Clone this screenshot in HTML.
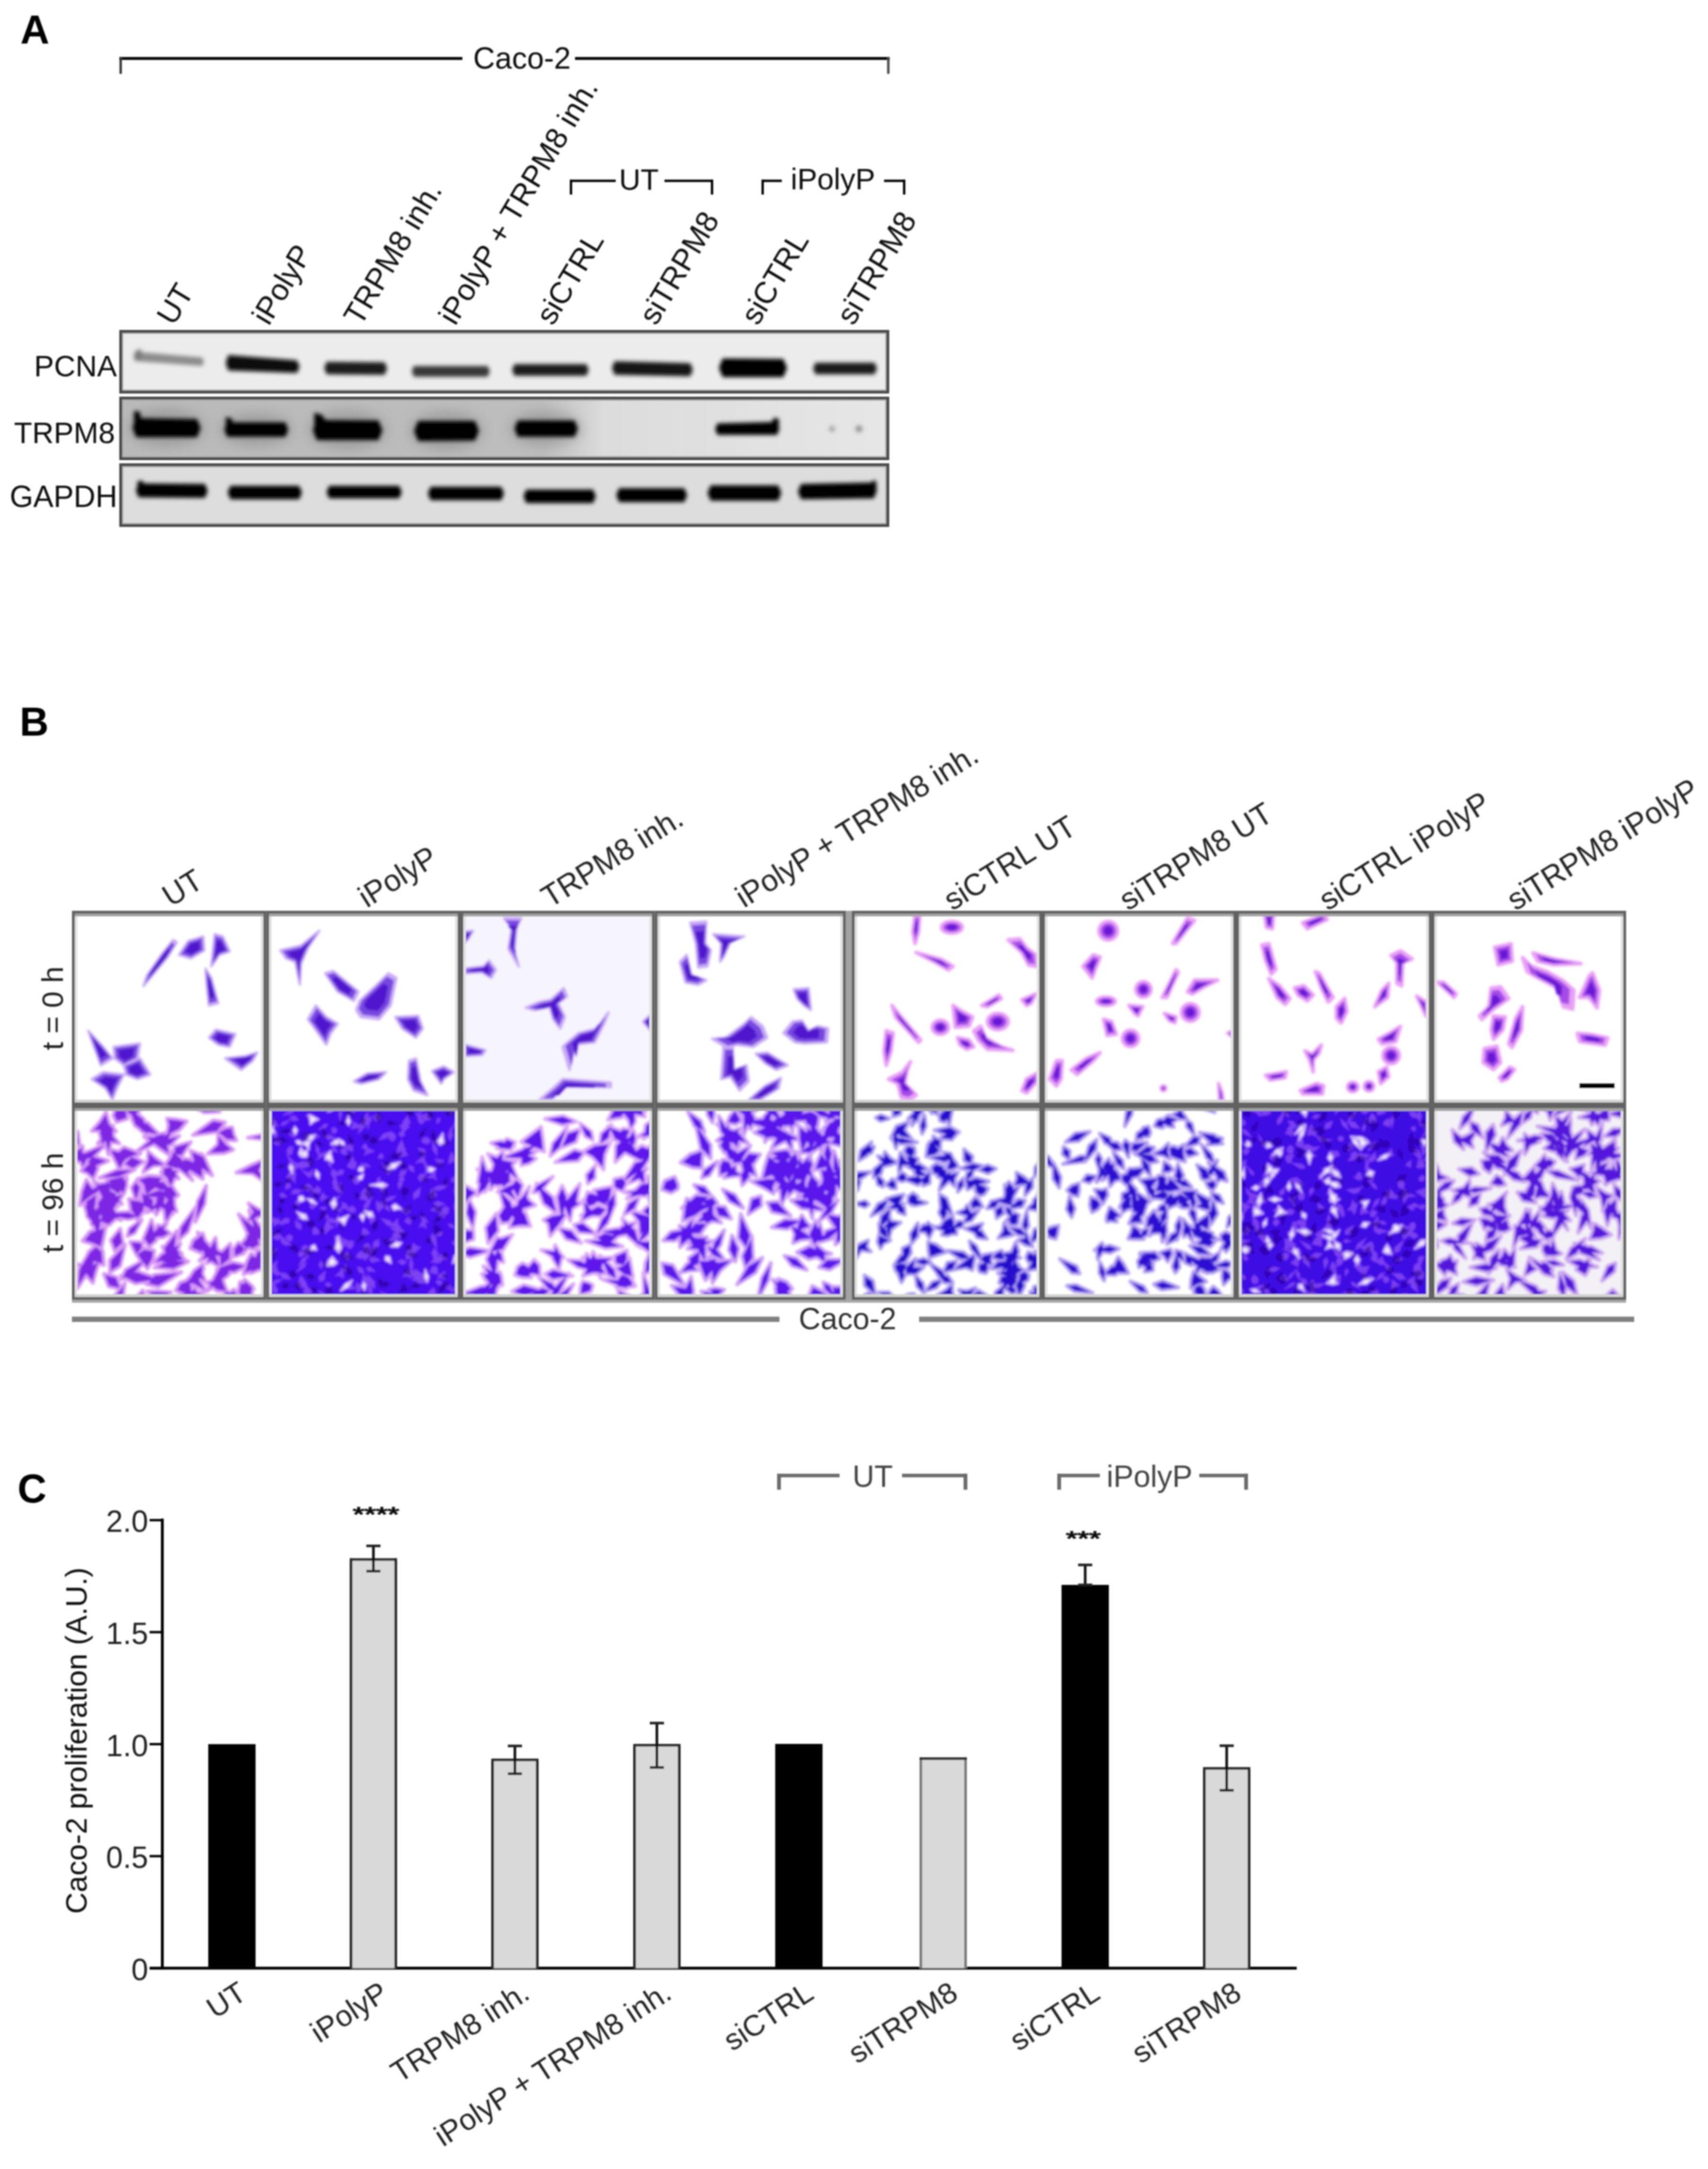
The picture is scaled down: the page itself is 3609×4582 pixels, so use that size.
<!DOCTYPE html>
<html><head><meta charset="utf-8"><title>Figure</title>
<style>html,body{margin:0;padding:0;background:#fff;} body{width:3609px;height:4582px;overflow:hidden;font-family:"Liberation Sans", sans-serif;} svg{display:block;}</style>
</head><body>
<svg width="3609" height="4582" viewBox="0 0 3609 4582" font-family='"Liberation Sans", sans-serif'>
<rect x="0" y="0" width="3609" height="4582" fill="#fff"/>
<defs><filter id="soft" x="0" y="0" width="100%" height="100%" filterUnits="userSpaceOnUse"><feGaussianBlur stdDeviation="1.6"/></filter></defs>
<g filter="url(#soft)">
<text x="43" y="92" font-size="85" text-anchor="start" font-weight="bold" fill="#000">A</text>
<line x1="252" y1="123.5" x2="977" y2="123.5" stroke="#000" stroke-width="6" stroke-linecap="butt"/>
<line x1="1215" y1="123.5" x2="1880" y2="123.5" stroke="#000" stroke-width="6" stroke-linecap="butt"/>
<line x1="255" y1="120.5" x2="255" y2="156" stroke="#333" stroke-width="5" stroke-linecap="butt"/>
<line x1="1877" y1="120.5" x2="1877" y2="156" stroke="#444" stroke-width="5" stroke-linecap="butt"/>
<text x="1103" y="145" font-size="64" text-anchor="middle" font-weight="normal" fill="#111">Caco-2</text>
<line x1="1204" y1="382" x2="1301" y2="382" stroke="#000" stroke-width="5" stroke-linecap="butt"/>
<line x1="1206.5" y1="379.5" x2="1206.5" y2="411" stroke="#000" stroke-width="5" stroke-linecap="butt"/>
<line x1="1404" y1="382" x2="1507" y2="382" stroke="#000" stroke-width="5" stroke-linecap="butt"/>
<line x1="1504.5" y1="379.5" x2="1504.5" y2="411" stroke="#000" stroke-width="5" stroke-linecap="butt"/>
<text x="1350" y="401" font-size="63" text-anchor="middle" font-weight="normal" fill="#111">UT</text>
<line x1="1609" y1="382" x2="1652" y2="382" stroke="#000" stroke-width="5" stroke-linecap="butt"/>
<line x1="1611.5" y1="379.5" x2="1611.5" y2="411" stroke="#000" stroke-width="5" stroke-linecap="butt"/>
<line x1="1868" y1="382" x2="1913" y2="382" stroke="#000" stroke-width="5" stroke-linecap="butt"/>
<line x1="1910.5" y1="379.5" x2="1910.5" y2="411" stroke="#000" stroke-width="5" stroke-linecap="butt"/>
<text x="1760" y="400" font-size="63" text-anchor="middle" font-weight="normal" fill="#111">iPolyP</text>
<text x="367" y="690" font-size="64" text-anchor="start" font-weight="normal" fill="#111" transform="rotate(-59 367 690)">UT</text>
<text x="568" y="690" font-size="64" text-anchor="start" font-weight="normal" fill="#111" transform="rotate(-59 568 690)">iPolyP</text>
<text x="762" y="691" font-size="64" text-anchor="start" font-weight="normal" fill="#111" transform="rotate(-59 762 691)">TRPM8 inh.</text>
<text x="962" y="690" font-size="64" text-anchor="start" font-weight="normal" fill="#111" transform="rotate(-59 962 690)">iPolyP + TRPM8 inh.</text>
<text x="1168" y="690" font-size="64" text-anchor="start" font-weight="normal" fill="#111" transform="rotate(-59 1168 690)">siCTRL</text>
<text x="1386" y="690" font-size="64" text-anchor="start" font-weight="normal" fill="#111" transform="rotate(-59 1386 690)">siTRPM8</text>
<text x="1601" y="690" font-size="64" text-anchor="start" font-weight="normal" fill="#111" transform="rotate(-59 1601 690)">siCTRL</text>
<text x="1803" y="690" font-size="64" text-anchor="start" font-weight="normal" fill="#111" transform="rotate(-59 1803 690)">siTRPM8</text>
<text x="247" y="795" font-size="63" text-anchor="end" font-weight="normal" fill="#111">PCNA</text>
<text x="243" y="936" font-size="63" text-anchor="end" font-weight="normal" fill="#111">TRPM8</text>
<text x="248" y="1071" font-size="64" text-anchor="end" font-weight="normal" fill="#111">GAPDH</text>
<defs><linearGradient id="trpbg" x1="0" x2="1" y1="0" y2="0"><stop offset="0" stop-color="#b9b9b9"/><stop offset="0.55" stop-color="#bdbdbd"/><stop offset="0.63" stop-color="#dcdcdc"/><stop offset="1" stop-color="#e6e6e6"/></linearGradient><filter id="bblur" x="-10%" y="-50%" width="120%" height="200%"><feGaussianBlur stdDeviation="4"/></filter><filter id="hblur" x="-20%" y="-100%" width="140%" height="300%"><feGaussianBlur stdDeviation="12"/></filter></defs>
<rect x="252" y="697" width="1627" height="134.4" fill="#ececec"/>
<rect x="252" y="837.9" width="1627" height="134.1" fill="url(#trpbg)"/>
<rect x="252" y="978.7" width="1627" height="134.5" fill="#dddddd"/>
<g filter="url(#hblur)" opacity="0.55">
<ellipse cx="352.0" cy="903.5" rx="81.0" ry="39.5" fill="#888"/>
<ellipse cx="541.5" cy="907.5" rx="76.5" ry="34.5" fill="#888"/>
<ellipse cx="734.5" cy="908.5" rx="82.5" ry="40.5" fill="#888"/>
<ellipse cx="943.5" cy="910.0" rx="77.5" ry="40.5" fill="#888"/>
<ellipse cx="1154.0" cy="905.5" rx="76.0" ry="36.5" fill="#888"/>
</g>
<g filter="url(#bblur)">
<polygon points="287.4,746 425.6,758 428,764 425.6,770 287.4,760 285,753" fill="#8c8c8c" stroke="#8c8c8c" stroke-width="6" stroke-linejoin="round"/>
<polygon points="484.2,753 625.8,764 630,774.5 625.8,785 484.2,780 480,766.5" fill="#0a0a0a" stroke="#0a0a0a" stroke-width="6" stroke-linejoin="round"/>
<polygon points="692.2,767 810.8,768 815,778.5 810.8,789 692.2,788 688,777.5" fill="#1c1c1c" stroke="#1c1c1c" stroke-width="6" stroke-linejoin="round"/>
<polygon points="876.4,776 1028.6,776 1032,784.5 1028.6,793 876.4,793 873,784.5" fill="#383838" stroke="#383838" stroke-width="6" stroke-linejoin="round"/>
<polygon points="1088.8,772 1237.2,772 1241,781.5 1237.2,791 1088.8,791 1085,781.5" fill="#1c1c1c" stroke="#1c1c1c" stroke-width="6" stroke-linejoin="round"/>
<polygon points="1300.4,766 1456.6,770 1461,781 1456.6,792 1300.4,789 1296,777.5" fill="#121212" stroke="#121212" stroke-width="6" stroke-linejoin="round"/>
<polygon points="1528.6,760 1653.4,761 1660,777.5 1653.4,794 1528.6,794 1522,777" fill="#050505" stroke="#050505" stroke-width="6" stroke-linejoin="round"/>
<polygon points="1724.8,769 1846.2,769 1850,778.5 1846.2,788 1724.8,788 1721,778.5" fill="#1c1c1c" stroke="#1c1c1c" stroke-width="6" stroke-linejoin="round"/>
<polygon points="289.6,886 414.4,888 421,904.5 414.4,921 289.6,921 283,903.5" fill="#000" stroke="#000" stroke-width="6" stroke-linejoin="round"/>
<polygon points="482,895 601,895 606,907.5 601,920 482,920 477,907.5" fill="#000" stroke="#000" stroke-width="6" stroke-linejoin="round"/>
<polygon points="671.2,890 797.8,891 805,909 797.8,927 671.2,927 664,908.5" fill="#000" stroke="#000" stroke-width="6" stroke-linejoin="round"/>
<polygon points="885.2,892 1001.8,892 1009,910 1001.8,928 885.2,929 878,910.5" fill="#000" stroke="#000" stroke-width="6" stroke-linejoin="round"/>
<polygon points="1095.8,891 1212.2,891 1218,905.5 1212.2,920 1095.8,920 1090,905.5" fill="#000" stroke="#000" stroke-width="6" stroke-linejoin="round"/>
<polygon points="1517.8,897 1640.2,894 1644,905 1640.2,916 1517.8,916 1514,906.5" fill="#000" stroke="#000" stroke-width="6" stroke-linejoin="round"/>
<polygon points="294.8,1024 431.2,1025 436,1037 431.2,1049 294.8,1048 290,1036" fill="#000" stroke="#000" stroke-width="6" stroke-linejoin="round"/>
<polygon points="488.6,1029 630.4,1029 635,1040.5 630.4,1052 488.6,1052 484,1040.5" fill="#000" stroke="#000" stroke-width="6" stroke-linejoin="round"/>
<polygon points="697.2,1029 841.8,1029 846,1039.5 841.8,1050 697.2,1050 693,1039.5" fill="#000" stroke="#000" stroke-width="6" stroke-linejoin="round"/>
<polygon points="911.6,1031 1057.4,1031 1062,1042.5 1057.4,1054 911.6,1054 907,1042.5" fill="#000" stroke="#000" stroke-width="6" stroke-linejoin="round"/>
<polygon points="1113.6,1037 1251.4,1037 1256,1048.5 1251.4,1060 1113.6,1060 1109,1048.5" fill="#000" stroke="#000" stroke-width="6" stroke-linejoin="round"/>
<polygon points="1309.8,1034 1444.2,1034 1449,1046 1444.2,1058 1309.8,1058 1305,1046" fill="#000" stroke="#000" stroke-width="6" stroke-linejoin="round"/>
<polygon points="1503.4,1028 1642.6,1028 1648,1041.5 1642.6,1055 1503.4,1055 1498,1041.5" fill="#000" stroke="#000" stroke-width="6" stroke-linejoin="round"/>
<polygon points="1694.4,1025 1844.6,1022 1850,1036 1844.6,1050 1694.4,1052 1689,1038.5" fill="#000" stroke="#000" stroke-width="6" stroke-linejoin="round"/>
<polygon points="285,742 298,737 300,760 285,760" fill="#7a7a7a"/>
<polygon points="283,868 296,870 300,905 283,905" fill="#000"/>
<polygon points="477,881 490,884 494,905 477,905" fill="#000"/>
<polygon points="664,872 680,876 700,905 664,905" fill="#000"/>
<polygon points="1626,898 1636,882 1646,885 1646,910" fill="#000"/>
<polygon points="1830,1030 1846,1014 1852,1018 1852,1040" fill="#000"/>
<polygon points="290,1017 302,1015 306,1040 290,1040" fill="#000"/>
<circle cx="1758" cy="906" r="6" fill="#9a9a9a"/><circle cx="1815" cy="906" r="7" fill="#8a8a8a"/>
</g>
<rect x="258" y="703" width="1615" height="122.4" fill="none" stroke="#a8a8a8" stroke-width="5"/>
<rect x="255" y="700" width="1621" height="128.4" fill="none" stroke="#4a4a4a" stroke-width="6"/>
<rect x="258" y="843.9" width="1615" height="122.1" fill="none" stroke="#a8a8a8" stroke-width="5"/>
<rect x="255" y="840.9" width="1621" height="128.1" fill="none" stroke="#4a4a4a" stroke-width="6"/>
<rect x="258" y="984.7" width="1615" height="122.5" fill="none" stroke="#a8a8a8" stroke-width="5"/>
<rect x="255" y="981.7" width="1621" height="128.5" fill="none" stroke="#4a4a4a" stroke-width="6"/>
<text x="41.5" y="1553.5" font-size="85" text-anchor="start" font-weight="bold" fill="#000">B</text>
<defs><filter id="cblur" x="-5%" y="-5%" width="110%" height="110%"><feGaussianBlur stdDeviation="2.2"/></filter></defs>
<clipPath id="cp0_0"><rect x="158" y="1930" width="398.5" height="399"/></clipPath>
<g clip-path="url(#cp0_0)">
<rect x="158" y="1930" width="398.5" height="399" fill="#fff"/>
<g filter="url(#cblur)">
<g fill="rgb(200,170,245)" stroke="rgb(200,170,245)" stroke-width="5" stroke-linejoin="round">
<polygon points="303.1,2082.8 310.3,2060.9 344.4,2012.3 366.2,1985.6 373.5,1990.5 354.1,2022 317.6,2065.8"/>
<polygon points="378.4,2017.2 397.8,1988 429.4,1978.3 431.8,2007.5 402.7,2024.5"/>
<polygon points="453.7,1973.4 470.7,1978.3 485.3,2009.9 463.4,2017.2 446.4,2041.5"/>
<polygon points="434.3,2046.3 446.4,2065.8 461,2119.2 441.5,2124.1 436.7,2080.3"/>
<polygon points="186.4,2177.5 218,2211.5 237.5,2235.8 213.2,2250.4 198.6,2211.5"/>
<polygon points="239.9,2211.5 295.8,2204.3 290.9,2235.8 261.8,2250.4 242.3,2235.8"/>
<polygon points="261.8,2250.4 295.8,2235.8 317.6,2269.9 290.9,2279.6 266.6,2269.9"/>
<polygon points="193.7,2279.6 218,2265 261.8,2269.9 247.2,2299 237.5,2323.3 222.9,2299"/>
<polygon points="441.5,2192.1 456.1,2175.1 497.4,2184.8 485.3,2211.5 461,2206.7"/>
<polygon points="475.6,2235.8 519.3,2231 543.6,2223.7 533.9,2240.7 509.6,2260.1"/>
</g>
<g fill="rgb(120,70,225)">
<polygon points="307.3,2076.6 313.7,2057.4 343.7,2014.6 362.9,1991.1 369.3,1995.4 352.2,2023.2 320.1,2061.6"/>
<polygon points="381.9,2015.5 399,1989.8 426.8,1981.3 429,2006.9 403.3,2021.9"/>
<polygon points="454.9,1977.1 469.9,1981.4 482.7,2009.2 463.5,2015.6 448.5,2037"/>
<polygon points="435.4,2051.2 446.1,2068.3 458.9,2115.4 441.8,2119.7 437.6,2081.2"/>
<polygon points="189.4,2182.3 217.2,2212.2 234.3,2233.6 212.9,2246.5 200,2212.2"/>
<polygon points="243,2213.5 292.2,2207.1 287.9,2234.8 262.3,2247.7 245.2,2234.8"/>
<polygon points="264.7,2251.7 294.7,2238.9 313.9,2268.8 290.4,2277.4 269,2268.8"/>
<polygon points="198.1,2280.7 219.5,2267.9 258,2272.2 245.1,2297.8 236.6,2319.2 223.8,2297.8"/>
<polygon points="444.8,2192.3 457.6,2177.4 493.9,2185.9 483.2,2209.4 461.9,2205.2"/>
<polygon points="480.5,2236.1 518.9,2231.9 540.3,2225.4 531.8,2240.4 510.4,2257.5"/>
</g>
<g fill="rgb(80,20,205)">
<polygon points="317.2,2062.2 321.6,2049.1 342,2020 355.1,2003.9 359.5,2006.8 347.8,2025.8 326,2052"/>
<polygon points="390.2,2011.5 401.9,1994.1 420.8,1988.2 422.3,2005.7 404.8,2015.9"/>
<polygon points="457.8,1985.7 468,1988.6 476.7,2007.6 463.6,2011.9 453.4,2026.5"/>
<polygon points="438.1,2062.7 445.4,2074.3 454.2,2106.4 442.5,2109.3 439.6,2083.1"/>
<polygon points="196.2,2193.5 215.1,2213.9 226.8,2228.5 212.2,2237.2 203.4,2213.9"/>
<polygon points="250.4,2218 283.9,2213.6 281,2232.5 263.5,2241.3 251.8,2232.5"/>
<polygon points="271.7,2254.7 292.1,2245.9 305.2,2266.4 289.2,2272.2 274.6,2266.4"/>
<polygon points="208.3,2283.5 222.9,2274.7 249.1,2277.6 240.4,2295.1 234.5,2309.7 225.8,2295.1"/>
<polygon points="452.2,2192.9 461,2182.7 485.8,2188.5 478.5,2204.5 463.9,2201.6"/>
<polygon points="491.9,2236.8 518.1,2233.9 532.7,2229.5 526.9,2239.7 512.3,2251.4"/>
</g></g>
</g>
<clipPath id="cp96_0"><rect x="158" y="2341" width="398.5" height="399"/></clipPath>
<g clip-path="url(#cp96_0)">
<rect x="158" y="2341" width="398.5" height="399" fill="#fff"/>
<g filter="url(#cblur)">
<g fill="rgb(210,140,242)" stroke="rgb(210,140,242)" stroke-width="8" stroke-linejoin="round" opacity="0.9">
<polygon points="217.6,2424.3 210,2391.7 219.7,2365.4 227.6,2392.3"/>
<polygon points="229,2439.2 219.7,2400.2 228,2364.8 237.2,2400"/>
<polygon points="285.7,2361.4 269.7,2352.7 263.1,2332.5 280.1,2326.4 288,2331.5 296,2343.3"/>
<polygon points="245.4,2390.2 220.6,2389.1 193.8,2389.1 210.4,2370.7 224.1,2349.6 230.6,2373.4"/>
<polygon points="246.3,2370.1 239,2356.7 244.4,2342.3 261.3,2343.7 268.8,2346.5 268.6,2363.5"/>
<polygon points="314.8,2399.6 284.8,2377.6 270,2336.5 303.9,2364"/>
<polygon points="341.9,2420.5 352.3,2405.9 378.9,2399.5 359.8,2419.1"/>
<polygon points="338.3,2398.8 301.4,2391.3 279.2,2366.6 312,2371.9"/>
<polygon points="358.1,2440.2 335.6,2425.1 304.3,2401.2 339.2,2401 364.1,2388.7 354.5,2416.4"/>
<polygon points="352.1,2400 356.2,2375.9 352.9,2363 372.3,2364.6 394.5,2368.9 379.8,2386.5"/>
<polygon points="464.1,2348.6 431.4,2349.9 407.6,2336.6 434.7,2334.1"/>
<polygon points="499.3,2409.2 479.3,2408.2 458.1,2391.7 476.3,2383.3 490.5,2381.5 493.7,2396.5"/>
<polygon points="407.8,2397.8 451,2366.8 475.6,2371 460.5,2390.9"/>
<polygon points="169.4,2453.3 183.3,2434 224.4,2416.8 192.7,2448"/>
<polygon points="144.8,2439.7 160.2,2432.7 174.7,2421 174.6,2441.7 179,2457.8 161.2,2452.5"/>
<polygon points="183.1,2454.9 194.6,2441.9 229,2452.4 195.9,2466.6"/>
<polygon points="168.2,2419.9 142,2406.6 141.5,2382.4 164.2,2390.8"/>
<polygon points="175.3,2468.4 168.5,2448.8 155.6,2426.4 178.2,2435.9 197.2,2429.5 184.6,2448.3"/>
<polygon points="197.6,2490.3 183.8,2477.6 171.4,2473.5 185.2,2459.2 200.7,2452.3 206.9,2467.3"/>
<polygon points="252.9,2471.5 243,2451.3 230.4,2427.7 255.4,2433.3 278.9,2438.7 262.6,2454.2"/>
<polygon points="261.5,2458.5 277.6,2442.8 303.1,2453.9 280.6,2470.3"/>
<polygon points="252,2415.9 229.9,2410.9 206.3,2415.1 222.7,2397.4 239,2378.1 239.1,2400.5"/>
<polygon points="244.3,2437.7 261.5,2423.5 296.8,2437 261.8,2451.4"/>
<polygon points="349.7,2461.3 324.3,2462.6 302.3,2476.3 312.6,2451.5 312.9,2432.2 327.7,2445.6"/>
<polygon points="285.2,2435.6 329.7,2398.3 353.3,2392 337.7,2410.8"/>
<polygon points="398.1,2465.8 373.7,2470.9 347.9,2462.2 360.1,2444.7 365.3,2430.8 382.5,2444.8"/>
<polygon points="406.8,2493.4 371.9,2463.2 363.2,2442 382.7,2454"/>
<polygon points="383.5,2461.3 409.4,2451.7 425.5,2437.2 429.6,2462.7 428.4,2490.7 407.3,2477.5"/>
<polygon points="366.6,2439.3 368.5,2422.1 403.1,2412.5 383.5,2442.7"/>
<polygon points="397.9,2479.7 383.9,2469.5 377.5,2458 389.6,2447.5 405.9,2450.5 408.2,2464.9"/>
<polygon points="448.4,2483 409.7,2459.5 402.7,2430.8 430.2,2441.6"/>
<polygon points="439.2,2437.1 460.3,2417.7 460.9,2396.1 477.6,2416.5 492.6,2428.7 473.7,2436"/>
<polygon points="523.8,2403.3 577.7,2392.9 596.9,2400.2 578.4,2409.1"/>
<polygon points="563.7,2500.2 534.2,2479.1 499.5,2477.1 530.8,2461.5 559.3,2449.4 547.7,2472.4"/>
<polygon points="249,2549.3 217.3,2534.9 198,2495 236.7,2516.7"/>
<polygon points="204.6,2507.3 218.7,2501.4 231.1,2492.6 232.7,2512.4 233.1,2525.5 217.7,2524.5"/>
<polygon points="212.6,2515.6 192.4,2527.8 168.5,2546.2 172.9,2517.3 182.6,2492.2 195.5,2510"/>
<polygon points="257.6,2543.9 232.2,2536.8 204.2,2500.9 245.2,2520.6"/>
<polygon points="261.3,2523 252.1,2513 233.4,2510.1 253.7,2500.8 268,2487 267,2506.9"/>
<polygon points="287.7,2537.3 278.2,2508.6 287.4,2495.7 296.8,2508.4"/>
<polygon points="209.7,2488.3 247.1,2471.6 284.6,2471.1 250.7,2487"/>
<polygon points="223,2515.9 248,2496.8 267.2,2496.1 253.9,2510"/>
<polygon points="204.9,2571.9 223.7,2537.8 263.9,2517.5 240.3,2555.9"/>
<polygon points="190,2514.6 211,2500.8 265,2496.1 215,2517.1"/>
<polygon points="251,2525.8 234.1,2514.2 227,2490.8 247.5,2486.6 263.3,2483.4 263.4,2506.1"/>
<polygon points="377.7,2489.8 346.4,2486 343.4,2467.3 361.7,2462.6"/>
<polygon points="325.3,2559.6 301.5,2547.9 298.2,2517.1 324.7,2533.1"/>
<polygon points="310.3,2561.5 330.8,2537.4 352.5,2511.4 347.6,2540.3 364.9,2564.9 336.9,2549.7"/>
<polygon points="295.9,2527.7 334.4,2513.5 362.8,2518.5 336.8,2531"/>
<polygon points="350.5,2535.1 345,2518.9 345.7,2507.6 362.6,2504.1 377,2525.2 363,2534.4"/>
<polygon points="330,2566.5 329,2532.7 343.8,2514.5 347.6,2537.7"/>
<polygon points="361.3,2511.5 341.3,2517 293.7,2492.3 347.2,2496.4"/>
<polygon points="308.1,2527.9 302.4,2502.3 290,2490.7 314.9,2483.5 346,2486.3 332.1,2508.7"/>
<polygon points="412.9,2581.5 417.9,2538 435.7,2504.6 432.5,2542.3"/>
<polygon points="360.3,2509.5 352,2487.6 339.8,2475.7 358.9,2472.6 375.8,2471.3 370.5,2486.6"/>
<polygon points="210.7,2569.6 183.3,2563 178,2544.3 197.5,2544.7"/>
<polygon points="174.4,2621.3 190.3,2601.3 223.5,2591.3 218.7,2616.9 214.3,2636.1 193.3,2626.8"/>
<polygon points="183.5,2556.9 180.4,2537.4 204.6,2521.6 202.1,2550.4"/>
<polygon points="205.8,2625 197.2,2577.3 204.4,2544.7 212.7,2577"/>
<polygon points="233.3,2572.2 217.2,2563.7 209.3,2535.7 231.8,2554.1"/>
<polygon points="197.1,2586.4 203.5,2554.6 225.1,2529.3 218.4,2561.9"/>
<polygon points="205.7,2579.1 225.2,2561.9 248.2,2571.6 229.8,2588.6"/>
<polygon points="212.2,2576.1 213.1,2552 239.1,2532.1 233.3,2564.4"/>
<polygon points="202.2,2590.4 183.7,2569.2 182.2,2544.4 199.3,2562.4"/>
<polygon points="211.1,2601.2 193.2,2586.6 190.5,2548 214.5,2578.4"/>
<polygon points="238.7,2557.8 217.1,2556.9 206.9,2557.5 204.8,2540.7 221.2,2519.5 231.7,2537.1"/>
<polygon points="295.8,2569.5 271.6,2575.6 211.1,2564.1 272.6,2560.3"/>
<polygon points="255.9,2577.5 218.9,2566.1 211.3,2542.9 235.7,2544.5"/>
<polygon points="290.5,2577.1 276.6,2558.9 272.3,2532.8 294.5,2535.5 307.8,2541 304.1,2559"/>
<polygon points="269.1,2611.2 273.8,2595.3 299.4,2577 284.3,2604.7"/>
<polygon points="345.6,2557 352.4,2544.7 361.5,2535.5 368.7,2546 373.2,2559 359.4,2559.3"/>
<polygon points="350,2584.7 345.7,2547.4 366.4,2509.8 369.5,2552.6"/>
<polygon points="378.4,2618.4 381.2,2593.5 413.7,2550.2 397.1,2601.7"/>
<polygon points="550.1,2622.5 527.6,2615.3 504.2,2564.9 548.1,2599"/>
<polygon points="559.7,2631.5 538.5,2605.8 526.4,2556.7 554.8,2598.6"/>
<polygon points="520.8,2583.2 535.2,2560.3 525.3,2542.1 546.1,2554.9 570.8,2561.8 547.8,2570.1"/>
<polygon points="175.6,2673.4 180.4,2662.6 200.8,2655.3 198.5,2672.4 196.5,2680.8 184.2,2680.5"/>
<polygon points="219.5,2672.5 196,2664.9 181.8,2670.1 186.6,2645.4 203.3,2630.4 217.1,2642.2"/>
<polygon points="242.4,2641.8 234.1,2619.9 253.9,2595.7 260,2626.4"/>
<polygon points="232.3,2687.5 232,2662.4 264.4,2629.9 253.8,2674.6"/>
<polygon points="317.4,2621.6 325.7,2600 352.9,2583.1 338.3,2611.5"/>
<polygon points="288.8,2651.1 281.6,2637.9 275.1,2623.6 291.7,2623.8 300.4,2625.7 300.8,2637.2"/>
<polygon points="325.5,2667.3 340.4,2650.7 363.7,2636.7 358,2657.5 360.7,2675 344,2664.7"/>
<polygon points="350,2660.8 345.6,2636.8 373.5,2600.4 369.4,2646.1"/>
<polygon points="359.1,2605.4 345.1,2613.8 327.1,2614.9 330.2,2600.2 333.7,2587.5 347,2595.5"/>
<polygon points="336.6,2677.4 360.2,2638.1 381.1,2626.7 372.5,2648.9"/>
<polygon points="348.7,2668.4 349.1,2648.9 359.3,2619.9 374.4,2643 391.9,2662.5 365.3,2665.4"/>
<polygon points="311.5,2680.3 296,2661.8 287.8,2648.2 304.2,2637.4 325.8,2641.7 323.7,2659.8"/>
<polygon points="384.4,2648.5 363.9,2648.9 342.9,2633.6 368.8,2635.1"/>
<polygon points="315.2,2633.9 302.7,2617.6 320.4,2577 330.5,2620.1"/>
<polygon points="486.9,2655.7 451.6,2653.3 421.3,2663.5 440.6,2639.5 455.3,2614.6 458.9,2640.4"/>
<polygon points="437.6,2668.6 440.5,2653.7 442.5,2633.3 455.4,2648.9 465.7,2676.9 445.9,2663.8"/>
<polygon points="443,2636.6 424.4,2646.6 401.8,2637 407.8,2620.4 428.4,2605.3 435.6,2627.9"/>
<polygon points="464.8,2677.6 463,2649.6 486.7,2627.4 486.5,2659.9"/>
<polygon points="453.2,2670.2 430.8,2652.9 418,2603.2 451.7,2641.9"/>
<polygon points="518.5,2638.2 511.5,2648.6 494.6,2654.6 493.9,2638.4 503.7,2625.1 514.2,2632.7"/>
<polygon points="531.2,2678.4 543.4,2642.8 562.4,2640 563.5,2659.2"/>
<polygon points="530.1,2689.5 528.8,2673.9 539.7,2651.3 548.5,2668.9 560.3,2678.1 542.7,2684"/>
<polygon points="514.3,2691.7 521.4,2665.8 530.2,2648.2 546.8,2658.8 564.7,2664 546.1,2681.1"/>
<polygon points="549.9,2630.1 535.7,2639 506.6,2631.7 521.9,2613.2 533.6,2598.5 546.6,2616.3"/>
<polygon points="514.9,2648.2 521.8,2609.1 535,2598.5 537.1,2615.3"/>
<polygon points="196.2,2710.2 183.4,2695.2 164.3,2670.6 191.6,2677.7 211.1,2660.6 201.4,2689.2"/>
<polygon points="163.4,2721.6 166.6,2683.2 190.2,2642.3 184.2,2689.2"/>
<polygon points="254.8,2722.6 229.6,2717.3 219.5,2691.2 246.6,2698.2"/>
<polygon points="235.1,2777.6 238.2,2742.7 263.8,2710.6 258.2,2751.2"/>
<polygon points="339.2,2702.8 285.9,2711.1 255.2,2695.3 288.2,2685.3"/>
<polygon points="256.2,2702.1 265.4,2682.5 309.2,2659.9 277.4,2697.5"/>
<polygon points="326.4,2677.8 363.6,2660.4 397.9,2664.6 367.4,2680.8"/>
<polygon points="307.5,2762.7 292.3,2755.1 277.8,2753.2 289.3,2739.9 301.4,2725.9 306.4,2743.3"/>
<polygon points="309,2712.7 325.3,2693.2 383.4,2687.3 333.9,2718.3"/>
<polygon points="345.4,2766 330.9,2744 311.4,2728 335.9,2727.8 361.4,2729.8 344.7,2743.7"/>
<polygon points="370.1,2743.8 396.8,2726.3 429.5,2731.9 401.5,2749.8"/>
<polygon points="392.7,2732.4 405.4,2726.1 412.2,2721.4 418.1,2732.7 416.8,2746.2 404.8,2744.4"/>
<polygon points="371.5,2726.4 380.1,2709.9 401.9,2702.9 405,2719.7 406,2738.2 385.7,2731.3"/>
<polygon points="436.1,2728.1 408.3,2712.5 388.5,2710.5 403.2,2695.8 430.6,2679.1 421.3,2704.3"/>
<polygon points="457.6,2682 492.4,2667 522.1,2673.6 495,2687.6"/>
<polygon points="436.9,2728.3 464.6,2675.1 489.2,2666.4 484.7,2692.1"/>
<polygon points="436.2,2710 456.5,2702.5 464.3,2683.9 472.5,2709.5 480,2729.2 459.1,2727.2"/>
<polygon points="401.3,2698.2 410.5,2683.9 429.3,2670.4 426.6,2688.5 434.2,2707.2 415.1,2696.1"/>
<polygon points="474.2,2754.4 477.4,2736.6 494.5,2724 504.5,2738.1 501.3,2756.8 485,2756.2"/>
<polygon points="510.4,2751.4 503.6,2728.4 507.4,2707.8 522.8,2713.4 536.3,2723.1 522.8,2735"/>
<polygon points="530.2,2749.9 510.3,2725.3 516.7,2703 534,2718.5"/>
<polygon points="513.7,2757.4 485.6,2748.5 470.3,2725.3 497,2733.2"/>
</g>
<g fill="rgb(125,40,228)">
<polygon points="217.8,2419.7 211.3,2392 219.6,2369.6 226.2,2392.5"/>
<polygon points="228.9,2433.4 221,2400.3 228,2370.2 235.9,2400.1"/>
<polygon points="284.9,2358.4 271.3,2351 265.7,2333.8 280.2,2328.7 286.8,2333 293.7,2343"/>
<polygon points="241.7,2388.2 220.6,2387.3 197.8,2387.3 212,2371.7 223.6,2353.7 229.1,2373.9"/>
<polygon points="247.6,2367.7 241.4,2356.3 246,2344 260.3,2345.2 266.7,2347.6 266.6,2362"/>
<polygon points="311.6,2395 286.1,2376.3 273.5,2341.4 302.3,2364.8"/>
<polygon points="344.3,2419.1 353.2,2406.7 375.8,2401.2 359.5,2417.9"/>
<polygon points="333.7,2396.3 302.4,2389.9 283.5,2369 311.3,2373.4"/>
<polygon points="355.8,2436 336.7,2423.2 310,2402.8 339.7,2402.7 360.9,2392.2 352.7,2415.7"/>
<polygon points="354.5,2396.5 358,2376 355.1,2365 371.6,2366.4 390.5,2370.1 378,2385"/>
<polygon points="459.7,2347.6 431.8,2348.8 411.6,2337.4 434.7,2335.3"/>
<polygon points="496.8,2407.1 479.8,2406.3 461.8,2392.2 477.3,2385.1 489.4,2383.6 492.1,2396.3"/>
<polygon points="413.9,2395.4 450.6,2369 471.6,2372.6 458.7,2389.5"/>
<polygon points="172.9,2451 184.7,2434.6 219.6,2420 192.6,2446.5"/>
<polygon points="147.9,2439.9 161,2433.9 173.3,2424 173.3,2441.6 177,2455.3 161.9,2450.8"/>
<polygon points="185.7,2454.8 195.5,2443.7 224.7,2452.6 196.6,2464.7"/>
<polygon points="166.1,2416.9 143.8,2405.6 143.4,2385.1 162.6,2392.1"/>
<polygon points="175.5,2464.6 169.7,2447.9 158.8,2428.9 177.9,2436.9 194.1,2431.5 183.4,2447.5"/>
<polygon points="196.6,2487.3 184.9,2476.4 174.4,2473 186.1,2460.8 199.2,2455 204.5,2467.7"/>
<polygon points="253.1,2467.7 244.6,2450.5 234,2430.4 255.2,2435.2 275.1,2439.8 261.3,2453"/>
<polygon points="264.4,2458.2 278,2444.8 299.8,2454.2 280.6,2468.2"/>
<polygon points="249,2414 230.2,2409.7 210.1,2413.3 224.1,2398.2 237.9,2381.8 238,2400.9"/>
<polygon points="247.6,2437.7 262.1,2425.6 292.2,2437.1 262.5,2449.3"/>
<polygon points="345.5,2460.4 323.9,2461.5 305.2,2473.1 313.9,2452 314.2,2435.6 326.8,2447"/>
<polygon points="291.4,2431.6 329.3,2399.9 349.3,2394.6 336,2410.5"/>
<polygon points="394.1,2463.9 373.4,2468.2 351.4,2460.8 361.8,2446 366.2,2434.2 380.8,2446.1"/>
<polygon points="403,2488.8 373.3,2463.2 365.9,2445.2 382.5,2455.4"/>
<polygon points="388.1,2461.7 410.1,2453.5 423.7,2441.2 427.2,2462.8 426.2,2486.6 408.3,2475.4"/>
<polygon points="368.7,2437.8 370.3,2423.2 399.7,2415 383.1,2440.6"/>
<polygon points="397.3,2477 385.4,2468.3 380,2458.5 390.3,2449.6 404.1,2452.2 406,2464.4"/>
<polygon points="444.5,2478.6 411.7,2458.6 405.7,2434.3 429.1,2443.4"/>
<polygon points="443.4,2434.8 461.4,2418.4 461.9,2400 476,2417.3 488.8,2427.7 472.8,2433.9"/>
<polygon points="530.6,2403.1 576.4,2394.2 592.7,2400.4 577,2408"/>
<polygon points="560,2496.1 534.9,2478.2 505.4,2476.5 532.1,2463.2 556.2,2453 546.4,2472.5"/>
<polygon points="245.5,2545.5 218.5,2533.3 202.1,2499.3 235,2517.8"/>
<polygon points="207.3,2507.8 219.4,2502.8 229.9,2495.3 231.2,2512.1 231.6,2523.3 218.5,2522.4"/>
<polygon points="208.8,2516 191.7,2526.4 171.3,2542 175.1,2517.5 183.3,2496.1 194.3,2511.2"/>
<polygon points="254.2,2541.2 232.6,2535.1 208.8,2504.6 243.7,2521.4"/>
<polygon points="260.5,2520.6 252.7,2512.1 236.8,2509.6 254.1,2501.7 266.2,2490 265.3,2506.8"/>
<polygon points="287.6,2533.6 279.6,2509.2 287.4,2498.2 295.4,2509.1"/>
<polygon points="215.5,2487 247.3,2472.8 279.1,2472.3 250.3,2485.9"/>
<polygon points="226.8,2514.2 248,2498 264.3,2497.4 253,2509.2"/>
<polygon points="209.2,2567.9 225.1,2539 259.3,2521.7 239.3,2554.4"/>
<polygon points="194.6,2513.5 212.4,2501.7 258.3,2497.8 215.8,2515.6"/>
<polygon points="250.5,2522.1 236.2,2512.3 230.1,2492.4 247.5,2488.8 260.9,2486.1 261.1,2505.4"/>
<polygon points="374.7,2487.8 348,2484.6 345.5,2468.7 361,2464.7"/>
<polygon points="323.4,2556.6 303.2,2546.6 300.3,2520.4 322.8,2534.1"/>
<polygon points="314.8,2558.9 332.2,2538.4 350.7,2516.3 346.5,2540.8 361.2,2561.8 337.4,2548.9"/>
<polygon points="301.4,2526.9 334.1,2514.9 358.2,2519.1 336.1,2529.7"/>
<polygon points="351.5,2533 346.8,2519.2 347.4,2509.6 361.8,2506.6 374,2524.6 362.2,2532.3"/>
<polygon points="331.1,2562.2 330.3,2533.5 342.8,2518 346.1,2537.7"/>
<polygon points="357.5,2510.5 340.5,2515.1 300,2494.1 345.5,2497.6"/>
<polygon points="309.2,2523.7 304.4,2501.9 293.8,2492.1 315,2486 341.4,2488.3 329.7,2507.4"/>
<polygon points="414.7,2575.5 418.9,2538.5 434.1,2510.2 431.3,2542.2"/>
<polygon points="360.2,2505.6 353.1,2487 342.8,2476.9 359,2474.3 373.4,2473.2 368.8,2486.2"/>
<polygon points="207.9,2567.5 184.6,2561.9 180.1,2545.9 196.7,2546.3"/>
<polygon points="178.6,2620.5 192.1,2603.5 220.3,2594.9 216.3,2616.7 212.5,2633.1 194.7,2625.1"/>
<polygon points="184.8,2554.6 182.2,2538 202.8,2524.6 200.7,2549.1"/>
<polygon points="205.7,2618.4 198.3,2577.9 204.5,2550.1 211.6,2577.6"/>
<polygon points="231.7,2569.8 218.1,2562.6 211.3,2538.8 230.4,2554.4"/>
<polygon points="199.2,2582.1 204.6,2555.1 223,2533.6 217.3,2561.3"/>
<polygon points="209,2578.5 225.5,2563.9 245,2572.2 229.4,2586.6"/>
<polygon points="214.1,2573.1 214.8,2552.6 236.9,2535.7 232,2563.1"/>
<polygon points="200.6,2586.8 184.9,2568.8 183.7,2547.7 198.2,2563.1"/>
<polygon points="209.8,2597.8 194.6,2585.4 192.2,2552.6 212.6,2578.4"/>
<polygon points="235.9,2555.8 217.5,2555.1 208.9,2555.6 207.1,2541.3 221,2523.3 229.9,2538.2"/>
<polygon points="290.8,2569.2 270.3,2574.4 218.9,2564.6 271.1,2561.4"/>
<polygon points="252.1,2574.6 220.6,2564.9 214.2,2545.1 234.9,2546.5"/>
<polygon points="290.6,2573.2 278.7,2557.7 275.1,2535.5 294,2537.8 305.3,2542.4 302.2,2557.7"/>
<polygon points="271,2609.1 275,2595.6 296.7,2580 283.9,2603.5"/>
<polygon points="347.8,2556 353.5,2545.5 361.3,2537.7 367.4,2546.7 371.2,2557.7 359.5,2558"/>
<polygon points="351.2,2579.3 347.5,2547.6 365.1,2515.6 367.7,2552"/>
<polygon points="380.6,2614.3 382.9,2593.1 410.5,2556.3 396.4,2600.1"/>
<polygon points="547.5,2619.2 528.4,2613.1 508.5,2570.3 545.7,2599.2"/>
<polygon points="557.4,2626.5 539.4,2604.7 529.1,2562.9 553.3,2598.5"/>
<polygon points="523.8,2580 536,2560.6 527.7,2545.1 545.3,2556 566.4,2561.9 546.8,2568.9"/>
<polygon points="177.7,2673 181.8,2663.9 199.1,2657.6 197.1,2672.1 195.4,2679.3 184.9,2679.1"/>
<polygon points="216.7,2669.7 196.7,2663.3 184.7,2667.7 188.7,2646.7 202.9,2634 214.6,2644"/>
<polygon points="243.2,2638.7 236.1,2620.1 253,2599.5 258.2,2625.6"/>
<polygon points="234.3,2684 234.1,2662.6 261.6,2635 252.6,2672.9"/>
<polygon points="319.9,2619 326.9,2600.6 350,2586.2 337.6,2610.4"/>
<polygon points="288.9,2648.4 282.9,2637.2 277.3,2625.1 291.4,2625.2 298.8,2626.8 299.2,2636.6"/>
<polygon points="329,2666 341.6,2651.9 361.4,2640 356.6,2657.6 358.9,2672.5 344.7,2663.8"/>
<polygon points="351.4,2657 347.7,2636.7 371.5,2605.7 367.9,2644.6"/>
<polygon points="356.3,2605 344.4,2612.1 329.1,2613.1 331.7,2600.6 334.7,2589.8 346,2596.6"/>
<polygon points="340.5,2673 360.5,2639.6 378.3,2629.9 371,2648.8"/>
<polygon points="351.1,2665.9 351.5,2649.3 360.1,2624.6 373,2644.2 387.8,2660.9 365.2,2663.3"/>
<polygon points="311,2676.5 297.9,2660.7 290.8,2649.2 304.8,2640 323.2,2643.7 321.3,2659.1"/>
<polygon points="381.5,2647.4 364,2647.8 346.3,2634.8 368.2,2636"/>
<polygon points="315.5,2630.6 304.9,2616.7 320,2582.2 328.5,2618.9"/>
<polygon points="481.7,2654 451.8,2652 426,2660.7 442.4,2640.2 454.9,2619 458,2641"/>
<polygon points="439.1,2667 441.6,2654.3 443.3,2636.9 454.3,2650.2 463.1,2674 446.2,2662.9"/>
<polygon points="440.1,2635.5 424.3,2643.9 405.1,2635.8 410.2,2621.7 427.7,2608.9 433.8,2628.1"/>
<polygon points="466.4,2674 464.9,2650.2 485,2631.3 484.8,2658.9"/>
<polygon points="451,2666 432,2651.3 421.1,2609 449.7,2642"/>
<polygon points="516.6,2638.4 510.7,2647.2 496.3,2652.4 495.7,2638.6 504,2627.3 513,2633.7"/>
<polygon points="534,2674.9 544.4,2644.7 560.6,2642.2 561.5,2658.5"/>
<polygon points="531.8,2687.2 530.7,2673.9 540,2654.8 547.4,2669.7 557.5,2677.6 542.5,2682.5"/>
<polygon points="517.8,2688.2 523.8,2666.1 531.3,2651.2 545.4,2660.2 560.6,2664.6 544.8,2679.1"/>
<polygon points="547.3,2628.8 535.2,2636.4 510.5,2630.2 523.5,2614.4 533.4,2601.9 544.5,2617.1"/>
<polygon points="516.7,2643.6 522.6,2610.4 533.8,2601.4 535.6,2615.7"/>
<polygon points="195.5,2706.3 184.6,2693.5 168.4,2672.6 191.6,2678.6 208.1,2664.1 199.9,2688.4"/>
<polygon points="165.3,2716 168,2683.3 188.1,2648.5 183,2688.4"/>
<polygon points="252.3,2720.3 230.8,2715.8 222.2,2693.6 245.2,2699.6"/>
<polygon points="237.1,2772.8 239.8,2743.1 261.6,2715.8 256.8,2750.4"/>
<polygon points="332.1,2702.2 286.8,2709.2 260.8,2695.8 288.8,2687.3"/>
<polygon points="259.4,2699.6 267.2,2683 304.3,2663.8 277.3,2695.7"/>
<polygon points="332.1,2676.8 363.6,2661.9 392.8,2665.5 366.9,2679.3"/>
<polygon points="305.7,2760.3 292.9,2753.8 280.5,2752.2 290.2,2740.9 300.6,2729.1 304.8,2743.8"/>
<polygon points="313.4,2711.3 327.2,2694.6 376.6,2689.7 334.5,2716"/>
<polygon points="344.3,2762.1 332,2743.4 315.5,2729.8 336.2,2729.6 357.9,2731.3 343.8,2743.1"/>
<polygon points="374.5,2743 397.2,2728 425,2732.8 401.2,2748"/>
<polygon points="395.1,2732.6 405.8,2727.2 411.6,2723.2 416.6,2732.9 415.6,2744.4 405.3,2742.8"/>
<polygon points="374.6,2725.6 381.8,2711.6 400.4,2705.7 403,2719.9 403.9,2735.7 386.6,2729.9"/>
<polygon points="432.9,2724.7 409.3,2711.4 392.5,2709.7 404.9,2697.2 428.3,2683 420.3,2704.4"/>
<polygon points="462.7,2681.3 492.3,2668.6 517.5,2674.2 494.5,2686.1"/>
<polygon points="441.7,2722.6 465.3,2677.4 486.2,2670 482.3,2691.9"/>
<polygon points="440,2710.1 457.2,2703.7 463.9,2687.8 470.8,2709.6 477.2,2726.4 459.5,2724.7"/>
<polygon points="404,2697.1 411.9,2684.9 427.9,2673.5 425.5,2688.8 432,2704.7 415.8,2695.3"/>
<polygon points="476.5,2752.9 479.2,2737.8 493.7,2727.1 502.2,2739 499.5,2754.9 485.7,2754.4"/>
<polygon points="511.4,2747.7 505.6,2728.1 508.9,2710.6 522,2715.4 533.4,2723.6 522,2733.7"/>
<polygon points="529.1,2746 512.1,2725.2 517.6,2706.2 532.3,2719.3"/>
<polygon points="510.4,2755 486.5,2747.4 473.5,2727.7 496.2,2734.4"/>
</g></g>
</g>
<clipPath id="cp0_1"><rect x="568.5" y="1930" width="398.5" height="399"/></clipPath>
<g clip-path="url(#cp0_1)">
<rect x="568.5" y="1930" width="398.5" height="399" fill="#fff"/>
<g filter="url(#cblur)">
<g fill="rgb(200,170,245)" stroke="rgb(200,170,245)" stroke-width="5" stroke-linejoin="round">
<polygon points="592.2,2007.5 635.9,1997.7 674.8,1966.2 650.5,2002.6 635.9,2036.6 633.5,2080.3 623.8,2031.8 604.3,2024.5"/>
<polygon points="686.9,2056.1 703.9,2051.2 757.4,2094.9 747.7,2114.4 713.7,2094.9"/>
<polygon points="759.8,2114.4 796.3,2080.3 820.6,2056.1 837.6,2065.8 825.4,2124.1 801.1,2153.2 762.2,2148.4 752.5,2133.8"/>
<polygon points="650.5,2153.2 667.5,2124.1 689.4,2148.4 713.7,2163 699.1,2182.4 689.4,2206.7 665.1,2172.7"/>
<polygon points="835.1,2148.4 883.7,2145.9 893.4,2172.7 878.9,2192.1 849.7,2172.7"/>
<polygon points="747.7,2284.4 776.8,2267.4 815.7,2265 801.1,2279.6 762.2,2289.3"/>
<polygon points="864.3,2240.7 878.9,2235.8 888.6,2284.4 903.2,2313.6 874,2303.9 861.9,2279.6"/>
<polygon points="912.9,2262.6 937.2,2252.8 959,2265 937.2,2279.6 932.3,2289.3"/>
</g>
<g fill="rgb(120,70,225)">
<polygon points="596.9,2008.8 635.4,2000.2 669.6,1972.4 648.2,2004.5 635.4,2034.4 633.2,2072.9 624.7,2030.2 607.6,2023.7"/>
<polygon points="691.1,2059.2 706.1,2054.9 753.1,2093.4 744.6,2110.5 714.6,2093.4"/>
<polygon points="764,2113.8 796,2083.8 817.4,2062.5 832.4,2071 821.7,2122.3 800.3,2148 766.1,2143.7 757.6,2130.9"/>
<polygon points="654.3,2154.6 669.2,2128.9 688.5,2150.3 709.9,2163.1 697,2180.2 688.5,2201.6 667.1,2171.7"/>
<polygon points="839.1,2150.5 881.9,2148.4 890.4,2171.9 877.6,2189 851.9,2171.9"/>
<polygon points="751.6,2283.6 777.3,2268.6 811.5,2266.5 798.7,2279.3 764.5,2287.8"/>
<polygon points="866,2245 878.8,2240.7 887.4,2283.5 900.2,2309.1 874.5,2300.6 863.8,2279.2"/>
<polygon points="915.6,2263.4 937,2254.9 956.2,2265.6 937,2278.4 932.7,2287"/>
</g>
<g fill="rgb(80,20,205)">
<polygon points="607.8,2011.8 634.1,2006 657.4,1987.1 642.8,2008.9 634.1,2029.3 632.6,2055.6 626.8,2026.4 615.1,2022"/>
<polygon points="700.9,2066.6 711.1,2063.6 743.2,2089.9 737.4,2101.5 717,2089.9"/>
<polygon points="773.7,2112.4 795.5,2092 810.1,2077.4 820.3,2083.3 813,2118.3 798.4,2135.7 775.1,2132.8 769.3,2124.1"/>
<polygon points="663.1,2157.7 673.3,2140.2 686.4,2154.8 701,2163.5 692.3,2175.2 686.4,2189.7 671.9,2169.3"/>
<polygon points="848.3,2155.6 877.5,2154.1 883.3,2170.1 874.6,2181.8 857.1,2170.1"/>
<polygon points="760.9,2281.5 778.4,2271.3 801.7,2269.9 793,2278.6 769.6,2284.4"/>
<polygon points="870,2255 878.7,2252 884.5,2281.2 893.3,2298.7 875.8,2292.9 868.5,2278.3"/>
<polygon points="922,2265.5 936.6,2259.7 949.7,2266.9 936.6,2275.7 933.7,2281.5"/>
</g></g>
</g>
<clipPath id="cp96_1"><rect x="568.5" y="2341" width="398.5" height="399"/></clipPath>
<g clip-path="url(#cp96_1)">
<rect x="568.5" y="2341" width="398.5" height="399" fill="rgb(72,12,240)"/>
<g filter="url(#cblur)">
<g fill="rgb(145,85,245)" opacity="0.75">
<polygon points="632.5,2366.8 618.7,2369.4 610.7,2358.6 623.9,2355.8"/>
<polygon points="594.9,2357.9 613.1,2341.9 623.3,2343.5 618.5,2352.6"/>
<polygon points="586.9,2402.1 577.6,2403.6 571.6,2399.1 572.7,2390.1 578.1,2385.3 586.7,2389.4"/>
<polygon points="591,2378.2 596.6,2370.2 620.4,2362 600.7,2377.8"/>
<polygon points="627.6,2400 619.2,2403.9 608.1,2395 622,2392.5"/>
<polygon points="589.2,2381 574.6,2378 561.9,2374.6 570.2,2365.4 576.3,2358.5 582.2,2367.2"/>
<polygon points="712.6,2405.8 694.2,2408.5 678.8,2399.1 696.6,2396.2"/>
<polygon points="676.3,2344.9 687.5,2337.7 694,2340.6 689.6,2346.2"/>
<polygon points="662.7,2407.2 660.5,2400.1 667.9,2392 672.2,2397.7 676.9,2401 668.9,2405.3"/>
<polygon points="669.6,2387.9 684.8,2373.8 694.8,2374 689.7,2382.6"/>
<polygon points="654.5,2370.6 649.6,2362.2 643.7,2353.7 654.3,2353.7 667.2,2360.2 657,2364.5"/>
<polygon points="646.4,2417.5 640.2,2407.1 645.4,2391 651.8,2406.6"/>
<polygon points="766.9,2380.5 753.3,2384.2 739.1,2386 745.3,2375.5 742.7,2367.2 753.4,2372.6"/>
<polygon points="743.8,2353.7 739.3,2344.2 748.8,2335.9 752.6,2347.9"/>
<polygon points="718.4,2371.3 715,2353.9 720.3,2332.1 723.4,2354.3"/>
<polygon points="701.8,2395.9 700.1,2387.3 699.5,2382.3 707.8,2380.8 713.2,2386.3 711.8,2392.8"/>
<polygon points="687.9,2354.1 694.8,2343.2 715.4,2332.1 700,2349.7"/>
<polygon points="754.4,2398.7 762.1,2373.3 772.7,2367.5 772.8,2379.5"/>
<polygon points="776.1,2374.5 776,2365.5 787.8,2354.7 784,2370.2"/>
<polygon points="800.3,2369.6 791.3,2368.1 788.1,2360.5 793.3,2352.7 804.6,2354.4 806.4,2363.8"/>
<polygon points="799.1,2409.5 809.2,2394.2 828.2,2389 816.9,2405.2"/>
<polygon points="830.4,2412.9 821.5,2406 819.4,2393.3 829.8,2391.5 834.2,2394.7 837.2,2402.7"/>
<polygon points="766.9,2381.7 764.4,2367.7 778.8,2344.2 777,2371.7"/>
<polygon points="777.9,2389.6 772.7,2366.8 777,2351.7 782,2366.6"/>
<polygon points="881.9,2355.8 890.7,2334.9 902.4,2330.4 900.5,2342.8"/>
<polygon points="883.5,2372.6 882,2360.8 876.2,2347.7 888.4,2354.6 900.8,2353.6 890.9,2362.5"/>
<polygon points="868,2374.3 859,2374.8 849,2371.6 854.8,2363.8 860.4,2355.7 865.5,2365.3"/>
<polygon points="847.7,2403.5 841.2,2395.3 851.1,2384.8 856.7,2398.1"/>
<polygon points="885.8,2374.2 884.9,2367.8 890.1,2360.1 895.4,2366 897,2369.7 893,2374.4"/>
<polygon points="854.2,2391.1 847.4,2383.5 843.1,2379 852.6,2372 862.1,2372.2 865.6,2381.3"/>
<polygon points="892.7,2368.4 895.1,2358.2 902.2,2348 907.6,2357.2 913.5,2362.3 904,2366.6"/>
<polygon points="953.7,2359.2 947.4,2346.6 942.8,2338.4 952.6,2336.2 964.8,2334.9 959.6,2345.9"/>
<polygon points="952.4,2391.4 960.8,2368.2 969,2362.9 968.4,2372.6"/>
<polygon points="911.8,2365.5 902.1,2366.9 893,2357.5 906.1,2357.5"/>
<polygon points="950.8,2411.7 945.3,2399 953.1,2378.2 958.1,2399.9"/>
<polygon points="922.4,2376 921.7,2364.7 929.3,2358.8 930.7,2368.3"/>
<polygon points="626.5,2469.1 611.9,2455.6 604,2436.2 619.3,2450.6"/>
<polygon points="641.3,2464.2 636.2,2470.3 628.8,2464.5 627.6,2457.1 638.4,2454.2 642.9,2461.5"/>
<polygon points="576.4,2416.6 584.8,2406 597.7,2409.7 589.4,2420.4"/>
<polygon points="607.8,2441.8 605.7,2431.2 621,2418.9 618,2438.3"/>
<polygon points="622.4,2474.4 616.2,2466.4 617.8,2453.1 627.4,2456.2 630,2457.2 630.8,2465.5"/>
<polygon points="603.7,2434.7 608.6,2423 616.3,2420.6 614.7,2428.4"/>
<polygon points="676.3,2449.2 667,2430.7 666.7,2412.8 675.2,2428.5"/>
<polygon points="635,2468.7 643.2,2454.1 659.7,2451.5 651.5,2466.1"/>
<polygon points="653.7,2463.3 645.2,2465.6 634.1,2452 651.4,2454.8"/>
<polygon points="666,2452.1 676.8,2436.4 691,2430.4 683,2443.7"/>
<polygon points="698.4,2468.5 691.5,2458.9 695.3,2434 703.4,2457.8"/>
<polygon points="644.6,2433.8 636.8,2433.1 632.1,2437.5 632.6,2428.2 634.4,2420.2 640.5,2424.5"/>
<polygon points="746.2,2435.1 735.8,2429.8 726.7,2427.6 733.9,2418.6 747.6,2415.9 746.2,2425.7"/>
<polygon points="694.6,2422.5 707.5,2412.7 718.7,2413.5 710.8,2421.5"/>
<polygon points="718.7,2434.5 720.8,2426.5 724.1,2425.1 731.8,2425.7 735.2,2438.8 725.5,2440"/>
<polygon points="696.4,2433.5 702.1,2426 699.4,2418.6 708.4,2424.3 715.9,2435.4 705.8,2433.8"/>
<polygon points="745,2460.4 739.7,2454.2 744.2,2438.7 749.8,2453.9"/>
<polygon points="750.8,2470.1 740.7,2469.2 731.8,2463.7 738.6,2454.5 754.3,2454.2 752.6,2464.8"/>
<polygon points="810.5,2448 803.5,2447.7 797.3,2447.9 800.1,2440 807,2435.1 810.5,2440.9"/>
<polygon points="767.6,2442 773.4,2430.1 769.8,2422 780.4,2426.5 793.8,2431.5 781.5,2436.5"/>
<polygon points="829.7,2478.5 814.5,2472.9 803.8,2455 822.6,2463.9"/>
<polygon points="784.3,2465.2 773.2,2466.7 758.5,2456.9 776.2,2457.5"/>
<polygon points="778.7,2424.2 772.7,2428.9 764.6,2425.7 765.3,2419.5 773.3,2414.4 776.3,2422.1"/>
<polygon points="819,2483 815.4,2474.7 827.6,2458 826.9,2478.7"/>
<polygon points="864.5,2439.7 855,2443.2 842.3,2445.9 847.5,2435.4 854.7,2425.4 858.4,2435.5"/>
<polygon points="876.2,2477.7 863.3,2471.5 863.5,2460.6 873.9,2463.6"/>
<polygon points="910.1,2412.4 902.1,2418.3 889.6,2412.7 893.2,2403.2 903.1,2401.2 909,2407.9"/>
<polygon points="900.6,2436.3 890.6,2437.5 881.4,2423.8 897.7,2426.8"/>
<polygon points="904.3,2463.4 890.4,2455.4 875.1,2458.5 887.4,2447 898.9,2434 897.7,2449.4"/>
<polygon points="858.6,2431.5 846.7,2432.1 837.3,2440.5 839.1,2424.1 848.9,2405.6 854.2,2421"/>
<polygon points="912,2480.9 897.8,2469.2 895.3,2457.7 905.4,2463.8"/>
<polygon points="928.5,2465.6 924.9,2456 915.6,2447.5 929.2,2448.7 940.3,2450.8 933.5,2457.5"/>
<polygon points="970.8,2458.9 958.4,2454.5 956,2442.7 967.5,2446.2"/>
<polygon points="966.7,2451.4 957.1,2455 946.5,2459.5 948.1,2446.6 953.9,2431.6 961.8,2443"/>
<polygon points="924.1,2443.7 913.4,2429.4 913,2408.9 924.5,2425.8"/>
<polygon points="897.5,2486.4 897.6,2471 904.9,2459.4 905.3,2473.1"/>
<polygon points="621.5,2494.2 611.2,2493 604.2,2487.3 609,2478.2 617.1,2472.6 623.5,2481.7"/>
<polygon points="646.1,2515.8 624.5,2520.3 614.1,2515.7 624.5,2511.3"/>
<polygon points="611,2523.1 627.9,2513 635.9,2516 630.7,2522.8"/>
<polygon points="623.7,2503.1 613.2,2479.7 617.7,2467.4 626,2477.5"/>
<polygon points="608.3,2528.7 593.5,2530.2 589.5,2522.2 597.5,2518.4"/>
<polygon points="601.7,2514.5 604.4,2499.1 613.1,2499.8 616,2508.1"/>
<polygon points="659.6,2512.6 652.1,2517.8 638.9,2507.7 647.4,2500.7 652.4,2500.6 659.6,2505.6"/>
<polygon points="659.8,2487.2 650.5,2486.7 634,2469 656.3,2478.5"/>
<polygon points="656.4,2524.2 659.8,2511.2 671.6,2509.1 669.4,2520.9"/>
<polygon points="652,2490.5 652.9,2476.2 661.2,2468.8 661.6,2479.9"/>
<polygon points="676.1,2523.1 667,2516.4 668.8,2503.2 678.7,2512.1"/>
<polygon points="696.4,2526.7 686.1,2533.6 676.9,2540.3 676.1,2529.4 683.5,2516.7 687.8,2526.4"/>
<polygon points="704.5,2486 717.9,2470.3 728.4,2471.7 724.6,2481.5"/>
<polygon points="726.2,2523.1 712.9,2518.4 701,2508.1 712.9,2504.9 721.9,2495.8 721.7,2511"/>
<polygon points="703,2487.7 698.4,2480.4 701.5,2467.9 710.1,2472.8 715.5,2480.3 707.9,2485.3"/>
<polygon points="705.2,2538.2 706.7,2530.5 720.2,2524 713,2537.2"/>
<polygon points="758.5,2501.5 749.1,2501.8 743.7,2493.5 748.2,2486 758.6,2482.2 761.1,2493.5"/>
<polygon points="708.5,2514.5 701.7,2500.1 706.9,2476.8 714.1,2499.5"/>
<polygon points="768.6,2556 768.9,2544.4 788.2,2524.9 779,2550.8"/>
<polygon points="811.6,2524.3 803.4,2514.9 805.6,2499.3 814.6,2512.2"/>
<polygon points="758.2,2533.7 764.1,2523.9 772.2,2516.2 777.1,2525.5 778.4,2538.8 767.3,2535"/>
<polygon points="803,2541.4 823.5,2527.2 839.5,2525.8 827.4,2536.4"/>
<polygon points="761.2,2523.1 766.2,2513.8 774.4,2507.2 780.2,2516.3 785.3,2525.7 773,2527.6"/>
<polygon points="796.3,2504.7 796.4,2490 802.8,2483.5 804.5,2492.5"/>
<polygon points="898.6,2498 885.4,2486.7 889.9,2478.7 898.8,2480.6"/>
<polygon points="872.9,2535.3 873.1,2519.9 889.8,2506.5 886.3,2527.7"/>
<polygon points="887.7,2497.5 881.7,2487.1 889.4,2478.3 895.4,2488.3"/>
<polygon points="842.8,2514.2 839,2499.5 846.6,2493.3 851.6,2501.8"/>
<polygon points="841.6,2485.8 847.2,2471.6 860.1,2469.8 856.5,2482.3"/>
<polygon points="846.3,2500.5 841.7,2490.5 851.7,2478.7 855.1,2493.8"/>
<polygon points="907.5,2513.2 927.7,2503.5 942.7,2507.1 929.8,2515.5"/>
<polygon points="926.5,2515 935.2,2503.4 949.8,2498.9 940.4,2511"/>
<polygon points="925.6,2495.1 913.9,2488.8 898.2,2488.9 911.8,2480.6 921.9,2475.2 920.3,2484.7"/>
<polygon points="923.8,2525.8 916.4,2531.9 908.1,2532.4 905.3,2521.8 910,2514.7 919.3,2514"/>
<polygon points="961.8,2529.2 958.1,2515.5 963.7,2491.2 966.9,2515.9"/>
<polygon points="952.1,2496.1 954.9,2487.1 963.3,2483.3 968.8,2489.2 968.3,2499.1 959,2498.7"/>
<polygon points="575.5,2592.8 580.5,2574.1 590,2573.3 592,2582.7"/>
<polygon points="608.5,2585.8 601,2584 595.3,2580 600.5,2572.9 611.7,2572.7 611.5,2580.7"/>
<polygon points="589.1,2586.6 594.3,2577.7 605.7,2578.2 599.3,2587.7"/>
<polygon points="637.2,2599.3 624.7,2593.5 622.8,2576.5 637.3,2585.5"/>
<polygon points="629.9,2551.1 624.9,2545 621.8,2536.2 630,2536.7 638.2,2536.1 634,2544.4"/>
<polygon points="591.8,2579.7 574.5,2584.3 563.7,2576 576.4,2570.7"/>
<polygon points="708.7,2591.3 696.4,2598.4 686.5,2609.1 684.7,2593.3 691.3,2575.4 698.8,2587.4"/>
<polygon points="693.3,2577.6 687.8,2573.2 688.4,2559.7 695.8,2571.1"/>
<polygon points="653.2,2549.8 655.9,2541.7 662.9,2540.4 669.5,2544.8 665.6,2552.3 658.9,2555.6"/>
<polygon points="692.4,2552.7 684.8,2556.5 671.8,2551.9 685.1,2548.3"/>
<polygon points="643.2,2574.4 636.4,2577.9 626.3,2575.8 630,2568.4 635,2562.7 640.2,2568.9"/>
<polygon points="660,2608 660.4,2599.1 661.4,2589.7 671.2,2595.2 676.6,2606.2 667.5,2608.4"/>
<polygon points="718.9,2583.7 699.1,2584.2 690.7,2575.5 702.5,2572.6"/>
<polygon points="744.5,2564.4 723.3,2549.2 720.5,2538.1 731.3,2541.9"/>
<polygon points="735.5,2557.6 738.9,2549.9 742.4,2546.5 749.7,2549.7 753.7,2559.9 744.5,2562"/>
<polygon points="710.3,2595.5 708.7,2576.4 715.9,2561.1 717.9,2577.9"/>
<polygon points="716.3,2555.4 722.7,2546.6 735.8,2544.6 727.1,2554.6"/>
<polygon points="726.5,2562.9 708.8,2556.7 702,2547.8 713.1,2549.9"/>
<polygon points="800.9,2562.2 794.7,2552.5 794.1,2535.3 805.4,2542.4 815.6,2549.3 805,2555.6"/>
<polygon points="780.9,2570.4 771.4,2565.9 766.7,2546.2 781.5,2559.9"/>
<polygon points="825.9,2560.4 815.2,2555.7 802.6,2535.7 821.8,2549.4"/>
<polygon points="768.1,2612.5 763.9,2604.4 767.2,2591.9 775.3,2597.3 782.6,2606 772.4,2609.3"/>
<polygon points="782.2,2587 779.8,2570.8 789,2567.6 794.1,2575.9"/>
<polygon points="836,2592.5 817.7,2589.2 802.9,2572.5 824.5,2577.9"/>
<polygon points="854,2580.3 858.3,2572.9 863.9,2570.3 869.8,2575.2 868.1,2587.8 859.3,2584.5"/>
<polygon points="906.6,2585 892,2579.4 887.9,2569.2 898.6,2571.6"/>
<polygon points="856.7,2602 840.7,2605.4 821.9,2593.7 844,2591.7"/>
<polygon points="868.3,2560.4 858.4,2566.8 842.8,2556.2 861,2551.2"/>
<polygon points="902.7,2596.9 891.4,2590.3 883.6,2595.2 888.2,2583.8 895.7,2576.2 898.8,2583.6"/>
<polygon points="849.2,2596.8 835.5,2591.7 819,2588.7 833.1,2582 840.7,2571.4 841.7,2585"/>
<polygon points="970.7,2598.7 950.7,2593.1 944.8,2584.7 955,2585.1"/>
<polygon points="942.8,2544 925,2549.4 914.2,2542.1 925.8,2536.3"/>
<polygon points="968,2566.7 958.4,2552.4 960,2537.3 969,2549.5"/>
<polygon points="927.8,2572.3 928.3,2561.7 946.7,2556.3 938.4,2573.5"/>
<polygon points="947,2565.5 937.3,2563.3 932.7,2561.7 934.3,2551.9 941.8,2547.3 949.3,2551.6"/>
<polygon points="933.8,2565.2 920.9,2560.3 906.8,2556.7 918.5,2550.1 922.9,2541.3 927.2,2552.1"/>
<polygon points="563.7,2655 569.2,2642.5 587.4,2636.8 577.2,2652.9"/>
<polygon points="616.6,2630 605.2,2631.3 597.1,2623.4 608.3,2622.1"/>
<polygon points="605,2632.4 594.9,2626.8 588.1,2603.4 605.1,2620.9"/>
<polygon points="601.9,2616 607.4,2608.6 613.2,2607.1 619.3,2612.3 617.6,2621 609.8,2622.8"/>
<polygon points="574.9,2616.1 578.6,2608.1 583.8,2603.4 590.8,2609.6 592.8,2614.4 587.5,2620.9"/>
<polygon points="573.4,2684.9 572.9,2673.9 587.7,2660.5 583.3,2680"/>
<polygon points="654.5,2659.9 639,2645.8 636.1,2631.5 647.9,2640"/>
<polygon points="634.2,2656.3 629.2,2652.5 632.9,2642.2 639.5,2645.7 643,2648.5 639.2,2654.8"/>
<polygon points="636.3,2655.8 637,2646.4 647.5,2636.1 644.1,2650.4"/>
<polygon points="629.3,2675.6 638,2658.3 650.5,2652.5 645.8,2665.4"/>
<polygon points="638.8,2645.7 637.2,2636.6 643.7,2628.4 653.2,2634 655.9,2641.6 649.5,2649"/>
<polygon points="679.1,2682.3 672.6,2672.4 677.6,2661.8 684.1,2671.6"/>
<polygon points="725.9,2638.7 709.1,2622.5 703.6,2607.3 716.1,2617.5"/>
<polygon points="741.3,2639.2 732.3,2635.9 731.6,2624 739.8,2620.5 747.9,2621 747.1,2632.2"/>
<polygon points="705.5,2621 710,2609.9 721.1,2607.8 717.2,2618.4"/>
<polygon points="726.6,2660.3 723.3,2651.6 733.9,2643.5 741.4,2649.9 740.3,2655.5 735.2,2662.7"/>
<polygon points="772.9,2659.5 761.3,2659.6 751.1,2656.8 755.5,2647 764.1,2641.4 769.8,2648.9"/>
<polygon points="719.4,2638.7 716.8,2626.1 717.1,2610 729.6,2617.9 739.5,2621.9 730.8,2631.2"/>
<polygon points="806.1,2662.5 786,2668.3 778.8,2660.1 787.3,2653.3"/>
<polygon points="772,2665.1 767.1,2655.6 772.7,2640.4 777.4,2655.9"/>
<polygon points="811.4,2623.5 833.7,2610.8 844.1,2612.5 836.8,2620.1"/>
<polygon points="766.8,2638.4 767.5,2630.1 778.2,2624.5 782.7,2633.5 784.3,2640.4 774.6,2643.4"/>
<polygon points="778.7,2656 771.8,2646.4 779.6,2634.3 786.4,2647"/>
<polygon points="787.2,2646.2 788.2,2624 800.3,2616.2 802.8,2630.4"/>
<polygon points="861,2667.9 848.8,2672.9 838.6,2664.5 850.8,2659.5"/>
<polygon points="873.5,2652.6 869.1,2639.9 872.7,2624.8 881.4,2631.9 890.7,2634.6 881,2643"/>
<polygon points="869.3,2692.5 863.9,2670 868.6,2654 873.9,2669.8"/>
<polygon points="858.6,2662.7 859.8,2649.8 858.2,2637.9 868.6,2644.3 875.6,2648.1 869.7,2654.4"/>
<polygon points="857.6,2661.7 857.2,2649.4 863.2,2637.4 871.8,2644.5 876.5,2654.6 866.5,2658.2"/>
<polygon points="846,2618.4 836.1,2614.7 826.9,2608 835.8,2602.6 847,2597.1 845.6,2609.2"/>
<polygon points="924,2641.4 909.6,2617.4 912,2604 921.8,2613.5"/>
<polygon points="957,2630.8 954.5,2625.1 957,2621 963.2,2620.2 968,2624.9 964.7,2630.9"/>
<polygon points="946.5,2662.5 934,2658.9 924.4,2647.5 938.6,2652.2"/>
<polygon points="907.6,2666.9 925.5,2653.3 939,2657.7 930,2668.6"/>
<polygon points="921.8,2671.9 911.1,2647.3 917,2635.2 925.9,2645.3"/>
<polygon points="919.8,2611.3 926.3,2601.7 936.4,2602.9 931.4,2611.7"/>
<polygon points="585.3,2711.7 566.4,2716.6 556,2711.7 566.4,2706.8"/>
<polygon points="616.3,2703.9 597.7,2701 588.7,2687.9 604.6,2689.2"/>
<polygon points="565.4,2687.4 568.3,2676.3 575.5,2667.2 584.3,2675.6 588.9,2685.9 577.9,2690.2"/>
<polygon points="577.7,2690.8 585,2685.2 598.3,2689.8 585.5,2695.6"/>
<polygon points="584.7,2735.6 574.7,2729 571.1,2699.8 587.8,2724.1"/>
<polygon points="573,2711.3 582.2,2703.1 599.7,2701.2 585.3,2711.4"/>
<polygon points="622.5,2691 637.6,2670.8 648.8,2666.8 643.9,2677.6"/>
<polygon points="627.2,2717.4 631,2706.5 634.8,2693.3 645.5,2705.4 650.5,2717.7 639,2720.7"/>
<polygon points="642.4,2734.7 640.9,2725.7 645.3,2715.9 654.8,2721.4 659.9,2732.5 650,2736.1"/>
<polygon points="674.9,2709 672.2,2697.2 688.6,2682.8 686.1,2704.5"/>
<polygon points="693.8,2748.8 677.7,2738 671.9,2724.5 684.8,2731.6"/>
<polygon points="702.6,2715.5 692.5,2719.3 684.6,2711.6 695,2707.9"/>
<polygon points="753.4,2731.5 753.2,2721.3 770,2706.8 763,2727.9"/>
<polygon points="755.4,2727.2 751,2719.6 752.7,2707.6 759.7,2712.8 762.8,2715.9 759.7,2721.4"/>
<polygon points="727.4,2687.7 724.6,2680 731.9,2668.3 733.3,2682"/>
<polygon points="770.5,2692.6 757.2,2687.5 754.3,2674.4 767,2678.7"/>
<polygon points="730,2722.2 736.8,2714.8 740.4,2705.5 746.3,2715.8 752.6,2723.2 742.3,2725.1"/>
<polygon points="705.3,2696.3 716.2,2687.4 723,2676 725.8,2689.2 727.1,2702.6 717.7,2696.1"/>
<polygon points="784.7,2736.3 776.1,2726.6 778.2,2709.7 788,2723.7"/>
<polygon points="796.3,2687.1 777,2686.5 773,2678.5 781.3,2675"/>
<polygon points="825.7,2744.5 814.3,2741.4 799.7,2725.3 819.4,2734.5"/>
<polygon points="767.2,2720.7 763.7,2708 767.1,2690.7 778,2699.9 786.8,2708.3 775.5,2714.4"/>
<polygon points="778.5,2742.5 776.2,2736.2 780.3,2731.9 787.7,2733.5 790.6,2743 783.4,2746.6"/>
<polygon points="792.7,2723.3 779.9,2714.1 774.8,2689.6 792.3,2707.5"/>
<polygon points="860.9,2690.4 867.6,2681.5 879.6,2685.1 871.2,2694.4"/>
<polygon points="907.2,2711.9 891.6,2711.5 880.1,2710.3 885.1,2701 893.4,2687.9 897.2,2702.2"/>
<polygon points="881.4,2701.5 873.7,2695.9 873.5,2687.3 881.7,2682.5 892,2691.1 887.4,2699.5"/>
<polygon points="869.7,2702.1 859,2696.2 849.4,2699.1 855.9,2688.2 860.8,2680.6 866.4,2687.4"/>
<polygon points="890,2709.6 880.5,2706.4 868.3,2704.7 878.4,2696 879.7,2689.1 887.5,2695.8"/>
<polygon points="865.6,2695.3 872.2,2686.3 878.2,2680.3 885,2688.1 891.9,2697.7 879,2699.9"/>
<polygon points="949.4,2734.1 960.1,2718 970.3,2714.6 966.2,2724.5"/>
<polygon points="923.6,2744 910.4,2739.6 902.3,2736.6 906.4,2727.3 917.1,2718.8 920.7,2730.3"/>
<polygon points="931.1,2717.7 924.3,2713.3 919,2707 926.3,2703.4 935.4,2705.9 932.8,2712.5"/>
<polygon points="956.1,2727.1 943.4,2722.8 942.4,2712.6 952.4,2714.2"/>
<polygon points="922.8,2701.2 928.4,2691.5 941.6,2683.7 940.4,2695.2 941.6,2704 931.7,2700.6"/>
<polygon points="925.8,2693 914.7,2690.7 907.5,2688.9 910.5,2678.5 917,2672.5 925.1,2677.7"/>
</g>
<g fill="rgb(38,2,140)" opacity="0.55">
<polygon points="584.5,2392.6 605.9,2382.4 615.2,2387.5 608.1,2395.3"/>
<polygon points="553.7,2365.6 563.8,2359.7 588.5,2364 564.3,2370.6"/>
<polygon points="581,2384.3 564.3,2370.6 563.4,2360.4 573,2364.3"/>
<polygon points="636.3,2401.3 641,2392.6 659.3,2390.9 646,2403.5"/>
<polygon points="645.2,2412.6 644.6,2400.8 667.6,2390.9 657,2413.6"/>
<polygon points="688.8,2405.8 679.5,2399.8 680.5,2380.1 692.9,2395.5"/>
<polygon points="768,2381.9 761.4,2367.8 766.2,2351.8 772.8,2367.1"/>
<polygon points="712.3,2374.2 722.6,2364.8 733.2,2370.2 725.3,2379.1"/>
<polygon points="733.5,2362.9 731.3,2354.2 729.6,2345.8 739.9,2347.2 751.9,2353.3 742.1,2359.9"/>
<polygon points="780.1,2405.7 773,2411.1 765.5,2405.9 765.6,2396.2 773.6,2394.5 782.2,2396.1"/>
<polygon points="843.9,2374.1 822.6,2379.3 815.6,2372.1 823.5,2366"/>
<polygon points="799.7,2373 791.6,2359.5 800.5,2345.9 808.5,2360"/>
<polygon points="855,2351.9 865.7,2337.2 875.5,2342.2 873.1,2353"/>
<polygon points="875.5,2356.6 863.1,2359.2 855.1,2343.4 872.8,2344.3"/>
<polygon points="885.3,2405 886,2394.5 904.6,2377.5 894.9,2400.8"/>
<polygon points="914,2366 902.5,2360.9 899.8,2336.4 917.3,2353.8"/>
<polygon points="962.4,2351.6 954.2,2358.4 938.9,2355.9 943.8,2346.2 952.7,2334.8 957.9,2348.2"/>
<polygon points="918.2,2416.7 909.2,2400.3 913.9,2385 922.4,2398.5"/>
<polygon points="575.3,2409.6 586.5,2401.4 599.8,2406.7 588.1,2415"/>
<polygon points="582.1,2466.9 591.4,2459.3 608.1,2460.3 594,2469.1"/>
<polygon points="612.2,2411.2 599.4,2414 589.9,2417.4 591.3,2407.1 595.2,2397.6 602.1,2403.9"/>
<polygon points="684.9,2420.2 671,2421.8 666.3,2413.2 675.5,2409.8"/>
<polygon points="658.1,2468.5 648.3,2454.3 654,2439.6 663.5,2452.1"/>
<polygon points="645.6,2420.3 639,2407 643.4,2400.6 649.1,2405.9"/>
<polygon points="718.8,2429 712.8,2418 721.1,2403.7 726.7,2419.2"/>
<polygon points="741,2449.6 733.7,2451.1 728.6,2446.5 731.2,2438.6 742.1,2438.4 744.5,2445.7"/>
<polygon points="746,2423.8 735.7,2412.4 736.1,2394.2 747.4,2408.5"/>
<polygon points="798.6,2412.7 790.7,2418.5 780,2415.3 780.7,2404.8 790,2400 798,2404.9"/>
<polygon points="830.1,2478 820.3,2479.4 798.8,2465.1 824.1,2470.1"/>
<polygon points="804.8,2462.2 815.3,2451.1 828.9,2454.8 819.7,2465.5"/>
<polygon points="854.2,2474.1 843.3,2466 848.6,2449.9 860.5,2462"/>
<polygon points="820.5,2445.7 833,2433.3 853.5,2436.9 837.5,2450.3"/>
<polygon points="883.3,2442.8 888,2431.2 899.7,2434.2 895.5,2445.6"/>
<polygon points="928.9,2418.8 931.7,2409.6 936.8,2403.9 944.1,2408.6 950.1,2415.9 940.5,2420.5"/>
<polygon points="938.5,2462.2 928.8,2468.6 920.5,2460.4 930.3,2454"/>
<polygon points="929.4,2418 922.4,2417.1 917,2414.7 920.8,2407.2 930.5,2405.7 932.3,2412.5"/>
<polygon points="598.8,2503.1 606.5,2488.6 617.5,2486.4 614,2497"/>
<polygon points="590.2,2542.9 589,2535.1 596,2528.9 602.1,2533.1 602.7,2540.1 596.3,2543.6"/>
<polygon points="577.2,2504.6 584.5,2495.2 599.2,2499.1 588.1,2509.5"/>
<polygon points="659.7,2512.5 641.8,2513.2 633.1,2505.5 644.5,2503.1"/>
<polygon points="700.2,2545.1 687.8,2545.3 686.1,2532.6 698.9,2532.8"/>
<polygon points="674.2,2532.7 664.1,2531.6 652.2,2511.2 672.8,2522.7"/>
<polygon points="723.2,2523.8 714.7,2507 718.6,2498.3 725.4,2505.1"/>
<polygon points="760.5,2533.2 749.7,2530.2 748.3,2517.8 760.1,2522"/>
<polygon points="747.7,2493.6 739.7,2491.5 735.1,2486.3 739.1,2480.1 747.9,2481.5 749.4,2487.9"/>
<polygon points="781.1,2531.9 771.8,2510.7 778,2498.4 786.3,2509.3"/>
<polygon points="815.4,2529.2 805.7,2521.9 810.2,2502.3 821.7,2518.8"/>
<polygon points="794,2524.3 777.8,2530.9 769,2520.5 780.4,2513.2"/>
<polygon points="856.4,2534.3 848.1,2520.5 850.8,2504.2 859.2,2518.4"/>
<polygon points="907.1,2493.3 900.7,2497.5 892.5,2496.5 892.9,2489.1 898.2,2485.2 904,2487.6"/>
<polygon points="858.9,2525.8 849.3,2525.1 846.7,2512.3 855,2507.4 864.1,2510 863.8,2520.9"/>
<polygon points="939.8,2507.1 933.6,2499.7 943.7,2485 948,2502.4"/>
<polygon points="908.3,2539.9 900.5,2531.2 908.8,2516.1 916.4,2531.5"/>
<polygon points="910.9,2541.9 908.4,2525.9 917.7,2508.1 919.5,2528.1"/>
<polygon points="614.9,2554.7 621.5,2543.3 632.5,2545.2 628,2555.5"/>
<polygon points="595.7,2569.2 584.9,2556.6 588.5,2545.3 597.8,2552.7"/>
<polygon points="571.7,2613.6 584.3,2595.4 597.6,2593.2 592.4,2605.6"/>
<polygon points="667.8,2587.2 661.3,2595.6 645.6,2589 649.8,2578.8 653.8,2576.9 663.8,2578.4"/>
<polygon points="671,2583.5 677.6,2558.3 689.3,2555 691.1,2567"/>
<polygon points="676.6,2611 674.3,2597.9 683.9,2587.9 686.1,2601.6"/>
<polygon points="701.1,2556 701.6,2547.5 704.1,2545.9 712.8,2545.3 715.3,2553 713.3,2560.8"/>
<polygon points="722.8,2599.9 719.1,2588.2 726.1,2574.7 729.4,2589.5"/>
<polygon points="754.8,2576.3 743.8,2575.2 740.1,2565.2 750.7,2566.1"/>
<polygon points="762.1,2577 763.1,2562.4 774.5,2549.6 772.4,2566.6"/>
<polygon points="813.8,2556.6 806.2,2537.6 809.8,2526.7 816.1,2536.3"/>
<polygon points="786.6,2601.6 783.8,2588.3 799.8,2572.9 798.5,2595.1"/>
<polygon points="853.1,2564.3 852,2553.9 870.8,2543 863.5,2563.5"/>
<polygon points="861,2575.3 874.1,2567.3 886.8,2570.7 876.1,2578.3"/>
<polygon points="895.9,2575.5 886.8,2567.1 888.6,2557.9 896.4,2563.2"/>
<polygon points="914.5,2583.7 920.7,2570.5 940.2,2564.5 928.8,2581.5"/>
<polygon points="933.3,2563.4 920.7,2559.6 913.7,2542.3 930.5,2550.6"/>
<polygon points="918.2,2610.8 915.9,2598.3 914.8,2585 927.7,2589.7 935,2599 927.6,2605.5"/>
<polygon points="631.4,2646.6 623,2646.5 616.6,2630.9 631.8,2638.2"/>
<polygon points="608.5,2639.1 618.4,2627.4 630.1,2632.9 623.1,2643.8"/>
<polygon points="579.9,2665.1 570.3,2646 576.8,2633.1 585.7,2644.5"/>
<polygon points="664.1,2646.5 648.4,2653.1 638.1,2642.7 651,2635.6"/>
<polygon points="694.2,2681.9 686.1,2677.6 682,2658.7 695.3,2672.7"/>
<polygon points="715.6,2635.9 694.1,2641.1 684.9,2634.9 694.5,2629.3"/>
<polygon points="734.5,2668.7 718,2654 717.6,2639.4 730,2647.1"/>
<polygon points="728.7,2657.8 734.7,2650.4 735.5,2645.2 743,2649.8 746.9,2660.5 738.4,2660.8"/>
<polygon points="752.1,2628 761.6,2608.3 771.2,2607.1 770.9,2616.8"/>
<polygon points="830.6,2630.6 814.1,2631.6 806.7,2617.8 822.3,2616.3"/>
<polygon points="786.5,2658.7 785.3,2640.7 796.1,2631.7 798.8,2645.5"/>
<polygon points="787.9,2654.4 767.9,2646.1 767,2633.2 780,2634.2"/>
<polygon points="856.4,2637.7 857.7,2630 863.9,2629.6 870.9,2633 866.3,2642.2 858.7,2643.7"/>
<polygon points="853.1,2621.2 846.9,2612.6 841,2603 852.6,2601.9 860.7,2600.9 859.9,2610.7"/>
<polygon points="883.8,2653.6 871.4,2657.7 856.5,2647.3 874.5,2644.6"/>
<polygon points="899.6,2624.3 899.9,2617 905.2,2612.7 911.6,2616.1 912.7,2626.5 904.4,2626.9"/>
<polygon points="933.5,2657 933.5,2645.4 948.2,2644.9 944.9,2659.3"/>
<polygon points="956.4,2667.9 958.9,2658.8 964.4,2651.1 970.2,2657.6 976.9,2662.1 967.6,2666.9"/>
<polygon points="633.6,2731.3 619.5,2716.8 625.8,2708.2 636.1,2711.2"/>
<polygon points="594.3,2719.3 597.3,2708.7 615.1,2711.9 603.4,2725.6"/>
<polygon points="614,2698.7 609.7,2691.1 611.7,2683.6 621.2,2683 630,2693.2 621.5,2699.5"/>
<polygon points="667.9,2700.9 654,2704.7 643.5,2692.2 659.5,2689.3"/>
<polygon points="668.4,2730.7 661.3,2731.5 655.7,2722.4 662.6,2718 670.5,2720.7 670.7,2728.1"/>
<polygon points="701.7,2734.1 691.7,2731.9 685.2,2727 689.9,2718.4 700.1,2718.9 703.9,2725.7"/>
<polygon points="742.5,2696.1 735,2694.8 730.7,2688.1 735.8,2682.8 744.4,2680.4 745.2,2689.5"/>
<polygon points="712.6,2723.2 722.8,2716.6 737.5,2720.8 723.9,2727.8"/>
<polygon points="741.4,2682.8 732.6,2686 715.7,2673.8 736.6,2674.8"/>
<polygon points="806.1,2714.8 813.1,2704.5 824.4,2710.7 816.9,2721.1"/>
<polygon points="808.3,2724.8 797.3,2710 800.5,2697.4 809.8,2706.4"/>
<polygon points="768.1,2743.8 762,2736.4 768.5,2715.2 774.4,2736.5"/>
<polygon points="864.7,2720.5 877.5,2708.5 890.9,2711.9 882.1,2722.6"/>
<polygon points="865.4,2725.5 855.7,2730 840.9,2731.6 847,2720.2 853.2,2708 859.4,2719.8"/>
<polygon points="868.9,2694 855.3,2691.8 852.2,2679 865.2,2680.8"/>
<polygon points="950.8,2722.8 938.5,2716.2 940,2707.6 948.7,2709"/>
<polygon points="944.9,2703.2 934.8,2698.8 933.5,2689 942.8,2692.4"/>
<polygon points="926.2,2734.6 927.7,2716 941.5,2708.7 941.8,2724.3"/>
</g>
<g fill="rgb(200,170,245)" stroke="rgb(200,170,245)" stroke-width="5" stroke-linejoin="round">
<polygon points="624.6,2395.9 619.1,2388.6 623,2379.8 628.6,2387.6"/>
<polygon points="579.4,2392.9 571.7,2394.1 566.1,2394 566.2,2386.2 576.9,2379.3 578.5,2387.7"/>
<polygon points="706.5,2343.4 695.9,2347 677,2334.7 699.5,2334.5"/>
<polygon points="655.6,2375.7 654.8,2364.9 653.3,2354.6 662.9,2358.8 673.3,2364.7 663.4,2369.4"/>
<polygon points="736.7,2377.4 732.3,2369.4 735.7,2358.5 740.2,2369"/>
<polygon points="929.5,2418.9 924.6,2411.1 935.4,2393.8 937.4,2414.1"/>
<polygon points="617.3,2478.7 611,2466.8 613.3,2459.7 618.4,2465.2"/>
<polygon points="650.6,2408.9 654.7,2399.1 664.5,2397.7 661.1,2406.9"/>
<polygon points="647.1,2444.6 639.3,2444.8 636.3,2437.4 639.3,2431.1 648.9,2430.8 649.9,2439.5"/>
<polygon points="703.5,2454.5 692.1,2449.6 687.3,2450 688.1,2441.6 697.9,2431.3 700.5,2442.1"/>
<polygon points="635.1,2443.4 631.2,2436.9 635.9,2423.9 639.5,2437.3"/>
<polygon points="640.2,2418 628.5,2416.4 625.2,2410.2 632.2,2409.3"/>
<polygon points="652.9,2428.4 645.9,2419.2 636.8,2415 647,2412 658.4,2408.1 653,2417.5"/>
<polygon points="728.1,2419.1 721.3,2417.3 715.2,2405.7 726.5,2412.3"/>
<polygon points="699.3,2415.9 709.5,2408.2 721.7,2410.2 712,2417.7"/>
<polygon points="820.7,2469.2 827.8,2458.2 845.9,2454.7 833.8,2468.6"/>
<polygon points="767.2,2473.7 762,2475 756.9,2472.4 759.2,2466.6 763.6,2464.9 767.9,2467.6"/>
<polygon points="673.4,2490.9 666.2,2482.2 667.9,2472.3 674.6,2479.7"/>
<polygon points="631.6,2537.2 631.1,2530.5 633.4,2526.8 639.6,2526.8 643.9,2533.9 638.5,2537.9"/>
<polygon points="669.3,2542.8 657,2540.3 649.3,2532.2 660.3,2534"/>
<polygon points="703.7,2552.4 698.7,2542.4 706.8,2530.7 711.3,2544.2"/>
<polygon points="758.1,2492 758.1,2485.3 768.1,2480.6 764.7,2491.2"/>
<polygon points="818,2503.5 808,2508.4 782.1,2503.3 808.1,2498.5"/>
<polygon points="905.5,2475.2 905.8,2469.1 905.8,2466 912,2465.9 919.5,2469.7 913.8,2475"/>
<polygon points="649.5,2575.4 640,2576 626.9,2560.2 646.5,2566.4"/>
<polygon points="727.9,2587.3 721.5,2581.4 714,2575.8 723.4,2572.2 736.8,2567 730.9,2579.1"/>
<polygon points="847.3,2552.7 832,2556.2 827.7,2548.4 834.8,2543.2"/>
<polygon points="789.2,2569.5 779.6,2571.3 769.9,2558.6 785.8,2560.4"/>
<polygon points="766.7,2580 760.2,2569 764.9,2564.1 770.6,2567.8"/>
<polygon points="669.2,2640.8 657.5,2639.6 657.9,2632.2 665,2629.8"/>
<polygon points="691.5,2673.9 693.9,2663.1 702,2654.4 708.7,2662.5 712.6,2667.5 704.7,2673.8"/>
<polygon points="715.2,2646 708.3,2637.5 714,2611.4 721.5,2637.1"/>
<polygon points="825.8,2633.4 837.4,2623.1 848.8,2625.4 841.3,2634.2"/>
<polygon points="826.5,2668.8 813.5,2661.7 815,2653.6 823.3,2654.4"/>
<polygon points="956.6,2668.8 960.2,2652.9 977.9,2639.9 970.7,2660.6"/>
<polygon points="770.6,2725.9 765.3,2716.3 768.3,2709.4 773.1,2715.2"/>
<polygon points="719.7,2727.2 728.8,2712.8 744.4,2704.6 734.9,2719.5"/>
<polygon points="903.2,2707.7 897.3,2698.7 898.4,2681.6 905.6,2697.2"/>
</g>
<g fill="#f6f2fd">
<polygon points="624.3,2392.7 621,2388.3 623.3,2383 626.7,2387.7"/>
<polygon points="576.9,2391.4 572.3,2392.1 568.9,2392 569,2387.4 575.4,2383.2 576.4,2388.3"/>
<polygon points="701.8,2342 695.4,2344.2 684.1,2336.8 697.6,2336.7"/>
<polygon points="657.6,2371.3 657.1,2364.8 656.2,2358.6 662,2361.2 668.2,2364.7 662.3,2367.5"/>
<polygon points="736.5,2373.9 733.9,2369 735.9,2362.6 738.6,2368.8"/>
<polygon points="930.4,2415.1 927.4,2410.4 933.9,2400 935.1,2412.2"/>
<polygon points="616.4,2474.3 612.6,2467.1 614,2462.9 617,2466.2"/>
<polygon points="653.4,2406.6 655.9,2400.7 661.8,2399.9 659.7,2405.4"/>
<polygon points="645.7,2442 641,2442.1 639.2,2437.7 641,2433.9 646.7,2433.7 647.3,2438.9"/>
<polygon points="700.1,2450.6 693.2,2447.7 690.3,2447.9 690.8,2442.9 696.7,2436.7 698.3,2443.2"/>
<polygon points="635.3,2440.2 632.9,2436.3 635.7,2428.5 637.9,2436.5"/>
<polygon points="636.7,2416.2 629.7,2415.3 627.7,2411.5 631.9,2411"/>
<polygon points="651.3,2423.7 647.2,2418.2 641.7,2415.7 647.8,2413.9 654.7,2411.5 651.4,2417.2"/>
<polygon points="726,2416.9 721.9,2415.8 718.3,2408.9 725,2412.8"/>
<polygon points="703.8,2414.8 710,2410.1 717.3,2411.3 711.4,2415.8"/>
<polygon points="825.2,2466.6 829.5,2460 840.4,2457.9 833.1,2466.2"/>
<polygon points="765.4,2472.2 762.3,2473 759.3,2471.4 760.6,2468 763.3,2466.9 765.9,2468.5"/>
<polygon points="672.2,2487 667.9,2481.8 668.9,2475.9 673,2480.3"/>
<polygon points="633.5,2535.2 633.2,2531.1 634.6,2529 638.3,2528.9 640.9,2533.2 637.7,2535.6"/>
<polygon points="665.2,2540.6 657.8,2539.1 653.1,2534.2 659.8,2535.3"/>
<polygon points="704.3,2548.4 701.3,2542.4 706.1,2535.4 708.8,2543.5"/>
<polygon points="759.7,2490.1 759.7,2486.1 765.8,2483.3 763.7,2489.6"/>
<polygon points="812.4,2503.5 806.4,2506.4 790.9,2503.3 806.5,2500.5"/>
<polygon points="907.4,2473.2 907.7,2469.5 907.6,2467.7 911.4,2467.6 915.9,2469.9 912.5,2473"/>
<polygon points="646,2573.1 640.3,2573.4 632.5,2564 644.2,2567.7"/>
<polygon points="727.1,2583.3 723.2,2579.7 718.7,2576.3 724.4,2574.2 732.4,2571 728.8,2578.3"/>
<polygon points="842.5,2551.7 833.3,2553.7 830.8,2549.1 835,2545.9"/>
<polygon points="786,2567.7 780.2,2568.8 774.4,2561.1 784,2562.2"/>
<polygon points="766.3,2576.1 762.3,2569.5 765.2,2566.5 768.6,2568.8"/>
<polygon points="666.5,2638.7 659.4,2638 659.7,2633.6 663.9,2632.1"/>
<polygon points="695.8,2670.7 697.2,2664.2 702.1,2659 706.1,2663.8 708.4,2666.8 703.7,2670.6"/>
<polygon points="715,2640.8 710.9,2635.7 714.3,2620 718.8,2635.4"/>
<polygon points="830.8,2631.6 837.8,2625.5 844.6,2626.8 840.1,2632.1"/>
<polygon points="823.8,2665.1 816,2660.9 816.9,2656 821.8,2656.5"/>
<polygon points="960.5,2663.5 962.7,2654 973.3,2646.1 968.9,2658.6"/>
<polygon points="770.1,2722.2 766.9,2716.4 768.7,2712.3 771.6,2715.8"/>
<polygon points="724.6,2722.7 730,2714.1 739.4,2709.2 733.7,2718.1"/>
<polygon points="902.4,2703.1 898.8,2697.8 899.5,2687.5 903.8,2696.8"/>
</g></g>
</g>
<clipPath id="cp0_2"><rect x="979" y="1930" width="398.5" height="399"/></clipPath>
<g clip-path="url(#cp0_2)">
<rect x="979" y="1930" width="398.5" height="399" fill="#f6f4fc"/>
<g filter="url(#cblur)">
<g fill="rgb(200,170,245)" stroke="rgb(200,170,245)" stroke-width="5" stroke-linejoin="round">
<polygon points="1064.8,1939.4 1101.2,1939.4 1091.5,1958.9 1086.6,2012.3 1096.3,2041.5 1074.5,2005 1081.8,1958.9"/>
<polygon points="980.7,2046.3 1023.4,2041.5 1033.2,2029.3 1047.7,2048.8 1038,2065.8 1018.6,2053.6 980.7,2056.1"/>
<polygon points="980.7,1968.6 999.2,1966.2 989.4,1983.2 980.7,1992.9"/>
<polygon points="1110.9,2128.9 1140.1,2116.8 1164.4,2111.9 1191.1,2087.6 1198.4,2104.6 1178.9,2119.2 1193.5,2148.4 1183.8,2172.7 1169.2,2153.2 1161.9,2126.5 1130.3,2133.8"/>
<polygon points="1222.7,2182.4 1261.5,2172.7 1285.8,2138.7 1276.1,2163 1256.7,2201.8 1213,2206.7 1203.2,2260.1 1188.7,2211.5"/>
<polygon points="1140.1,2323.3 1174.1,2294.1 1188.7,2279.6 1290.7,2286.9 1290.7,2296.6 1191.1,2294.1 1164.4,2323.3"/>
<polygon points="980.7,2206.7 1025.9,2218.8 1018.6,2228.6 980.7,2231"/>
<polygon points="1358.7,2158.1 1375.7,2143.5 1375.7,2177.5"/>
</g>
<g fill="rgb(120,70,225)">
<polygon points="1067.2,1944.2 1099.3,1944.2 1090.7,1961.3 1086.5,2008.4 1095,2034 1075.8,2002 1082.2,1961.3"/>
<polygon points="985.1,2046.6 1022.7,2042.4 1031.3,2031.7 1044.1,2048.8 1035.6,2063.7 1018.5,2053 985.1,2055.2"/>
<polygon points="981.5,1969.7 997.8,1967.5 989.2,1982.5 981.5,1991.1"/>
<polygon points="1117.5,2128.8 1143.1,2118.1 1164.5,2113.8 1188,2092.4 1194.5,2107.4 1177.4,2120.2 1190.2,2145.9 1181.6,2167.3 1168.8,2150.2 1162.4,2126.6 1134.6,2133.1"/>
<polygon points="1224.6,2183.6 1258.8,2175 1280.2,2145.1 1271.6,2166.5 1254.5,2200.7 1216,2204.9 1207.5,2252 1194.6,2209.2"/>
<polygon points="1147.9,2320.5 1177.9,2294.8 1190.7,2282 1280.5,2288.4 1280.5,2297 1192.8,2294.8 1169.3,2320.5"/>
<polygon points="983.2,2208.4 1022.9,2219.1 1016.5,2227.7 983.2,2229.8"/>
<polygon points="1360.1,2158.3 1375.1,2145.5 1375.1,2175.4"/>
</g>
<g fill="rgb(80,20,205)">
<polygon points="1072.9,1955.4 1094.8,1955.4 1089,1967.1 1086.1,1999.1 1091.9,2016.6 1078.8,1994.8 1083.1,1967.1"/>
<polygon points="995.4,2047.3 1021.1,2044.4 1026.9,2037.1 1035.6,2048.8 1029.8,2059 1018.1,2051.7 995.4,2053.1"/>
<polygon points="983.4,1972.2 994.5,1970.8 988.7,1981 983.4,1986.8"/>
<polygon points="1132.8,2128.4 1150.3,2121.1 1164.9,2118.2 1180.9,2103.6 1185.3,2113.8 1173.6,2122.6 1182.4,2140.1 1176.6,2154.6 1167.8,2143 1163.4,2127 1144.5,2131.3"/>
<polygon points="1229,2186.3 1252.3,2180.4 1266.9,2160 1261.1,2174.6 1249.4,2197.9 1223.2,2200.9 1217.3,2232.9 1208.6,2203.8"/>
<polygon points="1166.3,2313.9 1186.7,2296.4 1195.5,2287.6 1256.7,2292 1256.7,2297.8 1196.9,2296.4 1180.9,2313.9"/>
<polygon points="989,2212.5 1016.1,2219.8 1011.7,2225.6 989,2227.1"/>
<polygon points="1363.3,2158.7 1373.5,2150 1373.5,2170.4"/>
</g></g>
</g>
<clipPath id="cp96_2"><rect x="979" y="2341" width="398.5" height="399"/></clipPath>
<g clip-path="url(#cp96_2)">
<rect x="979" y="2341" width="398.5" height="399" fill="#fff"/>
<g filter="url(#cblur)">
<g fill="rgb(215,160,245)" stroke="rgb(215,160,245)" stroke-width="8" stroke-linejoin="round" opacity="0.9">
<polygon points="1162.7,2442.1 1167.6,2415.8 1198.5,2380.6 1183.2,2424.8"/>
<polygon points="1252.8,2408.4 1236.5,2400.6 1225.8,2373.1 1249.5,2390.7"/>
<polygon points="1217.3,2369.3 1188.6,2376.3 1151.5,2363.5 1190.3,2357.5"/>
<polygon points="1267.4,2418.7 1270.2,2394.9 1292.2,2376.1 1286.7,2404.6"/>
<polygon points="1284.7,2365.8 1298.1,2339.4 1335.6,2328.2 1313.9,2360.8"/>
<polygon points="1363.9,2347.9 1335.6,2351.1 1316.8,2333 1342.5,2329"/>
<polygon points="1314.4,2411 1330.6,2400.5 1338.2,2387.7 1344.9,2404 1340,2421.4 1329.7,2414.7"/>
<polygon points="1332.6,2386 1328.3,2367.6 1340.7,2332.3 1342.1,2369.7"/>
<polygon points="1330.8,2370.6 1314.7,2351.3 1320.6,2310 1339.6,2347.1"/>
<polygon points="1346.7,2402.1 1380.8,2377.7 1420.4,2375.3 1388.5,2398.9"/>
<polygon points="1333.1,2372.6 1319.3,2354.3 1327.5,2331.6 1341.5,2351.3"/>
<polygon points="1360.2,2405.9 1364.1,2376.1 1383.8,2364.2 1383.8,2387.2"/>
<polygon points="1294.9,2408 1315.9,2384 1332.4,2386.4 1326.2,2401.9"/>
<polygon points="1341.5,2430.5 1297.7,2406 1284.7,2378.9 1312.9,2389.2"/>
<polygon points="1362.6,2358.9 1337.1,2353.6 1328.5,2330.4 1352.9,2334.7"/>
<polygon points="1095.4,2493.9 1066,2469.7 1064.8,2452.8 1080.6,2458.7"/>
<polygon points="1086.9,2421.8 1056.7,2424.6 1037.4,2414.4 1058.9,2410.3"/>
<polygon points="1101.2,2461.8 1100.6,2447.5 1105.1,2430.9 1118.5,2441 1132.6,2447.6 1117.4,2458.1"/>
<polygon points="1060.9,2501 1047.2,2468.7 1030.7,2437.2 1060.9,2448.2 1090.3,2454.3 1067.3,2471.2"/>
<polygon points="1050.3,2426.1 1071.2,2405.7 1088.2,2412.9 1079.4,2429.1"/>
<polygon points="1058.7,2445.9 1103.9,2428.2 1133.3,2433.1 1107.3,2447.5"/>
<polygon points="1089,2443.4 1106.4,2425.5 1136.7,2416.5 1113.4,2437.8"/>
<polygon points="1101,2412.2 1121.9,2396.2 1143.2,2380.3 1147.2,2407.2 1150.1,2432.9 1125.4,2424.4"/>
<polygon points="1184.6,2425.2 1198.6,2393.2 1226.4,2384.8 1217.1,2412.3"/>
<polygon points="1173.2,2455.3 1214.2,2428.8 1235.3,2434.8 1221.9,2452.2"/>
<polygon points="1275.3,2470.9 1252.2,2444.7 1231.6,2432.8 1254.9,2418.6 1289.4,2414.3 1277.9,2439.5"/>
<polygon points="1344.5,2490 1362.6,2433 1380.3,2413.9 1376.9,2439.7"/>
<polygon points="1312.7,2500.7 1341.8,2455 1363.2,2449.1 1357.8,2470.6"/>
<polygon points="1299.9,2455 1301,2420 1327.4,2393.7 1325.3,2430.9"/>
<polygon points="1360.7,2456 1317.1,2433.2 1310.5,2409 1335.1,2414"/>
<polygon points="1371.6,2450.1 1352.6,2451.2 1347.8,2446.3 1340.8,2432.2 1356,2419.6 1371,2425.6"/>
<polygon points="1024.8,2518.4 1009.5,2498.5 1018.7,2444.1 1036.6,2496.3"/>
<polygon points="1008.6,2525.7 1012.9,2501.9 1034.5,2482 1027.5,2510.5"/>
<polygon points="985.9,2541.5 969.4,2531.7 964.3,2496.8 987.5,2506.6 1007.9,2519 989.5,2533.9"/>
<polygon points="1092.2,2565.2 1091.2,2546.2 1118.7,2506.5 1107.1,2553.4"/>
<polygon points="1070.7,2503.8 1046.2,2505.5 1017,2474 1059.2,2482.1"/>
<polygon points="1094.6,2532.1 1079.1,2506.1 1090.3,2490 1104.5,2503.4"/>
<polygon points="1092.9,2580.8 1063.7,2547.1 1054.9,2513.2 1079.3,2538.3"/>
<polygon points="1087.1,2499.9 1045.8,2495 1008.4,2469.9 1053,2476.1"/>
<polygon points="1046.4,2479.9 1053.6,2467.9 1062.9,2459.6 1073,2472.7 1070.5,2486.8 1058.4,2490.8"/>
<polygon points="1036.7,2513.5 1032.3,2482.6 1053,2449.2 1055.3,2488.4"/>
<polygon points="1061.8,2511.2 1059.4,2489.6 1079,2466.4 1078.1,2496.7"/>
<polygon points="1031,2505.8 1046,2448.6 1063.8,2430.6 1062.7,2455.8"/>
<polygon points="1091.5,2537.3 1069.8,2522.5 1051.2,2517.9 1067.3,2506.9 1099.2,2494 1081.8,2517.5"/>
<polygon points="1126.6,2519.6 1132.8,2505.1 1168.5,2485.7 1142.1,2516.6"/>
<polygon points="1178,2564.5 1148.3,2543.1 1133.5,2499.6 1168.7,2529.2"/>
<polygon points="1204.8,2579.4 1193,2551.2 1178.8,2529.3 1202.9,2533.8 1228.9,2541.1 1209,2553.6"/>
<polygon points="1241.8,2500.3 1239.1,2481.7 1257.2,2462.6 1256.8,2488.9"/>
<polygon points="1187.2,2585.1 1177,2527.7 1187.9,2504.6 1198.4,2527.9"/>
<polygon points="1197.6,2560.5 1195.6,2535.8 1225.1,2500.8 1217.7,2546"/>
<polygon points="1285.1,2543.6 1267.1,2538.9 1254.4,2514.2 1275,2509.6 1293.8,2506.4 1290.9,2529.2"/>
<polygon points="1379.6,2518.9 1363.4,2527.1 1318.1,2518.8 1363.5,2510.7"/>
<polygon points="1296.8,2505.3 1297.5,2490.8 1316.2,2486.7 1324.5,2498.6 1316.2,2516.7 1300.2,2510.8"/>
<polygon points="1397.8,2573.2 1376.8,2561 1367.5,2511.5 1401,2549.2"/>
<polygon points="1328.1,2499.9 1342.4,2479.2 1367.8,2468 1351.4,2490.4"/>
<polygon points="1378.6,2526.6 1368.8,2508.9 1370.5,2484.1 1390.3,2490.6 1403.8,2497.4 1394.5,2514.3"/>
<polygon points="1324.2,2532.1 1355.4,2500.1 1389.1,2496.4 1367.9,2522.8"/>
<polygon points="1363.4,2504 1344.4,2485.5 1341.1,2456.4 1361.3,2477.6"/>
<polygon points="999.2,2594.5 984.7,2562.9 991,2532.5 1005.1,2560.2"/>
<polygon points="1102.9,2590.9 1082.1,2571.8 1068.4,2560.3 1084.2,2547.4 1106.1,2539.4 1106.6,2561.5"/>
<polygon points="1060,2584.4 1051.5,2568.5 1068.2,2542.4 1082.7,2558.8 1084.2,2568.6 1075.4,2582.4"/>
<polygon points="1031.3,2626.8 1026.2,2593.1 1049,2563.3 1053.1,2600.6"/>
<polygon points="1076.1,2593.3 1086.1,2568.1 1092.6,2553 1110.7,2561.8 1121,2590.5 1098.3,2589.7"/>
<polygon points="1091.6,2553.4 1092.3,2536.4 1109.3,2521.5 1118.6,2536 1131.4,2546.1 1109.6,2553.5"/>
<polygon points="1162.4,2611.5 1157.7,2583.7 1148.1,2577.2 1165.8,2567.4 1199.5,2562 1183.5,2586.6"/>
<polygon points="1228.3,2625.9 1196.2,2617.6 1180.4,2593.9 1208.3,2599.4"/>
<polygon points="1259.4,2606.3 1223.1,2603.2 1212.6,2587.1 1231.3,2583.1"/>
<polygon points="1279.4,2561.8 1248.7,2570.1 1227.7,2579.3 1235.6,2560.4 1232.5,2534.5 1249.5,2555.6"/>
<polygon points="1343.3,2604.8 1304.3,2611.4 1267.4,2601.4 1305,2594.7"/>
<polygon points="1291.7,2550.8 1257.6,2537 1241.6,2518 1265.5,2525"/>
<polygon points="1241.3,2550.1 1235.8,2535.6 1241.1,2519.7 1256.2,2523.7 1268.5,2536.1 1255.1,2546.9"/>
<polygon points="1281.7,2574.2 1283.1,2539.2 1298.8,2519.2 1300.4,2544.6"/>
<polygon points="1227.2,2567.4 1264,2546.9 1283.3,2554.3 1269.3,2569.5"/>
<polygon points="1258.3,2611.4 1271.1,2576.2 1300,2543.4 1284,2584.1"/>
<polygon points="1344.8,2630.4 1358,2600.4 1393.8,2564.1 1369.6,2609"/>
<polygon points="1353.6,2635.4 1324.6,2610.5 1314.6,2574 1343.4,2598.5"/>
<polygon points="1318.3,2566.8 1327.7,2542 1351.3,2528.4 1341.4,2553.7"/>
<polygon points="1280.7,2622.3 1315.6,2589 1344.7,2581.2 1325.5,2604.4"/>
<polygon points="1351.5,2613.6 1349.9,2580.7 1331.8,2557.7 1363.8,2564.4 1391.2,2575.4 1371,2589"/>
<polygon points="1355.1,2608.1 1361.5,2585.3 1384.7,2570.4 1375.7,2596.5"/>
<polygon points="1356.8,2559.5 1366.4,2549.5 1383.7,2547 1382.9,2561.2 1381.7,2568.8 1369.1,2568.8"/>
<polygon points="970.1,2647.4 991.2,2635.3 1035.5,2642.4 992.8,2656.2"/>
<polygon points="969.8,2628 981.8,2597.7 1000.4,2599.4 1000.9,2618"/>
<polygon points="1046.6,2704.4 1027.7,2659.5 1037.8,2638.8 1052.9,2656.1"/>
<polygon points="1054.8,2641.9 1048.6,2629.1 1048.6,2614.5 1062.2,2616.1 1073.8,2623.5 1065.5,2634.2"/>
<polygon points="1033.3,2647.2 1046.7,2619.7 1082.8,2608 1063.2,2640.4"/>
<polygon points="1063.8,2666.6 1050.3,2661.9 1035.1,2667.8 1045.4,2650.3 1051.5,2638 1060.5,2648.4"/>
<polygon points="1191.3,2656.3 1175.2,2659.5 1143.4,2640.5 1180.3,2644.2"/>
<polygon points="1181.1,2680.7 1166.9,2657.9 1173.1,2630.2 1187.5,2654.6"/>
<polygon points="1318.2,2674.9 1302.9,2670.5 1299.1,2667.3 1298.8,2652.5 1324.7,2641.3 1326.3,2660.6"/>
<polygon points="1286.3,2635.4 1272.4,2624.1 1258.2,2613.9 1277,2603 1307.4,2610.5 1292.3,2625.8"/>
<polygon points="1303.2,2704.1 1284,2692.7 1267.8,2652.4 1299.5,2682.1"/>
<polygon points="1276.7,2689.5 1220.2,2676.9 1199.8,2661.4 1225.4,2662.7"/>
<polygon points="1260,2690.8 1240.5,2682.5 1224.9,2677.2 1236.6,2665 1239.3,2648.3 1251.8,2665.8"/>
<polygon points="1315.6,2633.2 1279.8,2637.2 1237.7,2621.2 1282.7,2618.6"/>
<polygon points="1267.7,2699.3 1260.5,2669.3 1230.5,2656.1 1265.5,2657 1297.7,2656.5 1273.9,2671"/>
<polygon points="1413.9,2645.7 1368.8,2643.6 1338.4,2621.9 1375.7,2621.6"/>
<polygon points="992.7,2762.3 998.6,2735.3 1046.3,2700 1018.6,2752.5"/>
<polygon points="1025.2,2756.7 1026.9,2727.7 1055.2,2694.7 1047,2737.4"/>
<polygon points="1061.8,2714.8 1040.9,2712.3 1021.3,2674.6 1059.2,2693.9"/>
<polygon points="971.6,2734.7 1018.1,2717 1050.5,2721 1021.4,2735.8"/>
<polygon points="1023,2701.2 1036.9,2691.6 1040.9,2680.5 1051.6,2694.9 1057.9,2714.8 1040.3,2712"/>
<polygon points="1051.7,2722.9 1033.9,2714 1017.8,2691.3 1041.9,2686 1056.7,2687.4 1060,2704.8"/>
<polygon points="1209.7,2695 1167.4,2703.2 1151.7,2691.4 1168.7,2681.7"/>
<polygon points="1081.2,2728.1 1106.8,2714.3 1144.6,2725.2 1108,2739.4"/>
<polygon points="1122.4,2699.2 1102.8,2698.7 1087.9,2693.4 1093.6,2675.9 1104.3,2668.3 1118.1,2675.2"/>
<polygon points="1113.5,2737.3 1145.5,2720 1163.4,2725.5 1149.8,2738.4"/>
<polygon points="1155.1,2756 1171.1,2720.3 1202.1,2688.9 1183.2,2728.8"/>
<polygon points="1186.6,2736.3 1157.7,2723.3 1138.5,2698.2 1167.4,2711.2"/>
<polygon points="1141.4,2694.5 1123.9,2691.2 1115.7,2693.6 1115.6,2676.3 1128.6,2661.1 1140.1,2672.2"/>
<polygon points="1177.8,2751 1182.8,2733.3 1212,2712.5 1194.7,2743.9"/>
<polygon points="1225.7,2735.3 1226.7,2718.3 1231,2706.7 1245.2,2710.3 1252.7,2715.3 1248.6,2728.5"/>
<polygon points="1283,2691.9 1255.3,2689 1231.7,2695.6 1242.9,2671.4 1253.4,2644.1 1266.2,2668.7"/>
<polygon points="1315.6,2760.8 1309.5,2745.5 1305.5,2724.4 1321.9,2733.5 1332.8,2738.8 1324.2,2748.9"/>
<polygon points="1342.5,2717 1317.7,2719.9 1272.4,2702.5 1320.9,2704.4"/>
<polygon points="1340.1,2711.6 1323.9,2722.4 1301.6,2718.7 1304.8,2700.7 1314.5,2690.3 1329.9,2697.3"/>
<polygon points="1337.5,2698.9 1318.9,2694.5 1300.4,2679.4 1318,2671.4 1330.2,2657.6 1334.4,2680"/>
<polygon points="1346.6,2747.2 1359.2,2731.4 1405.8,2731.3 1365.4,2754.6"/>
<polygon points="1409.6,2681.2 1379,2681.4 1360.7,2693.4 1363.4,2667.1 1380.6,2629.4 1389.7,2661.9"/>
<polygon points="1375.4,2768.7 1360.9,2740.1 1359,2688.9 1377.4,2736.7"/>
</g>
<g fill="rgb(95,20,235)">
<polygon points="1165,2438.2 1169.2,2415.8 1195.4,2385.9 1182.4,2423.5"/>
<polygon points="1251.1,2406.2 1237.2,2399.5 1228.1,2376.1 1248.3,2391.1"/>
<polygon points="1212.7,2368.9 1188.4,2374.8 1156.8,2364 1189.8,2358.8"/>
<polygon points="1269.2,2415.6 1271.5,2395.5 1290.3,2379.4 1285.6,2403.7"/>
<polygon points="1288.2,2363.2 1299.6,2340.8 1331.5,2331.3 1313,2358.9"/>
<polygon points="1360.3,2346.7 1336.2,2349.4 1320.2,2334.1 1342.1,2330.7"/>
<polygon points="1317.2,2410.3 1330.9,2401.4 1337.5,2390.5 1343.1,2404.4 1339,2419.2 1330.2,2413.4"/>
<polygon points="1333.1,2382.7 1329.4,2367 1340,2337 1341.2,2368.8"/>
<polygon points="1330.1,2366.7 1316.5,2350.3 1321.5,2315.3 1337.6,2346.8"/>
<polygon points="1352.3,2400.1 1381.3,2379.3 1415,2377.3 1387.8,2397.3"/>
<polygon points="1332.7,2369.6 1321,2354 1327.9,2334.7 1339.8,2351.5"/>
<polygon points="1362.1,2402.5 1365.5,2377.2 1382.2,2367.1 1382.1,2386.7"/>
<polygon points="1298.3,2406 1316.1,2385.7 1330.2,2387.7 1324.8,2400.9"/>
<polygon points="1336.7,2426.1 1299.4,2405.2 1288.4,2382.2 1312.3,2391"/>
<polygon points="1360,2356.7 1338.3,2352.3 1331,2332.5 1351.7,2336.1"/>
<polygon points="1092.6,2490.1 1067.6,2469.6 1066.6,2455.2 1080.1,2460.3"/>
<polygon points="1082.8,2421.2 1057.2,2423.6 1040.8,2414.9 1059,2411.4"/>
<polygon points="1102.9,2459.7 1102.4,2447.6 1106.2,2433.4 1117.6,2442 1129.6,2447.6 1116.7,2456.6"/>
<polygon points="1060.7,2495.4 1049,2467.9 1035,2441.1 1060.7,2450.5 1085.7,2455.7 1066.1,2470"/>
<polygon points="1053.6,2425 1071.4,2407.6 1085.8,2413.7 1078.3,2427.5"/>
<polygon points="1065,2444.8 1103.5,2429.7 1128.5,2433.9 1106.3,2446.2"/>
<polygon points="1092.4,2441.5 1107.2,2426.3 1132.9,2418.7 1113.1,2436.7"/>
<polygon points="1105.6,2411.7 1123.4,2398.1 1141.4,2384.6 1144.9,2407.5 1147.3,2429.3 1126.3,2422.1"/>
<polygon points="1187.9,2422 1199.8,2394.8 1223.4,2387.7 1215.5,2411.1"/>
<polygon points="1178.9,2453.4 1213.7,2430.9 1231.7,2436 1220.3,2450.8"/>
<polygon points="1273.6,2465.8 1253.9,2443.5 1236.4,2433.4 1256.2,2421.3 1285.5,2417.7 1275.8,2439.1"/>
<polygon points="1347.7,2483.1 1363.1,2434.6 1378.1,2418.4 1375.3,2440.4"/>
<polygon points="1317.4,2495.9 1342.1,2457.1 1360.3,2452.1 1355.7,2470.4"/>
<polygon points="1302,2450.4 1302.8,2420.8 1325.3,2398.4 1323.5,2430"/>
<polygon points="1356.2,2451.8 1319.2,2432.4 1313.6,2411.8 1334.5,2416.1"/>
<polygon points="1369.3,2448.2 1353.2,2449.1 1349.1,2445 1343.2,2433 1356.1,2422.3 1368.8,2427.4"/>
<polygon points="1024.4,2514.1 1011.4,2497.1 1019.3,2450.9 1034.5,2495.2"/>
<polygon points="1010.5,2522.6 1014.1,2502.3 1032.5,2485.5 1026.5,2509.7"/>
<polygon points="985.6,2538.5 971.6,2530.2 967.2,2500.5 987,2508.9 1004.3,2519.4 988.7,2532.1"/>
<polygon points="1093.7,2561.9 1092.9,2545.7 1116.2,2511.9 1106.4,2551.8"/>
<polygon points="1067.3,2501.9 1046.5,2503.4 1021.7,2476.6 1057.6,2483.5"/>
<polygon points="1094.3,2528.5 1081.1,2506.3 1090.6,2492.7 1102.7,2504.1"/>
<polygon points="1089.9,2575.4 1065,2546.8 1057.6,2518 1078.3,2539.3"/>
<polygon points="1081.3,2497.7 1046.2,2493.5 1014.4,2472.2 1052.3,2477.5"/>
<polygon points="1048.5,2479.4 1054.7,2469.1 1062.5,2462.1 1071.2,2473.3 1069,2485.2 1058.8,2488.6"/>
<polygon points="1037.9,2508.9 1034.1,2482.7 1051.7,2454.3 1053.7,2487.7"/>
<polygon points="1063,2508.2 1061,2489.8 1077.6,2470.1 1076.8,2495.9"/>
<polygon points="1034,2499 1046.8,2450.3 1061.8,2435 1060.9,2456.5"/>
<polygon points="1089.3,2534.1 1070.9,2521.5 1055,2517.6 1068.7,2508.3 1095.8,2497.3 1081.1,2517.3"/>
<polygon points="1129,2517.7 1134.2,2505.3 1164.6,2488.9 1142.2,2515.1"/>
<polygon points="1174.9,2560 1149.7,2541.7 1137,2504.8 1166.9,2529.9"/>
<polygon points="1204.5,2574.7 1194.5,2550.7 1182.4,2532.1 1202.9,2536 1225,2542.1 1208.1,2552.8"/>
<polygon points="1242.9,2497.8 1240.6,2482 1256,2465.7 1255.6,2488.1"/>
<polygon points="1187.2,2577.8 1178.6,2529 1187.9,2509.4 1196.8,2529.2"/>
<polygon points="1199.3,2556.8 1197.6,2535.8 1222.7,2506 1216.4,2544.4"/>
<polygon points="1284,2540.6 1268.7,2536.6 1257.9,2515.6 1275.4,2511.7 1291.4,2509 1288.9,2528.4"/>
<polygon points="1376.1,2518.9 1362.3,2525.9 1323.9,2518.9 1362.4,2511.9"/>
<polygon points="1298.6,2504.7 1299.2,2492.4 1315,2489 1322.1,2499.1 1315,2514.4 1301.5,2509.4"/>
<polygon points="1396,2569.6 1378.2,2559.2 1370.2,2517.1 1398.7,2549.1"/>
<polygon points="1331,2497.6 1343.2,2480 1364.8,2470.5 1350.8,2489.5"/>
<polygon points="1379.5,2523.2 1371.1,2508.2 1372.6,2487 1389.4,2492.6 1400.9,2498.3 1393,2512.7"/>
<polygon points="1329.4,2529.2 1356,2502 1384.6,2498.8 1366.6,2521.3"/>
<polygon points="1361.7,2500.6 1345.7,2484.8 1342.8,2460 1360,2478.1"/>
<polygon points="998.6,2589.7 986.2,2562.9 991.6,2537 1003.6,2560.6"/>
<polygon points="1101.2,2586.5 1083.5,2570.3 1071.9,2560.6 1085.3,2549.5 1104,2542.8 1104.4,2561.6"/>
<polygon points="1061.6,2581.9 1054.4,2568.4 1068.5,2546.2 1080.9,2560.1 1082.1,2568.4 1074.6,2580.2"/>
<polygon points="1032.6,2622.2 1028.2,2593.5 1047.7,2568.2 1051.1,2599.9"/>
<polygon points="1079.3,2590.7 1087.8,2569.3 1093.3,2556.5 1108.7,2563.9 1117.4,2588.3 1098.1,2587.7"/>
<polygon points="1094.2,2551.6 1094.8,2537.1 1109.2,2524.4 1117.1,2536.8 1128,2545.3 1109.5,2551.6"/>
<polygon points="1163.5,2607 1159.5,2583.4 1151.3,2577.9 1166.4,2569.5 1195,2564.9 1181.4,2585.8"/>
<polygon points="1224.5,2623.4 1197.2,2616.3 1183.8,2596.2 1207.6,2600.9"/>
<polygon points="1255.3,2604.6 1224.4,2602 1215.4,2588.3 1231.4,2584.8"/>
<polygon points="1274.3,2561.6 1248.3,2568.6 1230.4,2576.5 1237.1,2560.3 1234.4,2538.4 1248.9,2556.3"/>
<polygon points="1337.6,2604.5 1304.4,2610.2 1273,2601.7 1305,2595.9"/>
<polygon points="1287.5,2548.1 1258.5,2536.4 1245,2520.2 1265.3,2526.1"/>
<polygon points="1242.5,2547.8 1237.9,2535.6 1242.3,2522 1255.2,2525.5 1265.6,2536 1254.3,2545.1"/>
<polygon points="1283.1,2569.7 1284.3,2540 1297.7,2523 1299,2544.5"/>
<polygon points="1232.2,2566.2 1263.5,2548.8 1279.9,2555.1 1268,2568"/>
<polygon points="1261.3,2606.5 1272.2,2576.5 1296.8,2548.7 1283.1,2583.3"/>
<polygon points="1348,2626 1359.3,2600.5 1389.7,2569.7 1369.2,2607.8"/>
<polygon points="1350.7,2630.8 1326,2609.6 1317.5,2578.5 1342,2599.4"/>
<polygon points="1320.7,2564 1328.8,2542.8 1348.8,2531.3 1340.4,2552.8"/>
<polygon points="1286.1,2618.9 1315.7,2590.5 1340.5,2583.9 1324.2,2603.7"/>
<polygon points="1352.8,2608.6 1351.4,2580.7 1336,2561.1 1363.2,2566.8 1386.5,2576.1 1369.3,2587.7"/>
<polygon points="1357.2,2605.4 1362.7,2586 1382.4,2573.4 1374.8,2595.5"/>
<polygon points="1359.3,2559.4 1367.5,2551 1382.2,2548.8 1381.4,2560.9 1380.5,2567.4 1369.8,2567.3"/>
<polygon points="974.2,2647.1 992.1,2636.8 1029.8,2642.8 993.5,2654.6"/>
<polygon points="972.6,2625.4 982.8,2599.7 998.6,2601.1 999,2617"/>
<polygon points="1045.8,2698.4 1029.7,2660.2 1038.3,2642.7 1051.2,2657.4"/>
<polygon points="1055.4,2639.6 1050.1,2628.7 1050.1,2616.3 1061.7,2617.7 1071.6,2624 1064.5,2633.1"/>
<polygon points="1036.8,2644.5 1048.2,2621.1 1078.8,2611.1 1062.2,2638.7"/>
<polygon points="1061.9,2664.9 1050.4,2660.9 1037.5,2666 1046.3,2651.1 1051.4,2640.6 1059.1,2649.5"/>
<polygon points="1188.5,2655.4 1174.8,2658.1 1147.7,2642 1179.1,2645.1"/>
<polygon points="1180.5,2677 1168.4,2657.6 1173.7,2634.1 1186,2654.8"/>
<polygon points="1317.2,2672.8 1304.2,2669.1 1301,2666.4 1300.8,2653.8 1322.8,2644.3 1324.1,2660.7"/>
<polygon points="1285.7,2632.9 1273.8,2623.3 1261.8,2614.6 1277.8,2605.4 1303.7,2611.8 1290.8,2624.8"/>
<polygon points="1301,2700.9 1284.7,2691.2 1271,2657 1297.9,2682.2"/>
<polygon points="1269.8,2687 1221.8,2676.3 1204.4,2663.1 1226.2,2664.2"/>
<polygon points="1257.3,2687.9 1240.8,2680.9 1227.5,2676.4 1237.4,2666 1239.7,2651.8 1250.3,2666.7"/>
<polygon points="1310.1,2632.3 1279.7,2635.7 1243.9,2622.1 1282.1,2619.9"/>
<polygon points="1267.4,2694.6 1261.3,2669.1 1235.8,2657.9 1265.5,2658.7 1292.9,2658.2 1272.7,2670.5"/>
<polygon points="1407.9,2643.8 1369.6,2642 1343.8,2623.6 1375.5,2623.3"/>
<polygon points="995.9,2758.6 1000.9,2735.6 1041.5,2705.6 1017.9,2750.2"/>
<polygon points="1027.2,2752.6 1028.6,2727.9 1052.7,2699.8 1045.8,2736.1"/>
<polygon points="1059.4,2712.4 1041.7,2710.2 1025,2678.2 1057.2,2694.6"/>
<polygon points="978.2,2733.6 1017.7,2718.5 1045.3,2722 1020.5,2734.5"/>
<polygon points="1025.8,2700.9 1037.6,2692.8 1041,2683.3 1050.1,2695.6 1055.4,2712.4 1040.5,2710.1"/>
<polygon points="1050.5,2719.6 1035.3,2712.1 1021.7,2692.8 1042.2,2688.2 1054.8,2689.4 1057.6,2704.3"/>
<polygon points="1204.4,2694.7 1168.5,2701.6 1155.1,2691.7 1169.6,2683.4"/>
<polygon points="1085.5,2727.9 1107.3,2716.2 1139.4,2725.4 1108.3,2737.5"/>
<polygon points="1119.8,2697.1 1103.1,2696.6 1090.5,2692.1 1095.3,2677.3 1104.4,2670.8 1116.2,2676.7"/>
<polygon points="1118,2736.2 1145.1,2721.5 1160.4,2726.2 1148.8,2737.2"/>
<polygon points="1158.5,2751.2 1172.2,2720.8 1198.5,2694.1 1182.4,2728"/>
<polygon points="1183,2733.5 1158.5,2722.4 1142.1,2701 1166.7,2712.1"/>
<polygon points="1139.3,2692.5 1124.4,2689.7 1117.5,2691.8 1117.4,2677.1 1128.5,2664.2 1138.2,2673.6"/>
<polygon points="1179.9,2748.6 1184.2,2733.6 1208.9,2715.9 1194.3,2742.6"/>
<polygon points="1227.6,2732.8 1228.5,2718.4 1232.1,2708.6 1244.2,2711.6 1250.5,2715.8 1247.1,2727.1"/>
<polygon points="1278.9,2689.6 1255.3,2687.2 1235.2,2692.8 1244.8,2672.2 1253.7,2649 1264.6,2669.9"/>
<polygon points="1316,2758 1310.8,2745 1307.4,2727 1321.4,2734.8 1330.6,2739.3 1323.3,2747.8"/>
<polygon points="1338.1,2716.1 1317.1,2718.6 1278.6,2703.7 1319.8,2705.4"/>
<polygon points="1336.9,2710.8 1323.2,2720.1 1304.3,2716.9 1306.9,2701.6 1315.2,2692.8 1328.3,2698.7"/>
<polygon points="1335.3,2696.1 1319.5,2692.4 1303.8,2679.5 1318.8,2672.7 1329.1,2661 1332.7,2680.1"/>
<polygon points="1350,2746.3 1360.7,2732.8 1400.3,2732.8 1366,2752.6"/>
<polygon points="1405.3,2679.4 1379.2,2679.6 1363.7,2689.8 1366,2667.4 1380.6,2635.3 1388.3,2663"/>
<polygon points="1374.3,2763.5 1362,2739.1 1360.4,2695.6 1376,2736.3"/>
</g></g>
</g>
<clipPath id="cp0_3"><rect x="1389.5" y="1930" width="391.5" height="399"/></clipPath>
<g clip-path="url(#cp0_3)">
<rect x="1389.5" y="1930" width="391.5" height="399" fill="#fff"/>
<g filter="url(#cblur)">
<g fill="rgb(200,170,245)" stroke="rgb(200,170,245)" stroke-width="5" stroke-linejoin="round">
<polygon points="1458.3,1949.2 1492.4,1946.7 1489.9,1992.9 1502.1,2007.5 1494.8,2041.5 1475.3,2043.9 1470.5,1992.9"/>
<polygon points="1436.5,2031.8 1451,2017.2 1460.8,2060.9 1492.4,2070.6 1475.3,2080.3 1448.6,2075.5"/>
<polygon points="1506.9,1973.4 1572.5,1978.3 1543.4,1990.5 1528.8,2022 1521.5,2031.8 1523.9,1992.9"/>
<polygon points="1677,2090.1 1708.6,2087.6 1713.4,2133.8 1698.9,2124.1 1684.3,2109.5"/>
<polygon points="1504.5,2194.5 1533.7,2192.1 1572.5,2163 1587.1,2148.4 1611.4,2167.8 1621.1,2192.1 1592,2211.5 1557.9,2206.7 1533.7,2211.5"/>
<polygon points="1655.1,2182.4 1674.6,2158.1 1694,2155.7 1708.6,2177.5 1728,2167.8 1749.9,2172.7 1747.5,2201.8 1698.9,2204.3 1679.4,2201.8"/>
<polygon points="1528.8,2211.5 1548.2,2211.5 1550.7,2260.1 1577.4,2250.4 1582.2,2284.4 1562.8,2303.9 1543.4,2274.7 1523.9,2279.6"/>
<polygon points="1596.8,2226.1 1621.1,2223.7 1664.8,2250.4 1640.6,2260.1 1616.3,2245.6"/>
<polygon points="1582.2,2323.3 1616.3,2294.1 1650.3,2277.1 1645.4,2299 1601.7,2325.7"/>
</g>
<g fill="rgb(120,70,225)">
<polygon points="1461.3,1954.8 1491.3,1952.7 1489.1,1993.3 1499.8,2006.1 1493.4,2036.1 1476.3,2038.2 1472,1993.3"/>
<polygon points="1439.4,2034.7 1452.2,2021.8 1460.8,2060.3 1488.6,2068.9 1473.6,2077.4 1450.1,2073.2"/>
<polygon points="1510,1976.4 1567.8,1980.7 1542.1,1991.4 1529.3,2019.2 1522.9,2027.7 1525,1993.5"/>
<polygon points="1679.3,2092.3 1707.1,2090.2 1711.4,2130.8 1698.6,2122.3 1685.7,2109.4"/>
<polygon points="1512.1,2193.7 1537.8,2191.6 1572,2165.9 1584.8,2153.1 1606.2,2170.2 1614.8,2191.6 1589.1,2208.7 1559.2,2204.4 1537.8,2208.7"/>
<polygon points="1661,2182.1 1678.1,2160.8 1695.2,2158.6 1708,2177.9 1725.1,2169.3 1744.4,2173.6 1742.2,2199.2 1699.5,2201.4 1682.4,2199.2"/>
<polygon points="1531.6,2217.3 1548.7,2217.3 1550.8,2260.1 1574.4,2251.5 1578.6,2281.4 1561.5,2298.5 1544.4,2272.9 1527.3,2277.2"/>
<polygon points="1600.6,2227.9 1621.9,2225.8 1660.4,2249.3 1639,2257.9 1617.7,2245"/>
<polygon points="1586.7,2321 1616.6,2295.3 1646.5,2280.3 1642.3,2299.6 1603.8,2323.1"/>
</g>
<g fill="rgb(80,20,205)">
<polygon points="1468.3,1968 1488.7,1966.6 1487.3,1994.3 1494.6,2003 1490.2,2023.4 1478.5,2024.9 1475.6,1994.3"/>
<polygon points="1446.2,2041.5 1454.9,2032.7 1460.8,2059 1479.7,2064.8 1469.5,2070.6 1453.5,2067.7"/>
<polygon points="1517.3,1983.3 1556.7,1986.2 1539.2,1993.5 1530.4,2012.5 1526,2018.3 1527.5,1995"/>
<polygon points="1684.8,2097.6 1703.7,2096.2 1706.6,2123.9 1697.9,2118.1 1689.1,2109.3"/>
<polygon points="1530,2191.7 1547.5,2190.3 1570.8,2172.8 1579.5,2164 1594.1,2175.7 1600,2190.3 1582.5,2201.9 1562.1,2199 1547.5,2201.9"/>
<polygon points="1674.7,2181.5 1686.3,2166.9 1698,2165.5 1706.7,2178.6 1718.4,2172.8 1731.5,2175.7 1730.1,2193.2 1700.9,2194.6 1689.3,2193.2"/>
<polygon points="1538.1,2230.7 1549.8,2230.7 1551.3,2259.9 1567.3,2254.1 1570.2,2274.5 1558.6,2286.1 1546.9,2268.6 1535.2,2271.6"/>
<polygon points="1609.3,2232.1 1623.8,2230.7 1650.1,2246.7 1635.5,2252.6 1620.9,2243.8"/>
<polygon points="1597,2315.5 1617.4,2298 1637.8,2287.8 1634.9,2301 1608.7,2317"/>
</g></g>
</g>
<clipPath id="cp96_3"><rect x="1389.5" y="2341" width="391.5" height="399"/></clipPath>
<g clip-path="url(#cp96_3)">
<rect x="1389.5" y="2341" width="391.5" height="399" fill="#fff"/>
<g filter="url(#cblur)">
<g fill="rgb(200,150,245)" stroke="rgb(200,150,245)" stroke-width="8" stroke-linejoin="round" opacity="0.9">
<polygon points="1488.6,2391.5 1467.4,2379.1 1453.4,2348.1 1480.9,2368.1"/>
<polygon points="1501.7,2447.2 1481.1,2428 1469.3,2373 1501.6,2419"/>
<polygon points="1505.4,2371.5 1495.1,2355 1492.8,2301.8 1509.2,2352.5"/>
<polygon points="1539,2412 1522.7,2389.7 1518.7,2357.8 1536.6,2384.5"/>
<polygon points="1582.8,2365.1 1558.4,2346.5 1563.7,2329.4 1580.8,2334.6"/>
<polygon points="1530.1,2411 1536.6,2392.8 1565.5,2383.2 1549.3,2409"/>
<polygon points="1558,2425.4 1546.3,2412.5 1540.4,2407 1548.1,2397.3 1559.8,2393.1 1564.3,2404.7"/>
<polygon points="1580.6,2415.2 1551.9,2408.9 1515,2375.1 1561.9,2392.6"/>
<polygon points="1599.6,2345.1 1582,2351.6 1568.3,2352.4 1565.4,2334.2 1567.8,2313.2 1588.6,2323.1"/>
<polygon points="1571.6,2398 1570.8,2347.2 1583.5,2329 1589.4,2350.4"/>
<polygon points="1514.3,2409.8 1530.1,2397.4 1537.2,2372 1544.4,2399.4 1562.9,2420.4 1536.2,2412.8"/>
<polygon points="1566.5,2367.8 1554.8,2375 1536.8,2371.5 1542.2,2357.7 1553.6,2344.9 1562.1,2359.2"/>
<polygon points="1593.7,2392.4 1615.7,2381.1 1616.3,2359.2 1632.3,2384 1640.8,2402.7 1622.5,2405.7"/>
<polygon points="1647.8,2410.2 1628.9,2401 1629.4,2371.7 1652.6,2389.6"/>
<polygon points="1688.6,2340.3 1661.6,2349.7 1616.1,2330 1665.2,2323.9"/>
<polygon points="1616.5,2413.2 1615.1,2378.2 1625.9,2368 1631.8,2381.6"/>
<polygon points="1608.8,2386.6 1613.5,2360.2 1637.7,2329.8 1627.4,2367.3"/>
<polygon points="1652.1,2387.3 1639.9,2377.6 1632.6,2376.2 1638.4,2364.6 1656.8,2353.8 1655.8,2370.8"/>
<polygon points="1649.7,2376.4 1625.1,2385.6 1566.6,2367.3 1627.7,2362.1"/>
<polygon points="1609.1,2390 1637.6,2366.1 1670.2,2359.5 1645.3,2381.6"/>
<polygon points="1619.6,2406.8 1621.1,2377.8 1645.4,2355.8 1642,2388.4"/>
<polygon points="1656.5,2373.6 1622.4,2349.7 1613,2325.7 1636,2337.3"/>
<polygon points="1691.4,2406.6 1657.9,2411.3 1630.2,2426.1 1642.6,2398 1640.8,2379.5 1659.3,2390.4"/>
<polygon points="1586.6,2385.4 1570,2368.3 1576.1,2325.9 1596.3,2363.7"/>
<polygon points="1673.9,2364.9 1666.4,2350.2 1667.7,2339.1 1685,2334.7 1699.9,2345.3 1694.8,2361.8"/>
<polygon points="1659.3,2370 1699.9,2353.3 1732.8,2353 1703.1,2367.1"/>
<polygon points="1642,2381 1650.7,2357.5 1668.6,2341.9 1679.8,2358 1683.6,2377.5 1663.2,2379.2"/>
<polygon points="1674.2,2429.8 1656.7,2405.3 1658.6,2388.3 1671.2,2399.8"/>
<polygon points="1694.4,2436.7 1687.7,2405.7 1688.2,2378.6 1705.8,2391 1731.3,2398.1 1705.9,2410.9"/>
<polygon points="1726.6,2359.3 1711.2,2368.8 1683.2,2354.5 1713.7,2346.7"/>
<polygon points="1675,2390.7 1656.7,2358 1654.1,2313.8 1674.2,2353.2"/>
<polygon points="1788.3,2415.8 1766.2,2409.8 1744.3,2382.7 1776.4,2396.2"/>
<polygon points="1708,2437.3 1728.7,2402.8 1765.5,2381.1 1743,2417.3"/>
<polygon points="1738.2,2408.3 1740.3,2389.8 1754.2,2366.3 1763.3,2386.9 1776,2394.4 1757.4,2403.3"/>
<polygon points="1787.2,2390.6 1772.9,2381 1763.4,2373.6 1775.2,2360.6 1793.9,2352.5 1796.8,2371.6"/>
<polygon points="1736.4,2431.6 1715.5,2405.1 1706.9,2353.2 1734.6,2397.9"/>
<polygon points="1791.3,2362.9 1765.4,2360 1744.2,2369.7 1752.1,2340.8 1779.2,2307.7 1783.1,2340.9"/>
<polygon points="1739.1,2385.6 1766.5,2361.4 1790.9,2360.9 1775.2,2379.6"/>
<polygon points="1788.6,2423.2 1769.3,2419.5 1754.5,2415.3 1762.7,2401.9 1783.1,2391.6 1782.2,2409.6"/>
<polygon points="1727.1,2382.5 1708.7,2378.8 1701,2371.7 1703.6,2355.5 1718.5,2347 1731.1,2358.5"/>
<polygon points="1756.3,2407.4 1750.4,2389.6 1741.2,2381.1 1758.3,2375.4 1775.7,2376.5 1771.4,2391.2"/>
<polygon points="1763,2413.4 1735.9,2418.8 1718.9,2432.9 1723.3,2410.7 1733,2388.7 1740,2406.7"/>
<polygon points="1772.2,2367.3 1730.7,2357.9 1715.2,2341.8 1737.5,2342.6"/>
<polygon points="1437.9,2455.7 1457.8,2438.6 1485.6,2429.4 1483.4,2453.6 1483.2,2467.5 1463.1,2466.1"/>
<polygon points="1551.3,2474.9 1533.8,2478.5 1520.5,2483.1 1520.2,2462.7 1526.8,2449.6 1542,2452.3"/>
<polygon points="1568.2,2504.1 1564.4,2482.6 1585.6,2445.9 1583.2,2488.3"/>
<polygon points="1547,2458.4 1548.3,2440.1 1585.5,2420.1 1565.3,2457.3"/>
<polygon points="1530.9,2435.8 1520.5,2420.4 1538.2,2388.5 1545.5,2424.2"/>
<polygon points="1562.4,2456.8 1539.8,2449.4 1525.9,2413.7 1558.8,2433.3"/>
<polygon points="1569.8,2482.9 1548.9,2485.1 1529.8,2488.3 1538.2,2472.2 1554.4,2460 1556,2475.3"/>
<polygon points="1663.1,2474.3 1636.7,2482.1 1609.1,2492.8 1616.2,2463.1 1623.4,2439.9 1643.1,2454"/>
<polygon points="1563.4,2458.7 1581.5,2435.8 1606.4,2438.5 1592.6,2459.3"/>
<polygon points="1597.8,2484.1 1569.6,2473.2 1564,2447.7 1589,2455.2"/>
<polygon points="1626,2483.9 1644.7,2465.1 1681.7,2462 1652.5,2484.9"/>
<polygon points="1626.9,2447.8 1647.2,2437.8 1672.3,2429.5 1661.5,2448.9 1677.8,2468.6 1650.6,2454.8"/>
<polygon points="1666.8,2501.2 1665,2449.9 1681.7,2432.4 1689.7,2455.3"/>
<polygon points="1669,2502.9 1652.1,2476.9 1654.4,2432.5 1674.2,2472.3"/>
<polygon points="1690.5,2412.6 1703.7,2395.8 1706.1,2378.9 1721.5,2394.3 1730.1,2410.4 1714.6,2414.9"/>
<polygon points="1657.7,2492.4 1644.8,2481.6 1641.8,2453.1 1659.4,2475.7"/>
<polygon points="1700.7,2510.1 1682.5,2480.4 1687.7,2442 1706.6,2475.8"/>
<polygon points="1668.8,2509.1 1690,2461.8 1713.9,2438.3 1702.7,2469.9"/>
<polygon points="1656.1,2508.9 1637.8,2485.8 1631.2,2457.6 1651.6,2463.9 1675,2473.4 1654.9,2487.1"/>
<polygon points="1688.9,2434.5 1706.7,2420.9 1733.3,2420.9 1711.3,2435.7"/>
<polygon points="1676.3,2445.3 1657.3,2455.2 1626.4,2434.4 1663.2,2428.4"/>
<polygon points="1769.5,2483.8 1760.3,2470.8 1762.3,2430.9 1775,2468.8"/>
<polygon points="1750.8,2467.6 1740.4,2437.6 1748.2,2412.5 1758.3,2436.8"/>
<polygon points="1711.7,2434.5 1707.3,2415.2 1693.2,2405 1713.4,2403.9 1736.7,2387.8 1723.4,2413.8"/>
<polygon points="1758.9,2459.7 1742.6,2468.2 1721.1,2472.2 1726.7,2453.7 1735.1,2435.6 1747.1,2450.4"/>
<polygon points="1432.1,2511.8 1417.7,2519.8 1398.3,2512.7 1404,2494.8 1425.5,2485.9 1432.9,2502.5"/>
<polygon points="1515.8,2541.3 1504.4,2551.8 1475.8,2537.3 1506.6,2528.7"/>
<polygon points="1483,2488.3 1487.4,2472.2 1515.6,2453.7 1498.8,2482.9"/>
<polygon points="1502.1,2524.8 1480.3,2521.1 1466.6,2503.1 1488.8,2507.1"/>
<polygon points="1570.3,2552.1 1540.8,2537.3 1527.2,2512.6 1553,2524"/>
<polygon points="1634.8,2521.9 1617.2,2511.1 1587.9,2495.7 1619.3,2489.2 1644.3,2489.6 1634.6,2507.1"/>
<polygon points="1651.5,2545.4 1647.9,2506.3 1660.2,2495.3 1668.1,2509.9"/>
<polygon points="1641.6,2515.1 1646.8,2498.6 1652.3,2483.4 1661.8,2495 1674.4,2499.6 1659.8,2507.7"/>
<polygon points="1580.8,2565.3 1587.9,2532.3 1607.5,2526.6 1609.1,2546.9"/>
<polygon points="1608.2,2490.3 1644.6,2451.4 1667.2,2450.3 1657.8,2470.8"/>
<polygon points="1665.5,2503.9 1642.2,2501.6 1622.9,2470.7 1657.6,2481.9"/>
<polygon points="1654.5,2496.2 1646.3,2480.8 1632.5,2458.9 1656.5,2465.9 1672.5,2466.6 1663.9,2481.3"/>
<polygon points="1690.8,2479.2 1643.8,2477 1620.2,2457.2 1650.8,2454.4"/>
<polygon points="1674.1,2488.6 1678.2,2476.8 1683.2,2471.1 1694.8,2476.3 1700.3,2488.3 1689.4,2495.4"/>
<polygon points="1665.1,2527.8 1661.8,2499.6 1681.5,2479.6 1684.9,2507.5"/>
<polygon points="1702.1,2492.8 1703.4,2457.5 1713.3,2447 1717.3,2460.9"/>
<polygon points="1719.3,2492.9 1696.7,2471.5 1696.1,2454.4 1710.9,2462.9"/>
<polygon points="1741.1,2530.9 1716.1,2527.1 1697.4,2505.3 1725.5,2511"/>
<polygon points="1662.5,2506.6 1686.9,2498.2 1700,2487.7 1704.1,2507.3 1709.9,2523.2 1690.4,2521.6"/>
<polygon points="1671.1,2493.5 1676.8,2468 1711.7,2452.4 1696.4,2487.5"/>
<polygon points="1749.5,2558.4 1692.8,2552.7 1671.1,2535.6 1698.6,2532.8"/>
<polygon points="1696.5,2537.6 1695.4,2514.1 1719.5,2493.7 1716.5,2525.1"/>
<polygon points="1716,2574 1704.6,2532.7 1710.7,2499.3 1721.4,2531.5"/>
<polygon points="1767.4,2501.8 1750.3,2505.1 1733.2,2508.4 1737.8,2489.2 1750.3,2472.3 1760.6,2486.8"/>
<polygon points="1815.5,2485.5 1774.8,2494.6 1755,2478.1 1778.2,2467"/>
<polygon points="1746.9,2558.5 1738.9,2538.9 1756.6,2493.4 1760.3,2542"/>
<polygon points="1798.8,2490.3 1779.5,2476.5 1773.4,2451.5 1793.9,2467"/>
<polygon points="1755.8,2501.8 1740.2,2486.3 1748.5,2445.5 1766.9,2482.8"/>
<polygon points="1751.4,2556.4 1724.3,2536.7 1715.9,2501.3 1744.6,2523.6"/>
<polygon points="1740.9,2557.1 1748.1,2514.2 1768.2,2493.4 1766.9,2522.3"/>
<polygon points="1798.6,2510.9 1774.8,2512.6 1740.3,2480.4 1786.4,2490.4"/>
<polygon points="1744.2,2542.1 1723.1,2535.2 1710.2,2516.9 1725,2506.6 1741.3,2498 1744.8,2520.5"/>
<polygon points="1737,2511.5 1783.7,2481.5 1812.5,2478 1790.6,2497"/>
<polygon points="1765.7,2528.4 1730.9,2539.8 1685.4,2527 1731.3,2515.8"/>
<polygon points="1790.5,2508.7 1773.2,2497.6 1772.7,2460 1796.6,2489.1"/>
<polygon points="1723.9,2540.7 1703.6,2502.5 1713.7,2479.6 1730.7,2498"/>
<polygon points="1703.3,2522.1 1745.3,2493.4 1778.8,2494.6 1753.9,2517.1"/>
<polygon points="1746.6,2506.7 1737.3,2492.3 1733.1,2468.7 1755.5,2474.6 1764.3,2478.4 1764.4,2493.9"/>
<polygon points="1524,2583.1 1497.6,2578.3 1469.9,2584.3 1488.6,2562.9 1507.5,2531.7 1507.5,2565.4"/>
<polygon points="1442.3,2579.9 1445.9,2552.8 1451.1,2531.8 1471.1,2542 1489.3,2554.8 1470.1,2569"/>
<polygon points="1481.3,2575.5 1482.3,2560.5 1505,2551.6 1510.3,2570.5 1506.1,2579 1493.1,2586.7"/>
<polygon points="1440.3,2552.1 1470.9,2524.4 1499.3,2526.6 1481.5,2548.9"/>
<polygon points="1467.5,2621.5 1443.3,2615.2 1435.8,2589 1461.8,2597.1"/>
<polygon points="1459.3,2553.4 1479.4,2542.2 1515.7,2544.9 1481.8,2558.1"/>
<polygon points="1448.3,2608 1468,2582.9 1495.2,2583.9 1480.3,2606.6"/>
<polygon points="1545.1,2574.7 1517.1,2568.4 1510.9,2548.3 1532,2549.2"/>
<polygon points="1721.2,2616.6 1692.9,2619.3 1675.5,2625.9 1678.9,2606.6 1669.8,2586.7 1693.2,2597.8"/>
<polygon points="1681.3,2604.9 1685.6,2585.5 1694.2,2567 1703.8,2581.3 1712.8,2591 1698.3,2596.5"/>
<polygon points="1670.5,2568.2 1630.8,2560 1621,2540.2 1643,2538.3"/>
<polygon points="1630.6,2592.7 1658.2,2576.2 1695.9,2578.6 1662.5,2596.4"/>
<polygon points="1730.4,2579.4 1746,2552 1770.9,2535.5 1756.4,2561.6"/>
<polygon points="1781.6,2619.5 1763.2,2592.4 1744,2563.9 1773.9,2569.6 1788.5,2558.9 1786.6,2583.7"/>
<polygon points="1473.7,2683.5 1458.5,2684.1 1437.3,2688.3 1450.5,2671.3 1470.7,2657.9 1466.8,2676.2"/>
<polygon points="1401.1,2620.6 1417.4,2602.4 1458,2595.9 1425.5,2621.1"/>
<polygon points="1436.8,2635 1436,2606.1 1466,2570.9 1459.3,2616.7"/>
<polygon points="1486.3,2636.8 1461.9,2627.6 1445,2603.1 1472.4,2614.7"/>
<polygon points="1452.9,2637.9 1469,2624.2 1506.7,2621.3 1474,2640.2"/>
<polygon points="1501.6,2654.6 1509.4,2623.1 1530.2,2598.7 1522.5,2629.8"/>
<polygon points="1489.1,2641.4 1472.2,2638.6 1456,2626 1471,2613.5 1493.7,2613.6 1491.5,2631"/>
<polygon points="1505.3,2710.3 1502.2,2679.9 1496.6,2656.5 1517.4,2665.6 1548.4,2661.3 1522.7,2683.5"/>
<polygon points="1457.7,2679.9 1455.6,2657.4 1479.9,2640.9 1478.1,2670.2"/>
<polygon points="1531.3,2662.2 1505.3,2651.8 1492.8,2632.1 1515,2639.5"/>
<polygon points="1490.4,2666.4 1473.8,2640.4 1477.3,2619.9 1491,2635.6"/>
<polygon points="1553.7,2665.1 1540,2640.3 1546.7,2609.9 1560.8,2637.6"/>
<polygon points="1577.7,2638.8 1559.9,2615.1 1565.1,2564.5 1586.8,2610.5"/>
<polygon points="1575.2,2678.5 1568.2,2653.8 1588.7,2611.6 1591.3,2658.4"/>
<polygon points="1713.4,2624.4 1720.5,2609.5 1732.2,2583.8 1738.9,2609.9 1758.2,2616.5 1734,2623.6"/>
<polygon points="1735.7,2616 1745,2600.5 1789.8,2585.3 1753.7,2615.9"/>
<polygon points="1813.9,2626.5 1779.8,2618.3 1765.2,2629.1 1766,2602.6 1785.6,2576.8 1795.6,2597.7"/>
<polygon points="1730.5,2677 1746.5,2660.6 1787,2660.8 1752.7,2682.4"/>
<polygon points="1756.7,2648.6 1708.5,2660.1 1683.8,2645.3 1709.8,2632.7"/>
<polygon points="1744.1,2667.4 1724.6,2654.7 1721.1,2626.7 1743.1,2644.2"/>
<polygon points="1721.2,2633.4 1708.5,2607.5 1723.4,2578.9 1736,2608.6"/>
<polygon points="1446.3,2715.1 1403,2691.4 1398.2,2668.3 1421.5,2672.4"/>
<polygon points="1518.2,2743 1507.4,2736.1 1497.8,2723.9 1511.1,2721 1530.5,2724.5 1518.6,2735.3"/>
<polygon points="1450.4,2759.8 1445.8,2725.2 1460.4,2696.9 1465.5,2728.3"/>
<polygon points="1490.6,2704.7 1481.4,2682.2 1475.2,2662.7 1497,2662 1515.7,2656.5 1510.2,2680.8"/>
<polygon points="1481,2750.7 1437.7,2738.6 1419,2715.8 1448.2,2720"/>
<polygon points="1537,2757.2 1495.8,2743.9 1481.4,2727.7 1502.9,2730.6"/>
<polygon points="1601.8,2743.2 1610.1,2699 1628.9,2667.6 1623.6,2703.8"/>
<polygon points="1557.4,2713.5 1581,2672.7 1611,2657 1596.8,2687.8"/>
<polygon points="1674,2722.3 1660.7,2735 1641.2,2742.8 1638.1,2721.1 1644.1,2701.3 1662.5,2708.1"/>
<polygon points="1704.7,2682.6 1673.8,2674 1657.6,2653 1683.5,2658.4"/>
<polygon points="1682.9,2756.2 1645,2728.1 1633.1,2702.9 1657.5,2716.5"/>
<polygon points="1770.1,2748.3 1742,2723.5 1739.9,2709 1753.4,2714.7"/>
<polygon points="1796.3,2753.1 1760.2,2737.7 1757.9,2718 1777.8,2718.5"/>
<polygon points="1751.7,2737.3 1731.4,2749.5 1710.5,2752.6 1710.2,2733.9 1716.5,2716.6 1733.4,2725.4"/>
</g>
<g fill="rgb(90,20,235)">
<polygon points="1486.2,2388.5 1468.2,2378 1456.3,2351.7 1479.7,2368.7"/>
<polygon points="1499.7,2442.6 1482.2,2426.3 1472.2,2379.6 1499.6,2418.7"/>
<polygon points="1504.7,2367.6 1496,2353.6 1494,2308.3 1508,2351.4"/>
<polygon points="1537.5,2408.1 1523.7,2389.1 1520.3,2362 1535.5,2384.7"/>
<polygon points="1581.1,2361.9 1560.4,2346.1 1564.8,2331.6 1579.4,2336"/>
<polygon points="1532.4,2409.2 1537.9,2393.8 1562.5,2385.6 1548.7,2407.5"/>
<polygon points="1557.2,2422.6 1547.3,2411.6 1542.3,2407 1548.8,2398.7 1558.7,2395.1 1562.6,2405"/>
<polygon points="1576.4,2412.6 1552,2407.3 1520.6,2378.6 1560.4,2393.4"/>
<polygon points="1596.4,2343.8 1581.5,2349.4 1569.8,2350.1 1567.4,2334.6 1569.4,2316.7 1587.1,2325.1"/>
<polygon points="1572.7,2391.8 1572,2348.5 1582.8,2333 1587.8,2351.2"/>
<polygon points="1517.7,2408.6 1531.2,2398.1 1537.3,2376.5 1543.4,2399.8 1559.1,2417.6 1536.4,2411.2"/>
<polygon points="1564.4,2367.1 1554.5,2373.2 1539.2,2370.2 1543.8,2358.5 1553.4,2347.6 1560.7,2359.8"/>
<polygon points="1597.7,2391.7 1616.4,2382 1616.9,2363.5 1630.5,2384.5 1637.7,2400.4 1622.2,2403"/>
<polygon points="1646.6,2407.6 1630.5,2399.8 1631,2374.9 1650.7,2390.2"/>
<polygon points="1684,2339.7 1661,2347.6 1622.3,2330.9 1664.1,2325.7"/>
<polygon points="1617.4,2409 1616.2,2379.2 1625.4,2370.6 1630.4,2382.2"/>
<polygon points="1610.8,2382.8 1614.7,2360.3 1635.4,2334.5 1626.6,2366.4"/>
<polygon points="1651.2,2385 1640.8,2376.7 1634.6,2375.5 1639.6,2365.7 1655.2,2356.5 1654.3,2370.9"/>
<polygon points="1644.8,2375.9 1624,2383.7 1574.2,2368.1 1626.2,2363.7"/>
<polygon points="1613.8,2387.7 1638,2367.3 1665.8,2361.7 1644.6,2380.5"/>
<polygon points="1621.5,2403.1 1622.8,2378.5 1643.4,2359.8 1640.5,2387.5"/>
<polygon points="1652.8,2369.5 1623.8,2349.2 1615.9,2328.8 1635.4,2338.7"/>
<polygon points="1685.7,2405.9 1657.3,2409.9 1633.8,2422.5 1644.3,2398.6 1642.7,2382.8 1658.4,2392.1"/>
<polygon points="1585.9,2381.7 1571.9,2367.2 1577,2331.1 1594.2,2363.3"/>
<polygon points="1675,2362.5 1668.6,2350.1 1669.7,2340.6 1684.4,2336.9 1697.1,2345.9 1692.8,2359.9"/>
<polygon points="1665.2,2368.6 1699.8,2354.4 1727.7,2354.2 1702.5,2366.2"/>
<polygon points="1645.4,2378.8 1652.8,2358.7 1668,2345.5 1677.5,2359.2 1680.7,2375.8 1663.4,2377.2"/>
<polygon points="1672.9,2426.2 1658,2405.4 1659.6,2390.9 1670.3,2400.7"/>
<polygon points="1695.6,2431.7 1689.9,2405.3 1690.3,2382.3 1705.2,2392.8 1726.9,2398.9 1705.3,2409.8"/>
<polygon points="1723.9,2359 1710.8,2367.1 1687,2354.9 1712.9,2348.3"/>
<polygon points="1673.5,2385.2 1658,2357.4 1655.7,2319.8 1672.8,2353.3"/>
<polygon points="1785.4,2413.6 1766.6,2408.5 1747.9,2385.5 1775.3,2397"/>
<polygon points="1712.3,2433.2 1729.9,2403.9 1761.1,2385.4 1742,2416.2"/>
<polygon points="1740.7,2405.8 1742.5,2390.1 1754.3,2370 1762,2387.6 1772.8,2394 1757,2401.5"/>
<polygon points="1786.3,2387.7 1774.2,2379.6 1766.1,2373.3 1776.1,2362.2 1792,2355.4 1794.5,2371.6"/>
<polygon points="1734.5,2426.4 1716.7,2403.8 1709.3,2359.8 1732.9,2397.7"/>
<polygon points="1788,2360.5 1765.9,2358.1 1748,2366.3 1754.6,2341.8 1777.7,2313.6 1781,2341.8"/>
<polygon points="1743.4,2383.5 1766.7,2362.9 1787.5,2362.5 1774.1,2378.4"/>
<polygon points="1786.3,2421.3 1769.9,2418.1 1757.4,2414.5 1764.3,2403.1 1781.6,2394.4 1780.8,2409.7"/>
<polygon points="1725.3,2380 1709.7,2376.9 1703.1,2370.8 1705.3,2357 1718,2349.8 1728.7,2359.6"/>
<polygon points="1756.6,2404.4 1751.7,2389.2 1743.9,2382 1758.3,2377.1 1773.2,2378 1769.6,2390.6"/>
<polygon points="1758.9,2413.2 1735.9,2417.8 1721.4,2429.8 1725.2,2410.8 1733.4,2392.2 1739.3,2407.5"/>
<polygon points="1767.2,2365.1 1731.9,2357 1718.7,2343.3 1737.7,2344.1"/>
<polygon points="1442.5,2455.1 1459.4,2440.6 1483,2432.8 1481.2,2453.3 1481,2465.2 1463.9,2464"/>
<polygon points="1548.5,2473.7 1533.6,2476.7 1522.3,2480.7 1522,2463.3 1527.6,2452.2 1540.6,2454.5"/>
<polygon points="1569.3,2500.5 1566,2482.3 1584.1,2451.1 1582,2487.1"/>
<polygon points="1549.2,2456.2 1550.2,2440.7 1581.9,2423.7 1564.7,2455.3"/>
<polygon points="1531.4,2433 1522.5,2419.9 1537.5,2392.8 1543.8,2423.1"/>
<polygon points="1560,2454 1540.8,2447.7 1529,2417.4 1557,2434"/>
<polygon points="1566.7,2482.1 1549,2483.9 1532.7,2486.6 1539.9,2473 1553.6,2462.6 1555.1,2475.6"/>
<polygon points="1658.5,2473.3 1636,2479.9 1612.5,2489.1 1618.6,2463.8 1624.6,2444.1 1641.4,2456.1"/>
<polygon points="1566.8,2457.1 1582.2,2437.7 1603.3,2439.9 1591.6,2457.6"/>
<polygon points="1595.1,2481.3 1571.2,2472 1566.4,2450.3 1587.7,2456.7"/>
<polygon points="1629.7,2482.4 1645.7,2466.4 1677.1,2463.8 1652.3,2483.2"/>
<polygon points="1631.2,2447.9 1648.6,2439.4 1669.9,2432.3 1660.7,2448.8 1674.5,2465.5 1651.4,2453.8"/>
<polygon points="1668.1,2495 1666.6,2451.4 1680.8,2436.5 1687.6,2455.9"/>
<polygon points="1668,2498.1 1653.6,2476.1 1655.6,2438.3 1672.5,2472.1"/>
<polygon points="1693.6,2410.9 1704.8,2396.6 1706.9,2382.2 1720,2395.3 1727.3,2409 1714.1,2412.9"/>
<polygon points="1656.7,2489.9 1645.7,2480.8 1643.1,2456.5 1658.2,2475.7"/>
<polygon points="1699.7,2505.1 1684.3,2479.9 1688.7,2447.2 1704.8,2476"/>
<polygon points="1672.5,2503.2 1690.6,2463 1710.9,2443 1701.4,2469.9"/>
<polygon points="1655.3,2504.4 1639.8,2484.9 1634.2,2460.8 1651.5,2466.3 1671.4,2474.3 1654.3,2485.9"/>
<polygon points="1692.1,2433.5 1707.2,2422 1729.8,2422 1711.1,2434.6"/>
<polygon points="1673.2,2444.6 1657.1,2453 1630.8,2435.3 1662.1,2430.3"/>
<polygon points="1769.1,2480.7 1761.3,2469.7 1763,2435.8 1773.7,2468"/>
<polygon points="1750.6,2463.3 1741.7,2437.7 1748.4,2416.4 1757,2437"/>
<polygon points="1712,2430.9 1708.4,2414.4 1696.3,2405.7 1713.6,2404.8 1733.3,2391.2 1722.1,2413.3"/>
<polygon points="1755.9,2459.2 1742,2466.4 1723.7,2469.8 1728.5,2454.2 1735.6,2438.8 1745.8,2451.4"/>
<polygon points="1430,2510.7 1417.8,2517.5 1401.3,2511.5 1406.2,2496.3 1424.4,2488.7 1430.7,2502.8"/>
<polygon points="1513.5,2541 1503.8,2550 1479.5,2537.7 1505.7,2530.4"/>
<polygon points="1484.9,2486.2 1488.7,2472.5 1512.7,2456.8 1498.4,2481.6"/>
<polygon points="1499.4,2523.2 1480.9,2520 1469.2,2504.7 1488.2,2508.1"/>
<polygon points="1566.9,2549 1541.8,2536.5 1530.3,2515.5 1552.2,2525.1"/>
<polygon points="1633,2519 1618.1,2509.8 1593.2,2496.7 1619.9,2491.2 1641.1,2491.5 1632.8,2506.4"/>
<polygon points="1652.3,2540.8 1649.2,2507.5 1659.7,2498.2 1666.4,2510.5"/>
<polygon points="1643.8,2512.8 1648.2,2498.8 1652.9,2485.9 1661,2495.7 1671.7,2499.6 1659.3,2506.6"/>
<polygon points="1583.1,2561.9 1589.2,2533.9 1605.9,2529 1607.2,2546.3"/>
<polygon points="1613.6,2486.6 1644.6,2453.5 1663.8,2452.6 1655.8,2470"/>
<polygon points="1662.7,2501.8 1643,2499.8 1626.6,2473.6 1656,2483.1"/>
<polygon points="1654.5,2493 1647.5,2479.9 1635.8,2461.3 1656.1,2467.3 1669.7,2467.8 1662.5,2480.3"/>
<polygon points="1684.9,2477.4 1644.9,2475.5 1624.9,2458.7 1650.9,2456.3"/>
<polygon points="1676,2487.7 1679.4,2477.7 1683.7,2472.8 1693.6,2477.3 1698.2,2487.5 1689,2493.5"/>
<polygon points="1666.3,2524.2 1663.5,2500.2 1680.3,2483.2 1683.2,2506.9"/>
<polygon points="1703.2,2488.6 1704.2,2458.6 1712.7,2449.6 1716.1,2461.5"/>
<polygon points="1717.3,2489.5 1698,2471.3 1697.5,2456.8 1710.2,2464"/>
<polygon points="1737.9,2529.1 1716.7,2525.8 1700.8,2507.3 1724.7,2512.2"/>
<polygon points="1667,2506.7 1687.7,2499.6 1698.9,2490.6 1702.3,2507.3 1707.2,2520.8 1690.7,2519.4"/>
<polygon points="1673.8,2490.7 1678.6,2469.1 1708.3,2455.8 1695.3,2485.7"/>
<polygon points="1742.5,2556.4 1694.3,2551.5 1675.9,2537 1699.2,2534.6"/>
<polygon points="1698.1,2534.6 1697.1,2514.6 1717.6,2497.3 1715.1,2524"/>
<polygon points="1715.6,2568 1705.9,2533 1711,2504.6 1720.2,2532"/>
<polygon points="1764.8,2500.6 1750.2,2503.4 1735.7,2506.2 1739.6,2489.9 1750.3,2475.5 1759,2487.9"/>
<polygon points="1810.3,2484.9 1775.8,2492.6 1758.9,2478.6 1778.6,2469.1"/>
<polygon points="1747.5,2554.7 1740.7,2538 1755.7,2499.4 1758.9,2540.7"/>
<polygon points="1797,2487.4 1780.5,2475.7 1775.3,2454.5 1792.8,2467.7"/>
<polygon points="1755.3,2498.4 1742.1,2485.2 1749.2,2450.5 1764.8,2482.3"/>
<polygon points="1748.8,2552.3 1725.7,2535.6 1718.6,2505.5 1743,2524.5"/>
<polygon points="1743.1,2551.8 1749.3,2515.3 1766.3,2497.7 1765.3,2522.2"/>
<polygon points="1795,2509.1 1774.8,2510.5 1745.5,2483.1 1784.7,2491.6"/>
<polygon points="1742.3,2538.8 1724.3,2532.9 1713.4,2517.3 1725.9,2508.6 1739.9,2501.3 1742.8,2520.4"/>
<polygon points="1743.6,2508.6 1783.3,2483 1807.8,2480.1 1789.2,2496.3"/>
<polygon points="1760.1,2528.3 1730.5,2538 1691.9,2527.1 1730.9,2517.6"/>
<polygon points="1789.4,2505.8 1774.7,2496.3 1774.2,2464.3 1794.6,2489"/>
<polygon points="1723,2535.3 1705.8,2502.9 1714.3,2483.5 1728.8,2499.1"/>
<polygon points="1709.6,2519.8 1745.3,2495.4 1773.7,2496.5 1752.6,2515.5"/>
<polygon points="1747.1,2503.5 1739.3,2491.3 1735.7,2471.3 1754.7,2476.2 1762.2,2479.5 1762.3,2492.7"/>
<polygon points="1520.2,2580.8 1497.9,2576.7 1474.3,2581.8 1490.2,2563.6 1506.3,2537.1 1506.3,2565.7"/>
<polygon points="1445.2,2576.2 1448.2,2553.2 1452.6,2535.3 1469.7,2543.9 1485.1,2554.9 1468.8,2566.9"/>
<polygon points="1483.5,2574.8 1484.4,2562 1503.7,2554.5 1508.2,2570.5 1504.7,2577.7 1493.6,2584.3"/>
<polygon points="1445.2,2550 1471.2,2526.4 1495.3,2528.4 1480.2,2547.3"/>
<polygon points="1465.2,2619.1 1444.6,2613.7 1438.3,2591.5 1460.3,2598.4"/>
<polygon points="1463,2552.8 1480.1,2543.4 1511,2545.6 1482.2,2556.8"/>
<polygon points="1452,2606.1 1468.8,2584.7 1491.9,2585.6 1479.2,2604.9"/>
<polygon points="1542.3,2572.6 1518.5,2567.2 1513.2,2550.1 1531.1,2550.9"/>
<polygon points="1716.3,2615.5 1692.2,2617.7 1677.4,2623.3 1680.3,2606.9 1672.6,2590 1692.5,2599.4"/>
<polygon points="1683.5,2602.4 1687.1,2585.8 1694.4,2570.1 1702.6,2582.3 1710.2,2590.5 1698,2595.1"/>
<polygon points="1666.2,2565.7 1632.4,2558.7 1624.1,2541.9 1642.8,2540.3"/>
<polygon points="1635.3,2591.7 1658.7,2577.6 1690.8,2579.7 1662.4,2594.8"/>
<polygon points="1733.4,2576 1746.7,2552.8 1767.9,2538.8 1755.5,2561"/>
<polygon points="1780.3,2613.8 1764.7,2590.7 1748.4,2566.5 1773.8,2571.3 1786.2,2562.3 1784.6,2583.3"/>
<polygon points="1471.6,2682.5 1458.7,2683 1440.7,2686.6 1451.9,2672.1 1469,2660.7 1465.7,2676.3"/>
<polygon points="1404.8,2619 1418.6,2603.5 1453.1,2598 1425.5,2619.4"/>
<polygon points="1438.7,2630.8 1438,2606.2 1463.5,2576.3 1457.8,2615.2"/>
<polygon points="1483.3,2634.3 1462.6,2626.6 1448.2,2605.7 1471.5,2615.6"/>
<polygon points="1456.4,2636.9 1470,2625.2 1502,2622.8 1474.2,2638.8"/>
<polygon points="1503.8,2650.4 1510.4,2623.7 1528,2602.9 1521.5,2629.4"/>
<polygon points="1487.5,2639.3 1473.2,2636.9 1459.4,2626.2 1472.2,2615.6 1491.4,2615.7 1489.6,2630.5"/>
<polygon points="1506.9,2705.1 1504.2,2679.3 1499.4,2659.5 1517.1,2667.2 1543.5,2663.6 1521.6,2682.4"/>
<polygon points="1459.2,2677.3 1457.5,2658.1 1478.1,2644.1 1476.5,2669"/>
<polygon points="1528.2,2659.8 1506.2,2651 1495.5,2634.2 1514.4,2640.5"/>
<polygon points="1489.3,2662.5 1475.2,2640.4 1478.2,2623 1489.8,2636.3"/>
<polygon points="1553.2,2661 1541.5,2640 1547.2,2614.2 1559.3,2637.7"/>
<polygon points="1576.9,2634.1 1561.8,2613.9 1566.2,2570.9 1584.6,2610"/>
<polygon points="1576.1,2674.3 1570.1,2653.3 1587.5,2617.5 1589.7,2657.3"/>
<polygon points="1716.3,2622.4 1722.4,2609.7 1732.3,2588 1738,2610.1 1754.4,2615.7 1733.9,2621.7"/>
<polygon points="1738.7,2614.3 1746.6,2601.1 1784.7,2588.2 1754,2614.2"/>
<polygon points="1809.4,2623.8 1780.5,2616.8 1768.1,2626.1 1768.7,2603.5 1785.5,2581.6 1793.9,2599.3"/>
<polygon points="1734,2675.9 1747.6,2662.1 1782.1,2662.2 1752.9,2680.6"/>
<polygon points="1750.4,2648.3 1709.5,2658.1 1688.4,2645.5 1710.5,2634.8"/>
<polygon points="1742.4,2664.6 1725.9,2653.7 1722.9,2629.9 1741.7,2644.8"/>
<polygon points="1721.4,2629.4 1710.5,2607.4 1723.2,2583.2 1733.9,2608.3"/>
<polygon points="1441.9,2710.8 1405.1,2690.8 1401.1,2671.1 1420.9,2674.6"/>
<polygon points="1517.6,2741.1 1508.4,2735.2 1500.2,2724.9 1511.5,2722.5 1528,2725.4 1517.9,2734.6"/>
<polygon points="1451.2,2755 1447.3,2725.5 1459.7,2701.5 1464,2728.2"/>
<polygon points="1491.3,2700.2 1483.4,2681.1 1478.2,2664.5 1496.7,2663.9 1512.6,2659.2 1508,2679.9"/>
<polygon points="1475.8,2747.8 1439,2737.5 1423.1,2718.1 1447.9,2721.7"/>
<polygon points="1532.1,2754.6 1497.1,2743.3 1484.9,2729.5 1503.1,2731.9"/>
<polygon points="1604,2737.2 1611,2699.6 1627,2673 1622.5,2703.7"/>
<polygon points="1561.7,2708.9 1581.8,2674.2 1607.3,2660.8 1595.3,2687"/>
<polygon points="1670.9,2722.2 1659.6,2733 1643.1,2739.7 1640.4,2721.2 1645.5,2704.4 1661.1,2710.1"/>
<polygon points="1701,2680.2 1674.7,2672.9 1661,2655.1 1683,2659.7"/>
<polygon points="1678.7,2751.6 1646.5,2727.8 1636.3,2706.3 1657.1,2717.9"/>
<polygon points="1767.3,2744.6 1743.4,2723.6 1741.6,2711.3 1753.1,2716.1"/>
<polygon points="1792.8,2749.9 1762.2,2736.8 1760.2,2720.1 1777.1,2720.5"/>
<polygon points="1747.8,2737.1 1730.5,2747.4 1712.8,2750.1 1712.5,2734.2 1717.8,2719.5 1732.3,2727"/>
</g></g>
</g>
<clipPath id="cp0_4"><rect x="1806" y="1930" width="390" height="399"/></clipPath>
<g clip-path="url(#cp0_4)">
<rect x="1806" y="1930" width="390" height="399" fill="#fff"/>
<g filter="url(#cblur)">
<g fill="rgb(232,160,246)" stroke="rgb(232,160,246)" stroke-width="8" stroke-linejoin="round">
<polygon points="1933.5,1934.6 1943.2,1934.6 1940.8,1968.6 1933.5,1992.9 1928.6,1968.6"/>
<ellipse cx="2011.2" cy="1958.9" rx="21.9" ry="12.1"/>
<polygon points="1935.9,2012.3 1989.4,2026.9 2013.7,2041.5 2003.9,2048.8 1969.9,2029.3"/>
<polygon points="2130.3,1985.6 2154.6,1983.2 2169.1,2002.6 2188.6,2017.2 2191,2041.5 2174,2039 2159.4,2012.3"/>
<polygon points="1884.9,2124.1 1892.2,2133.8 1945.6,2197 1940.8,2201.8 1892.2,2148.4"/>
<polygon points="1872.7,2177.5 1887.3,2182.4 1882.5,2221.3 1872.7,2250.4 1867.9,2221.3"/>
<ellipse cx="1986.9" cy="2170.2" rx="17" ry="14.6"/>
<polygon points="2013.7,2124.1 2028.2,2133.8 2055,2148.4 2047.7,2167.8 2018.5,2170.2"/>
<ellipse cx="2108.4" cy="2158.1" rx="21.9" ry="17"/>
<polygon points="2074.4,2124.1 2110.8,2102.2 2115.7,2109.5 2086.5,2126.5"/>
<polygon points="2023.4,2192.1 2047.7,2197 2057.4,2211.5 2042.8,2216.4 2028.2,2206.7"/>
<polygon points="2057.4,2177.5 2072,2167.8 2081.7,2192.1 2115.7,2211.5 2140,2218.8 2086.5,2216.4 2067.1,2197"/>
<polygon points="2159.4,2111.9 2188.6,2099.8 2178.9,2119.2 2169.1,2124.1"/>
<polygon points="1877.6,2279.6 1906.8,2265 1923.8,2243.1 1916.5,2260.1 1911.6,2289.3 1935.9,2313.6 1921.3,2323.3 1904.3,2318.4 1897,2289.3"/>
<polygon points="2159.4,2303.9 2169.1,2279.6 2191,2267.4 2191,2284.4 2169.1,2308.7"/>
</g>
<g fill="rgb(165,75,232)">
<polygon points="1933.9,1938.6 1942,1938.6 1940,1967.2 1933.9,1987.6 1929.8,1967.2"/>
<ellipse cx="2011.2" cy="1958.9" rx="18.4" ry="10.2"/>
<polygon points="1943.4,2015.4 1988.3,2027.7 2008.7,2039.9 2000.5,2046 1971.9,2029.7"/>
<polygon points="2136.1,1989.8 2156.5,1987.7 2168.8,2004 2185.1,2016.3 2187.1,2036.7 2172.8,2034.7 2160.6,2012.2"/>
<polygon points="1889.1,2130 1895.2,2138.2 1940.1,2191.2 1936,2195.3 1895.2,2150.4"/>
<polygon points="1873.4,2182.8 1885.6,2186.9 1881.5,2219.6 1873.4,2244 1869.3,2219.6"/>
<ellipse cx="1986.9" cy="2170.2" rx="14.3" ry="12.2"/>
<polygon points="2016.7,2128 2028.9,2136.2 2051.4,2148.5 2045.3,2164.8 2020.8,2166.8"/>
<ellipse cx="2108.4" cy="2158.1" rx="18.4" ry="14.3"/>
<polygon points="2078,2122.7 2108.6,2104.4 2112.7,2110.5 2088.2,2124.8"/>
<polygon points="2026,2194.1 2046.4,2198.2 2054.6,2210.5 2042.3,2214.5 2030.1,2206.4"/>
<polygon points="2062.4,2180.7 2074.6,2172.5 2082.8,2192.9 2111.4,2209.3 2131.8,2215.4 2086.9,2213.3 2070.6,2197"/>
<polygon points="2161.8,2112.2 2186.3,2102 2178.1,2118.3 2169.9,2122.4"/>
<polygon points="1882.9,2280.7 1907.4,2268.5 1921.6,2250.1 1915.5,2264.4 1911.4,2288.9 1931.9,2309.3 1919.6,2317.5 1905.3,2313.4 1899.2,2288.9"/>
<polygon points="2162.1,2301.5 2170.2,2281 2188.6,2270.8 2188.6,2285.1 2170.2,2305.5"/>
</g>
<g fill="rgb(105,25,215)">
<polygon points="1934.7,1946.7 1939.7,1946.7 1938.4,1964.4 1934.7,1977 1932.1,1964.4"/>
<ellipse cx="2011.2" cy="1958.9" rx="11.4" ry="6.3"/>
<polygon points="1958.3,2021.7 1986.1,2029.2 1998.7,2036.8 1993.7,2040.6 1976,2030.5"/>
<polygon points="2147.8,1998.1 2160.4,1996.8 2168,2006.9 2178.1,2014.5 2179.4,2027.1 2170.5,2025.9 2162.9,2012"/>
<polygon points="1897.5,2141.8 1901.3,2146.9 1929.1,2179.7 1926.5,2182.2 1901.3,2154.4"/>
<polygon points="1874.6,2193.4 1882.2,2195.9 1879.7,2216.1 1874.6,2231.3 1872.1,2216.1"/>
<ellipse cx="1986.9" cy="2170.2" rx="8.8" ry="7.6"/>
<polygon points="2022.8,2136 2030.3,2141 2044.2,2148.6 2040.4,2158.7 2025.3,2160"/>
<ellipse cx="2108.4" cy="2158.1" rx="11.4" ry="8.8"/>
<polygon points="2085.2,2120 2104.1,2108.6 2106.7,2112.4 2091.5,2121.3"/>
<polygon points="2031.3,2198.2 2043.9,2200.7 2049,2208.3 2041.4,2210.8 2033.8,2205.8"/>
<polygon points="2072.4,2187 2080,2182 2085,2194.6 2102.7,2204.7 2115.3,2208.5 2087.5,2207.2 2077.4,2197.1"/>
<polygon points="2166.4,2112.8 2181.6,2106.5 2176.5,2116.6 2171.5,2119.1"/>
<polygon points="1893.4,2283.1 1908.6,2275.5 1917.4,2264.1 1913.6,2273 1911.1,2288.1 1923.7,2300.8 1916.2,2305.8 1907.3,2303.3 1903.5,2288.1"/>
<polygon points="2167.4,2296.6 2172.4,2284 2183.8,2277.7 2183.8,2286.5 2172.4,2299.2"/>
</g></g>
</g>
<clipPath id="cp96_4"><rect x="1806" y="2341" width="390" height="399"/></clipPath>
<g clip-path="url(#cp96_4)">
<rect x="1806" y="2341" width="390" height="399" fill="#fff"/>
<g filter="url(#cblur)">
<g fill="rgb(170,150,240)" stroke="rgb(170,150,240)" stroke-width="8" stroke-linejoin="round" opacity="0.9">
<polygon points="1887.2,2358.9 1886.8,2343.1 1906.6,2331.7 1902.2,2354.1"/>
<polygon points="1882.4,2403.6 1894.1,2379.1 1919.9,2370.1 1908,2394.7"/>
<polygon points="1893.3,2426.3 1886.1,2404.3 1892.3,2395.1 1899.1,2403.9"/>
<polygon points="1937.8,2413.2 1903.1,2416.4 1884.8,2407.8 1904.4,2403"/>
<polygon points="1878.9,2363 1860.2,2368.1 1850.6,2361.1 1861.1,2355.5"/>
<polygon points="1926.1,2405.3 1900.7,2400.7 1896.3,2387.8 1909.7,2385.3"/>
<polygon points="2026.7,2391.8 2006.4,2399.8 1974.2,2387.6 2007.9,2380.6"/>
<polygon points="1918.7,2363.5 1928.6,2352.5 1940.7,2345.2 1941.9,2356.7 1938.2,2369.1 1929.4,2362.5"/>
<polygon points="1926.8,2378.1 1931.4,2338.9 1945.7,2330.3 1950.2,2346.3"/>
<polygon points="2005.7,2377 1993.6,2345.8 2001.1,2325.5 2012.1,2344.1"/>
<polygon points="1948.4,2395.3 1944.5,2377.7 1953.4,2355.6 1956.6,2379.2"/>
<polygon points="1986.1,2404.7 2005.3,2388.9 2022.8,2394.1 2010.8,2407.8"/>
<polygon points="1968.4,2352.3 1970.7,2327.9 1985.6,2320.5 1987.5,2337"/>
<polygon points="1944.6,2335.5 1960.8,2327 1963.4,2309.2 1973.7,2329.9 1983.1,2355.4 1962.5,2344.8"/>
<polygon points="2003.6,2364.2 1995.8,2370.8 1985.9,2367.4 1984.9,2356.1 1992.9,2345.7 2003.5,2353.2"/>
<polygon points="1845.6,2487.4 1846.4,2470.3 1869.1,2452.2 1861.1,2480.1"/>
<polygon points="1819.9,2440.7 1832.3,2422.7 1847,2422.4 1841.2,2435.9"/>
<polygon points="1814.8,2451.6 1818.4,2430.6 1841.6,2412.6 1833.1,2440.6"/>
<polygon points="1881.8,2461.5 1868.2,2461.7 1854.6,2441.8 1877.7,2448.5"/>
<polygon points="1959.3,2469.4 1939.2,2475.9 1915.1,2463.5 1941.7,2457.9"/>
<polygon points="1928.9,2469.8 1918.3,2459.2 1914.8,2441 1929.7,2442.3 1940.2,2448.4 1935.3,2460"/>
<polygon points="1899.7,2478 1897.9,2455.3 1902.7,2434.7 1912.3,2447.7 1927.5,2462.2 1906.9,2461.3"/>
<polygon points="1925.7,2446.2 1914.1,2437.8 1910.8,2429.9 1917.8,2419.9 1932.4,2424.4 1933.8,2435.7"/>
<polygon points="1896.3,2456.2 1878.1,2461.3 1859.3,2466.7 1866.4,2450.1 1869.6,2433.4 1881.2,2446.6"/>
<polygon points="2013.7,2449.4 1995.9,2455.2 1963.6,2444.9 1997.3,2440.5"/>
<polygon points="2018.2,2456.8 1997.3,2449.1 1994,2434.5 2008.8,2436.6"/>
<polygon points="1959.7,2418.9 1974.7,2404.4 1990,2408.9 1980.3,2421.6"/>
<polygon points="1991.9,2490.9 1980.4,2485.6 1979.7,2471.4 1990.9,2465.8 2001.6,2473.1 2000.6,2485.4"/>
<polygon points="1983.5,2481.9 1971.7,2478.5 1968.1,2465.9 1977.4,2458.2 1995.1,2464.2 1989,2477.4"/>
<polygon points="1986.8,2427.1 1973.6,2419 1971.9,2399.9 1987.1,2411.6"/>
<polygon points="1987.2,2430.6 1975.7,2440.1 1956.9,2443.5 1958.9,2426.3 1964.2,2412.1 1978.3,2419.7"/>
<polygon points="2029.8,2468.5 2055.6,2457.6 2076.6,2462.8 2057.4,2472.9"/>
<polygon points="2051.8,2459.3 2037.1,2451.6 2037,2427.7 2055.2,2443.1"/>
<polygon points="2000,2472.1 2003.6,2458 2009.3,2445.5 2019.5,2454.6 2024.7,2463.8 2015.1,2469.8"/>
<polygon points="1791.7,2491.4 1814.2,2476.5 1839.3,2475.8 1818.6,2490.1"/>
<polygon points="1811.9,2514.9 1798.3,2501.5 1799,2462.3 1817.8,2496.7"/>
<polygon points="1835.9,2544 1827.9,2550.2 1806.7,2542.8 1828.4,2537.2"/>
<polygon points="1865.6,2507.3 1854.5,2502.2 1850.8,2479.4 1867.6,2495.3"/>
<polygon points="1958.7,2541.1 1932.2,2547 1920.8,2539.3 1932.8,2532.7"/>
<polygon points="1914.9,2493 1906.2,2496.3 1894.8,2491.2 1900.5,2481.3 1906.9,2477.1 1914.7,2482.8"/>
<polygon points="1953.2,2494.8 1939.6,2503.6 1907.9,2490.2 1941.6,2483.5"/>
<polygon points="1893.2,2510.9 1883,2510.6 1872.2,2502.6 1881.3,2495.3 1885.2,2490.2 1892.7,2498.2"/>
<polygon points="1950.7,2504.9 1945.7,2490.9 1964.7,2474.6 1964.6,2499.6"/>
<polygon points="1960,2483.8 1937.3,2484.7 1930.3,2473.9 1942.4,2469.4"/>
<polygon points="2023.9,2517.7 2024,2500.1 2035.2,2489.2 2035.9,2504.8"/>
<polygon points="2070.9,2526.1 2061.5,2518.6 2059.2,2500.1 2075.7,2502.7 2087.9,2511 2080.1,2522.9"/>
<polygon points="2067.8,2498.4 2056.1,2507.7 2044,2513.2 2042.5,2501.3 2039.5,2491.4 2052.4,2493.1"/>
<polygon points="1984.7,2514.6 1992.4,2484.4 2009.4,2472.9 2007.4,2493.3"/>
<polygon points="2040.4,2495.7 2043.4,2478.6 2057.6,2466.5 2054,2484.9"/>
<polygon points="2036.8,2497.5 2062.8,2488.2 2089.3,2495.9 2063.3,2505.2"/>
<polygon points="2016.7,2506.3 2005.1,2493.8 1989.2,2481.4 2008.5,2480 2024.2,2476.7 2017.6,2490.7"/>
<polygon points="2068.4,2471.3 2086.4,2461.2 2104.6,2469 2087.5,2479"/>
<polygon points="2137.4,2537.6 2123.4,2512.1 2131.5,2496.4 2143.7,2509.2"/>
<polygon points="2199,2554 2188,2542.6 2195,2517.9 2207.3,2540.5"/>
<polygon points="2138.8,2542.5 2123.7,2531.9 2123.1,2502.8 2142.6,2524.3"/>
<polygon points="2186.2,2485.7 2187.5,2466.1 2200.7,2449.2 2198.8,2470.5"/>
<polygon points="2181,2500.9 2159.5,2502.8 2142.9,2504.5 2148.5,2489.7 2147.6,2477.1 2162.1,2485"/>
<polygon points="2120,2543.7 2130.4,2522.2 2154.6,2503.7 2139.8,2530.3"/>
<polygon points="2165.8,2525.2 2167.5,2502.4 2181.5,2489.7 2181.5,2508.6"/>
<polygon points="1858.9,2594.1 1861.6,2568.8 1881.7,2551.8 1878.5,2578"/>
<polygon points="1840.8,2568.7 1855.3,2543.3 1878.2,2533.5 1867,2555.7"/>
<polygon points="1926.5,2626.6 1923.6,2606.5 1939.4,2583.8 1940,2611.4"/>
<polygon points="1863.6,2592.9 1881.4,2579.4 1903.1,2582.5 1885.7,2595.9"/>
<polygon points="1918.3,2539.8 1919.6,2527.5 1929,2520.1 1939.9,2527.7 1939,2544.8 1925.8,2545.9"/>
<polygon points="1898.1,2549.1 1887.1,2544 1872.5,2532.5 1890.2,2527 1909.5,2523.3 1902.8,2539.9"/>
<polygon points="1876.7,2622.9 1872.1,2587.4 1879.7,2570.4 1885.3,2588.2"/>
<polygon points="1912.3,2566.1 1897.8,2560.8 1890.8,2537.7 1911.2,2550.6"/>
<polygon points="1875,2552.7 1892.9,2541 1909.9,2543.4 1896.4,2553.9"/>
<polygon points="2015.3,2594.6 2001.6,2594.8 1984.7,2593.7 1995.4,2576.9 2012.4,2568.9 2017.1,2582.7"/>
<polygon points="2013.3,2569.4 1986,2539.8 1985.8,2523.1 2000.3,2531.3"/>
<polygon points="1939.2,2601.2 1951.6,2587.2 1971.3,2589.4 1957.8,2603.9"/>
<polygon points="1963.5,2615.3 1952,2598.1 1961.1,2582.3 1972.4,2596.6"/>
<polygon points="1994.2,2579 1983.9,2562 1992.2,2539 2002.8,2561.1"/>
<polygon points="2022.1,2561.9 2038.7,2554.7 2043.3,2546.1 2049.6,2557.7 2059.9,2568.5 2043.7,2569"/>
<polygon points="2021,2607.2 2010.5,2606.5 1998,2601.9 2007.3,2592.6 2016.3,2588.7 2020.9,2597.1"/>
<polygon points="2007.9,2596.5 2025.8,2579.3 2037.4,2581.7 2032.4,2592.4"/>
<polygon points="2002.5,2559.1 1986.8,2548.3 1987.9,2532.1 2002,2540"/>
<polygon points="2085.4,2617.3 2064.7,2614.2 2055.6,2597.8 2074.3,2599.5"/>
<polygon points="2076.5,2549.4 2060.7,2550.8 2053.5,2554.4 2050.4,2541.4 2060.6,2529.2 2069.1,2536.1"/>
<polygon points="2018.8,2598.7 1998.3,2601.8 1972.6,2592 2000.1,2589.9"/>
<polygon points="2035.7,2583.1 2043.2,2567.4 2068.5,2556.3 2052.6,2578.9"/>
<polygon points="2101.3,2536 2122,2530.7 2125.5,2518.9 2131.8,2533.6 2145.6,2549.2 2125.3,2544.6"/>
<polygon points="2075.3,2617 2057.9,2603.5 2038.8,2595.3 2057.7,2589.5 2076,2584.9 2068.5,2599.4"/>
<polygon points="2105.7,2573.7 2102.6,2555.2 2116.8,2547.3 2121.1,2562.9"/>
<polygon points="2085.9,2553.1 2094.9,2537 2112.5,2535.4 2104.2,2550.9"/>
<polygon points="2130.5,2554 2152,2533.2 2166.2,2536.2 2160,2549.4"/>
<polygon points="2171.1,2553.6 2184.8,2539.5 2205.9,2542.3 2190.4,2557"/>
<polygon points="2184,2554.6 2183.7,2535.6 2199,2519.3 2197.9,2541.7"/>
<polygon points="2177.2,2626.9 2185.4,2597.2 2201.2,2592.7 2202.4,2609"/>
<polygon points="2131.4,2584.1 2133.6,2572.3 2142.9,2568.2 2152.2,2572.8 2150.6,2585.2 2140.5,2588.7"/>
<polygon points="2143.5,2580.1 2124.9,2559.4 2126,2548.2 2136,2553.3"/>
<polygon points="2165.7,2601.4 2160,2588.7 2169.4,2558.6 2173.5,2589.9"/>
<polygon points="2141.2,2608.9 2128.1,2612.3 2109.4,2615.3 2119.1,2601 2121.8,2583.3 2132,2599.5"/>
<polygon points="2125.8,2578.6 2143.1,2561.8 2153.7,2566.6 2149.9,2577.6"/>
<polygon points="1784.8,2667.7 1796.8,2646.4 1824.5,2634 1807.7,2659.3"/>
<polygon points="1875.3,2618.1 1858.5,2605.5 1857.3,2584.3 1874.2,2597.1"/>
<polygon points="1860.7,2637.5 1854,2623.8 1857.2,2608.3 1867.2,2613 1881.5,2620.2 1866,2627.5"/>
<polygon points="1840.2,2644.1 1822.6,2641.6 1805.9,2638.9 1816.6,2627.6 1834.5,2620.1 1831.2,2634.9"/>
<polygon points="1907.3,2657.2 1906.8,2637 1923.2,2629.2 1924.9,2647.3"/>
<polygon points="1889.5,2672.2 1902.9,2652.4 1925.1,2646.7 1912.5,2665.9"/>
<polygon points="1964.3,2656.6 1961.4,2640.5 1961,2623.5 1978.5,2629.3 1999.3,2645.2 1977.8,2652.1"/>
<polygon points="1967.1,2666.4 1951.3,2672.9 1931.6,2664.6 1952,2658.3"/>
<polygon points="2052.7,2659.8 2030.5,2660.4 2002.2,2641.8 2035.9,2645.3"/>
<polygon points="1990.2,2608.9 1994.6,2597.2 2006.6,2593.4 2011.3,2601 2012.1,2607 2002.3,2610.2"/>
<polygon points="2054.6,2683.3 2040.9,2677.6 2028.9,2679.9 2037,2663.5 2061.1,2648.1 2057.5,2669.4"/>
<polygon points="2095.8,2655.8 2105.5,2646 2116.7,2641.6 2120.5,2652.1 2124.9,2660.3 2111.6,2661.9"/>
<polygon points="2095.4,2672.5 2080.4,2669.5 2070.5,2661.2 2077.2,2650.9 2097.4,2647.7 2093.8,2662.9"/>
<polygon points="2077.9,2666.4 2052.1,2638.1 2048.7,2621.8 2062.2,2631.4"/>
<polygon points="2067.5,2681.7 2068,2670.6 2085.8,2664.9 2088.9,2678.3 2083.2,2689.7 2070.8,2687.1"/>
<polygon points="2095.9,2680.2 2107.9,2665.2 2129.2,2662.7 2115.1,2678.9"/>
<polygon points="2142.2,2688.8 2115.9,2678.4 2114.6,2664.8 2128.3,2664.2"/>
<polygon points="2150.9,2619.6 2165.3,2616 2167.1,2600.2 2173.9,2619.1 2181.9,2633.4 2166.9,2630.1"/>
<polygon points="2130.9,2690.8 2123.4,2658 2134.9,2646.5 2144.1,2659.8"/>
<polygon points="2156.2,2657.4 2135,2662.7 2113.6,2649.2 2138.5,2644.6"/>
<polygon points="2172.5,2665.5 2168,2656.2 2172.6,2645.1 2184.3,2648.6 2191.5,2660.5 2181.2,2667.2"/>
<polygon points="2143,2678 2138,2642.5 2146.4,2624.3 2152.5,2643.4"/>
<polygon points="2171,2609.9 2151,2608.8 2133.5,2592.8 2157,2595.4"/>
<polygon points="1822.9,2746.2 1827.9,2735 1838.9,2731 1846.3,2739.8 1844,2753.6 1831.5,2752.7"/>
<polygon points="1849.7,2735.8 1826.9,2715.5 1826.7,2694.2 1844.6,2705.7"/>
<polygon points="1904.8,2709.1 1898.3,2693.6 1906.1,2679.3 1912.7,2694.2"/>
<polygon points="1892.8,2745 1871.6,2745.3 1856.8,2730.1 1878,2729.8"/>
<polygon points="1910.5,2691.1 1929.7,2676.2 1951.4,2677.7 1934.8,2691.8"/>
<polygon points="1901.6,2695.7 1892.1,2684.1 1888.9,2672.6 1901.8,2667.1 1916.8,2669.9 1913.5,2684.4"/>
<polygon points="1914.5,2693 1912.2,2677.7 1934.5,2658.7 1929,2687.5"/>
<polygon points="1925.9,2759.1 1913.4,2755.9 1908.6,2740.9 1920,2734.2 1931.7,2733.2 1933.7,2748.1"/>
<polygon points="1955.9,2727.1 1970.7,2708.3 1991.1,2703.1 1978.8,2720.2"/>
<polygon points="2000.5,2701.4 1983.3,2694.4 1965.1,2669.4 1991.8,2685"/>
<polygon points="1993.7,2687.4 2001.9,2667.5 2020.9,2664.1 2014.6,2682.3"/>
<polygon points="1952.5,2731.4 1937.8,2717.5 1934.2,2693.9 1950.6,2711.2"/>
<polygon points="2013.3,2709.5 1995.8,2709.9 1981.7,2693.9 2002.9,2695.4"/>
<polygon points="2018,2745.9 2001.8,2738.9 1980.2,2736.1 1998.7,2724.9 2011.7,2712.7 2012.4,2729.9"/>
<polygon points="2014.2,2682.6 2037.2,2664.9 2053.2,2664.4 2042.6,2676.4"/>
<polygon points="2048.8,2753.3 2036.9,2742.2 2026.2,2724.8 2042.9,2727.1 2061.4,2721 2050.3,2738.9"/>
<polygon points="2133.8,2702.3 2123.1,2676.2 2128.2,2654.8 2138.1,2674.5"/>
<polygon points="2102.1,2751.8 2103.5,2729.5 2120.6,2715.6 2119.3,2737.6"/>
<polygon points="2148,2728.9 2138.1,2733.1 2121.3,2718.5 2143.5,2719.2"/>
<polygon points="2114.6,2731.3 2123.7,2697.8 2140.1,2685 2138.1,2705.7"/>
<polygon points="2050.4,2737.1 2068.3,2726.1 2083.9,2736 2068.9,2746.9"/>
<polygon points="2139.2,2714.1 2127.3,2675.2 2132.5,2660.7 2141.2,2673.5"/>
<polygon points="2111.3,2709.8 2115.4,2695.5 2137.8,2694.7 2125.8,2713.6"/>
<polygon points="2173.4,2754.4 2179.1,2737.2 2176.7,2728.5 2188.4,2731.2 2202.9,2734 2191.7,2743.6"/>
<polygon points="2155.3,2692 2127.7,2697.8 2108.2,2689.5 2128.4,2683.2"/>
<polygon points="2135.6,2725.3 2126.4,2712.6 2128.9,2698.4 2141,2696.2 2147.7,2692.5 2149.2,2708.6"/>
<polygon points="2208.8,2684.5 2188.7,2681 2170.6,2684 2180,2664.4 2187.4,2642.8 2200.3,2662"/>
<polygon points="2153.8,2737.5 2145.2,2715.2 2156.3,2695.1 2165,2716.4"/>
<polygon points="2172,2704.1 2161.8,2710.1 2153.8,2702.8 2152,2691.6 2165.4,2684.4 2174.2,2694.1"/>
<polygon points="2152.6,2703 2134.5,2697.4 2121.5,2683.7 2134.3,2678.3 2152.7,2672 2146.4,2690.4"/>
<polygon points="2114.3,2693.9 2125.2,2659.2 2140.4,2646.6 2137.8,2666.1"/>
<polygon points="2123,2691.5 2136.1,2676.4 2143.2,2657.9 2153.3,2677.2 2163.9,2683.3 2149.5,2692.2"/>
<polygon points="2183.5,2730.3 2184.3,2718.4 2200.6,2715.3 2206.2,2725.9 2202,2732.6 2191.5,2737.2"/>
</g>
<g fill="rgb(40,15,205)">
<polygon points="1888.5,2357.1 1888.2,2343.7 1905,2334 1901.3,2353.1"/>
<polygon points="1885.2,2401.1 1895.2,2380.3 1917.1,2372.6 1907,2393.5"/>
<polygon points="1893.2,2423.5 1887.1,2404.8 1892.4,2397 1898.2,2404.4"/>
<polygon points="1933.3,2412.8 1903.7,2415.5 1888.2,2408.1 1904.9,2404.1"/>
<polygon points="1876.5,2362.9 1860.6,2367.1 1852.4,2361.2 1861.3,2356.4"/>
<polygon points="1923.5,2403.8 1901.8,2399.8 1898.1,2388.9 1909.5,2386.8"/>
<polygon points="2023.3,2391.5 2006,2398.3 1978.7,2387.9 2007.3,2382"/>
<polygon points="1920.8,2362.7 1929.2,2353.3 1939.5,2347.2 1940.6,2357 1937.4,2367.5 1929.9,2361.8"/>
<polygon points="1928.5,2373.6 1932.5,2340.3 1944.6,2333 1948.5,2346.7"/>
<polygon points="2005.3,2372.7 1995,2346.1 2001.4,2328.9 2010.7,2344.7"/>
<polygon points="1948.8,2392.6 1945.4,2377.6 1953,2358.8 1955.8,2378.9"/>
<polygon points="1989.1,2403.8 2005.4,2390.4 2020.3,2394.8 2010.1,2406.5"/>
<polygon points="1969.8,2349.6 1971.8,2328.9 1984.4,2322.6 1986.1,2336.6"/>
<polygon points="1947.6,2335.2 1961.4,2328 1963.6,2312.8 1972.4,2330.4 1980.3,2352.2 1962.8,2343.1"/>
<polygon points="2002.3,2363.5 1995.6,2369.1 1987.2,2366.2 1986.3,2356.6 1993.2,2347.8 2002.2,2354.2"/>
<polygon points="1847.1,2485.2 1847.7,2470.6 1867,2455.2 1860.3,2478.9"/>
<polygon points="1822.2,2439.2 1832.7,2423.9 1845.2,2423.6 1840.3,2435.1"/>
<polygon points="1816.6,2449 1819.7,2431.1 1839.4,2415.8 1832.2,2439.6"/>
<polygon points="1880.1,2460.3 1868.5,2460.4 1857,2443.6 1876.6,2449.3"/>
<polygon points="1956.2,2469 1939.2,2474.5 1918.7,2464 1941.2,2459.2"/>
<polygon points="1928.8,2467.3 1919.8,2458.4 1916.7,2442.9 1929.4,2444 1938.3,2449.1 1934.2,2459"/>
<polygon points="1900.9,2474.8 1899.4,2455.5 1903.4,2438 1911.6,2449 1924.5,2461.4 1907,2460.6"/>
<polygon points="1925.2,2444.1 1915.3,2437 1912.6,2430.3 1918.5,2421.8 1930.9,2425.6 1932.1,2435.2"/>
<polygon points="1893.2,2455.6 1877.7,2460 1861.6,2464.5 1867.7,2450.4 1870.4,2436.2 1880.3,2447.4"/>
<polygon points="2010.5,2449.1 1995.4,2454 1967.9,2445.3 1996.6,2441.6"/>
<polygon points="2016.2,2454.9 1998.4,2448.4 1995.6,2436 2008.2,2437.7"/>
<polygon points="1962.1,2418 1974.9,2405.8 1987.9,2409.6 1979.7,2420.3"/>
<polygon points="1991.7,2489.1 1982,2484.6 1981.3,2472.5 1990.9,2467.7 1999.9,2473.9 1999.1,2484.4"/>
<polygon points="1983.1,2480.3 1973.1,2477.4 1970,2466.7 1977.9,2460.1 1992.9,2465.2 1987.8,2476.4"/>
<polygon points="1985.8,2425.2 1974.5,2418.3 1973.1,2402.1 1986,2412"/>
<polygon points="1984.6,2430.3 1974.9,2438.4 1958.9,2441.3 1960.6,2426.6 1965.1,2414.6 1977.1,2421.1"/>
<polygon points="2033.5,2468 2055.5,2458.8 2073.3,2463.2 2057,2471.7"/>
<polygon points="2050.8,2457.2 2038.4,2450.7 2038.2,2430.4 2053.7,2443.4"/>
<polygon points="2001.8,2470.3 2004.9,2458.4 2009.7,2447.8 2018.3,2455.5 2022.8,2463.3 2014.7,2468.4"/>
<polygon points="1795.3,2490.3 1814.4,2477.6 1835.8,2477 1818.2,2489.1"/>
<polygon points="1811.2,2511.7 1799.6,2500.3 1800.2,2467 1816.2,2496.3"/>
<polygon points="1834.3,2543.9 1827.4,2549.2 1809.4,2542.9 1827.9,2538.1"/>
<polygon points="1864.7,2505.6 1855.3,2501.3 1852.2,2481.9 1866.4,2495.4"/>
<polygon points="1955.3,2540.9 1932.7,2546 1923.1,2539.5 1933.3,2533.8"/>
<polygon points="1913.6,2492.1 1906.2,2494.9 1896.5,2490.5 1901.4,2482.2 1906.8,2478.6 1913.5,2483.4"/>
<polygon points="1950.6,2494.5 1939,2502 1912.1,2490.6 1940.7,2484.9"/>
<polygon points="1891.9,2509.4 1883.3,2509.2 1874,2502.4 1881.8,2496.2 1885.1,2491.9 1891.5,2498.7"/>
<polygon points="1951.6,2503 1947.4,2491.1 1963.5,2477.3 1963.4,2498.5"/>
<polygon points="1957.4,2482.9 1938.1,2483.7 1932.1,2474.5 1942.4,2470.7"/>
<polygon points="2024.8,2515.5 2024.8,2500.6 2034.3,2491.2 2035,2504.5"/>
<polygon points="2071.1,2524.2 2063.1,2517.9 2061.2,2502.1 2075.2,2504.4 2085.6,2511.4 2078.9,2521.5"/>
<polygon points="2065.2,2498.8 2055.2,2506.6 2045,2511.4 2043.7,2501.2 2041.1,2492.8 2052.1,2494.2"/>
<polygon points="1986.8,2511.1 1993.3,2485.4 2007.7,2475.6 2006.1,2493"/>
<polygon points="2041.7,2493.6 2044.2,2479 2056.3,2468.7 2053.2,2484.3"/>
<polygon points="2040.7,2497.4 2062.8,2489.5 2085.3,2496 2063.2,2503.9"/>
<polygon points="2015.8,2503.6 2005.8,2492.9 1992.4,2482.4 2008.7,2481.2 2022.1,2478.5 2016.5,2490.3"/>
<polygon points="2071.2,2471.1 2086.5,2462.5 2102,2469.2 2087.4,2477.7"/>
<polygon points="2136.9,2534.1 2125,2512.4 2131.9,2499 2142.2,2509.9"/>
<polygon points="2198.7,2551.7 2189.4,2542.1 2195.4,2521 2205.8,2540.2"/>
<polygon points="2137.8,2540 2124.9,2530.9 2124.4,2506.2 2141,2524.5"/>
<polygon points="2187.3,2483 2188.4,2466.3 2199.6,2452 2198,2470.1"/>
<polygon points="2177.4,2499.8 2159.1,2501.4 2145,2502.8 2149.8,2490.2 2149,2479.5 2161.3,2486.2"/>
<polygon points="2122.5,2540.9 2131.3,2522.6 2151.8,2506.9 2139.3,2529.5"/>
<polygon points="2167,2522.4 2168.5,2503 2180.4,2492.2 2180.4,2508.2"/>
<polygon points="1860.6,2590.9 1862.9,2569.5 1880,2555 1877.3,2577.2"/>
<polygon points="1843.7,2566 1856.1,2544.4 1875.5,2536 1866,2554.9"/>
<polygon points="1927.4,2623.6 1925,2606.6 1938.3,2587.3 1938.9,2610.7"/>
<polygon points="1866.6,2592.1 1881.7,2580.6 1900.2,2583.2 1885.4,2594.7"/>
<polygon points="1919.8,2539 1921,2528.5 1928.9,2522.2 1938.2,2528.7 1937.5,2543.3 1926.2,2544.1"/>
<polygon points="1897.4,2547.1 1888.1,2542.8 1875.7,2533 1890.7,2528.3 1907.1,2525.2 1901.4,2539.3"/>
<polygon points="1877,2618.3 1873.1,2588.2 1879.5,2573.6 1884.2,2588.8"/>
<polygon points="1910.9,2564.2 1898.6,2559.7 1892.6,2540.1 1910,2551.1"/>
<polygon points="1877.8,2552 1893,2542 1907.5,2544.1 1896,2553"/>
<polygon points="2013.7,2593.2 2002.1,2593.3 1987.6,2592.4 1996.8,2578.2 2011.2,2571.4 2015.2,2583"/>
<polygon points="2010.7,2565.2 1987.6,2540 1987.4,2525.8 1999.7,2532.8"/>
<polygon points="1941.6,2600.4 1952.1,2588.4 1968.8,2590.3 1957.3,2602.6"/>
<polygon points="1963.3,2612.7 1953.5,2598.1 1961.3,2584.6 1970.9,2596.8"/>
<polygon points="1994,2576.2 1985.3,2561.8 1992.4,2542.2 2001.3,2561"/>
<polygon points="2025.2,2561.6 2039.3,2555.5 2043.2,2548.1 2048.6,2558 2057.3,2567.2 2043.6,2567.6"/>
<polygon points="2019.7,2605.9 2010.8,2605.4 2000.1,2601.5 2008,2593.5 2015.7,2590.3 2019.6,2597.4"/>
<polygon points="2010.6,2595.1 2025.9,2580.5 2035.7,2582.6 2031.4,2591.7"/>
<polygon points="2001.4,2557 1988,2547.8 1988.9,2534.1 2000.9,2540.8"/>
<polygon points="2083.1,2615.8 2065.5,2613.2 2057.8,2599.2 2073.6,2600.7"/>
<polygon points="2074.3,2548.5 2060.8,2549.7 2054.7,2552.8 2052.1,2541.7 2060.8,2531.3 2068,2537.2"/>
<polygon points="2015.6,2598.2 1998.2,2600.9 1976.3,2592.5 1999.7,2590.8"/>
<polygon points="2037.8,2581.4 2044.2,2568 2065.7,2558.6 2052.2,2577.8"/>
<polygon points="2104.9,2535.9 2122.5,2531.4 2125.4,2521.4 2130.8,2533.9 2142.5,2547.1 2125.3,2543.3"/>
<polygon points="2073.3,2614.2 2058.5,2602.7 2042.3,2595.7 2058.4,2590.8 2073.9,2586.9 2067.6,2599.2"/>
<polygon points="2106.6,2571.6 2103.9,2555.9 2116,2549.1 2119.6,2562.5"/>
<polygon points="2087.9,2551.7 2095.6,2538.1 2110.5,2536.7 2103.4,2549.9"/>
<polygon points="2133.8,2552.4 2152,2534.7 2164.1,2537.3 2158.9,2548.4"/>
<polygon points="2173.6,2552.8 2185.3,2540.8 2203.2,2543.2 2190.1,2555.6"/>
<polygon points="2185.1,2552.1 2184.8,2535.9 2197.9,2522.1 2196.9,2541.1"/>
<polygon points="2179.3,2623.9 2186.4,2598.6 2199.8,2594.8 2200.7,2608.7"/>
<polygon points="2133,2583.2 2134.8,2573.2 2142.7,2569.8 2150.7,2573.7 2149.3,2584.2 2140.7,2587.2"/>
<polygon points="2141.9,2577.1 2126.1,2559.6 2127,2550 2135.5,2554.4"/>
<polygon points="2165.9,2598.9 2161.1,2588.1 2169.1,2562.5 2172.5,2589.1"/>
<polygon points="2138.9,2608.1 2127.7,2611 2111.8,2613.5 2120.1,2601.4 2122.3,2586.3 2131,2600.1"/>
<polygon points="2128.4,2577.5 2143.1,2563.2 2152.1,2567.3 2148.9,2576.6"/>
<polygon points="1787.6,2665.3 1797.8,2647.2 1821.3,2636.7 1807.1,2658.2"/>
<polygon points="1874,2615.6 1859.6,2604.9 1858.6,2586.9 1873,2597.7"/>
<polygon points="1861.3,2635.1 1855.5,2623.4 1858.3,2610.3 1866.8,2614.3 1878.9,2620.4 1865.8,2626.6"/>
<polygon points="1837.9,2642.7 1823,2640.6 1808.8,2638.2 1817.9,2628.6 1833.1,2622.3 1830.3,2634.8"/>
<polygon points="1908.5,2655 1908.1,2637.8 1922,2631.2 1923.5,2646.6"/>
<polygon points="1892.2,2670.2 1903.6,2653.4 1922.5,2648.6 1911.8,2664.9"/>
<polygon points="1965.7,2654.3 1963.3,2640.6 1962.9,2626.1 1977.8,2631 1995.5,2644.6 1977.2,2650.4"/>
<polygon points="1964.6,2666.2 1951.2,2671.8 1934.5,2664.7 1951.8,2659.4"/>
<polygon points="2049.3,2658.6 2030.5,2659.1 2006.4,2643.3 2035.1,2646.3"/>
<polygon points="1992.1,2608 1995.8,2598 2006,2594.8 2010,2601.3 2010.7,2606.4 2002.4,2609.1"/>
<polygon points="2053.4,2681.3 2041.8,2676.5 2031.6,2678.5 2038.5,2664.5 2058.9,2651.4 2055.8,2669.5"/>
<polygon points="2098.3,2655.4 2106.6,2647 2116.1,2643.3 2119.3,2652.2 2123,2659.2 2111.7,2660.6"/>
<polygon points="2094,2670.8 2081.2,2668.2 2072.8,2661.1 2078.5,2652.4 2095.6,2649.6 2092.6,2662.6"/>
<polygon points="2075.3,2662.4 2053.3,2638.3 2050.4,2624.5 2061.9,2632.6"/>
<polygon points="2068.9,2681.3 2069.4,2671.8 2084.5,2667 2087.1,2678.4 2082.4,2688.1 2071.8,2685.8"/>
<polygon points="2098.3,2678.9 2108.5,2666.2 2126.7,2664.1 2114.6,2677.8"/>
<polygon points="2139.6,2686.6 2117.3,2677.8 2116.2,2666.1 2127.9,2665.7"/>
<polygon points="2153.4,2619.6 2165.7,2616.5 2167.2,2603.2 2173,2619.2 2179.8,2631.4 2167,2628.6"/>
<polygon points="2131.2,2686.8 2124.9,2658.8 2134.6,2649.1 2142.5,2660.4"/>
<polygon points="2153.1,2656.8 2135.1,2661.3 2117,2649.8 2138.1,2645.9"/>
<polygon points="2173.3,2664.2 2169.6,2656.3 2173.5,2646.9 2183.4,2649.9 2189.5,2660 2180.8,2665.7"/>
<polygon points="2143.3,2673.4 2139.1,2643.1 2146.2,2627.7 2151.3,2643.9"/>
<polygon points="2168.3,2608.7 2151.3,2607.8 2136.4,2594.1 2156.5,2596.4"/>
<polygon points="1824.7,2745.7 1829,2736.2 1838.3,2732.8 1844.6,2740.3 1842.7,2752 1832.1,2751.3"/>
<polygon points="1847.8,2732.4 1828.4,2715.1 1828.3,2697 1843.5,2706.8"/>
<polygon points="1904.9,2706.8 1899.4,2693.6 1906,2681.5 1911.6,2694.2"/>
<polygon points="1890.1,2743.9 1872,2744.1 1859.5,2731.2 1877.5,2730.9"/>
<polygon points="1913.6,2690.1 1930,2677.4 1948.5,2678.7 1934.3,2690.7"/>
<polygon points="1901.7,2693.2 1893.7,2683.3 1891,2673.5 1901.9,2668.9 1914.6,2671.3 1911.9,2683.6"/>
<polygon points="1915.7,2690.9 1913.7,2677.9 1932.7,2661.8 1928,2686.3"/>
<polygon points="1925.4,2757.1 1914.7,2754.3 1910.6,2741.6 1920.3,2735.8 1930.3,2735 1931.9,2747.7"/>
<polygon points="1958.7,2725.2 1971.2,2709.3 1988.6,2704.9 1978.1,2719.4"/>
<polygon points="1998.2,2699.3 1983.6,2693.4 1968.1,2672.1 1990.8,2685.4"/>
<polygon points="1995.8,2685.6 2002.8,2668.6 2018.9,2665.8 2013.6,2681.2"/>
<polygon points="1951.2,2728.7 1938.7,2716.9 1935.6,2696.9 1949.6,2711.6"/>
<polygon points="2011.1,2708.4 1996.2,2708.7 1984.2,2695.1 2002.3,2696.4"/>
<polygon points="2015.9,2743.7 2002.1,2737.8 1983.7,2735.4 1999.5,2725.9 2010.6,2715.5 2011.1,2730.1"/>
<polygon points="2017.6,2681.1 2037.1,2666 2050.7,2665.6 2041.7,2675.8"/>
<polygon points="2048.1,2750.5 2038,2741.1 2029,2726.3 2043.2,2728.2 2058.9,2723 2049.4,2738.3"/>
<polygon points="2133.3,2698.5 2124.3,2676.3 2128.6,2658.1 2137,2674.8"/>
<polygon points="2103.5,2749 2104.6,2730.1 2119.2,2718.3 2118.1,2737"/>
<polygon points="2146.4,2728.3 2138,2731.9 2123.7,2719.5 2142.7,2720"/>
<polygon points="2116.8,2727.3 2124.5,2698.9 2138.4,2688 2136.7,2705.6"/>
<polygon points="2053,2737 2068.2,2727.7 2081.5,2736.1 2068.8,2745.3"/>
<polygon points="2138.6,2709.1 2128.5,2676.1 2132.9,2663.7 2140.2,2674.6"/>
<polygon points="2113,2708.9 2116.5,2696.7 2135.5,2696 2125.3,2712"/>
<polygon points="2175.2,2752 2180,2737.3 2178,2730 2187.9,2732.2 2200.2,2734.7 2190.7,2742.8"/>
<polygon points="2151.5,2691.8 2128,2696.7 2111.4,2689.6 2128.7,2684.3"/>
<polygon points="2135.9,2722.4 2128.1,2711.6 2130.3,2699.5 2140.5,2697.7 2146.3,2694.5 2147.6,2708.1"/>
<polygon points="2205.9,2682.3 2188.8,2679.3 2173.4,2681.9 2181.4,2665.2 2187.7,2646.8 2198.7,2663.2"/>
<polygon points="2154,2734.3 2146.7,2715.4 2156.2,2698.2 2163.5,2716.3"/>
<polygon points="2170.6,2703.2 2162,2708.3 2155.2,2702.1 2153.7,2692.6 2165.1,2686.4 2172.6,2694.6"/>
<polygon points="2150.8,2700.6 2135.4,2696 2124.4,2684.3 2135.2,2679.7 2150.9,2674.3 2145.5,2690"/>
<polygon points="2116.6,2689.8 2125.9,2660.3 2138.7,2649.6 2136.5,2666.2"/>
<polygon points="2126.3,2689.8 2137.4,2676.9 2143.5,2661.2 2152,2677.6 2161,2682.8 2148.8,2690.3"/>
<polygon points="2185.2,2729.7 2185.8,2719.6 2199.7,2717 2204.5,2726 2200.9,2731.7 2192,2735.6"/>
</g></g>
</g>
<clipPath id="cp0_5"><rect x="2208" y="1930" width="398" height="399"/></clipPath>
<g clip-path="url(#cp0_5)">
<rect x="2208" y="1930" width="398" height="399" fill="#fff"/>
<g filter="url(#cblur)">
<g fill="rgb(232,160,246)" stroke="rgb(232,160,246)" stroke-width="8" stroke-linejoin="round">
<ellipse cx="2341.6" cy="1966.2" rx="19.4" ry="19.4"/>
<polygon points="2477.7,1992.9 2509.3,1939.4 2523.9,1944.3 2485,1992.9"/>
<polygon points="2288.2,2041.5 2310.1,2017.2 2324.6,2022 2314.9,2046.3 2307.6,2065.8"/>
<ellipse cx="2416" cy="2090.1" rx="16" ry="16"/>
<polygon points="2455.8,2107.1 2485,2048.8 2489.8,2053.6 2465.6,2107.1"/>
<polygon points="2509.3,2094.9 2523.9,2070.6 2572.5,2070.6 2543.3,2085.2 2519,2099.8"/>
<ellipse cx="2336.8" cy="2115.3" rx="19.4" ry="8.7"/>
<polygon points="2385.4,2124.1 2414.5,2126.5 2404.8,2145.9 2397.5,2141.1"/>
<polygon points="2460.7,2141.1 2485,2148.4 2482.6,2160.5 2470.4,2155.7"/>
<ellipse cx="2515.1" cy="2138.7" rx="18.5" ry="18.5"/>
<polygon points="2331.9,2153.2 2348.9,2158.1 2358.7,2184.8 2339.2,2187.2"/>
<ellipse cx="2388.8" cy="2193.6" rx="17" ry="17"/>
<polygon points="2217.7,2279.6 2232.3,2240.7 2244.5,2240.7 2242,2279.6 2232.3,2294.1"/>
<polygon points="2263.9,2260.1 2295.5,2235.8 2324.6,2223.7 2310.1,2240.7 2276,2269.9"/>
<polygon points="2574.9,2289.3 2582.2,2308.7 2584.6,2325.7 2577.3,2325.7"/>
<ellipse cx="2458.3" cy="2299" rx="4.9" ry="4.9"/>
<polygon points="2594.3,2182.4 2606.5,2177.5 2606.5,2192.1"/>
</g>
<g fill="rgb(165,75,232)">
<ellipse cx="2341.6" cy="1966.2" rx="16.3" ry="16.3"/>
<polygon points="2481.1,1988.8 2507.6,1943.9 2519.9,1948 2487.2,1988.8"/>
<polygon points="2291.5,2041 2309.9,2020.6 2322.2,2024.7 2314,2045.1 2307.9,2061.4"/>
<ellipse cx="2416" cy="2090.1" rx="13.5" ry="13.5"/>
<polygon points="2458.8,2102.6 2483.2,2053.6 2487.3,2057.7 2466.9,2102.6"/>
<polygon points="2513.2,2093.2 2525.4,2072.8 2566.2,2072.8 2541.7,2085.1 2521.3,2097.3"/>
<ellipse cx="2336.8" cy="2115.3" rx="16.3" ry="7.3"/>
<polygon points="2387.8,2125.7 2412.3,2127.8 2404.1,2144.1 2398,2140"/>
<polygon points="2462.9,2142.7 2483.3,2148.9 2481.3,2159.1 2471.1,2155"/>
<ellipse cx="2515.1" cy="2138.7" rx="15.5" ry="15.5"/>
<polygon points="2334,2156.1 2348.3,2160.1 2356.4,2182.6 2340.1,2184.6"/>
<ellipse cx="2388.8" cy="2193.6" rx="14.3" ry="14.3"/>
<polygon points="2220.3,2277.6 2232.6,2244.9 2242.8,2244.9 2240.7,2277.6 2232.6,2289.8"/>
<polygon points="2268.7,2257.9 2295.3,2237.5 2319.7,2227.3 2307.5,2241.6 2278.9,2266"/>
<polygon points="2575.7,2293 2581.8,2309.3 2583.8,2323.6 2577.7,2323.6"/>
<ellipse cx="2458.3" cy="2299" rx="4.1" ry="4.1"/>
<polygon points="2595.6,2182.6 2605.8,2178.6 2605.8,2190.8"/>
</g>
<g fill="rgb(105,25,215)">
<ellipse cx="2341.6" cy="1966.2" rx="10.1" ry="10.1"/>
<polygon points="2487.9,1980.6 2504.3,1952.8 2511.9,1955.4 2491.7,1980.6"/>
<polygon points="2298.2,2040.1 2309.6,2027.4 2317.2,2030 2312.1,2042.6 2308.3,2052.7"/>
<ellipse cx="2416" cy="2090.1" rx="8.3" ry="8.3"/>
<polygon points="2464.6,2093.7 2479.7,2063.3 2482.3,2065.9 2469.6,2093.7"/>
<polygon points="2520.9,2089.8 2528.5,2077.2 2553.8,2077.2 2538.6,2084.7 2526,2092.3"/>
<ellipse cx="2336.8" cy="2115.3" rx="10.1" ry="4.5"/>
<polygon points="2392.7,2129 2407.8,2130.3 2402.8,2140.4 2399,2137.9"/>
<polygon points="2467.4,2146 2480,2149.8 2478.8,2156.2 2472.5,2153.6"/>
<ellipse cx="2515.1" cy="2138.7" rx="9.6" ry="9.6"/>
<polygon points="2338.1,2161.7 2346.9,2164.2 2351.9,2178.1 2341.8,2179.4"/>
<ellipse cx="2388.8" cy="2193.6" rx="8.8" ry="8.8"/>
<polygon points="2225.4,2273.5 2233,2253.3 2239.3,2253.3 2238.1,2273.5 2233,2281.1"/>
<polygon points="2278.4,2253.4 2294.8,2240.7 2309.9,2234.4 2302.4,2243.3 2284.7,2258.4"/>
<polygon points="2577.2,2300.4 2581,2310.5 2582.3,2319.3 2578.5,2319.3"/>
<ellipse cx="2458.3" cy="2299" rx="2.5" ry="2.5"/>
<polygon points="2598.2,2183.2 2604.5,2180.6 2604.5,2188.2"/>
</g></g>
</g>
<clipPath id="cp96_5"><rect x="2208" y="2341" width="398" height="399"/></clipPath>
<g clip-path="url(#cp96_5)">
<rect x="2208" y="2341" width="398" height="399" fill="#fff"/>
<g filter="url(#cblur)">
<g fill="rgb(175,150,240)" stroke="rgb(175,150,240)" stroke-width="8" stroke-linejoin="round" opacity="0.9">
<polygon points="2376.7,2379.4 2380.1,2349.9 2392.9,2330.1 2391.5,2353.7"/>
<polygon points="2400.8,2407.4 2402.7,2394 2425.3,2381 2414,2404.5"/>
<polygon points="2455.3,2368.9 2465,2358.1 2489.6,2363.9 2467.6,2376.5"/>
<polygon points="2427.6,2401.2 2416.2,2402.1 2409.8,2390.5 2415.9,2381.8 2426.8,2379.5 2431,2391.6"/>
<polygon points="2439.6,2378.5 2445.2,2366.8 2452.7,2363.6 2461.7,2367.6 2457.2,2382.9 2447,2381.2"/>
<polygon points="2508.4,2364.5 2493.2,2364.2 2477.9,2354.3 2489.9,2349 2491.8,2340.6 2499.5,2351.8"/>
<polygon points="2523.6,2397.5 2507,2379.4 2507.9,2367.1 2518.4,2373.5"/>
<polygon points="2452.4,2372.3 2465.4,2365.8 2469.8,2355.4 2475.5,2368.6 2480.1,2381 2467.9,2379.1"/>
<polygon points="2503.7,2422.2 2522.5,2400.2 2536,2402.7 2531.9,2415.7"/>
<polygon points="2567.1,2349.8 2540.6,2341.5 2533.2,2327.6 2548.8,2328.9"/>
<polygon points="2251.7,2412.5 2272,2394.1 2302.9,2390.6 2279,2410.5"/>
<polygon points="2259.2,2449.8 2245,2438.1 2247.4,2422.3 2260.5,2431.4"/>
<polygon points="2232.1,2469.8 2204.3,2457.1 2191.4,2433.8 2216.1,2443.8"/>
<polygon points="2322,2469.7 2315,2448.6 2320.9,2436.9 2327.6,2448.2"/>
<polygon points="2246.1,2459 2284,2441.6 2299.8,2443.9 2287.5,2454.2"/>
<polygon points="2344.1,2484.9 2330.1,2484.7 2317.1,2497.6 2322.5,2477.1 2322.4,2457 2334.6,2471.8"/>
<polygon points="2292.1,2454.5 2301.1,2419.8 2317.2,2407.4 2315.9,2427.7"/>
<polygon points="2329,2473.6 2329.5,2461.9 2343.3,2447.5 2349.1,2462.8 2350.4,2470.9 2340.3,2476.3"/>
<polygon points="2374.5,2469.1 2359.3,2459.2 2352.1,2433.7 2372,2451.2"/>
<polygon points="2348.9,2417.6 2335.1,2415.5 2323.6,2394.5 2345.6,2404"/>
<polygon points="2371.7,2428.1 2354.2,2430.5 2335.3,2412.2 2361.6,2413.6"/>
<polygon points="2388.2,2428.6 2393.6,2415.4 2423.7,2413.6 2401.5,2434"/>
<polygon points="2379.2,2479.8 2386.5,2468.3 2417.2,2470.2 2391.1,2486.5"/>
<polygon points="2384.3,2445.1 2371.6,2420 2378,2408.5 2387.8,2417.3"/>
<polygon points="2430.6,2483.5 2414.1,2467.4 2412,2443.7 2428.8,2460.5"/>
<polygon points="2399.3,2439.2 2423.7,2420.8 2439,2424.2 2429.9,2436.9"/>
<polygon points="2446.7,2454 2428.5,2457.2 2395.3,2434.1 2435.4,2439.3"/>
<polygon points="2471.8,2448.4 2458,2441 2436,2437.9 2456.2,2427.9 2468.7,2415.4 2468.7,2432.9"/>
<polygon points="2482.3,2443.8 2472,2438.1 2469.5,2424.4 2480.1,2421.2 2496.8,2429.4 2485.1,2439.3"/>
<polygon points="2468.4,2440.6 2483.1,2428.5 2501.1,2417.9 2501.8,2437.5 2504.2,2454.1 2486.3,2448.7"/>
<polygon points="2493,2500.4 2481.9,2485.2 2488.8,2459.2 2500.8,2483.3"/>
<polygon points="2530.6,2437.4 2511.5,2443.1 2501,2431.2 2515.3,2424.6"/>
<polygon points="2552.8,2485.5 2552.2,2473.5 2572.4,2450.8 2563.3,2479.8"/>
<polygon points="2583.2,2416.2 2557.6,2414.3 2535.2,2392.6 2566.1,2397.1"/>
<polygon points="2551,2418.2 2569.9,2401 2583.1,2404.8 2576.5,2416.9"/>
<polygon points="2566.3,2459.2 2549.3,2445.4 2538.8,2418 2560.1,2438.2"/>
<polygon points="2554.8,2487.9 2538.7,2484.2 2529.2,2460.8 2552,2471.6"/>
<polygon points="2592.7,2495.4 2572.9,2489.3 2553.2,2455.9 2586.6,2475.6"/>
<polygon points="2254.6,2514.2 2264.3,2504.9 2279.8,2499.7 2280.5,2515.2 2277.7,2527 2264.6,2523.9"/>
<polygon points="2238.1,2509.3 2225.2,2490.6 2225.5,2455.5 2241.4,2486.8"/>
<polygon points="2307.4,2561.1 2302.7,2545.9 2304.6,2528.9 2319.7,2534 2326.3,2544.3 2320.1,2554.4"/>
<polygon points="2330.9,2542.6 2321.5,2529.8 2313.1,2512.9 2331,2513.9 2337.4,2511.1 2340.8,2524"/>
<polygon points="2287.8,2494 2296.7,2482.1 2317.8,2484.9 2301.8,2498.9"/>
<polygon points="2393.8,2551 2380.2,2555.9 2372.1,2561.2 2367.7,2546.8 2374.7,2534.3 2385.6,2537.1"/>
<polygon points="2380,2503.9 2370.7,2495.3 2368.8,2484.4 2379.7,2479 2395.3,2481.4 2390.1,2495.6"/>
<polygon points="2370.6,2491 2354.7,2495.4 2345.7,2506.6 2341.5,2485.4 2341.3,2461.8 2359.9,2472.1"/>
<polygon points="2373.5,2492.6 2396.6,2468.3 2421.2,2465.8 2406.3,2485.6"/>
<polygon points="2390.3,2554.4 2377.1,2545.9 2365.2,2550.8 2373.6,2535.5 2391.9,2524.5 2389.6,2539.7"/>
<polygon points="2329,2493.8 2339,2461.3 2354.3,2456.5 2355.5,2472.6"/>
<polygon points="2404.4,2541.2 2384.4,2520.8 2380.3,2490.6 2401.1,2512.8"/>
<polygon points="2371.1,2534.7 2371.4,2521.5 2393.9,2512.4 2384.3,2534.7"/>
<polygon points="2440.3,2517.8 2445.6,2501.5 2446.4,2485.1 2463.3,2496.8 2475.8,2512 2459.4,2518.2"/>
<polygon points="2427.7,2526.2 2419.4,2504.4 2408.2,2492.7 2426,2489.9 2450.1,2488.2 2436.1,2504.9"/>
<polygon points="2438.1,2533.5 2425.3,2519.1 2430.3,2505 2441.8,2514.6"/>
<polygon points="2466.3,2492.5 2461.7,2502.7 2447.6,2500 2444.8,2489.9 2447,2483.4 2459.3,2483.5"/>
<polygon points="2478.5,2470.5 2469.3,2476.4 2456.6,2476 2458.5,2465.2 2459.5,2454 2471.2,2461.4"/>
<polygon points="2496.2,2512.8 2476.5,2517.3 2468.4,2519.1 2461.8,2506.8 2471.3,2487 2483.9,2497.2"/>
<polygon points="2428.4,2529.6 2458.5,2514.1 2470.9,2522.7 2461.9,2534.8"/>
<polygon points="2517.4,2508.8 2497.6,2505.5 2492.1,2493.5 2505.2,2492.9"/>
<polygon points="2517,2505.9 2500.9,2507.4 2474.9,2490.7 2505.6,2494.4"/>
<polygon points="2517.5,2540.7 2507.3,2531 2493.9,2516.5 2513.6,2514.9 2528.5,2515.6 2524.1,2529.1"/>
<polygon points="2494.1,2550.5 2496.3,2540.9 2500.3,2532.4 2509,2539 2516.3,2549.5 2504.5,2552.3"/>
<polygon points="2557.5,2490 2545.2,2492.1 2539.4,2490.4 2536,2481.6 2546,2471.9 2553.6,2478.7"/>
<polygon points="2520.6,2555.5 2514.9,2540 2521.8,2520.9 2527.3,2540.4"/>
<polygon points="2461.1,2520.3 2464.6,2503.5 2472.3,2488.4 2481.9,2499.7 2487.8,2502.5 2480.5,2512.6"/>
<polygon points="2563.2,2514.4 2554.3,2510.1 2547.9,2498.6 2560,2495 2565.9,2493.7 2570.4,2503.1"/>
<polygon points="2584.7,2542 2566.7,2536.1 2559.1,2519.7 2576.4,2525"/>
<polygon points="2571.5,2498 2572,2483.9 2573.8,2470.4 2583.8,2477.9 2591.7,2493.6 2578.3,2491"/>
<polygon points="2230.7,2617.1 2217.2,2613.9 2209.6,2599.8 2220.3,2592.3 2236.6,2588.9 2234.5,2606.2"/>
<polygon points="2264.2,2571.5 2253.9,2554.6 2259.9,2527.6 2271.1,2553"/>
<polygon points="2337,2575.4 2343.6,2562 2344.6,2550.6 2356.8,2559 2368,2568.5 2354.9,2574.5"/>
<polygon points="2339.2,2581.2 2338.5,2568.4 2344,2552.9 2355,2563 2359.7,2581.1 2345.6,2579"/>
<polygon points="2429,2610.6 2434.2,2588.8 2433.4,2575.6 2448.7,2580.5 2462,2577.1 2454.4,2594.3"/>
<polygon points="2412.6,2583.4 2399.6,2583.4 2385.5,2584.6 2392.7,2568.8 2402.9,2559.3 2411.3,2568.6"/>
<polygon points="2453.5,2587.4 2450.8,2569.4 2465.4,2550.2 2466.1,2574.3"/>
<polygon points="2416.7,2617.7 2399.5,2617.7 2383.8,2616.9 2390.4,2601.1 2393.4,2588.5 2407.5,2597.5"/>
<polygon points="2463.6,2619.2 2450.6,2604.5 2432.7,2605.4 2449.7,2593 2464.6,2580.6 2463.4,2597.9"/>
<polygon points="2455.9,2623.8 2453,2599.9 2462.6,2576.7 2465.4,2601.7"/>
<polygon points="2422.6,2582.5 2437,2574.8 2443.8,2567.4 2449.2,2579 2455.5,2594.1 2439.8,2590.1"/>
<polygon points="2465.5,2628.2 2474.2,2608.1 2493.2,2599.1 2485.2,2618.5"/>
<polygon points="2459.5,2545.3 2461.4,2530.9 2474.1,2519.7 2482.6,2530.5 2490.6,2541.6 2474,2545.9"/>
<polygon points="2396.3,2564.8 2390.1,2550 2389.5,2523.3 2408.7,2537.2 2419.3,2544.5 2410,2557"/>
<polygon points="2408,2617.7 2413,2599.6 2426.7,2594 2424.5,2608.7"/>
<polygon points="2446.1,2557 2450.6,2547.9 2462.4,2542.7 2464.4,2552.5 2465.6,2557.4 2456.8,2560.1"/>
<polygon points="2420.8,2594.9 2423.1,2574 2438.3,2556.9 2446.7,2571.1 2454.9,2577.8 2440.1,2586.7"/>
<polygon points="2394.5,2547.6 2405.4,2532.5 2399.4,2517.4 2417.6,2528.9 2430.6,2538.2 2418.1,2546.3"/>
<polygon points="2398.7,2578.3 2400.8,2557.9 2427.6,2531.4 2416,2567.2"/>
<polygon points="2541.9,2605.4 2523,2594.9 2523.8,2583 2535.6,2584.8"/>
<polygon points="2465.7,2554 2472.9,2530.8 2494,2522.3 2488,2544.2"/>
<polygon points="2520,2622.5 2502.7,2599.6 2500.1,2575.3 2515.6,2594.1"/>
<polygon points="2487.2,2619.9 2484.4,2588.5 2492.4,2572.1 2496.7,2589.8"/>
<polygon points="2489.7,2546.3 2487.8,2533.8 2492.2,2519.1 2504.4,2527 2515.1,2534.5 2503,2543.4"/>
<polygon points="2553,2599 2539.4,2592.1 2524.6,2586 2539,2574.6 2555,2564.5 2556.4,2582.6"/>
<polygon points="2501.2,2613.3 2499.1,2597.6 2504.9,2585.8 2514.7,2589.4 2519.2,2600.5 2510,2605.7"/>
<polygon points="2529.2,2591.9 2512.9,2563.7 2516.3,2551.3 2526.2,2559.5"/>
<polygon points="2558.7,2552.2 2538.4,2545.7 2523.5,2517.6 2551.9,2532"/>
<polygon points="2565.9,2575.9 2557.1,2565.4 2562.2,2532.3 2572.9,2564"/>
<polygon points="2524.9,2548.1 2541.4,2541.3 2558.5,2529.8 2552.8,2548.6 2561.6,2556.7 2545.5,2555.4"/>
<polygon points="2560,2585.4 2551.7,2560.4 2562.8,2552.6 2572.4,2562.2"/>
<polygon points="2592.8,2591.9 2596.8,2570.3 2611,2564.6 2611.2,2579.9"/>
<polygon points="2319.5,2660.3 2318,2635.9 2328.8,2625.7 2333.1,2639.9"/>
<polygon points="2312.7,2640.7 2344.9,2631.2 2364.2,2638 2345.7,2646.8"/>
<polygon points="2418.9,2686.5 2421,2675.5 2429.1,2664.7 2435.2,2674.3 2436.4,2683.6 2427.6,2685.4"/>
<polygon points="2451,2658.5 2435.8,2665 2409.3,2646.8 2441.4,2645"/>
<polygon points="2430.2,2683.2 2413,2672.2 2409.2,2655.3 2424.4,2663.7"/>
<polygon points="2436.9,2672.5 2417.2,2667.5 2408.3,2648.9 2428.2,2654.1"/>
<polygon points="2407,2677.6 2403.9,2664.3 2419,2646 2418.1,2669.7"/>
<polygon points="2483.4,2688.9 2477.3,2675.7 2488.4,2642.3 2492.2,2677.3"/>
<polygon points="2517.6,2673.2 2504.2,2667.6 2504.2,2647.2 2520.8,2659"/>
<polygon points="2523.8,2697 2532.4,2664.2 2543.1,2655.5 2543.4,2669.3"/>
<polygon points="2547.5,2684.6 2532.9,2681 2526,2670.6 2532.2,2659.9 2541.1,2654.3 2550,2665.8"/>
<polygon points="2467.5,2665.3 2459.9,2654.2 2451.3,2645.7 2465.4,2641.2 2473.3,2638.9 2476.9,2649.3"/>
<polygon points="2548.3,2680.4 2523.9,2671.7 2505.3,2649.3 2532.4,2660"/>
<polygon points="2503,2664.8 2484.8,2654 2484.6,2641.5 2496.7,2644.5"/>
<polygon points="2527.1,2668.1 2540.5,2657 2575.3,2657.6 2543.9,2672.6"/>
<polygon points="2546.5,2622.3 2540.6,2611.6 2552.4,2600.7 2562.6,2605.2 2562.7,2612.9 2556.6,2622.3"/>
<polygon points="2579.2,2639.4 2587.8,2624.3 2623.6,2609.3 2596.5,2637"/>
<polygon points="2524.7,2626.3 2555.8,2614.5 2567,2623.6 2557,2634.2"/>
<polygon points="2590.6,2644.7 2584.2,2634.5 2592.3,2609.8 2598,2635.1"/>
<polygon points="2531.6,2632.8 2537.4,2615.5 2549.3,2596.3 2556.1,2614.3 2561.9,2622.1 2549.7,2628"/>
<polygon points="2538.8,2683.4 2533.5,2671.9 2547,2655.2 2555.9,2666.8 2564.2,2674 2549.7,2682.3"/>
<polygon points="2562.2,2675.1 2591,2663.6 2605.1,2669.4 2593,2678.7"/>
<polygon points="2576.6,2681.6 2561.7,2688.9 2540.9,2686.3 2548.5,2671.8 2553.9,2660.6 2566.2,2670.4"/>
<polygon points="2553.4,2625.5 2521,2610.2 2513.7,2591.5 2533.3,2595.8"/>
<polygon points="2557.4,2671.4 2561.2,2655.5 2576.6,2646.2 2571.8,2663.5"/>
<polygon points="2590.2,2627.7 2580.2,2619.5 2579.5,2608.4 2590.2,2602 2603.9,2608.9 2600.6,2621.6"/>
<polygon points="2574.3,2619 2539.4,2617 2522.1,2599.9 2546.3,2598"/>
<polygon points="2558.7,2651 2531.9,2648.6 2514.4,2631.6 2538.7,2632.9"/>
<polygon points="2281.1,2690.3 2264.9,2688.9 2239.5,2659.6 2275,2675.2"/>
<polygon points="2308.2,2731.2 2270.1,2727.6 2254.4,2716.2 2273.7,2714.6"/>
<polygon points="2333,2705.4 2322.9,2689 2324.3,2666.4 2335.2,2686.3"/>
<polygon points="2352.1,2687.2 2354.2,2673 2362.5,2655.4 2374.4,2670.6 2384.2,2689.5 2364.6,2689.4"/>
<polygon points="2423.9,2730.7 2409,2728.8 2388.3,2707 2416.4,2717.6"/>
<polygon points="2332.3,2692.1 2349.4,2674.3 2370.6,2677.1 2357,2693.6"/>
<polygon points="2489.8,2719.8 2454,2724.3 2438.2,2712.9 2456.4,2706.1"/>
<polygon points="2549,2707.3 2531.1,2713.8 2516.1,2721.2 2516.8,2703.6 2521.9,2686 2534.4,2696.6"/>
<polygon points="2549.6,2689.5 2547.1,2675.6 2549.6,2658.1 2564.7,2667 2570.8,2683.9 2558,2687.5"/>
<polygon points="2580.9,2736.2 2569.1,2744.1 2552.8,2739.9 2555.6,2727.4 2563.5,2717.9 2574.3,2726.9"/>
<polygon points="2522.3,2729.9 2524,2718 2536.3,2712.7 2545.1,2723 2547.3,2736.3 2532.2,2739.2"/>
<polygon points="2554.2,2749.7 2540.3,2757 2512.6,2742.1 2543.8,2737.9"/>
<polygon points="2603.1,2698.3 2594.1,2704.5 2585.7,2713.9 2582.2,2697.4 2584.2,2679.2 2597.1,2687.5"/>
</g>
<g fill="rgb(45,15,210)">
<polygon points="2378,2375.5 2380.9,2350.4 2391.8,2333.6 2390.6,2353.6"/>
<polygon points="2402.3,2405.8 2403.9,2394.4 2423.1,2383.4 2413.5,2403.3"/>
<polygon points="2457.4,2368.6 2465.6,2359.4 2486.6,2364.4 2467.9,2375.1"/>
<polygon points="2426.7,2399.7 2416.9,2400.5 2411.5,2390.6 2416.7,2383.2 2425.9,2381.2 2429.5,2391.5"/>
<polygon points="2441.3,2377.8 2446,2367.8 2452.4,2365.1 2460,2368.5 2456.2,2381.5 2447.5,2380"/>
<polygon points="2506.2,2363 2493.3,2362.7 2480.3,2354.3 2490.4,2349.8 2492,2342.6 2498.6,2352.2"/>
<polygon points="2522.2,2394.8 2508.1,2379.4 2508.8,2368.9 2517.8,2374.4"/>
<polygon points="2454.8,2372 2465.9,2366.5 2469.6,2357.6 2474.5,2368.9 2478.4,2379.4 2468,2377.8"/>
<polygon points="2506.7,2420.4 2522.7,2401.7 2534.1,2403.8 2530.6,2414.9"/>
<polygon points="2564.1,2347.9 2541.6,2340.8 2535.3,2329 2548.6,2330.1"/>
<polygon points="2255.4,2410.9 2272.6,2395.3 2298.9,2392.3 2278.6,2409.2"/>
<polygon points="2258.3,2447.6 2246.2,2437.7 2248.2,2424.2 2259.4,2432"/>
<polygon points="2228.9,2467 2205.3,2456.2 2194.3,2436.4 2215.3,2444.9"/>
<polygon points="2321.9,2466.9 2315.9,2448.9 2321,2439 2326.7,2448.6"/>
<polygon points="2251,2457.6 2283.3,2442.8 2296.7,2444.8 2286.3,2453.5"/>
<polygon points="2341.8,2484 2329.9,2483.8 2318.8,2494.8 2323.4,2477.4 2323.3,2460.3 2333.7,2472.8"/>
<polygon points="2294.3,2450.4 2301.9,2420.9 2315.6,2410.4 2314.5,2427.6"/>
<polygon points="2330.7,2472.4 2331.1,2462.4 2342.8,2450.2 2347.8,2463.2 2348.9,2470.1 2340.3,2474.7"/>
<polygon points="2373,2466.7 2360.1,2458.3 2354,2436.6 2370.9,2451.5"/>
<polygon points="2347.3,2416.1 2335.5,2414.4 2325.8,2396.5 2344.5,2404.5"/>
<polygon points="2369.3,2427 2354.5,2429.1 2338.3,2413.5 2360.7,2414.7"/>
<polygon points="2390.2,2427.8 2394.8,2416.5 2420.4,2415 2401.5,2432.3"/>
<polygon points="2381.4,2479.3 2387.5,2469.5 2413.6,2471.1 2391.5,2484.9"/>
<polygon points="2383.7,2441.8 2373,2420.4 2378.3,2410.6 2386.7,2418.1"/>
<polygon points="2429.2,2480.6 2415.2,2466.9 2413.4,2446.7 2427.7,2461"/>
<polygon points="2402.9,2437.9 2423.6,2422.2 2436.6,2425.1 2428.8,2435.9"/>
<polygon points="2443.6,2452.8 2428.2,2455.6 2400,2435.9 2434,2440.3"/>
<polygon points="2470,2446.2 2458.3,2439.9 2439.6,2437.3 2456.8,2428.8 2467.4,2418.2 2467.4,2433.1"/>
<polygon points="2482.1,2442.2 2473.3,2437.2 2471.2,2425.7 2480.2,2422.9 2494.4,2429.9 2484.5,2438.3"/>
<polygon points="2471.8,2440.2 2484.3,2429.9 2499.6,2420.9 2500.2,2437.6 2502.2,2451.7 2487,2447.1"/>
<polygon points="2492.7,2497.6 2483.3,2484.7 2489.1,2462.7 2499.3,2483.1"/>
<polygon points="2528.2,2436.9 2511.9,2441.7 2503,2431.7 2515.2,2426"/>
<polygon points="2553.9,2483.5 2553.4,2473.3 2570.6,2454 2562.9,2478.7"/>
<polygon points="2579.8,2414.5 2558,2412.9 2539,2394.5 2565.2,2398.3"/>
<polygon points="2553.9,2417 2570,2402.4 2581.2,2405.7 2575.6,2415.9"/>
<polygon points="2564.4,2456.3 2549.9,2444.7 2541.1,2421.4 2559.1,2438.5"/>
<polygon points="2553.1,2486.1 2539.4,2483 2531.3,2463.1 2550.7,2472.3"/>
<polygon points="2590.2,2493 2573.4,2487.8 2556.7,2459.4 2585.1,2476.1"/>
<polygon points="2256.9,2514.2 2265.2,2506.3 2278.4,2501.8 2278.9,2515.1 2276.5,2525.1 2265.4,2522.4"/>
<polygon points="2237.3,2505.7 2226.3,2489.9 2226.6,2460.1 2240.1,2486.6"/>
<polygon points="2308.3,2558.6 2304.3,2545.7 2305.9,2531.3 2318.7,2535.6 2324.3,2544.4 2319.1,2553"/>
<polygon points="2330.6,2539.6 2322.6,2528.7 2315.5,2514.3 2330.7,2515.2 2336.2,2512.8 2339,2523.8"/>
<polygon points="2289.8,2493.4 2297.4,2483.3 2315.3,2485.6 2301.7,2497.6"/>
<polygon points="2391.6,2550.5 2380,2554.7 2373.1,2559.2 2369.4,2547 2375.3,2536.3 2384.6,2538.7"/>
<polygon points="2380.1,2501.8 2372.2,2494.5 2370.6,2485.3 2379.8,2480.6 2393.2,2482.7 2388.7,2494.7"/>
<polygon points="2367.8,2490.1 2354.4,2493.9 2346.7,2503.4 2343.1,2485.4 2342.9,2465.4 2358.8,2474.1"/>
<polygon points="2377.4,2490.4 2397,2469.8 2417.9,2467.7 2405.2,2484.5"/>
<polygon points="2388.9,2552.5 2377.7,2545.3 2367.6,2549.5 2374.8,2536.4 2390.3,2527.1 2388.3,2540"/>
<polygon points="2331.3,2490.4 2339.8,2462.8 2352.9,2458.7 2353.8,2472.3"/>
<polygon points="2402.6,2537.5 2385.6,2520.1 2382.2,2494.5 2399.8,2513.3"/>
<polygon points="2372.5,2533.4 2372.7,2522.2 2391.9,2514.4 2383.7,2533.4"/>
<polygon points="2442.6,2515.9 2447.1,2502.1 2447.7,2488.1 2462.1,2498.1 2472.7,2511 2458.8,2516.3"/>
<polygon points="2427.8,2522.5 2420.6,2503.9 2411.2,2494 2426.3,2491.6 2446.7,2490.1 2434.9,2504.3"/>
<polygon points="2437.4,2531.2 2426.5,2519 2430.8,2506.9 2440.6,2515.1"/>
<polygon points="2464.5,2492.5 2460.6,2501.1 2448.6,2498.8 2446.2,2490.3 2448.1,2484.7 2458.6,2484.8"/>
<polygon points="2476.6,2470 2468.7,2475 2458,2474.7 2459.5,2465.5 2460.5,2456 2470.3,2462.3"/>
<polygon points="2493.2,2511.9 2476.5,2515.7 2469.6,2517.2 2464,2506.8 2472.1,2490 2482.7,2498.7"/>
<polygon points="2432.4,2529 2458,2515.8 2468.5,2523.1 2460.9,2533.4"/>
<polygon points="2515.2,2507.5 2498.5,2504.7 2493.8,2494.5 2504.9,2494"/>
<polygon points="2514.4,2504.9 2500.7,2506.3 2478.6,2492.1 2504.7,2495.2"/>
<polygon points="2517,2538.3 2508.3,2530 2496.9,2517.7 2513.7,2516.4 2526.3,2517 2522.6,2528.4"/>
<polygon points="2495.5,2549.5 2497.4,2541.4 2500.8,2534.1 2508.2,2539.8 2514.4,2548.7 2504.4,2551.1"/>
<polygon points="2555.8,2489.1 2545.3,2490.9 2540.4,2489.4 2537.6,2482 2546.1,2473.8 2552.5,2479.6"/>
<polygon points="2520.7,2553.1 2515.9,2539.9 2521.7,2523.7 2526.4,2540.3"/>
<polygon points="2463.1,2517.9 2466.1,2503.6 2472.7,2490.8 2480.8,2500.4 2485.8,2502.8 2479.6,2511.4"/>
<polygon points="2562.8,2512.6 2555.2,2508.9 2549.7,2499.2 2560.1,2496.1 2565,2495 2568.9,2503"/>
<polygon points="2582.8,2540.3 2567.5,2535.3 2561,2521.3 2575.7,2525.8"/>
<polygon points="2572.6,2496.1 2573,2484.2 2574.5,2472.7 2583,2479.1 2589.7,2492.5 2578.3,2490.3"/>
<polygon points="2229.8,2615 2218.3,2612.2 2211.8,2600.3 2220.9,2593.9 2234.8,2591 2233.1,2605.7"/>
<polygon points="2263.9,2568.5 2255.1,2554.2 2260.3,2531.2 2269.7,2552.8"/>
<polygon points="2339,2573.8 2344.7,2562.5 2345.6,2552.7 2355.9,2559.9 2365.4,2568 2354.3,2573"/>
<polygon points="2340.3,2579.6 2339.7,2568.8 2344.4,2555.6 2353.8,2564.2 2357.8,2579.6 2345.8,2577.8"/>
<polygon points="2431.2,2607.2 2435.6,2588.7 2435,2577.5 2447.9,2581.6 2459.2,2578.7 2452.8,2593.3"/>
<polygon points="2410.8,2582.1 2399.8,2582.1 2387.7,2583.1 2393.9,2569.6 2402.6,2561.6 2409.7,2569.5"/>
<polygon points="2454.3,2584.8 2452,2569.6 2464.4,2553.2 2465.1,2573.7"/>
<polygon points="2414,2616.1 2399.3,2616 2386,2615.3 2391.6,2601.9 2394.2,2591.2 2406.1,2598.9"/>
<polygon points="2462.2,2616.3 2451.1,2603.8 2435.9,2604.6 2450.4,2594.1 2463,2583.6 2462,2598.3"/>
<polygon points="2456.4,2620.3 2453.9,2600 2462.1,2580.3 2464.4,2601.5"/>
<polygon points="2425.4,2582.3 2437.6,2575.8 2443.4,2569.5 2448,2579.3 2453.3,2592.2 2440,2588.8"/>
<polygon points="2467.6,2626 2475,2608.9 2491.2,2601.2 2484.3,2617.8"/>
<polygon points="2461.6,2543.9 2463.3,2531.6 2474.1,2522.1 2481.2,2531.3 2488,2540.7 2474,2544.4"/>
<polygon points="2397.2,2562 2391.9,2549.4 2391.4,2526.7 2407.7,2538.6 2416.8,2544.8 2408.8,2555.4"/>
<polygon points="2409.5,2615.8 2413.7,2600.4 2425.4,2595.7 2423.5,2608.1"/>
<polygon points="2447.8,2556.4 2451.7,2548.6 2461.7,2544.3 2463.3,2552.6 2464.4,2556.8 2456.9,2559"/>
<polygon points="2423.3,2592.2 2425.3,2574.5 2438.1,2559.9 2445.3,2572 2452.2,2577.7 2439.7,2585.2"/>
<polygon points="2397,2545.7 2406.2,2532.9 2401.1,2520 2416.6,2529.9 2427.6,2537.8 2417,2544.6"/>
<polygon points="2400.5,2575.4 2402.3,2558 2425.1,2535.5 2415.2,2565.9"/>
<polygon points="2540.2,2603.4 2524.2,2594.4 2524.9,2584.3 2534.9,2585.8"/>
<polygon points="2467.9,2551.6 2474,2531.8 2491.9,2524.6 2486.8,2543.3"/>
<polygon points="2518.5,2618.8 2503.7,2599.3 2501.5,2578.7 2514.7,2594.7"/>
<polygon points="2487.7,2615.8 2485.3,2589.1 2492.1,2575.2 2495.7,2590.2"/>
<polygon points="2491,2544.4 2489.4,2533.8 2493.2,2521.4 2503.5,2528.1 2512.6,2534.4 2502.4,2542"/>
<polygon points="2551.7,2596.6 2540.1,2590.7 2527.6,2585.5 2539.8,2575.9 2553.4,2567.3 2554.6,2582.7"/>
<polygon points="2502.3,2611.1 2500.4,2597.7 2505.4,2587.7 2513.7,2590.8 2517.5,2600.2 2509.7,2604.7"/>
<polygon points="2528,2588.1 2514.1,2564.1 2517,2553.6 2525.5,2560.5"/>
<polygon points="2556.4,2549.9 2539.1,2544.4 2526.4,2520.5 2550.6,2532.7"/>
<polygon points="2565.7,2573.4 2558.2,2564.5 2562.6,2536.4 2571.7,2563.3"/>
<polygon points="2528.2,2547.9 2542.3,2542.1 2556.9,2532.3 2552,2548.3 2559.5,2555.2 2545.8,2554.1"/>
<polygon points="2560.3,2582.3 2553.2,2561.1 2562.7,2554.5 2570.8,2562.6"/>
<polygon points="2594.3,2589.6 2597.7,2571.2 2609.8,2566.4 2610,2579.4"/>
<polygon points="2320.3,2657.4 2319,2636.6 2328.2,2627.9 2331.8,2640"/>
<polygon points="2317,2640.4 2344.5,2632.4 2360.8,2638.2 2345.1,2645.6"/>
<polygon points="2420.3,2685.3 2422.1,2676 2428.9,2666.8 2434.1,2675 2435.2,2682.8 2427.6,2684.3"/>
<polygon points="2448.5,2657.8 2435.6,2663.3 2413.1,2647.9 2440.4,2646.4"/>
<polygon points="2428.5,2681 2413.9,2671.7 2410.7,2657.3 2423.6,2664.4"/>
<polygon points="2434.8,2670.7 2418,2666.4 2410.4,2650.7 2427.3,2655.1"/>
<polygon points="2407.7,2675.6 2405.1,2664.3 2417.9,2648.8 2417.2,2668.9"/>
<polygon points="2483.7,2686.2 2478.5,2675 2487.9,2646.6 2491.2,2676.3"/>
<polygon points="2516.7,2671.5 2505.3,2666.8 2505.3,2649.4 2519.4,2659.5"/>
<polygon points="2525.6,2693.1 2532.9,2665.2 2542,2657.9 2542.2,2669.6"/>
<polygon points="2546.1,2682.3 2533.7,2679.3 2527.9,2670.4 2533.1,2661.3 2540.7,2656.6 2548.2,2666.3"/>
<polygon points="2467.2,2662.9 2460.8,2653.4 2453.5,2646.2 2465.5,2642.4 2472.1,2640.4 2475.2,2649.3"/>
<polygon points="2545.2,2678.2 2524.4,2670.8 2508.6,2651.7 2531.7,2660.8"/>
<polygon points="2501.4,2662.7 2485.9,2653.5 2485.8,2642.9 2496,2645.5"/>
<polygon points="2530.1,2667.5 2541.5,2658 2571,2658.5 2544.4,2671.3"/>
<polygon points="2547.6,2620.9 2542.5,2611.7 2552.6,2602.5 2561.3,2606.3 2561.3,2612.8 2556.1,2620.8"/>
<polygon points="2581.8,2637.6 2589.2,2624.8 2619.6,2612.1 2596.5,2635.6"/>
<polygon points="2528.7,2626.1 2555.1,2616 2564.6,2623.8 2556.1,2632.7"/>
<polygon points="2590.7,2642.6 2585.3,2634 2592.2,2613 2597,2634.5"/>
<polygon points="2534,2630.6 2539,2615.9 2549,2599.6 2554.8,2614.9 2559.7,2621.5 2549.4,2626.5"/>
<polygon points="2540.2,2681.7 2535.7,2671.9 2547.1,2657.8 2554.7,2667.6 2561.8,2673.8 2549.4,2680.8"/>
<polygon points="2566.1,2674.6 2590.5,2664.8 2602.5,2669.8 2592.2,2677.7"/>
<polygon points="2573.8,2680.9 2561.1,2687 2543.5,2684.9 2549.9,2672.5 2554.5,2663 2565,2671.4"/>
<polygon points="2549.9,2622.6 2522.4,2609.6 2516.2,2593.7 2532.8,2597.3"/>
<polygon points="2558.8,2669.6 2562,2656.1 2575.2,2648.1 2571,2662.9"/>
<polygon points="2590.2,2625.8 2581.8,2618.8 2581.2,2609.4 2590.3,2603.9 2602,2609.8 2599.1,2620.6"/>
<polygon points="2570,2617.5 2540.3,2615.7 2525.6,2601.2 2546.2,2599.6"/>
<polygon points="2555.3,2649.5 2532.5,2647.5 2517.6,2633 2538.3,2634.1"/>
<polygon points="2278.7,2688.5 2264.9,2687.4 2243.3,2662.4 2273.5,2675.7"/>
<polygon points="2303.4,2729.9 2271.1,2726.8 2257.7,2717.1 2274.2,2715.8"/>
<polygon points="2332.4,2702.6 2323.8,2688.7 2325,2669.5 2334.3,2686.3"/>
<polygon points="2354.1,2685.8 2355.8,2673.6 2362.9,2658.7 2373.1,2671.7 2381.4,2687.7 2364.7,2687.6"/>
<polygon points="2421.7,2729.2 2409,2727.6 2391.5,2709.1 2415.3,2718.2"/>
<polygon points="2335.3,2691 2349.8,2675.8 2367.9,2678.2 2356.3,2692.2"/>
<polygon points="2485.3,2719.2 2454.8,2723 2441.4,2713.4 2456.9,2707.5"/>
<polygon points="2545.9,2706.9 2530.6,2712.4 2518,2718.7 2518.5,2703.8 2522.9,2688.8 2533.5,2697.8"/>
<polygon points="2550.6,2687.6 2548.5,2675.8 2550.6,2660.9 2563.4,2668.5 2568.7,2682.9 2557.8,2685.9"/>
<polygon points="2578.6,2735.6 2568.6,2742.3 2554.8,2738.7 2557.2,2728.1 2563.8,2720 2573,2727.6"/>
<polygon points="2524.1,2729.4 2525.6,2719.3 2536.1,2714.8 2543.5,2723.5 2545.4,2734.8 2532.6,2737.3"/>
<polygon points="2551.7,2749.2 2539.9,2755.4 2516.4,2742.8 2542.9,2739.2"/>
<polygon points="2601.3,2698.1 2593.6,2703.3 2586.5,2711.4 2583.6,2697.3 2585.3,2681.9 2596.2,2688.9"/>
</g></g>
</g>
<clipPath id="cp0_6"><rect x="2618" y="1930" width="401" height="399"/></clipPath>
<g clip-path="url(#cp0_6)">
<rect x="2618" y="1930" width="401" height="399" fill="#fff"/>
<g filter="url(#cblur)">
<g fill="rgb(232,160,246)" stroke="rgb(232,160,246)" stroke-width="8" stroke-linejoin="round">
<polygon points="2671.4,1929.8 2691.1,1929.8 2688.6,1961.8 2676.3,1959.3"/>
<polygon points="2752.5,1949.5 2796.8,1932.3 2804.2,1942.1 2762.4,1961.8"/>
<polygon points="2666.5,1996.2 2681.2,1993.8 2696,2047.9 2686.1,2057.7 2673.9,2028.2"/>
<polygon points="2681.2,2067.5 2703.4,2082.3 2725.5,2109.3 2715.7,2121.6 2698.4,2106.9"/>
<polygon points="2735.3,2087.2 2755,2082.3 2774.7,2102 2762.4,2114.3 2742.7,2102"/>
<polygon points="2779.6,2052.8 2787,2055.2 2816.5,2106.9 2806.6,2116.7 2791.9,2087.2"/>
<polygon points="2823.9,2126.6 2841.1,2109.3 2846,2136.4 2833.7,2161 2823.9,2151.2"/>
<polygon points="2905,2126.6 2919.8,2092.1 2934.5,2077.4 2932.1,2106.9"/>
<polygon points="2939.4,2018.4 2959.1,2008.5 2983.7,2025.7 2964,2033.1 2961.6,2082.3 2951.7,2077.4 2951.7,2033.1"/>
<polygon points="2993.5,2104.4 3013.2,2116.7 3013.2,2146.2"/>
<polygon points="2912.4,2195.4 2939.4,2180.7 2959.1,2168.4 2949.3,2200.3 2919.8,2205.3"/>
<ellipse cx="2939.4" cy="2229.8" rx="17.2" ry="17.2"/>
<polygon points="2912.4,2264.3 2929.6,2254.4 2934.5,2274.1 2917.3,2288.9"/>
<polygon points="2757.5,2220 2772.2,2227.4 2791.9,2207.7 2787,2224.9 2774.7,2239.7 2774.7,2264.3 2767.3,2239.7"/>
<polygon points="2673.9,2271.6 2718.1,2264.3 2715.7,2276.6 2683.7,2281.5"/>
<polygon points="2747.6,2303.6 2782.1,2288.9 2796.8,2293.8 2794.3,2311 2752.5,2311"/>
<ellipse cx="2858.3" cy="2296.2" rx="10.8" ry="9.8"/>
<ellipse cx="2892.7" cy="2294.8" rx="9.8" ry="9.8"/>
</g>
<g fill="rgb(165,75,232)">
<polygon points="2673.1,1932.3 2689.6,1932.3 2687.5,1959.1 2677.2,1957.1"/>
<polygon points="2756.8,1949 2794,1934.6 2800.2,1942.8 2765,1959.3"/>
<polygon points="2668.8,2000.8 2681.2,1998.7 2693.5,2044.2 2685.3,2052.4 2675,2027.6"/>
<polygon points="2685,2072.3 2703.6,2084.7 2722.2,2107.5 2713.9,2117.8 2699.5,2105.4"/>
<polygon points="2738.3,2088.9 2754.8,2084.7 2771.4,2101.3 2761,2111.6 2744.5,2101.3"/>
<polygon points="2782.3,2057.7 2788.5,2059.8 2813.3,2103.2 2805,2111.5 2792.6,2086.7"/>
<polygon points="2825.4,2128.2 2839.9,2113.8 2844,2136.5 2833.7,2157.1 2825.4,2148.9"/>
<polygon points="2907.9,2122.4 2920.3,2093.5 2932.6,2081.1 2930.6,2105.9"/>
<polygon points="2942.5,2021.8 2959,2013.5 2979.7,2028 2963.2,2034.2 2961.1,2075.5 2952.9,2071.4 2952.9,2034.2"/>
<polygon points="2995.6,2107.3 3012.2,2117.6 3012.2,2142.4"/>
<polygon points="2916.2,2194.5 2938.9,2182.2 2955.4,2171.8 2947.1,2198.7 2922.4,2202.8"/>
<ellipse cx="2939.4" cy="2229.8" rx="14.5" ry="14.5"/>
<polygon points="2914.2,2265.3 2928.6,2257 2932.7,2273.5 2918.3,2285.9"/>
<polygon points="2760.3,2221.9 2772.7,2228.1 2789.2,2211.6 2785.1,2226 2774.7,2238.4 2774.7,2259.1 2768.5,2238.4"/>
<polygon points="2677.7,2271.9 2714.9,2265.7 2712.8,2276.1 2686,2280.2"/>
<polygon points="2752,2303.3 2780.9,2290.9 2793.3,2295 2791.2,2309.5 2756.1,2309.5"/>
<ellipse cx="2858.3" cy="2296.2" rx="9.1" ry="8.3"/>
<ellipse cx="2892.7" cy="2294.8" rx="8.3" ry="8.3"/>
</g>
<g fill="rgb(105,25,215)">
<polygon points="2676.4,1937.2 2686.6,1937.2 2685.4,1953.8 2679,1952.6"/>
<polygon points="2765.2,1948 2788.2,1939.1 2792.1,1944.2 2770.3,1954.4"/>
<polygon points="2673.3,2009.9 2681,2008.6 2688.7,2036.8 2683.6,2041.9 2677.2,2026.5"/>
<polygon points="2692.6,2081.9 2704.1,2089.6 2715.6,2103.7 2710.5,2110.1 2701.5,2102.4"/>
<polygon points="2744.3,2092.2 2754.5,2089.6 2764.8,2099.8 2758.4,2106.2 2748.1,2099.8"/>
<polygon points="2787.6,2067.7 2791.5,2068.9 2806.8,2095.8 2801.7,2100.9 2794,2085.6"/>
<polygon points="2828.6,2131.5 2837.5,2122.6 2840.1,2136.6 2833.7,2149.4 2828.6,2144.3"/>
<polygon points="2913.6,2114.2 2921.2,2096.3 2928.9,2088.6 2927.6,2103.9"/>
<polygon points="2948.7,2028.6 2958.9,2023.5 2971.7,2032.5 2961.5,2036.3 2960.2,2061.9 2955.1,2059.3 2955.1,2036.3"/>
<polygon points="2999.8,2113.1 3010.1,2119.5 3010.1,2134.8"/>
<polygon points="2923.7,2192.8 2937.8,2185.1 2948,2178.8 2942.9,2195.4 2927.5,2197.9"/>
<ellipse cx="2939.4" cy="2229.8" rx="9" ry="9"/>
<polygon points="2917.7,2267.2 2926.6,2262.1 2929.2,2272.3 2920.3,2280"/>
<polygon points="2765.9,2225.7 2773.6,2229.6 2783.8,2219.3 2781.2,2228.3 2774.8,2236 2774.8,2248.8 2771,2236"/>
<polygon points="2685.4,2272.5 2708.4,2268.7 2707.1,2275.1 2690.5,2277.6"/>
<polygon points="2760.6,2302.7 2778.5,2295 2786.2,2297.6 2784.9,2306.5 2763.2,2306.5"/>
<ellipse cx="2858.3" cy="2296.2" rx="5.6" ry="5.1"/>
<ellipse cx="2892.7" cy="2294.8" rx="5.1" ry="5.1"/>
</g></g>
</g>
<clipPath id="cp96_6"><rect x="2618" y="2341" width="401" height="399"/></clipPath>
<g clip-path="url(#cp96_6)">
<rect x="2618" y="2341" width="401" height="399" fill="rgb(62,8,228)"/>
<g filter="url(#cblur)">
<g fill="rgb(145,85,245)" opacity="0.75">
<polygon points="2641.8,2347.3 2653.8,2340.5 2663.9,2335.6 2664.3,2346.1 2664.1,2360.7 2653.7,2351.3"/>
<polygon points="2647.6,2404.7 2627.6,2396.1 2616.9,2380.8 2634.3,2387.4"/>
<polygon points="2662,2358.4 2674.8,2338.9 2689.3,2334.5 2683,2348.3"/>
<polygon points="2662.4,2358.1 2674.4,2347.5 2684.9,2347.8 2678.3,2356"/>
<polygon points="2632.9,2375.8 2625,2379.4 2617.2,2374.3 2618.6,2366.6 2624.7,2361.5 2631.3,2367.8"/>
<polygon points="2664,2348.3 2668.4,2339.6 2675.2,2335.8 2682.5,2342.8 2686.4,2353.2 2674.5,2355.8"/>
<polygon points="2724.6,2361.4 2708.6,2352.8 2708.3,2338.9 2721.4,2343.5"/>
<polygon points="2698.2,2377.9 2698.3,2365.1 2716.6,2342.9 2708.8,2370.6"/>
<polygon points="2718.8,2383.6 2732.9,2372.6 2741.3,2376.9 2736.6,2385"/>
<polygon points="2736.6,2377.6 2727.7,2379.5 2719,2366.4 2734.5,2368.7"/>
<polygon points="2714.9,2395.7 2718.7,2388.9 2722.4,2379.1 2727.6,2389.1 2731.9,2402.4 2721.3,2397.1"/>
<polygon points="2713.1,2395.4 2722.7,2386.8 2729.7,2380.7 2732.4,2389.1 2736,2396.4 2726.6,2396"/>
<polygon points="2770.1,2362.3 2778.8,2353.9 2792.2,2354.8 2782.2,2363.7"/>
<polygon points="2761.7,2400.9 2762.8,2389 2770.9,2372.3 2776.5,2386.5 2785.8,2391.2 2773.1,2396.4"/>
<polygon points="2784.5,2344.4 2778.2,2350.1 2768,2348.8 2768.3,2339.6 2773.5,2331.8 2781.7,2337.3"/>
<polygon points="2786.6,2404.9 2769.4,2396.4 2766.7,2386.6 2776.7,2388.4"/>
<polygon points="2792.1,2414.2 2786.9,2407.7 2781.4,2402.2 2789.9,2399.4 2798.7,2401.8 2795.7,2408"/>
<polygon points="2798.2,2385.9 2800.3,2373 2817.7,2366 2811,2383.5"/>
<polygon points="2844,2374.6 2853.7,2355.4 2868.7,2343.5 2860.5,2360.9"/>
<polygon points="2819.5,2357.2 2822.1,2339.6 2831.2,2334.2 2832.1,2344.7"/>
<polygon points="2879.7,2393.3 2877.4,2383.4 2886.9,2357.7 2885.7,2385.1"/>
<polygon points="2837.2,2411.4 2829.9,2411.6 2825.9,2406 2829,2399.5 2838.4,2400.2 2840,2407.2"/>
<polygon points="2875.5,2385.2 2855.4,2382.5 2846.7,2368.7 2863.1,2369.2"/>
<polygon points="2853.3,2391.5 2836.6,2378.4 2830,2361.1 2844.9,2372"/>
<polygon points="2908.9,2373.1 2897.7,2371 2891.6,2372.9 2892.5,2361.5 2898.7,2350 2906.9,2358.4"/>
<polygon points="2940.9,2387.4 2936.6,2366.8 2941.4,2356.2 2945.8,2366.9"/>
<polygon points="2874.7,2351.3 2880.7,2341.1 2900.9,2340.6 2886.2,2354.3"/>
<polygon points="2910.5,2356.5 2907.5,2346.4 2909,2335.7 2920.1,2338.5 2929.4,2351.5 2917.6,2355.1"/>
<polygon points="2923.2,2379 2922.8,2369.3 2936.1,2360.2 2932.4,2375.9"/>
<polygon points="2925.4,2377.4 2926.8,2371 2937.8,2365.6 2937.3,2374.4 2935.7,2382.4 2928.5,2378.3"/>
<polygon points="3003.1,2403.4 3008.7,2393.2 3016.9,2391.6 3014.1,2399.5"/>
<polygon points="3001,2364 2982.3,2360.5 2975.1,2346.7 2990.7,2348"/>
<polygon points="3014.7,2398.7 3009.8,2389.6 3008,2380.4 3018,2379.6 3034.3,2384.6 3021.8,2393.2"/>
<polygon points="2979.7,2383.3 2984.9,2379.5 2990.3,2378.1 2992,2384.1 2990.6,2390.6 2984.3,2388.7"/>
<polygon points="2999.4,2373.6 2993.3,2358.8 2999,2340.7 3005.2,2358.7"/>
<polygon points="3028.9,2382.8 3015.2,2387 2995.5,2374.1 3019,2372.5"/>
<polygon points="2638.3,2466.9 2618.4,2464.1 2604,2452.8 2622.2,2454.9"/>
<polygon points="2650.7,2484.8 2642.4,2480.9 2632.2,2460.2 2649.3,2475.7"/>
<polygon points="2622.8,2465.7 2623.7,2453.8 2633.9,2447.9 2633.1,2459.7"/>
<polygon points="2639.5,2428.4 2619.8,2415.6 2611,2401.2 2625.9,2409.3"/>
<polygon points="2673.3,2425.6 2664.7,2418.6 2656.4,2392.1 2672.8,2414.5"/>
<polygon points="2632.7,2441 2626.5,2437 2624.6,2428.7 2633.3,2426.3 2637.7,2424.8 2640.7,2433.3"/>
<polygon points="2732.5,2437.4 2723,2437 2717,2430.9 2721.2,2422.2 2725.9,2417.8 2734.3,2423.8"/>
<polygon points="2736.1,2442.5 2729.2,2446.5 2715.5,2441 2729.9,2437.5"/>
<polygon points="2715.4,2448.8 2716.8,2440.5 2724.1,2440.9 2731.1,2446.4 2729.8,2454.2 2721.1,2458.3"/>
<polygon points="2752.9,2424.7 2743.1,2423 2735.9,2416.9 2741.9,2408.7 2750.1,2401.3 2755.1,2412.9"/>
<polygon points="2694.8,2456.1 2681.3,2447.6 2684.6,2436.7 2695.4,2440.2"/>
<polygon points="2760.2,2467.4 2748.6,2469.9 2724.1,2455.3 2752.4,2458.4"/>
<polygon points="2781.7,2425.5 2760.6,2431.7 2748.2,2422.9 2761.8,2416.1"/>
<polygon points="2753.7,2442.8 2772.7,2437.6 2784.8,2441.3 2773.1,2446.1"/>
<polygon points="2809.4,2488.4 2809,2473.2 2811.3,2461.3 2823,2465 2829.1,2479.1 2818.6,2482.6"/>
<polygon points="2782.7,2408.9 2796.2,2404.2 2820.4,2407.8 2796.5,2412.9"/>
<polygon points="2820.8,2475 2811.1,2476.9 2786.7,2466.8 2813.1,2468.9"/>
<polygon points="2768.6,2431.4 2773.3,2423.4 2791.8,2420.8 2777.7,2433"/>
<polygon points="2870.1,2438.6 2864.1,2446.1 2851,2438.3 2864.3,2430.8"/>
<polygon points="2871.6,2447.5 2881.7,2437.1 2896.1,2438.4 2886,2448.8"/>
<polygon points="2847.3,2433.3 2847.8,2424.2 2851.1,2411.5 2857.6,2421.1 2861.7,2427.3 2854.4,2430"/>
<polygon points="2831.8,2442.1 2820.7,2445 2808.6,2430 2827.9,2431.3"/>
<polygon points="2846.1,2453.3 2855,2441.4 2880.1,2434.2 2860.9,2451.8"/>
<polygon points="2884.3,2449.9 2875.4,2448.5 2872.7,2433 2886.1,2441.2"/>
<polygon points="2888.6,2434.8 2894.4,2418.3 2908,2408.8 2902.7,2424.5"/>
<polygon points="2889,2461.2 2891.2,2447.2 2902.5,2435.9 2899.5,2451.6"/>
<polygon points="2897.9,2455.6 2894.5,2444.1 2907.1,2431.8 2908.1,2449.3"/>
<polygon points="2923,2445.1 2931,2433.8 2941.6,2424.9 2942.9,2436.1 2947.1,2442.6 2936.7,2443.2"/>
<polygon points="2915.4,2454.1 2913,2446.6 2914.6,2438.4 2922.2,2440.6 2925.7,2443.2 2924.3,2449.8"/>
<polygon points="2889.9,2480.6 2883.6,2470.7 2886,2441.9 2894.1,2469.7"/>
<polygon points="2968.2,2464.3 2972.6,2456.5 2982,2449.4 2982.3,2458.7 2980.9,2469.2 2973.8,2463"/>
<polygon points="3014.1,2462.2 3004.7,2468.3 2992,2467.7 2994.5,2458.3 2997.3,2450 3006.1,2456.1"/>
<polygon points="3007.2,2454.8 2987.2,2438.6 2987.8,2425.7 2999.9,2430.1"/>
<polygon points="3013.6,2468.9 2999.1,2459.7 2993.5,2446.9 3005.8,2453.7"/>
<polygon points="3007.2,2456.4 3009.3,2445.7 3021,2438.1 3017,2451.4"/>
<polygon points="3005.3,2443.3 3003.7,2427.7 3000.6,2419.5 3012.4,2418 3023.8,2419.5 3019.7,2430.7"/>
<polygon points="2632.2,2542.9 2638.5,2534.3 2640.5,2525.9 2646.9,2533.5 2650.7,2541.1 2643.2,2542.3"/>
<polygon points="2665.4,2486.6 2673,2475.4 2693.8,2470.7 2678.9,2486"/>
<polygon points="2657.2,2515.5 2660,2498.6 2678.3,2484.1 2671.7,2506.5"/>
<polygon points="2640,2537.6 2640.1,2526.9 2643.3,2519 2651.5,2521.8 2659.6,2524.6 2652.3,2532.9"/>
<polygon points="2675.9,2542.5 2667.1,2539.8 2663.7,2527.2 2675.2,2533.3"/>
<polygon points="2650.4,2541 2633.8,2520.4 2631.1,2507.5 2640.9,2516.3"/>
<polygon points="2735.6,2505.2 2732,2500.6 2729.9,2494.8 2737.5,2493.8 2746,2496.8 2741.4,2503.2"/>
<polygon points="2757.4,2529.7 2752.7,2536.2 2743.9,2534.5 2742.1,2525.6 2747.4,2517.9 2756.4,2521.3"/>
<polygon points="2735.5,2550 2729,2540 2719.4,2530.6 2732.1,2531.9 2736.8,2522.6 2737.3,2535.6"/>
<polygon points="2752.9,2497.6 2736.7,2501 2724.5,2489.8 2740.7,2486.4"/>
<polygon points="2704.1,2527.6 2703,2516.2 2715.4,2506.5 2714.2,2522.2"/>
<polygon points="2733.7,2511.6 2747.5,2499.9 2756.9,2500.1 2751.4,2507.7"/>
<polygon points="2817.3,2527.5 2807.4,2521.2 2807,2508.1 2817.6,2515.8"/>
<polygon points="2811.8,2487.8 2808.7,2478.9 2806.9,2466.4 2817.5,2471.6 2824.7,2483 2814.9,2483.8"/>
<polygon points="2784.3,2493.6 2785.4,2481.1 2798.9,2472.3 2795.6,2488"/>
<polygon points="2823.4,2525.6 2810.9,2523.2 2801.9,2524.2 2805.9,2514.6 2811.4,2505.5 2816.8,2513.9"/>
<polygon points="2807.2,2498.1 2796.5,2498 2784.6,2486.9 2800.7,2489.6"/>
<polygon points="2766,2528.5 2766.6,2511.8 2774.2,2507.9 2777,2515.9"/>
<polygon points="2856.6,2519.7 2861.8,2510.7 2882.8,2505.5 2867,2520.3"/>
<polygon points="2874.2,2518.2 2860.7,2522.4 2841.8,2512.9 2862.8,2509.9"/>
<polygon points="2808.5,2491.7 2818.7,2471.1 2829.3,2468.4 2827.7,2479.2"/>
<polygon points="2878.9,2489.1 2870.7,2490.3 2864.6,2486.1 2866.5,2478.8 2870.7,2475.3 2877.5,2478.9"/>
<polygon points="2809.4,2509.8 2825.2,2498.1 2836.3,2497.6 2828.6,2505.6"/>
<polygon points="2879.5,2491.5 2870.2,2493.8 2855.7,2485.5 2872.4,2485.2"/>
<polygon points="2919.7,2549.2 2918.5,2538.2 2935.3,2514.3 2928.6,2542.7"/>
<polygon points="2925.7,2530.7 2938.4,2522.5 2938.4,2511 2946.7,2522.7 2960.5,2528.6 2944.9,2532.2"/>
<polygon points="2952,2535.8 2929.8,2525.6 2928.6,2514.4 2939.9,2514.6"/>
<polygon points="2944.5,2528.4 2937.7,2523.2 2936.6,2509.1 2945.8,2519.9"/>
<polygon points="2892,2500.5 2891.2,2487.6 2905.7,2472 2902.6,2493.1"/>
<polygon points="2911.6,2514.3 2899.1,2508.4 2894.3,2495.3 2906.9,2501.4"/>
<polygon points="2989.2,2516.8 3003.8,2512 3013.5,2507.6 3014.5,2519.4 3016,2535.3 3002.8,2526.1"/>
<polygon points="2972.6,2528.9 2965.3,2521.9 2965.1,2507 2974,2518.9"/>
<polygon points="2964.3,2512.9 2954.2,2508.9 2952.6,2497.5 2959.9,2492.7 2964.5,2493.3 2968.8,2501.7"/>
<polygon points="2966.1,2543.8 2961.8,2526.8 2971.8,2509.9 2975.7,2529.1"/>
<polygon points="3009.2,2495.2 3002.2,2496.4 2996.6,2493 2999.5,2485 3006.8,2481.8 3012.3,2487.3"/>
<polygon points="2996,2527.9 2975.8,2529.3 2961.5,2522.2 2977.3,2520.1"/>
<polygon points="2666.7,2551.5 2648.4,2548.1 2641.1,2537.4 2654,2537.8"/>
<polygon points="2612.9,2579 2613.7,2566.8 2618.1,2555.4 2627.9,2562.3 2630,2574.1 2621.2,2577"/>
<polygon points="2662.4,2602 2647,2586.3 2645.3,2566.6 2659.7,2580.2"/>
<polygon points="2635.2,2609.6 2628.5,2602.5 2634.3,2587.6 2641.3,2601.9"/>
<polygon points="2655.5,2604 2650.4,2598 2654.6,2585.4 2660,2597.5"/>
<polygon points="2628.2,2566 2624.3,2552.6 2617.9,2536.4 2632.8,2543.6 2644.7,2548.6 2634.9,2555.7"/>
<polygon points="2694.8,2591.1 2689.1,2584.2 2690.1,2579.2 2695.4,2573.8 2702.8,2578 2703.7,2585.5"/>
<polygon points="2731.7,2583.9 2749.4,2575.1 2756.4,2581.7 2750.6,2589.5"/>
<polygon points="2726.5,2567.5 2718.8,2565.6 2716.7,2561.2 2722.1,2553.6 2733.1,2554.3 2735.1,2563.3"/>
<polygon points="2737.8,2609.7 2727.4,2593.9 2732.6,2577.8 2742.6,2591.5"/>
<polygon points="2737.3,2610.8 2726.9,2610.8 2716.7,2602.1 2730.1,2603.3"/>
<polygon points="2712.6,2558.1 2700.7,2564.5 2687.3,2556.2 2701.8,2550"/>
<polygon points="2748.5,2599.9 2744.8,2585.6 2755.9,2577 2759.9,2590.5"/>
<polygon points="2820,2625 2811.8,2613.3 2812,2587.8 2822.7,2611"/>
<polygon points="2807.2,2589.1 2802.7,2576.1 2808,2561.4 2812.5,2576.3"/>
<polygon points="2784,2560.1 2784.6,2549.5 2782.4,2539 2791.8,2544.7 2799.9,2551.9 2791.1,2554.1"/>
<polygon points="2746,2591 2745.9,2581.2 2751.4,2577.8 2759.3,2577.1 2760.4,2588.3 2753.5,2592.6"/>
<polygon points="2815.4,2595.1 2808,2599.7 2801,2600.5 2798.8,2591.7 2805.2,2580.2 2812.7,2587.6"/>
<polygon points="2862.2,2568.1 2853.5,2554.3 2857.3,2530.4 2867,2552.5"/>
<polygon points="2841.5,2609.2 2841.8,2598.3 2861.9,2586.4 2852.3,2607.7"/>
<polygon points="2845,2559.2 2858.2,2540.9 2869.4,2541.4 2866.4,2552.1"/>
<polygon points="2895.1,2562.7 2881.9,2564.1 2874.2,2567.8 2874.2,2557.4 2877,2547.2 2884.9,2552.9"/>
<polygon points="2837.3,2573.9 2829.5,2561.5 2833.7,2549.4 2841.2,2559.8"/>
<polygon points="2843,2571.6 2825.4,2554.4 2825.1,2540.3 2837,2547.7"/>
<polygon points="2894.9,2561.4 2900.2,2554.5 2903.1,2555.9 2910.8,2560.5 2904,2571.8 2895.1,2570.7"/>
<polygon points="2917.3,2608.3 2909.4,2606.4 2903.8,2589.4 2918,2600.2"/>
<polygon points="2897.6,2556.1 2904.4,2536.7 2915.6,2529.2 2912.9,2542.5"/>
<polygon points="2903.8,2600.9 2901.5,2581.9 2911.7,2566.8 2914.2,2584.9"/>
<polygon points="2936.6,2601.5 2914,2606.8 2901,2600.4 2914.4,2594.8"/>
<polygon points="2932.1,2586.2 2920.2,2587.4 2911.1,2579.8 2922.9,2578.6"/>
<polygon points="2997.8,2552.7 3002.6,2543.3 3015.9,2546 3007.6,2556.7"/>
<polygon points="3004.4,2550.1 2988.2,2550.8 2983.2,2544.3 2990.8,2541.2"/>
<polygon points="2982,2599.1 2975.4,2592.1 2980.5,2582.5 2989.5,2581.7 2991.9,2589.7 2989.7,2598"/>
<polygon points="2974.1,2612.3 2976,2599.5 2986.7,2593 2985,2605.4"/>
<polygon points="2987.7,2558.6 2979.7,2555.5 2973.6,2549 2980.2,2545.2 2990.3,2539.9 2987.8,2551.2"/>
<polygon points="2988.1,2612.5 2967.2,2597.5 2964.2,2586.5 2974.9,2590.4"/>
<polygon points="2638.6,2662.5 2628.7,2663.3 2623.2,2652.6 2635.2,2653.2"/>
<polygon points="2616.6,2641 2630.7,2630.1 2638.1,2635.5 2634.2,2643.7"/>
<polygon points="2672.1,2628.5 2658.3,2611.9 2662.8,2600.4 2673.3,2607"/>
<polygon points="2620.2,2617.8 2617.8,2605.3 2625.6,2597.9 2628.6,2608.2"/>
<polygon points="2607.7,2631.4 2627.2,2619.2 2643.6,2619.2 2630.5,2629.2"/>
<polygon points="2610.2,2630.3 2616.9,2616.7 2629.6,2616.5 2625.2,2628.4"/>
<polygon points="2742.4,2646.6 2729.4,2647.7 2703.7,2637 2731.5,2639.6"/>
<polygon points="2714.5,2638.7 2714.9,2625.6 2713.4,2615.9 2726.6,2618.3 2740.7,2630.8 2726.8,2635.9"/>
<polygon points="2716.6,2663.4 2708.4,2659.4 2707.8,2648.1 2716.5,2645.5 2724.6,2648.9 2722.6,2658.5"/>
<polygon points="2744.3,2677.6 2734.8,2672.7 2725.3,2667.5 2734.5,2661.2 2740.9,2654.5 2744.6,2664.9"/>
<polygon points="2743.4,2669.6 2737.4,2643.7 2743.8,2634.5 2750,2643.9"/>
<polygon points="2727.7,2669.3 2736.3,2658.6 2759,2650.6 2741.2,2666.8"/>
<polygon points="2798.7,2683.7 2795.1,2662.9 2802.6,2655 2807.8,2664.7"/>
<polygon points="2772.8,2640 2762,2639 2743.5,2618.7 2768.5,2630"/>
<polygon points="2793.7,2634 2781.4,2630.7 2771.3,2629 2777.5,2617.5 2788.4,2609.7 2793.4,2620.3"/>
<polygon points="2763.9,2658.4 2778.5,2646.1 2796.2,2647.6 2783,2659.4"/>
<polygon points="2768.8,2679.8 2753,2666.4 2752.7,2651.6 2765.3,2659.3"/>
<polygon points="2778,2608.4 2786.7,2600.5 2794.2,2597.3 2800,2605.9 2798.4,2618.8 2787.3,2616.5"/>
<polygon points="2832.2,2659.2 2819.7,2651 2821.1,2639.4 2831.7,2644.3"/>
<polygon points="2838.9,2656.7 2818.9,2646 2812.3,2628.7 2829.3,2636.1"/>
<polygon points="2875.4,2678.2 2867.7,2682.2 2860.9,2675.4 2862.2,2666.9 2873.9,2666.2 2877.7,2674.3"/>
<polygon points="2862.3,2641.8 2867.9,2627.3 2889.2,2612.8 2876.3,2635.2"/>
<polygon points="2830.2,2675 2822.3,2669.5 2824.9,2657.6 2833.7,2656.8 2837,2659.4 2838.2,2668.2"/>
<polygon points="2837.2,2621.9 2843,2617.1 2857.6,2621.9 2843,2626.7"/>
<polygon points="2905,2665.3 2914.6,2659.6 2920.2,2652 2924.6,2663.5 2929.4,2671.6 2918.3,2673.2"/>
<polygon points="2901.6,2656.8 2899.6,2649.8 2902.6,2640.9 2908.7,2645.5 2911.5,2649 2907.8,2653.8"/>
<polygon points="2901.5,2646.2 2889.6,2640.8 2879.8,2632.9 2890,2625.2 2899.1,2622.1 2903.4,2632"/>
<polygon points="2907.2,2661 2899.8,2656.5 2899,2640.7 2909.4,2652.6"/>
<polygon points="2912.2,2667.5 2901.6,2665.2 2895.6,2658.7 2899.9,2651.6 2903.8,2647.3 2910.8,2653.8"/>
<polygon points="2907.6,2647.2 2882,2643.2 2874.5,2632.9 2887.2,2631.4"/>
<polygon points="2994.5,2663.9 2998.1,2653.7 3011.6,2653.1 3005.2,2665"/>
<polygon points="2987.3,2685.2 2987.3,2672.4 3008.2,2658.1 2999.7,2682"/>
<polygon points="2944.1,2664.4 2955.6,2654.9 2965.9,2657.9 2958.9,2666.1"/>
<polygon points="2945.5,2648.1 2945.4,2635.3 2967.7,2617.1 2957.6,2644"/>
<polygon points="2998.5,2611.3 2987.5,2617.8 2974.7,2608.9 2989,2602.7"/>
<polygon points="2965.4,2619.6 2962.2,2610.8 2965,2600.4 2972.8,2604.1 2979,2607.2 2973.3,2614.4"/>
<polygon points="2658.6,2711 2649.5,2713.5 2644.1,2708 2643.8,2699.4 2652.1,2693.7 2659.6,2700.5"/>
<polygon points="2633.9,2701.8 2623.5,2705.5 2611.4,2693.2 2628.6,2692.1"/>
<polygon points="2657.4,2697.9 2653,2703.5 2645.8,2707.7 2644,2699.7 2649.6,2691.5 2654.4,2696.4"/>
<polygon points="2646.2,2726.8 2658.2,2715.5 2673.4,2713 2662.5,2723.9"/>
<polygon points="2629.5,2734.7 2620.5,2730.4 2611.8,2710.7 2628,2724.8"/>
<polygon points="2684.3,2736.7 2672,2732 2667.1,2718.6 2680.2,2724.2"/>
<polygon points="2720.6,2703.5 2722.9,2694.4 2742,2677.9 2729.1,2699.7"/>
<polygon points="2723.6,2706.9 2712.3,2705.8 2702.3,2700.5 2709.1,2694.6 2715.4,2691.5 2718.7,2698.5"/>
<polygon points="2672.9,2684.5 2691.2,2675.2 2706.9,2678.8 2693.2,2687.3"/>
<polygon points="2745.9,2706.2 2738,2693.2 2739.7,2679.9 2747.2,2691"/>
<polygon points="2709.6,2725.9 2728.8,2708.9 2738.7,2708.5 2733.7,2717.1"/>
<polygon points="2751.8,2737.7 2744.3,2743.5 2735.6,2744 2736.3,2737.8 2737.2,2731.2 2744,2735.6"/>
<polygon points="2828.7,2675.2 2818.6,2679.4 2810.5,2684.2 2810.5,2674.3 2816.2,2663 2821.1,2671.4"/>
<polygon points="2766.9,2721.3 2785.7,2710.5 2802.1,2711 2788.5,2720.2"/>
<polygon points="2765.2,2752.7 2763.4,2737.3 2763.2,2729.4 2773.3,2727.4 2785.1,2733.7 2778,2742.9"/>
<polygon points="2774.4,2740.6 2765.5,2712.1 2772.8,2702.1 2780.9,2711.4"/>
<polygon points="2764.8,2714.4 2751.8,2711.4 2746,2698.8 2759.4,2702.1"/>
<polygon points="2754.9,2742.5 2750.5,2731.8 2760.9,2724.3 2764.8,2736.5"/>
<polygon points="2870.9,2734.8 2855.8,2740.2 2832.8,2730.5 2857.4,2726.2"/>
<polygon points="2877.8,2725.5 2856.8,2715.8 2853.2,2707.5 2862.1,2708.5"/>
<polygon points="2824.5,2690.7 2815.6,2687.8 2813.5,2676.2 2824.1,2681.4"/>
<polygon points="2831.2,2714.4 2820.7,2708.9 2816.6,2699.4 2823.4,2694.3 2833.8,2692.6 2833,2703.9"/>
<polygon points="2841.8,2697.9 2840.8,2683.2 2847.4,2678.7 2850.6,2686.1"/>
<polygon points="2883.7,2697.8 2874.8,2688.8 2866.6,2682 2877.7,2676.1 2895.1,2673.6 2888.3,2686.9"/>
<polygon points="2903.4,2703.1 2895.6,2706.7 2887.6,2705.1 2887.9,2696.7 2893.5,2693.7 2900.2,2694.4"/>
<polygon points="2905.4,2707.6 2913.8,2691.4 2927.1,2685.7 2921.6,2699.1"/>
<polygon points="2938.9,2685.7 2929.2,2682.1 2923.1,2664.4 2938.2,2675.4"/>
<polygon points="2925.6,2710.9 2921.4,2703.5 2922.5,2697.2 2930.3,2694.8 2937.1,2703.4 2932.3,2709.6"/>
<polygon points="2958.4,2714.9 2949.3,2719.8 2939,2725.6 2940.1,2713.7 2941.1,2701.3 2950.3,2709"/>
<polygon points="2919,2739.1 2906.3,2737 2893.5,2732.3 2903,2725.7 2910.7,2722 2913,2730.1"/>
<polygon points="2990.1,2692.1 2986.4,2682.5 2986.8,2675.7 2994.9,2673.3 3005.7,2678.8 2999.1,2686.9"/>
<polygon points="2991.9,2694.1 2996.6,2685.6 3002.1,2683 3010,2688.6 3007.8,2703.2 2997.4,2701.2"/>
<polygon points="2972.5,2702.2 2955.8,2704.2 2939.6,2689.5 2961.5,2689.4"/>
<polygon points="2992.6,2712.4 2982.2,2712.1 2971.3,2710.6 2977.5,2702.1 2990.6,2694.8 2988.7,2706.5"/>
<polygon points="2997.9,2732.6 2981.5,2719.9 2976.3,2699.4 2993,2712.4"/>
<polygon points="2955,2746.1 2965.5,2731.1 2976.6,2733.1 2973.2,2743.9"/>
</g>
<g fill="rgb(38,2,140)" opacity="0.55">
<polygon points="2644.9,2390.9 2644.8,2380.5 2660.7,2365.5 2654.3,2386.4"/>
<polygon points="2649.8,2416.2 2643.2,2409 2648,2397.8 2654.8,2407.8"/>
<polygon points="2639.8,2361.7 2632.1,2356.8 2625.9,2355.3 2631.5,2347.6 2637.2,2344 2642.1,2349.4"/>
<polygon points="2737.8,2354.7 2744.7,2343.5 2759.9,2338.9 2750.6,2351.8"/>
<polygon points="2727.2,2348.1 2724,2354.5 2712,2354.6 2713.5,2345.9 2716.6,2341 2724.1,2343.1"/>
<polygon points="2750.1,2380.8 2742.4,2377.6 2739.2,2371.4 2744.2,2365.7 2751.7,2364.6 2754.3,2372.4"/>
<polygon points="2802.3,2389.6 2790.8,2396.7 2767.9,2385.4 2792.9,2379.9"/>
<polygon points="2806.3,2417.6 2793,2412.9 2783.8,2394.1 2802.2,2404.2"/>
<polygon points="2786.3,2371.7 2789.3,2353.4 2803,2347.7 2802.4,2362.6"/>
<polygon points="2899.2,2412.1 2876.1,2410.1 2869.4,2401.3 2880.2,2398.8"/>
<polygon points="2864.2,2351.2 2871.2,2339.9 2880.2,2339.8 2877.2,2348.3"/>
<polygon points="2849.1,2356.7 2848.9,2349.6 2855.9,2347.7 2862.1,2351.7 2862,2359.7 2854.1,2362.2"/>
<polygon points="2899,2392.8 2895.7,2378.9 2898.3,2363.6 2908.9,2370.3 2914.1,2375.4 2909,2383.5"/>
<polygon points="2893.4,2380 2881.2,2375.2 2882.1,2362.8 2893.9,2366.9"/>
<polygon points="2944.7,2356.8 2943.4,2348 2950.5,2346.9 2959.3,2350 2953.6,2360.9 2945.2,2363.9"/>
<polygon points="3013.8,2390.6 3002.3,2373.6 3005,2364.8 3012.5,2370.1"/>
<polygon points="3005.4,2407.2 3010.1,2398.3 3029.4,2399.6 3014.3,2411.8"/>
<polygon points="2980.8,2422.1 2973.8,2412.4 2982.6,2390.6 2988.9,2413.3"/>
<polygon points="2668.5,2478.3 2667.3,2468.5 2671.5,2458.7 2677.8,2464.1 2680.7,2467 2677,2472.8"/>
<polygon points="2695.3,2414.3 2685.6,2422.1 2674.8,2427.8 2672.6,2415.5 2676.4,2407 2685.2,2407.6"/>
<polygon points="2664.2,2420.8 2661.3,2413.1 2670.5,2403.7 2671.3,2416.8"/>
<polygon points="2742.1,2447.8 2739.2,2438.9 2751.9,2427.8 2750.9,2444.6"/>
<polygon points="2701.3,2424.5 2691.7,2418.3 2689.7,2411.8 2694.6,2403.6 2707.3,2405.3 2708.1,2415.5"/>
<polygon points="2698.7,2465.9 2690.3,2458.2 2689.5,2446.7 2699.6,2443.8 2710.5,2446.3 2706.9,2458.1"/>
<polygon points="2807.6,2428.7 2799,2421.2 2804.6,2408.6 2813.6,2419.1"/>
<polygon points="2804.7,2479.5 2802.6,2467.5 2822.4,2451.7 2816.5,2476.3"/>
<polygon points="2767.8,2439.1 2745.1,2436.2 2738,2425.5 2750.7,2423.9"/>
<polygon points="2859.9,2426.8 2841.7,2431.8 2837.3,2422.3 2845.1,2415.2"/>
<polygon points="2863.1,2450.2 2868.5,2440.2 2888.4,2445 2872.1,2457.3"/>
<polygon points="2849.3,2434.5 2839.8,2434.2 2835,2421 2848.4,2425"/>
<polygon points="2889.4,2423.8 2905.5,2412.7 2923.9,2419.3 2907.8,2430.5"/>
<polygon points="2930.2,2427.4 2917.3,2420.5 2912.9,2403.4 2927.6,2413"/>
<polygon points="2931.9,2423.5 2925.1,2421.3 2923.1,2412.6 2930.5,2409.3 2936.4,2414.3 2936.6,2421.1"/>
<polygon points="2998.4,2437.6 2977.2,2433.1 2974.1,2420.9 2986.5,2419.4"/>
<polygon points="3004.2,2415.3 2993.8,2421 2983.8,2409.3 2998.6,2404.8"/>
<polygon points="2963.7,2450.2 2953.9,2439.9 2953.2,2424.9 2963.3,2436"/>
<polygon points="2633,2510 2620.6,2503.4 2620.1,2493.5 2629.6,2496.4"/>
<polygon points="2664.8,2541.4 2663,2532.3 2675.5,2519.2 2673,2537.1"/>
<polygon points="2691.8,2520.2 2681.5,2521.3 2674.5,2523.4 2674.5,2513.1 2676.1,2500.3 2686.2,2508.2"/>
<polygon points="2725.1,2534.7 2737.2,2517.3 2748.6,2514.5 2744.2,2525.4"/>
<polygon points="2739.3,2549.1 2728.5,2537.8 2725.2,2518.5 2737.8,2533.6"/>
<polygon points="2744.8,2513.5 2739.9,2506.6 2741.3,2498.8 2748,2497.7 2755.8,2503.5 2749.7,2509.6"/>
<polygon points="2776.5,2515.1 2779.4,2497.6 2789.9,2497.3 2792.4,2507.5"/>
<polygon points="2776.5,2539.2 2777.5,2530.1 2793.7,2529.8 2784.7,2543.2"/>
<polygon points="2765.4,2536.1 2774.3,2525.1 2785.3,2528.1 2779.4,2537.8"/>
<polygon points="2809.7,2491.4 2823.8,2474.8 2834.8,2475.4 2830.7,2485.6"/>
<polygon points="2867.4,2541 2871.2,2525.9 2880,2525.3 2881.3,2534"/>
<polygon points="2838.6,2497.6 2828.7,2504.9 2819.3,2494.9 2831.1,2487.9"/>
<polygon points="2879.8,2489.1 2892.3,2481.5 2905.5,2486.7 2893.5,2494.2"/>
<polygon points="2933.4,2533.1 2925.5,2527.5 2917,2521.8 2927,2516.4 2938.1,2513.2 2936.8,2523.8"/>
<polygon points="2891.7,2508.6 2881.1,2509.7 2879.5,2493.4 2895.1,2498.5"/>
<polygon points="2970.8,2525.7 2963.6,2533.1 2956.4,2532.3 2950.5,2524.6 2960.4,2514.8 2969,2518.7"/>
<polygon points="2949.4,2496.5 2958.2,2481.7 2973.4,2481.4 2966.5,2494.9"/>
<polygon points="2980.8,2524.2 2967.7,2522.1 2958,2510.3 2972.9,2513.5"/>
<polygon points="2650,2608.8 2655.7,2599.4 2663.2,2591.8 2668,2600.8 2673.7,2609.3 2661.9,2610.3"/>
<polygon points="2656.3,2598.7 2632.9,2595.9 2625.9,2583.7 2639.9,2581.8"/>
<polygon points="2647.5,2607.8 2625.3,2605.3 2620.5,2596 2630.6,2593.3"/>
<polygon points="2698,2618.6 2690.4,2608.6 2682.6,2600.4 2694,2597.9 2704.5,2597.6 2701.5,2606.9"/>
<polygon points="2709.1,2592.6 2704.6,2569.9 2711.7,2562.2 2717.3,2571"/>
<polygon points="2748.7,2567.5 2741.2,2556.4 2732.2,2551.5 2743.1,2547 2753.1,2539 2751.8,2552.3"/>
<polygon points="2805,2585.6 2808.5,2575.6 2827.4,2573 2815.4,2587.9"/>
<polygon points="2778.6,2560.6 2785,2551.5 2806.1,2555.2 2787.9,2566.5"/>
<polygon points="2769.1,2610.1 2765.8,2599.4 2781.3,2579.8 2779,2604.6"/>
<polygon points="2866.2,2609.3 2857.8,2608.3 2850,2602.5 2857.7,2594.6 2867.1,2592.1 2870.7,2600.9"/>
<polygon points="2851.3,2615 2855.3,2600.7 2870.5,2596.1 2865.6,2611.2"/>
<polygon points="2815.6,2592.7 2814.7,2577.8 2830.5,2564.5 2828.5,2585.1"/>
<polygon points="2891.1,2586.4 2911.5,2579.4 2920.9,2586.1 2911.6,2593"/>
<polygon points="2955.5,2572.5 2943.2,2570.8 2935.8,2553.2 2953.5,2560.3"/>
<polygon points="2928,2560.2 2919.1,2561.8 2907.5,2553 2916.8,2548.4 2924.8,2542.4 2926.1,2554.1"/>
<polygon points="2964.8,2567.3 2960.1,2556.2 2970.3,2538.8 2973.2,2558.7"/>
<polygon points="2957.7,2569.5 2965.5,2552 2975.4,2554.3 2976.2,2564.4"/>
<polygon points="2949.2,2605.8 2963.6,2593 2978.4,2598.3 2967.9,2610"/>
<polygon points="2659.5,2637.7 2669.8,2630.6 2679.8,2633 2683.3,2642.8 2678.6,2651.3 2667.4,2649.5"/>
<polygon points="2649.6,2628.7 2635.6,2634.4 2624.8,2628.5 2635.6,2622.7"/>
<polygon points="2650.6,2648.3 2637.1,2649 2625.1,2641.8 2631.7,2632 2641.3,2627.5 2647.5,2636.8"/>
<polygon points="2695.4,2658.9 2698.9,2649.1 2702.1,2647.9 2711.7,2648.1 2713.1,2660.5 2705.8,2666.3"/>
<polygon points="2688.3,2619 2698.6,2611.1 2712.2,2614.9 2700.6,2623.1"/>
<polygon points="2689.1,2626.7 2687.2,2619.1 2692.5,2614.4 2700.1,2615.6 2702.9,2625 2695.6,2629.2"/>
<polygon points="2774.5,2620.7 2751.7,2614.5 2750,2601.8 2762.7,2600.3"/>
<polygon points="2763,2660.3 2774.2,2653.6 2786.5,2658.9 2774.9,2665.7"/>
<polygon points="2770.7,2665.4 2760.6,2664.1 2752.3,2643.8 2771.1,2655.2"/>
<polygon points="2868.1,2659.9 2848.3,2650.2 2844.2,2636.9 2857.7,2640.4"/>
<polygon points="2827,2644.7 2815.3,2636.4 2817.1,2623 2828.4,2630.5"/>
<polygon points="2889.2,2653.5 2879.6,2655.1 2871.4,2645.9 2883.7,2645.4"/>
<polygon points="2886.4,2651.5 2883.5,2639.3 2894.7,2631.1 2897,2644.8"/>
<polygon points="2961,2668.3 2951.3,2669.7 2940.9,2663.7 2947,2655.9 2957.4,2651.9 2959.6,2661.8"/>
<polygon points="2936.2,2624.5 2927.8,2616.7 2933.5,2603.8 2942.3,2614.7"/>
<polygon points="2961.7,2651.1 2970.9,2640.6 2983.8,2646.5 2974.4,2657"/>
<polygon points="2993,2646.2 2993.6,2622.5 3005.2,2613.6 3008.1,2627.9"/>
<polygon points="2964.9,2632.5 2976,2620.1 2992.9,2621.1 2981.6,2633.6"/>
<polygon points="2676.3,2702.3 2671.7,2687.5 2681.7,2671.9 2685.8,2690"/>
<polygon points="2660.6,2729 2671.3,2714.8 2687.1,2710 2677.5,2723.3"/>
<polygon points="2624.4,2712.5 2612,2704.1 2612.8,2689.5 2625,2697.6"/>
<polygon points="2737,2735.2 2733.8,2729.4 2735.7,2719.5 2743.4,2723.8 2746.7,2726.4 2744.5,2732.8"/>
<polygon points="2698,2732.3 2689.9,2735.5 2683.2,2731 2683.3,2723.6 2689.4,2720.6 2696.1,2723.8"/>
<polygon points="2718.7,2708.4 2707.3,2712.8 2695.3,2700.3 2703.1,2692.2 2706.7,2686.5 2716,2696.7"/>
<polygon points="2759.3,2723.2 2764.4,2709.2 2778.2,2707.2 2773.9,2720.4"/>
<polygon points="2788.9,2704 2803.4,2683.2 2815.3,2681.2 2811.7,2692.7"/>
<polygon points="2780.1,2729.9 2767.2,2729.4 2762.7,2715.3 2777.4,2717.2"/>
<polygon points="2887.7,2742.9 2880.6,2737.6 2876.9,2727.8 2885.3,2727.1 2892.4,2728.6 2890.2,2736.1"/>
<polygon points="2887.3,2715.5 2877.1,2696.6 2879.6,2686.5 2886.8,2694"/>
<polygon points="2845.1,2733.6 2844.2,2725 2853.8,2721.6 2860.9,2727.4 2857,2735.4 2849.5,2739.3"/>
<polygon points="2937.9,2737.1 2938.3,2723 2951.6,2715.4 2950.5,2730.7"/>
<polygon points="2909.9,2727.3 2896,2728.8 2888.2,2718.3 2901.1,2716.4"/>
<polygon points="2936.4,2692.2 2929.3,2687.2 2929.4,2682 2934.1,2675.4 2942.9,2678.3 2945,2686.3"/>
<polygon points="2959.8,2721.8 2961.9,2707.8 2973.5,2706.4 2973.5,2718"/>
<polygon points="2977.2,2690.9 2997.2,2682.5 3007.4,2690.3 2997.6,2698.5"/>
<polygon points="3003.1,2717.2 2994.9,2715.4 2987.4,2705.4 2997.1,2702.1 3007.3,2700.5 3005.5,2711.1"/>
</g>
<g fill="rgb(190,160,245)" stroke="rgb(190,160,245)" stroke-width="5" stroke-linejoin="round">
<polygon points="2744.1,2408.7 2746.7,2394.1 2759.1,2378.3 2754,2397.8"/>
<polygon points="2758.6,2359.4 2749.3,2349.1 2754,2338.4 2762.8,2346.1"/>
<polygon points="2736.4,2396.6 2745.9,2380.7 2758.7,2375 2752.7,2387.7"/>
<polygon points="2632.8,2420.6 2633.7,2415.1 2635.7,2410 2641.2,2413.7 2642.9,2420.4 2637.7,2421.9"/>
<polygon points="2688.7,2439.7 2695.9,2429.1 2711.2,2424.3 2701.2,2436.8"/>
<polygon points="2687.9,2422.1 2681.7,2424.2 2675.8,2425.1 2676.2,2418.7 2677.2,2414.5 2682.8,2415.5"/>
<polygon points="2705.3,2442.5 2700.8,2440 2697.9,2436.7 2702.3,2432.9 2709.5,2430.6 2709.1,2437.7"/>
<polygon points="2685.3,2478.2 2691.7,2469.2 2702.6,2470.1 2696.4,2479.1"/>
<polygon points="2812.2,2454.7 2805.3,2446.3 2809.7,2435.4 2816.9,2444.8"/>
<polygon points="2767,2460.1 2760.2,2439.8 2766,2431.4 2772.4,2439.4"/>
<polygon points="2875.9,2429 2859.5,2414.5 2855.2,2400.2 2867.3,2408.8"/>
<polygon points="2888.5,2408.4 2877.1,2409.9 2853.7,2400.8 2878.8,2402.3"/>
<polygon points="2878.3,2425.5 2872,2417.7 2872.1,2400.9 2882.8,2407.8 2892.6,2412.9 2882.9,2420.3"/>
<polygon points="2911.5,2451.2 2925.5,2438.8 2935.6,2438.5 2929.6,2446.6"/>
<polygon points="3009.4,2419.6 3005.9,2414.1 3004,2407.3 3010.7,2407.7 3015.6,2410.6 3013.2,2415.3"/>
<polygon points="2628.7,2490.1 2623,2483.9 2610.5,2484.2 2623,2477.6 2628.4,2466.9 2629.9,2479.4"/>
<polygon points="2684.8,2491.7 2686.2,2478.9 2693.1,2473.5 2693.5,2482.2"/>
<polygon points="2672.6,2506 2671.3,2491.7 2679.8,2486.6 2682.9,2496.1"/>
<polygon points="2659.4,2548.9 2655.6,2537.2 2664.4,2519.9 2666.9,2539.1"/>
<polygon points="2645,2510.2 2653.9,2503.8 2660,2508.7 2654.9,2514.7"/>
<polygon points="2750.8,2518.6 2738.4,2507.2 2738,2500.5 2744.2,2503.1"/>
<polygon points="2708.5,2534 2693.3,2539.5 2681.5,2533.6 2693.5,2528.1"/>
<polygon points="2675.8,2478.8 2678.1,2469.2 2678.7,2458 2688,2466 2693.8,2475 2685,2477.4"/>
<polygon points="2723.1,2515.2 2718.9,2507.4 2724.4,2495.8 2728.3,2508"/>
<polygon points="2832.8,2507.2 2820.8,2509.6 2801.1,2495.3 2825.4,2497.5"/>
<polygon points="2789.9,2486.8 2801.1,2469.4 2814.7,2462 2807.3,2475.6"/>
<polygon points="2802,2477.6 2797,2473.8 2800.3,2468.1 2806.7,2466.4 2810,2469.6 2810.1,2476.5"/>
<polygon points="2810.4,2538.9 2817.3,2533.3 2830.7,2533.2 2819.2,2540.1"/>
<polygon points="2820.9,2544.2 2810.6,2531.4 2809.2,2512.6 2820.4,2527.8"/>
<polygon points="2833,2487.5 2821.5,2484.5 2808.3,2466.5 2828.2,2476.6"/>
<polygon points="2801.8,2500 2799.1,2495 2806.6,2487.6 2810.5,2493.6 2811.6,2500.2 2804.4,2501.2"/>
<polygon points="2809.1,2534 2812.9,2525.4 2816.3,2522.1 2823.9,2524.5 2825,2535.8 2817.1,2537.3"/>
<polygon points="2886.8,2481.5 2894.8,2472 2903.3,2476.2 2898.8,2484.6"/>
<polygon points="2883.5,2552.8 2880.9,2542.8 2876.4,2539.8 2883.5,2536.7 2893.1,2536 2889.4,2543.2"/>
<polygon points="2609,2576.5 2615.1,2570.4 2622.3,2563.5 2622.7,2572.6 2623.5,2577.9 2617.5,2577.4"/>
<polygon points="2649.9,2567.7 2648.1,2558.9 2649.6,2550.2 2659.3,2552.9 2669.6,2563.7 2657.7,2567.2"/>
<polygon points="2669.6,2591.7 2668.5,2583.9 2676.6,2574.2 2675.8,2586.8"/>
<polygon points="2727.4,2618.9 2724.1,2607.3 2731.6,2594.7 2734.5,2609.1"/>
<polygon points="2718.6,2562.2 2707.7,2564.3 2693.8,2569.9 2701.2,2557.4 2701,2546.3 2709.6,2554.9"/>
<polygon points="2825.5,2571 2811.7,2558.5 2814.2,2548.6 2823.6,2552.4"/>
<polygon points="2812.9,2617.4 2816,2607.4 2830.5,2598 2822.6,2613.3"/>
<polygon points="2769.5,2604.4 2757.7,2608.8 2740.5,2599.3 2759.9,2596.3"/>
<polygon points="2759,2573.9 2750.8,2570.3 2751.4,2560.9 2759.8,2565"/>
<polygon points="2875.9,2590.9 2880.8,2582.1 2893.5,2582.7 2885.8,2592.8"/>
<polygon points="2935.1,2606.7 2947.7,2589.8 2963.1,2587.5 2955.4,2601.1"/>
<polygon points="2946,2597.2 2943.1,2592.2 2944.6,2587.9 2950.4,2586.6 2956.1,2591 2952.5,2596.7"/>
<polygon points="2680.4,2629.2 2674.6,2621.8 2677.6,2611.4 2683.6,2620.4"/>
<polygon points="2683.3,2638.1 2678,2629.9 2684.3,2623.4 2689.6,2630.7"/>
<polygon points="2631.8,2648.1 2625.5,2644.2 2622.8,2636.1 2631,2633.3 2639.6,2637.4 2637,2644.9"/>
<polygon points="2745.7,2658.6 2731.8,2645 2733.4,2636.4 2741.5,2639.6"/>
<polygon points="2818.6,2618.4 2809.4,2620.7 2794.9,2610.3 2812.7,2611"/>
<polygon points="2800.3,2639.4 2805.8,2630 2807.4,2620.9 2813.2,2628.5 2817.6,2635.4 2810.2,2636"/>
<polygon points="2827.8,2606.7 2806.8,2604.5 2796.8,2597.7 2808.9,2597.2"/>
<polygon points="2867.5,2670.6 2861.3,2661.5 2867.6,2651.6 2873.8,2661.5"/>
<polygon points="2840.9,2660.2 2839.5,2650.6 2837.8,2646.9 2845.7,2643.7 2859.1,2647.1 2851.5,2655.5"/>
<polygon points="2832,2640.3 2821.3,2636 2819.9,2621.7 2832.5,2628.8"/>
<polygon points="2940.7,2650.1 2929.5,2648.5 2922.4,2644.9 2925.4,2637.1 2931.1,2628.5 2937.1,2638.1"/>
<polygon points="2988.5,2638.6 3002.1,2619.8 3014.3,2618.5 3010.1,2629.9"/>
<polygon points="2663.7,2730.7 2648.7,2730.6 2642.1,2724 2651.3,2722.3"/>
<polygon points="2802.3,2711.3 2810.5,2703.2 2820.7,2692.4 2821.6,2706.7 2826.5,2712.1 2816.2,2714.4"/>
<polygon points="2756.2,2727.5 2742.9,2720.3 2743.9,2712.4 2751.9,2713"/>
<polygon points="2870.7,2713.8 2883.1,2702.8 2902.7,2701 2887.3,2713.1"/>
</g>
<g fill="#f6f2fd">
<polygon points="2746.8,2403.1 2748.4,2394.4 2755.9,2384.9 2752.8,2396.6"/>
<polygon points="2757.7,2354.9 2752,2348.7 2754.9,2342.3 2760.2,2347"/>
<polygon points="2741.2,2392 2746.9,2382.4 2754.6,2379 2751,2386.6"/>
<polygon points="2634.6,2419.1 2635.2,2415.8 2636.3,2412.8 2639.6,2415 2640.7,2419 2637.6,2419.9"/>
<polygon points="2692.9,2436.8 2697.3,2430.4 2706.4,2427.5 2700.4,2435.1"/>
<polygon points="2684.9,2421.3 2681.1,2422.6 2677.6,2423.1 2677.9,2419.2 2678.4,2416.7 2681.8,2417.3"/>
<polygon points="2704.8,2440.2 2702.1,2438.7 2700.4,2436.7 2703,2434.4 2707.4,2433.1 2707.1,2437.3"/>
<polygon points="2688.8,2476.6 2692.6,2471.2 2699.1,2471.7 2695.4,2477.1"/>
<polygon points="2811.8,2450.9 2807.6,2445.9 2810.3,2439.4 2814.5,2445"/>
<polygon points="2766.8,2453.1 2762.7,2440.9 2766.2,2435.9 2770,2440.7"/>
<polygon points="2871.4,2422.7 2861.5,2413.9 2858.9,2405.4 2866.2,2410.6"/>
<polygon points="2882.9,2407.2 2876.1,2408.1 2862,2402.6 2877.1,2403.5"/>
<polygon points="2879,2421 2875.3,2416.3 2875.3,2406.2 2881.7,2410.4 2887.6,2413.4 2881.8,2417.8"/>
<polygon points="2917.1,2448.2 2925.6,2440.8 2931.6,2440.6 2928,2445.4"/>
<polygon points="3009.5,2416.7 3007.4,2413.4 3006.3,2409.4 3010.3,2409.6 3013.3,2411.3 3011.9,2414.2"/>
<polygon points="2626.8,2486.2 2623.4,2482.5 2615.9,2482.7 2623.4,2478.7 2626.6,2472.3 2627.5,2479.8"/>
<polygon points="2686.6,2487.6 2687.5,2480 2691.6,2476.7 2691.8,2482"/>
<polygon points="2674.2,2501.7 2673.5,2493.1 2678.6,2490 2680.4,2495.7"/>
<polygon points="2660.3,2543.9 2658,2536.8 2663.3,2526.5 2664.8,2538"/>
<polygon points="2648.4,2509.9 2653.7,2506.1 2657.4,2509 2654.3,2512.6"/>
<polygon points="2747.6,2514.1 2740.1,2507.3 2739.9,2503.3 2743.6,2504.8"/>
<polygon points="2702.8,2533.9 2693.6,2537.2 2686.6,2533.7 2693.8,2530.4"/>
<polygon points="2678.8,2475.6 2680.2,2469.8 2680.5,2463.1 2686.1,2467.9 2689.6,2473.3 2684.3,2474.7"/>
<polygon points="2723.3,2511.7 2720.8,2507.1 2724.1,2500.1 2726.5,2507.5"/>
<polygon points="2827.7,2505.3 2820.5,2506.7 2808.7,2498.1 2823.3,2499.4"/>
<polygon points="2795.2,2481.4 2801.9,2471 2810.1,2466.5 2805.7,2474.7"/>
<polygon points="2803,2475.4 2800,2473.1 2801.9,2469.7 2805.8,2468.7 2807.7,2470.6 2807.8,2474.7"/>
<polygon points="2814,2537.9 2818.2,2534.6 2826.2,2534.5 2819.3,2538.6"/>
<polygon points="2818.7,2538.2 2812.5,2530.5 2811.7,2519.1 2818.4,2528.3"/>
<polygon points="2828.9,2484.1 2822,2482.2 2814.1,2471.4 2826,2477.5"/>
<polygon points="2803.4,2498.5 2801.7,2495.5 2806.2,2491.1 2808.6,2494.7 2809.2,2498.6 2804.9,2499.3"/>
<polygon points="2812.4,2532.4 2814.7,2527.2 2816.7,2525.2 2821.3,2526.7 2821.9,2533.4 2817.2,2534.3"/>
<polygon points="2890.4,2480.3 2895.2,2474.6 2900.3,2477.2 2897.6,2482.2"/>
<polygon points="2883.9,2548.5 2882.3,2542.4 2879.6,2540.6 2883.9,2538.8 2889.7,2538.3 2887.4,2542.7"/>
<polygon points="2612.8,2575.1 2616.4,2571.5 2620.7,2567.3 2621,2572.8 2621.4,2576 2617.8,2575.7"/>
<polygon points="2652.2,2564.7 2651.2,2559.3 2652.1,2554.1 2657.9,2555.8 2664.1,2562.2 2656.9,2564.4"/>
<polygon points="2670.8,2588.6 2670.1,2584 2675,2578.1 2674.5,2585.7"/>
<polygon points="2728.2,2614.3 2726.2,2607.3 2730.7,2599.8 2732.5,2608.4"/>
<polygon points="2713.3,2561 2706.8,2562.3 2698.4,2565.6 2702.8,2558.1 2702.7,2551.4 2707.9,2556.6"/>
<polygon points="2822.8,2565.7 2814.5,2558.1 2816,2552.2 2821.7,2554.5"/>
<polygon points="2816,2614 2817.8,2608.1 2826.5,2602.4 2821.7,2611.6"/>
<polygon points="2764.5,2603.5 2757.4,2606.1 2747.1,2600.5 2758.7,2598.7"/>
<polygon points="2757.5,2571.4 2752.6,2569.2 2753,2563.6 2758,2566"/>
<polygon points="2879.1,2589.4 2882,2584.1 2889.7,2584.4 2885.1,2590.5"/>
<polygon points="2941.2,2602.5 2948.7,2592.4 2958,2591 2953.3,2599.2"/>
<polygon points="2947.1,2595.1 2945.4,2592.1 2946.3,2589.5 2949.7,2588.7 2953.2,2591.4 2951,2594.8"/>
<polygon points="2679.8,2625.8 2676.4,2621.4 2678.2,2615.1 2681.8,2620.5"/>
<polygon points="2683.5,2635.1 2680.3,2630.2 2684.1,2626.2 2687.3,2630.6"/>
<polygon points="2631.6,2645.1 2627.8,2642.8 2626.2,2637.9 2631.1,2636.2 2636.3,2638.7 2634.7,2643.2"/>
<polygon points="2742.7,2653.1 2734.3,2645 2735.3,2639.8 2740.1,2641.7"/>
<polygon points="2814.7,2617.1 2809.2,2618.5 2800.5,2612.2 2811.2,2612.6"/>
<polygon points="2803.8,2636.3 2807.1,2630.6 2808.1,2625.2 2811.5,2629.8 2814.2,2633.9 2809.8,2634.3"/>
<polygon points="2820.7,2604.6 2808.1,2603.3 2802.1,2599.2 2809.4,2598.9"/>
<polygon points="2867.5,2666.9 2863.8,2661.4 2867.6,2655.5 2871.3,2661.4"/>
<polygon points="2842.9,2656.4 2842,2650.6 2841,2648.4 2845.7,2646.5 2853.7,2648.5 2849.2,2653.6"/>
<polygon points="2829.8,2636.8 2823.4,2634.3 2822.5,2625.7 2830.1,2629.9"/>
<polygon points="2936.8,2646.6 2930.1,2645.6 2925.8,2643.4 2927.6,2638.8 2931,2633.6 2934.6,2639.3"/>
<polygon points="2994.6,2633.9 3002.8,2622.6 3010.1,2621.8 3007.5,2628.7"/>
<polygon points="2658.8,2729.2 2649.8,2729.1 2645.8,2725.1 2651.3,2724.2"/>
<polygon points="2807.9,2709.5 2812.8,2704.6 2818.9,2698.1 2819.5,2706.7 2822.4,2709.9 2816.3,2711.3"/>
<polygon points="2753.2,2723.9 2745.3,2719.5 2745.8,2714.8 2750.6,2715.2"/>
<polygon points="2876.8,2711.4 2884.2,2704.8 2896,2703.7 2886.7,2711"/>
</g></g>
</g>
<clipPath id="cp0_7"><rect x="3031" y="1930" width="399" height="399"/></clipPath>
<g clip-path="url(#cp0_7)">
<rect x="3031" y="1930" width="399" height="399" fill="#fff"/>
<g filter="url(#cblur)">
<g fill="rgb(232,160,246)" stroke="rgb(232,160,246)" stroke-width="8" stroke-linejoin="round">
<polygon points="3158.3,2001.1 3192.7,1993.8 3195.2,2030.7 3165.7,2038"/>
<polygon points="3239.4,2013.4 3283.7,2025.7 3340.3,2035.6 3283.7,2038 3249.3,2030.7"/>
<polygon points="3217.3,2023.3 3234.5,2040.5 3268.9,2052.8 3303.4,2072.5 3325.5,2092.1 3323,2131.5 3303.4,2126.6 3291.1,2087.2 3244.4,2062.6 3227.1,2052.8"/>
<polygon points="3337.8,2106.9 3357.5,2062.6 3364.8,2055.2 3379.6,2092.1 3374.7,2129 3357.5,2106.9"/>
<polygon points="3037.8,2074.9 3050.1,2074.9 3077.1,2099.5 3072.2,2106.9"/>
<polygon points="3150.9,2087.2 3170.6,2084.8 3187.8,2109.3 3170.6,2121.6 3155.8,2131.5 3131.2,2153.6 3126.3,2146.2 3146,2126.6"/>
<polygon points="3155.8,2146.2 3180.4,2148.7 3175.5,2175.7 3155.8,2195.4 3150.9,2175.7"/>
<polygon points="3187.8,2205.3 3202.6,2151.2 3217.3,2126.6 3214.8,2175.7 3195.2,2212.6"/>
<polygon points="3136.2,2215.1 3163.2,2210.2 3170.6,2244.6 3155.8,2259.3 3133.7,2244.6"/>
<polygon points="3168.1,2276.6 3190.3,2254.4 3200.1,2259.3 3185.3,2279 3173,2283.9"/>
<polygon points="3332.9,2183.1 3362.4,2185.6 3396.8,2193 3391.9,2207.7 3337.8,2200.3"/>
</g>
<g fill="rgb(165,75,232)">
<polygon points="3161.4,2003.5 3190.4,1997.3 3192.4,2028.3 3167.6,2034.5"/>
<polygon points="3245.8,2015.9 3283,2026.2 3330.5,2034.5 3283,2036.5 3254.1,2030.3"/>
<polygon points="3226.4,2031.4 3240.8,2045.9 3269.7,2056.2 3298.7,2072.7 3317.2,2089.3 3315.2,2122.3 3298.7,2118.2 3288.3,2085.1 3249.1,2064.5 3234.6,2056.2"/>
<polygon points="3341.7,2104.5 3358.2,2067.3 3364.4,2061.1 3376.8,2092.1 3372.7,2123.1 3358.2,2104.5"/>
<polygon points="3041.2,2077.2 3051.6,2077.2 3074.3,2097.8 3070.2,2104"/>
<polygon points="3151.5,2092.5 3168.1,2090.4 3182.5,2111.1 3168.1,2121.4 3155.7,2129.7 3135,2148.2 3130.9,2142.1 3147.4,2125.5"/>
<polygon points="3157.1,2149.8 3177.7,2151.8 3173.6,2174.6 3157.1,2191.1 3153,2174.6"/>
<polygon points="3190.3,2200.3 3202.7,2154.8 3215.1,2134.2 3213,2175.5 3196.5,2206.5"/>
<polygon points="3138.7,2218.2 3161.4,2214.1 3167.6,2243 3155.2,2255.4 3136.6,2243"/>
<polygon points="3170.6,2275.6 3189.2,2257 3197.4,2261.2 3185,2277.7 3174.7,2281.8"/>
<polygon points="3337.9,2184.9 3362.7,2186.9 3391.6,2193.1 3387.5,2205.5 3342,2199.3"/>
</g>
<g fill="rgb(105,25,215)">
<polygon points="3167.7,2008.2 3185.6,2004.4 3186.9,2023.6 3171.6,2027.4"/>
<polygon points="3258.6,2020.8 3281.6,2027.2 3311,2032.3 3281.6,2033.5 3263.7,2029.7"/>
<polygon points="3244.5,2047.7 3253.4,2056.7 3271.3,2063.1 3289.2,2073.3 3300.7,2083.5 3299.4,2104 3289.2,2101.4 3282.8,2081 3258.5,2068.2 3249.6,2063.1"/>
<polygon points="3349.4,2099.8 3359.6,2076.8 3363.5,2073 3371.1,2092.1 3368.6,2111.3 3359.6,2099.8"/>
<polygon points="3048.1,2081.7 3054.5,2081.7 3068.6,2094.5 3066,2098.3"/>
<polygon points="3152.8,2103 3163.1,2101.7 3172,2114.5 3163.1,2120.9 3155.4,2126 3142.6,2137.5 3140,2133.7 3150.3,2123.5"/>
<polygon points="3159.6,2156.9 3172.4,2158.1 3169.8,2172.2 3159.6,2182.4 3157,2172.2"/>
<polygon points="3195.4,2190.4 3203,2162.2 3210.7,2149.5 3209.4,2175 3199.2,2194.2"/>
<polygon points="3143.7,2224.5 3157.8,2222 3161.6,2239.9 3153.9,2247.5 3142.4,2239.9"/>
<polygon points="3175.4,2273.7 3187,2262.2 3192.1,2264.8 3184.4,2275 3178,2277.6"/>
<polygon points="3348,2188.3 3363.3,2189.6 3381.2,2193.4 3378.7,2201.1 3350.5,2197.3"/>
</g></g>
</g>
<clipPath id="cp96_7"><rect x="3031" y="2341" width="399" height="399"/></clipPath>
<g clip-path="url(#cp96_7)">
<rect x="3031" y="2341" width="399" height="399" fill="#f3f1f6"/>
<g filter="url(#cblur)">
<g fill="rgb(200,160,240)" stroke="rgb(200,160,240)" stroke-width="8" stroke-linejoin="round" opacity="0.9">
<polygon points="3084.5,2384.3 3091.2,2359.7 3116,2335.6 3104.1,2368.1"/>
<polygon points="3132.5,2403.3 3108.8,2387.3 3106.1,2369.2 3123,2376.3"/>
<polygon points="3139.7,2434.5 3139.9,2391.6 3154.9,2375.7 3160.2,2396.9"/>
<polygon points="3185.4,2404.5 3197.5,2365.4 3218.5,2347 3213.2,2374.5"/>
<polygon points="3217.3,2371.9 3221.7,2352.6 3238.6,2341.6 3233.9,2361.2"/>
<polygon points="3172.5,2377.6 3180.8,2361.7 3181.4,2345.3 3193.1,2358.4 3204.5,2370.7 3189.2,2371.8"/>
<polygon points="3275.6,2366.1 3269.7,2347.9 3244.5,2336.4 3274.3,2336.9 3288.1,2325.9 3284.1,2344.6"/>
<polygon points="3321.6,2414.2 3289.8,2381.8 3285.5,2355.4 3307.1,2371.2"/>
<polygon points="3248.6,2351.8 3237.8,2342.3 3230.2,2341.9 3236.4,2331.8 3244.5,2322.9 3249.8,2333.4"/>
<polygon points="3313.4,2397.7 3284.5,2396.2 3248.5,2379.2 3288,2383.7"/>
<polygon points="3286.5,2394.2 3290.6,2381.3 3319.4,2374.4 3299.8,2396.6"/>
<polygon points="3276.1,2361.4 3309.5,2330 3328.5,2325.4 3317.4,2341.5"/>
<polygon points="3336.1,2360.8 3366,2350.5 3393.9,2354.7 3367.5,2364.6"/>
<polygon points="3327,2419.6 3305.4,2399.6 3283.2,2379.8 3308.8,2382.9 3318.7,2362.6 3318.3,2389.8"/>
<polygon points="3363.4,2376.6 3356.9,2360.2 3368.4,2328.3 3373,2361.9"/>
<polygon points="3329.6,2341.6 3356.1,2329.5 3396.8,2332.9 3358.3,2346.6"/>
<polygon points="3310.4,2425 3320,2405.3 3348.1,2385.7 3329.7,2414.6"/>
<polygon points="3282.7,2403.6 3286.9,2381.4 3320.1,2348.5 3301.8,2391.5"/>
<polygon points="3372.9,2360.5 3381.6,2348.4 3397.5,2340.1 3400.4,2355.7 3400.1,2366.2 3386.9,2367.2"/>
<polygon points="3378,2377.7 3366.8,2366.6 3356.4,2350.3 3373.5,2350.5 3384.4,2354.3 3381.6,2365"/>
<polygon points="3397.4,2353.2 3424.3,2345.1 3445.7,2352.1 3424.6,2360.1"/>
<polygon points="3370.5,2424.8 3370.3,2404.9 3385.8,2375.1 3381.9,2408.5"/>
<polygon points="3390,2400.4 3408.4,2384.4 3433.8,2384.9 3414.3,2401.3"/>
<polygon points="3112.7,2424.5 3096.5,2416.7 3075.7,2407.1 3095.7,2400.4 3121.5,2386.8 3108.4,2410.7"/>
<polygon points="3092.5,2428.1 3073,2412 3068.7,2386.8 3088.3,2403.2"/>
<polygon points="3190.6,2445.8 3160,2435 3143.2,2412.6 3169.9,2420.8"/>
<polygon points="3176.1,2469.7 3160.8,2466.4 3134.9,2434.2 3170.6,2455"/>
<polygon points="3188.7,2468.9 3166.2,2468.4 3143.1,2451.8 3171.4,2454.5"/>
<polygon points="3147.4,2477.8 3134.9,2469.3 3130,2451.9 3144.8,2449 3152.9,2450.7 3156.1,2463.3"/>
<polygon points="3222.9,2496.7 3198.6,2492.2 3165.9,2462.2 3207.7,2477.3"/>
<polygon points="3184.4,2458.4 3159.3,2456.4 3145.7,2439.5 3167.5,2439.8"/>
<polygon points="3161.2,2438.4 3165.2,2421.9 3175.1,2402.8 3184.1,2419.4 3196.4,2430.8 3177.6,2434.6"/>
<polygon points="3178.8,2481.7 3186.6,2451.7 3213.4,2431.1 3203.9,2463.5"/>
<polygon points="3329.2,2422.9 3284.7,2401.9 3275.4,2384.8 3294.6,2387.9"/>
<polygon points="3294.4,2411.4 3272.8,2413 3256.1,2394.7 3280.9,2394.5"/>
<polygon points="3290.7,2433.8 3277.1,2431 3262.2,2426.3 3273.6,2417.9 3280.8,2405.2 3285.1,2420.9"/>
<polygon points="3248,2463.4 3272.7,2446.9 3286.1,2453.9 3277.5,2466.4"/>
<polygon points="3222,2438.9 3221.2,2415.3 3221.4,2394.6 3233.7,2407 3254.3,2411.5 3233.2,2419.8"/>
<polygon points="3206.9,2409.8 3244.2,2398.4 3264,2402.7 3245.9,2411.7"/>
<polygon points="3272.7,2471 3258.8,2473.7 3243,2461.9 3254,2452.1 3264.1,2439.3 3270.5,2458.5"/>
<polygon points="3321.9,2427.1 3279.5,2419.4 3268.3,2405.9 3285.7,2403.7"/>
<polygon points="3319.1,2412.3 3297.1,2408.9 3286.6,2397.3 3302.3,2397.7"/>
<polygon points="3307.4,2429.8 3319.6,2415.7 3368,2402.2 3326,2429.9"/>
<polygon points="3384.5,2408.7 3366.4,2411.7 3343.1,2423.9 3356.2,2401.6 3353.6,2386.5 3368.1,2396.7"/>
<polygon points="3311.5,2454.3 3290.7,2417.9 3291.3,2398.2 3304.3,2413"/>
<polygon points="3305.2,2451.4 3290,2438.1 3279.1,2403.9 3302.2,2431.4"/>
<polygon points="3341.7,2422.8 3322.4,2431.1 3306.6,2452.3 3306.5,2423.1 3312.3,2399.7 3325.6,2413.3"/>
<polygon points="3357.5,2430.9 3347.4,2441.5 3329.1,2448.2 3331.6,2432.6 3332.1,2419.9 3345.5,2426"/>
<polygon points="3372.9,2487.8 3370.8,2447 3380.4,2431.8 3385.6,2449"/>
<polygon points="3369.4,2458.8 3378.8,2441.5 3397.9,2431.7 3387.2,2450.2"/>
<polygon points="3362.7,2469.7 3364.3,2432.2 3376.1,2420 3380.2,2436.5"/>
<polygon points="3367.5,2482.6 3381.1,2460.3 3398.7,2455.3 3391.4,2472.1"/>
<polygon points="3402.4,2443.8 3393,2436.5 3384.2,2426.6 3398.1,2421.2 3419.8,2425.6 3407.8,2437.5"/>
<polygon points="3385.5,2431.7 3402.1,2423.4 3413.4,2410.1 3413.6,2427.9 3410,2446.2 3401,2434"/>
<polygon points="3375,2454.6 3363,2439.1 3359.9,2412.9 3375.8,2424 3400,2427.9 3376.9,2440.3"/>
<polygon points="3386.4,2457.8 3379.1,2441.7 3355.6,2437.2 3382,2430.6 3405.9,2412.5 3393.8,2438.7"/>
<polygon points="3383.3,2458.1 3384.3,2437.7 3413.2,2404.3 3400,2446.5"/>
<polygon points="3395,2443.8 3407.6,2435.1 3435.3,2439.9 3409,2449.8"/>
<polygon points="3389.7,2447.2 3374.6,2438.6 3354.4,2439.2 3371.7,2424.5 3378.1,2409.8 3386.5,2425.6"/>
<polygon points="3413.5,2494.5 3415,2474 3414.2,2444 3428.3,2467.4 3450,2477.9 3425.6,2480.6"/>
<polygon points="3032,2494 3022.7,2481.4 3026.7,2445.2 3038.4,2479.7"/>
<polygon points="3037.7,2493.9 3027.6,2494.6 3017.5,2491.7 3022.3,2482.4 3023.4,2473.4 3033.4,2481.1"/>
<polygon points="3125.2,2479.8 3105.4,2484.7 3082.6,2469.8 3109.7,2466.6"/>
<polygon points="3031.4,2565.1 3029.3,2536.9 3044.3,2504.3 3044.7,2540.2"/>
<polygon points="3068.2,2543.2 3073.7,2526 3106,2497.7 3084.1,2534.6"/>
<polygon points="3024.6,2525.9 3053.8,2497.1 3072.3,2494 3062.4,2509.9"/>
<polygon points="3061.2,2488.9 3037.9,2495.4 3011.6,2491.8 3026.2,2478.3 3035,2460 3043.1,2480.9"/>
<polygon points="3181.1,2502.9 3166.3,2505.5 3149.9,2500.9 3157.9,2489.1 3162,2483.1 3172.4,2488.5"/>
<polygon points="3068.6,2514.7 3092.7,2508.8 3105.1,2493 3105.6,2515.4 3110.7,2529.9 3094.6,2526"/>
<polygon points="3146.4,2566 3156.9,2540.8 3183.9,2518.5 3168.5,2549.9"/>
<polygon points="3096.8,2516.7 3115.3,2508.1 3150.3,2510.1 3116.8,2520.5"/>
<polygon points="3209.4,2490.5 3232.5,2483.2 3249.5,2473.9 3244,2491 3241,2514 3230.7,2494.7"/>
<polygon points="3262,2520.3 3238.3,2500.1 3231,2475 3251.8,2490.9"/>
<polygon points="3245.7,2541 3217.6,2536.6 3206.1,2518.5 3227.5,2519.1"/>
<polygon points="3217.8,2491.2 3227.6,2479.3 3241.8,2464.8 3244.1,2483.8 3253.5,2502.5 3232.8,2495.1"/>
<polygon points="3294.9,2560.3 3287.8,2540.7 3299.5,2517.1 3305.9,2542.6"/>
<polygon points="3228.3,2538.7 3223.3,2519.1 3246.9,2475.5 3243.1,2524.9"/>
<polygon points="3334.7,2493.7 3287.8,2486.5 3268.3,2473.3 3291.8,2473.3"/>
<polygon points="3239.9,2501.2 3244.7,2480.7 3274.5,2447.2 3256.5,2488.3"/>
<polygon points="3242,2532.7 3244.4,2516.3 3254.3,2490.1 3263.3,2513.1 3277.4,2529.7 3255.1,2528.5"/>
<polygon points="3347.3,2517 3346.3,2497.9 3344,2472.4 3363.8,2487.7 3381.2,2495.1 3364.6,2506.9"/>
<polygon points="3330,2568.1 3317.4,2529.4 3322.7,2508.1 3332.9,2527.5"/>
<polygon points="3329.8,2526.3 3323.3,2516.4 3323.2,2507.6 3336.5,2504.1 3345.7,2507.4 3346.7,2520.3"/>
<polygon points="3371.4,2524 3354,2511.9 3329.9,2513.6 3351.1,2497.8 3372,2473.8 3367.1,2503"/>
<polygon points="3318.3,2469.7 3332.9,2464.5 3346.6,2461 3344.4,2474.6 3351.4,2489.7 3333.3,2481"/>
<polygon points="3317.6,2468.5 3331.3,2466.3 3347.7,2460.4 3339.6,2475.7 3337.1,2488.4 3327.8,2478.5"/>
<polygon points="3407.8,2492.2 3399.8,2484.2 3390.6,2472.7 3405,2471.6 3417.2,2472.8 3412.7,2483.2"/>
<polygon points="3374.5,2527.5 3358.2,2530.8 3340.5,2518.9 3361.7,2516.9"/>
<polygon points="3356.4,2478.8 3400.7,2467.5 3424.6,2475.3 3401.6,2485.6"/>
<polygon points="3429.5,2537.5 3412.6,2526.4 3410.3,2502.6 3429.1,2517.3"/>
<polygon points="3416.2,2483 3401.9,2490.5 3393.8,2503.4 3389.5,2486 3380.3,2460.7 3400.9,2475.2"/>
<polygon points="3387.4,2556.4 3383.2,2531.8 3373.4,2507.8 3393.5,2520.9 3408.9,2525.6 3395.9,2534.9"/>
<polygon points="3390.4,2501.3 3402.7,2480.7 3408,2456.8 3418.8,2478.4 3438.4,2487.8 3414.8,2492.6"/>
<polygon points="3051.2,2552.9 3036.1,2539.7 3035.8,2520.1 3050.7,2532.8"/>
<polygon points="3024.9,2573 3034.7,2560.4 3049.6,2553.5 3052,2566.5 3056.5,2578.7 3040.5,2576.2"/>
<polygon points="3069.2,2584.5 3087.8,2574.1 3116.6,2577.2 3090,2588.8"/>
<polygon points="3020.2,2546.4 3044.4,2536.3 3059.4,2545.6 3044.8,2555.5"/>
<polygon points="3079.8,2628.2 3080.6,2610.3 3112,2581.2 3096.3,2621"/>
<polygon points="3021.5,2605.7 3025.3,2587.7 3021.3,2568.6 3038.8,2580.7 3056.2,2586.4 3040.1,2596.4"/>
<polygon points="3104.3,2548.4 3107.4,2529.8 3127.7,2521.8 3122.3,2543"/>
<polygon points="3165,2603.5 3160,2578.4 3149.1,2568.3 3166.7,2565.6 3190.1,2567.9 3175.6,2581.1"/>
<polygon points="3165.5,2600 3152.4,2596.3 3138.4,2589.6 3150.3,2581.6 3162.2,2569.4 3163,2587.2"/>
<polygon points="3144.8,2544.3 3164.2,2538 3179.6,2528.4 3179.2,2548.6 3186.3,2571 3164,2559.1"/>
<polygon points="3169.6,2571.9 3134.1,2565.7 3126.6,2553.3 3140.8,2550.3"/>
<polygon points="3136.2,2597.1 3131.5,2584.6 3126.9,2574.5 3139.8,2573.7 3161.4,2583 3143.6,2589.6"/>
<polygon points="3223.6,2600.6 3221.7,2578 3233,2555.1 3234.2,2580.6"/>
<polygon points="3191.7,2596.5 3179.5,2602.6 3162.5,2601.2 3167.3,2586.4 3183.8,2574.1 3188.5,2589.6"/>
<polygon points="3292.9,2568.5 3276.8,2527.8 3280.7,2499.8 3293.9,2524.8"/>
<polygon points="3318.4,2578.3 3296.6,2579.2 3276,2560.1 3304.1,2561.8"/>
<polygon points="3259.4,2569.2 3277.8,2555.3 3313.1,2557.7 3281.9,2574.3"/>
<polygon points="3207.5,2587.7 3217.6,2571.7 3224.9,2554 3235.3,2571.2 3239.2,2586.3 3225.5,2587.5"/>
<polygon points="3266.2,2595.1 3247.2,2598 3220.5,2577 3254.4,2580"/>
<polygon points="3273.5,2622.8 3251.3,2603.5 3241.1,2580 3260.9,2596.2"/>
<polygon points="3251,2559.8 3269.1,2543.1 3279.9,2520.5 3282.4,2544.5 3295.4,2549.1 3278.5,2553.9"/>
<polygon points="3244.9,2614 3228.7,2608.9 3212.1,2610.2 3223.7,2596.7 3227.9,2586.8 3236.5,2596"/>
<polygon points="3280.2,2574.2 3263.5,2550.3 3268.9,2538.1 3280.3,2545.1"/>
<polygon points="3276.9,2615.6 3291.3,2570 3307.5,2558.7 3307,2578.4"/>
<polygon points="3294.3,2572.8 3270,2569.3 3253.9,2549.9 3278.9,2553.7"/>
<polygon points="3270.6,2555.7 3292.5,2545.8 3331.7,2545.8 3294.5,2558.2"/>
<polygon points="3232.5,2597.6 3231.1,2583.1 3254.1,2557.9 3245.5,2590.9"/>
<polygon points="3312.5,2598.3 3286.7,2567.1 3279.8,2543.1 3297.5,2560.7"/>
<polygon points="3285.7,2604.9 3280.7,2615.4 3264.2,2617.8 3263.9,2606.1 3265.8,2599.5 3276.9,2599.5"/>
<polygon points="3334.5,2604.2 3341.5,2567.1 3354.9,2559 3357.6,2574.4"/>
<polygon points="3354.4,2570.4 3323.9,2545.3 3318.8,2522.6 3339.1,2534"/>
<polygon points="3361.6,2594.3 3342.7,2560.4 3341.2,2533.7 3356.2,2555.9"/>
<polygon points="3422,2569.8 3402.5,2564.9 3385.4,2557.8 3397.7,2546.1 3415.6,2530.8 3415.5,2553.4"/>
<polygon points="3429.2,2600.5 3418.1,2574.7 3397.8,2566.3 3421.1,2562.9 3454.1,2554.4 3430.2,2573.9"/>
<polygon points="3396.2,2588.5 3389.4,2560.3 3398.8,2533.4 3405.7,2561.1"/>
<polygon points="3420.6,2617.1 3421.5,2588.9 3416.4,2569 3435.8,2576.8 3460.4,2594.9 3435.1,2597.8"/>
<polygon points="3013.2,2652.5 3020.4,2622.7 3035.5,2618.2 3037.6,2633.9"/>
<polygon points="3039.1,2677 3044.6,2663 3063.9,2656.1 3066.5,2670.9 3063.3,2682 3049.7,2681.1"/>
<polygon points="3047.1,2663 3058.8,2657.8 3064.6,2651.1 3070.4,2664.8 3067.5,2680.4 3055.4,2676.3"/>
<polygon points="3096.5,2657.6 3073.6,2639.1 3067.7,2622.2 3083.1,2631.4"/>
<polygon points="3102.1,2625.4 3061.1,2628.9 3045.7,2621.1 3062.1,2615.8"/>
<polygon points="3053.4,2693.7 3042.1,2681.7 3031.2,2670 3047.2,2665.1 3077.5,2663.8 3058,2681.3"/>
<polygon points="3139.6,2619.8 3142.6,2601.8 3164.6,2591.8 3157.1,2614.8"/>
<polygon points="3128,2649.6 3141.2,2624.3 3171.8,2611.2 3154.8,2639.8"/>
<polygon points="3113.7,2659.3 3119,2639.7 3119.1,2626.2 3132.5,2633 3145,2636.6 3134.6,2647.6"/>
<polygon points="3145,2690.9 3149.4,2657.3 3167.3,2639.9 3166.8,2664.9"/>
<polygon points="3138,2661.6 3121,2656.8 3107.9,2626.5 3135.7,2644.1"/>
<polygon points="3161.6,2678.5 3141.4,2686.6 3106.7,2677.2 3141.8,2669.5"/>
<polygon points="3200.7,2613.2 3201.5,2599 3200.5,2589.3 3216.6,2591.7 3232.1,2599.5 3220.7,2612.3"/>
<polygon points="3201.6,2677 3170.3,2672.1 3158.9,2659.1 3176.1,2658.2"/>
<polygon points="3200,2655.9 3186.9,2664.9 3163.6,2664.5 3174.3,2651.5 3178.5,2639.1 3188.8,2651.2"/>
<polygon points="3197.6,2636.8 3202.3,2593.6 3214,2581.2 3217.1,2597.9"/>
<polygon points="3186.2,2683 3181.9,2666.1 3201.1,2637.2 3199.7,2671.9"/>
<polygon points="3238.5,2632.4 3225.9,2626.5 3208.1,2614.9 3227.8,2608.7 3233,2596.7 3240.8,2613.6"/>
<polygon points="3264.4,2652.4 3275.1,2640.6 3281.1,2617 3288.6,2641.6 3299.7,2648.4 3284.6,2653.5"/>
<polygon points="3212.8,2637.8 3239.9,2616.4 3257.9,2619.6 3247.2,2634.4"/>
<polygon points="3281.3,2683.7 3265.7,2686.4 3257.3,2687.6 3254.6,2675.9 3258.6,2665.3 3269.9,2667.8"/>
<polygon points="3268.1,2654.3 3259.4,2642.7 3259.9,2630.4 3271.9,2626.6 3284.9,2641.8 3273.9,2649.7"/>
<polygon points="3330.3,2682.3 3338.1,2669.9 3359.3,2659 3358,2679.3 3350.1,2694.4 3337.7,2686.7"/>
<polygon points="3309.5,2659.5 3318.9,2637.2 3349.8,2616.8 3331.2,2648.8"/>
<polygon points="3379.4,2661.5 3339.3,2647.1 3326.4,2626.6 3350.3,2630.4"/>
<polygon points="3385.5,2647.1 3359.1,2647 3339.9,2634.2 3363,2633.4"/>
<polygon points="3404.6,2608.6 3382.3,2616.1 3359.4,2618 3366.3,2599.4 3368.1,2584.6 3384.8,2594"/>
<polygon points="3056,2745.5 3074.4,2733.9 3093.1,2736 3077.8,2746.9"/>
<polygon points="3015.5,2746.5 3045.8,2704.8 3065.2,2700 3059.1,2719.1"/>
<polygon points="3078,2692 3063.1,2685.5 3053,2683.4 3059.2,2672.1 3078.9,2662.8 3075.1,2678.9"/>
<polygon points="3059.6,2743.5 3065.8,2721.1 3081.8,2711.8 3078.4,2730"/>
<polygon points="3119.2,2761.5 3120.9,2736.1 3148.5,2704.1 3138.7,2745.2"/>
<polygon points="3155.7,2741.6 3162.5,2729 3175.2,2713.2 3177.9,2730.9 3184.1,2745.6 3168.2,2741.2"/>
<polygon points="3091.5,2707.9 3118.9,2697 3155.9,2704.4 3119.9,2715.7"/>
<polygon points="3256.8,2733.7 3236.9,2731.6 3206.4,2703.2 3245.7,2717.1"/>
<polygon points="3186,2723.7 3190.9,2701.4 3183.7,2680.8 3202.1,2694.1 3223.3,2705.1 3201.8,2708.8"/>
<polygon points="3247.4,2680.2 3236.4,2686.4 3221.9,2694 3225.4,2678.8 3229.6,2663.4 3238.5,2674.9"/>
<polygon points="3304,2740.7 3292.7,2722.4 3295.8,2688.4 3309.2,2719.8"/>
<polygon points="3283,2696.8 3263.7,2691.8 3231.6,2656.1 3273.8,2679.2"/>
<polygon points="3239.9,2752.1 3239.4,2735.4 3232.8,2720.4 3248.7,2727 3266,2728 3252.4,2739.3"/>
<polygon points="3303.7,2672.2 3281.2,2673.8 3265,2664.4 3283.6,2662"/>
<polygon points="3332.2,2735.5 3308.2,2717.1 3302.1,2687.6 3325.9,2705.9"/>
<polygon points="3375.3,2676.6 3334.6,2675.6 3313.1,2663.7 3337.6,2661.3"/>
<polygon points="3385,2705.8 3397.2,2675 3413.5,2668.2 3411.3,2685.8"/>
<polygon points="3417.8,2748.8 3405.2,2752.1 3393.4,2751.1 3395.8,2735.7 3407.7,2724.2 3417.9,2734.4"/>
</g>
<g fill="rgb(85,20,220)">
<polygon points="3086.7,2381 3092.4,2360.1 3113.4,2339.5 3103.3,2367.1"/>
<polygon points="3130.3,2400.4 3110.1,2386.8 3107.9,2371.4 3122.2,2377.4"/>
<polygon points="3141,2429.2 3141.2,2392.8 3153.9,2379.3 3158.5,2397.3"/>
<polygon points="3188.1,2399.8 3198.4,2366.5 3216.3,2350.9 3211.8,2374.2"/>
<polygon points="3218.9,2369.6 3222.6,2353.3 3237,2343.9 3233,2360.5"/>
<polygon points="3174.7,2375.6 3181.7,2362 3182.2,2348.1 3192.1,2359.2 3201.9,2369.7 3188.9,2370.7"/>
<polygon points="3275.2,2362.7 3270.1,2347.2 3248.7,2337.4 3274.1,2337.8 3285.8,2328.5 3282.4,2344.4"/>
<polygon points="3318.5,2409.1 3291.5,2381.7 3287.9,2359.2 3306.2,2372.6"/>
<polygon points="3247.5,2349.7 3238.3,2341.5 3231.8,2341.2 3237.1,2332.6 3244,2325.1 3248.5,2334"/>
<polygon points="3308.9,2396.4 3284.3,2395.1 3253.8,2380.7 3287.4,2384.5"/>
<polygon points="3288.4,2393 3291.9,2382.1 3316.3,2376.2 3299.7,2395.1"/>
<polygon points="3280.9,2358.1 3309.2,2331.5 3325.4,2327.5 3315.9,2341.2"/>
<polygon points="3340.6,2360.3 3366,2351.5 3389.7,2355.1 3367.3,2363.6"/>
<polygon points="3324.5,2415.1 3306.2,2398 3287.3,2381.2 3309,2383.8 3317.4,2366.6 3317.1,2389.7"/>
<polygon points="3363.7,2373.6 3358.2,2359.7 3367.9,2332.5 3371.9,2361.1"/>
<polygon points="3334.1,2341 3356.7,2330.7 3391.3,2333.6 3358.6,2345.3"/>
<polygon points="3312.9,2422.4 3321.1,2405.7 3345,2389 3329.3,2413.6"/>
<polygon points="3285,2400.2 3288.5,2381.4 3316.7,2353.4 3301.2,2389.9"/>
<polygon points="3375.5,2359.9 3382.9,2349.6 3396.4,2342.5 3398.9,2355.8 3398.5,2364.7 3387.4,2365.5"/>
<polygon points="3377.3,2375.1 3367.8,2365.7 3359,2351.8 3373.5,2352 3382.8,2355.2 3380.4,2364.4"/>
<polygon points="3401.2,2353.1 3424.1,2346.3 3442.3,2352.2 3424.4,2359"/>
<polygon points="3371.5,2421.6 3371.3,2404.7 3384.5,2379.3 3381.2,2407.7"/>
<polygon points="3393.2,2399.3 3408.9,2385.7 3430.5,2386.1 3413.9,2400.1"/>
<polygon points="3111.1,2422 3097.3,2415.4 3079.6,2407.2 3096.6,2401.5 3118.5,2389.9 3107.4,2410.3"/>
<polygon points="3090.7,2425 3074.2,2411.3 3070.5,2389.9 3087.2,2403.8"/>
<polygon points="3186.9,2443.2 3160.9,2434 3146.6,2415 3169.3,2422"/>
<polygon points="3173.8,2467.7 3160.7,2464.9 3138.8,2437.5 3169.1,2455.2"/>
<polygon points="3185.5,2467.7 3166.3,2467.3 3146.7,2453.2 3170.8,2455.4"/>
<polygon points="3146.9,2475.2 3136.3,2467.9 3132.2,2453.1 3144.8,2450.7 3151.6,2452.1 3154.3,2462.9"/>
<polygon points="3219.3,2494.5 3198.7,2490.7 3170.8,2465.2 3206.3,2478"/>
<polygon points="3181.4,2456.9 3160,2455.3 3148.5,2440.8 3167,2441.1"/>
<polygon points="3163.5,2436.4 3167,2422.3 3175.4,2406.1 3183,2420.2 3193.4,2429.9 3177.5,2433.1"/>
<polygon points="3181.3,2478 3188,2452.5 3210.7,2435 3202.6,2462.5"/>
<polygon points="3324.2,2419.4 3286.4,2401.5 3278.5,2387 3294.8,2389.6"/>
<polygon points="3291.6,2410.2 3273.3,2411.5 3259.1,2396 3280.2,2395.8"/>
<polygon points="3288.8,2432.1 3277.3,2429.7 3264.6,2425.7 3274.3,2418.6 3280.4,2407.8 3284.1,2421.1"/>
<polygon points="3251.5,2462.6 3272.4,2448.6 3283.9,2454.5 3276.5,2465.1"/>
<polygon points="3223.4,2435.2 3222.6,2415.2 3222.8,2397.6 3233.3,2408.2 3250.8,2412 3232.8,2419"/>
<polygon points="3211.9,2409.2 3243.6,2399.5 3260.4,2403.2 3245,2410.8"/>
<polygon points="3270.9,2469.3 3259.1,2471.6 3245.6,2461.5 3255,2453.2 3263.6,2442.3 3269,2458.6"/>
<polygon points="3317,2425.1 3280.9,2418.6 3271.4,2407.1 3286.2,2405.2"/>
<polygon points="3316.4,2411 3297.7,2408.2 3288.8,2398.3 3302.1,2398.7"/>
<polygon points="3310.8,2428.2 3321.2,2416.2 3362.4,2404.8 3326.7,2428.3"/>
<polygon points="3381.1,2408.2 3365.8,2410.7 3346,2421 3357.1,2402.1 3354.9,2389.2 3367.1,2397.9"/>
<polygon points="3309.7,2449.3 3292.1,2418.3 3292.6,2401.6 3303.6,2414.2"/>
<polygon points="3303.6,2448.3 3290.6,2437 3281.3,2408 3301,2431.3"/>
<polygon points="3338.3,2422.9 3321.9,2430 3308.5,2448 3308.4,2423.2 3313.4,2403.3 3324.6,2414.8"/>
<polygon points="3355,2431.2 3346.3,2440.2 3330.8,2446 3332.9,2432.7 3333.3,2421.9 3344.8,2427"/>
<polygon points="3373.6,2482.7 3371.8,2448 3379.9,2435.1 3384.4,2449.7"/>
<polygon points="3371.5,2456.8 3379.5,2442.1 3395.7,2433.7 3386.6,2449.5"/>
<polygon points="3363.9,2465.2 3365.3,2433.3 3375.3,2422.9 3378.8,2437"/>
<polygon points="3370.1,2480.4 3381.7,2461.4 3396.6,2457.2 3390.4,2471.4"/>
<polygon points="3402.2,2442 3394.2,2435.8 3386.7,2427.4 3398.5,2422.8 3416.9,2426.5 3406.7,2436.7"/>
<polygon points="3388.3,2431.3 3402.4,2424.2 3412,2412.9 3412.2,2428.1 3409.1,2443.6 3401.5,2433.3"/>
<polygon points="3375,2451.4 3364.8,2438.2 3362.2,2415.9 3375.7,2425.3 3396.3,2428.7 3376.6,2439.3"/>
<polygon points="3386,2454.6 3379.8,2440.9 3359.9,2437.1 3382.3,2431.5 3402.6,2416.1 3392.3,2438.4"/>
<polygon points="3385.1,2454.9 3385.9,2437.6 3410.5,2409.1 3399.3,2445"/>
<polygon points="3397.5,2443.5 3408.2,2436.2 3431.8,2440.2 3409.5,2448.7"/>
<polygon points="3387.6,2444.7 3374.8,2437.4 3357.6,2438 3372.3,2425.5 3377.8,2413 3384.9,2426.4"/>
<polygon points="3415.2,2491.3 3416.4,2473.9 3415.7,2448.4 3427.7,2468.3 3446.1,2477.2 3425.4,2479.5"/>
<polygon points="3031.7,2491.1 3023.8,2480.5 3027.1,2449.7 3037.1,2479"/>
<polygon points="3036.1,2492.7 3027.5,2493.4 3018.9,2490.8 3023,2482.9 3024,2475.3 3032.4,2481.8"/>
<polygon points="3122.3,2479.1 3105.4,2483.3 3086.1,2470.6 3109.1,2467.9"/>
<polygon points="3032.3,2560.8 3030.5,2536.9 3043.3,2509.1 3043.6,2539.7"/>
<polygon points="3070.4,2540.5 3075.1,2525.9 3102.5,2501.9 3084,2533.2"/>
<polygon points="3028.9,2523 3053.7,2498.5 3069.4,2495.9 3061,2509.4"/>
<polygon points="3057.4,2488 3037.6,2493.5 3015.3,2490.4 3027.6,2479 3035.1,2463.4 3042,2481.2"/>
<polygon points="3178.6,2501.7 3166.1,2503.9 3152.2,2500 3159,2489.9 3162.4,2484.9 3171.3,2489.5"/>
<polygon points="3072.8,2514.7 3093.2,2509.7 3103.7,2496.2 3104.2,2515.2 3108.5,2527.6 3094.9,2524.3"/>
<polygon points="3149,2562.7 3158,2541.2 3180.9,2522.3 3167.8,2549"/>
<polygon points="3100.3,2516.2 3116,2509 3145.7,2510.7 3117.3,2519.5"/>
<polygon points="3213.2,2490.6 3232.8,2484.4 3247.2,2476.5 3242.6,2491 3240.1,2510.6 3231.3,2494.2"/>
<polygon points="3259.5,2516.7 3239.4,2499.6 3233.2,2478.2 3250.9,2491.7"/>
<polygon points="3242.4,2539.2 3218.6,2535.4 3208.8,2520 3227,2520.6"/>
<polygon points="3220.6,2490.4 3228.9,2480.3 3240.9,2468 3242.9,2484.1 3250.9,2500 3233.3,2493.7"/>
<polygon points="3295.2,2557.3 3289.2,2540.6 3299.1,2520.5 3304.6,2542.3"/>
<polygon points="3229.4,2535 3225.2,2518.4 3245.1,2481.3 3241.9,2523.3"/>
<polygon points="3328.9,2491.9 3289,2485.8 3272.4,2474.6 3292.4,2474.6"/>
<polygon points="3242,2498 3246,2480.5 3271.4,2452 3256.2,2487"/>
<polygon points="3244.1,2530.6 3246.2,2516.6 3254.6,2494.3 3262.3,2513.9 3274.2,2528 3255.3,2527"/>
<polygon points="3348.8,2513.8 3348,2497.6 3346.1,2475.9 3362.9,2489 3377.7,2495.3 3363.6,2505.3"/>
<polygon points="3329.4,2562.9 3318.7,2530 3323.1,2511.9 3331.8,2528.3"/>
<polygon points="3330.5,2524.4 3324.9,2516 3324.8,2508.5 3336.1,2505.6 3344,2508.4 3344.9,2519.3"/>
<polygon points="3369.3,2521 3354.5,2510.7 3334.1,2512.1 3352.1,2498.7 3369.9,2478.3 3365.7,2503.1"/>
<polygon points="3321.2,2470.2 3333.6,2465.8 3345.2,2462.9 3343.4,2474.4 3349.3,2487.2 3334,2479.8"/>
<polygon points="3320,2469.2 3331.6,2467.3 3345.6,2462.3 3338.7,2475.3 3336.5,2486.1 3328.7,2477.6"/>
<polygon points="3407.5,2490.3 3400.7,2483.5 3392.9,2473.7 3405.1,2472.8 3415.5,2473.8 3411.6,2482.7"/>
<polygon points="3372.2,2526.9 3358.2,2529.7 3343.2,2519.6 3361.2,2517.9"/>
<polygon points="3362.3,2478.5 3399.9,2468.9 3420.3,2475.6 3400.7,2484.3"/>
<polygon points="3428.1,2535 3413.8,2525.5 3411.8,2505.4 3427.8,2517.8"/>
<polygon points="3413.3,2483 3401.2,2489.4 3394.3,2500.4 3390.7,2485.5 3382.9,2464.1 3400.3,2476.4"/>
<polygon points="3387.8,2552.4 3384.3,2531.5 3375.9,2511.1 3393,2522.2 3406.1,2526.2 3395,2534.1"/>
<polygon points="3393.7,2498.5 3404.1,2481.1 3408.7,2460.8 3417.8,2479.1 3434.5,2487.1 3414.4,2491.2"/>
<polygon points="3050.1,2550.5 3037.2,2539.2 3036.9,2522.5 3049.6,2533.4"/>
<polygon points="3027.6,2572.3 3035.9,2561.5 3048.6,2555.7 3050.6,2566.7 3054.5,2577.1 3040.9,2575"/>
<polygon points="3072.5,2584 3088.2,2575.2 3112.7,2577.8 3090.2,2587.7"/>
<polygon points="3023.5,2546.4 3044.1,2537.7 3056.8,2545.6 3044.4,2554.1"/>
<polygon points="3081.7,2625.5 3082.4,2610.3 3109,2585.5 3095.7,2619.4"/>
<polygon points="3023.4,2603 3026.6,2587.7 3023.2,2571.4 3038.1,2581.8 3052.9,2586.5 3039.2,2595.1"/>
<polygon points="3106,2546.5 3108.6,2530.7 3125.9,2523.9 3121.3,2541.9"/>
<polygon points="3165.4,2599.6 3161.1,2578.2 3151.9,2569.7 3166.9,2567.4 3186.7,2569.3 3174.4,2580.5"/>
<polygon points="3163.9,2598.1 3152.9,2595 3140.9,2589.2 3151.1,2582.5 3161.2,2572.1 3161.9,2587.2"/>
<polygon points="3148.5,2544.9 3165,2539.5 3178.1,2531.4 3177.8,2548.5 3183.8,2567.5 3164.8,2557.5"/>
<polygon points="3165.6,2570.2 3135.4,2564.9 3129,2554.4 3141.1,2551.8"/>
<polygon points="3136.7,2595.1 3132.8,2584.5 3128.9,2575.9 3139.8,2575.2 3158.2,2583.1 3143,2588.8"/>
<polygon points="3224.3,2597.3 3222.7,2578.1 3232.2,2558.6 3233.3,2580.3"/>
<polygon points="3189.8,2595.8 3179.4,2601 3164.9,2599.7 3169,2587.2 3183,2576.8 3187,2589.9"/>
<polygon points="3291.9,2562.7 3278.2,2528.2 3281.5,2504.4 3292.7,2525.6"/>
<polygon points="3315.5,2577 3296.9,2577.8 3279.4,2561.5 3303.3,2563"/>
<polygon points="3263,2568.4 3278.6,2556.6 3308.6,2558.7 3282,2572.8"/>
<polygon points="3210.1,2586 3218.8,2572.4 3225,2557.3 3233.8,2572 3237.1,2584.8 3225.4,2585.8"/>
<polygon points="3263.3,2594 3247.2,2596.5 3224.5,2578.6 3253.3,2581.1"/>
<polygon points="3271,2619.5 3252.1,2603 3243.5,2583.1 3260.3,2596.8"/>
<polygon points="3254.7,2557.6 3270.2,2543.4 3279.3,2524.2 3281.4,2544.6 3292.5,2548.5 3278.1,2552.6"/>
<polygon points="3242.5,2612.3 3228.8,2607.9 3214.6,2609 3224.5,2597.5 3228.1,2589.1 3235.4,2596.9"/>
<polygon points="3279.2,2570.8 3265,2550.6 3269.5,2540.1 3279.2,2546.1"/>
<polygon points="3279.7,2610.4 3292,2571.6 3305.7,2562 3305.3,2578.7"/>
<polygon points="3291.3,2571.1 3270.7,2568.1 3257,2551.6 3278.2,2554.9"/>
<polygon points="3274.6,2555 3293.2,2546.7 3326.5,2546.7 3294.9,2557.1"/>
<polygon points="3233.8,2595.3 3232.5,2583 3252.1,2561.5 3244.8,2589.6"/>
<polygon points="3309.8,2593.7 3287.8,2567.1 3282,2546.7 3297,2561.7"/>
<polygon points="3283.8,2605.3 3279.5,2614.2 3265.5,2616.2 3265.3,2606.3 3266.9,2600.7 3276.3,2600.7"/>
<polygon points="3336.4,2600 3342.3,2568.4 3353.7,2561.6 3356.1,2574.6"/>
<polygon points="3351.4,2566.3 3325.4,2545 3321,2525.7 3338.3,2535.4"/>
<polygon points="3359.9,2589.3 3343.9,2560.5 3342.6,2537.8 3355.3,2556.7"/>
<polygon points="3419.7,2567.4 3403.1,2563.2 3388.6,2557.2 3399,2547.2 3414.3,2534.2 3414.1,2553.4"/>
<polygon points="3428.5,2596.2 3419.2,2574.3 3401.9,2567.2 3421.7,2564.3 3449.8,2557 3429.5,2573.7"/>
<polygon points="3396.4,2584.3 3390.6,2560.4 3398.6,2537.5 3404.5,2561"/>
<polygon points="3422.3,2613.2 3423,2589.2 3418.6,2572.3 3435.2,2578.9 3456.1,2594.3 3434.6,2596.8"/>
<polygon points="3015.2,2649.4 3021.3,2624 3034.2,2620.2 3035.9,2633.5"/>
<polygon points="3041.4,2676.2 3046.1,2664.3 3062.5,2658.4 3064.7,2671 3062,2680.4 3050.4,2679.7"/>
<polygon points="3049.1,2663.4 3059.1,2659 3064,2653.2 3068.9,2664.9 3066.5,2678.1 3056.2,2674.7"/>
<polygon points="3094.1,2654.6 3074.6,2638.9 3069.6,2624.5 3082.7,2632.3"/>
<polygon points="3096.9,2625 3062.1,2628 3049,2621.4 3062.9,2616.9"/>
<polygon points="3053.2,2691 3043.5,2680.8 3034.3,2670.9 3047.9,2666.7 3073.6,2665.7 3057,2680.5"/>
<polygon points="3141.3,2617.9 3143.9,2602.6 3162.5,2594.1 3156.2,2613.6"/>
<polygon points="3131.1,2646.8 3142.4,2625.3 3168.4,2614.2 3153.9,2638.5"/>
<polygon points="3115.7,2656.4 3120.3,2639.8 3120.3,2628.4 3131.8,2634.1 3142.3,2637.2 3133.5,2646.5"/>
<polygon points="3146.8,2686.8 3150.5,2658.2 3165.8,2643.4 3165.3,2664.6"/>
<polygon points="3136.1,2659.5 3121.7,2655.3 3110.5,2629.7 3134.2,2644.6"/>
<polygon points="3158,2678.5 3140.9,2685.3 3111.4,2677.3 3141.2,2670.8"/>
<polygon points="3202.4,2611.4 3203.1,2599.2 3202.2,2591.1 3215.9,2593.1 3229.1,2599.7 3219.4,2610.6"/>
<polygon points="3197.8,2675.5 3171.3,2671.3 3161.6,2660.3 3176.2,2659.5"/>
<polygon points="3197.3,2655.7 3186.2,2663.3 3166.4,2663 3175.5,2652 3179,2641.4 3187.8,2651.7"/>
<polygon points="3199.1,2631.6 3203.1,2594.9 3213,2584.4 3215.7,2598.6"/>
<polygon points="3187.1,2680.3 3183.4,2665.9 3199.8,2641.3 3198.6,2670.8"/>
<polygon points="3237.1,2629.9 3226.3,2624.9 3211.2,2614.9 3228,2609.7 3232.4,2599.5 3239,2613.8"/>
<polygon points="3267.1,2650.9 3276.2,2640.9 3281.3,2620.8 3287.7,2641.7 3297.1,2647.5 3284.2,2651.8"/>
<polygon points="3216.8,2636.2 3239.9,2618 3255.1,2620.7 3246,2633.3"/>
<polygon points="3278.8,2682.8 3265.6,2685.1 3258.4,2686.2 3256.1,2676.2 3259.5,2667.2 3269.1,2669.3"/>
<polygon points="3268.3,2652.3 3261,2642.4 3261.3,2631.9 3271.6,2628.7 3282.6,2641.6 3273.3,2648.4"/>
<polygon points="3332.6,2681.8 3339.2,2671.2 3357.2,2661.9 3356.1,2679.2 3349.4,2692 3338.9,2685.5"/>
<polygon points="3312.2,2656.7 3320.2,2637.7 3346.5,2620.3 3330.6,2647.6"/>
<polygon points="3374.8,2658.5 3340.8,2646.2 3329.7,2628.8 3350.1,2632.1"/>
<polygon points="3381.9,2646.1 3359.5,2646 3343.2,2635.1 3362.8,2634.4"/>
<polygon points="3400.5,2607.8 3381.6,2614.2 3362.1,2615.8 3368,2600 3369.6,2587.4 3383.7,2595.5"/>
<polygon points="3058.9,2744.8 3074.6,2734.9 3090.5,2736.7 3077.4,2746"/>
<polygon points="3020.1,2742.1 3045.9,2706.7 3062.4,2702.6 3057.2,2718.8"/>
<polygon points="3076.5,2690.1 3063.8,2684.5 3055.2,2682.8 3060.5,2673.2 3077.3,2665.3 3074,2678.9"/>
<polygon points="3061.3,2740.9 3066.6,2721.9 3080.2,2714 3077.4,2729.5"/>
<polygon points="3121.1,2757.8 3122.5,2736.2 3146,2709 3137.7,2743.9"/>
<polygon points="3157.9,2740.4 3163.7,2729.7 3174.5,2716.3 3176.8,2731.3 3182.1,2743.8 3168.5,2740.1"/>
<polygon points="3096,2707.6 3119.3,2698.4 3150.7,2704.7 3120.2,2714.3"/>
<polygon points="3253.8,2731.9 3236.8,2730 3210.9,2705.9 3244.3,2717.7"/>
<polygon points="3187.8,2720.5 3192,2701.5 3185.8,2684 3201.5,2695.3 3219.5,2704.7 3201.2,2707.9"/>
<polygon points="3245.2,2680.2 3235.9,2685.4 3223.6,2691.9 3226.6,2679 3230.1,2665.8 3237.7,2675.6"/>
<polygon points="3303.5,2737.3 3293.8,2721.7 3296.5,2692.8 3307.9,2719.5"/>
<polygon points="3280,2694.4 3263.6,2690.2 3236.4,2659.9 3272.2,2679.4"/>
<polygon points="3240.9,2749.4 3240.4,2735.2 3234.9,2722.4 3248.4,2728 3263.1,2728.8 3251.5,2738.5"/>
<polygon points="3300.6,2671.6 3281.5,2672.9 3267.7,2665 3283.5,2662.9"/>
<polygon points="3329.9,2731.9 3309.5,2716.2 3304.3,2691.2 3324.6,2706.8"/>
<polygon points="3370.1,2675.5 3335.5,2674.6 3317.2,2664.5 3338,2662.5"/>
<polygon points="3387.5,2702.4 3397.8,2676.3 3411.7,2670.5 3409.9,2685.4"/>
<polygon points="3416.1,2747.7 3405.3,2750.4 3395.4,2749.6 3397.3,2736.5 3407.5,2726.7 3416.1,2735.4"/>
</g></g>
</g>
<rect x="158" y="1930" width="398.5" height="6" fill="#a2a2a2"/>
<rect x="158" y="2323" width="398.5" height="6" fill="#d2d2d2"/>
<rect x="158" y="1936" width="5.5" height="387" fill="#e2e2e2"/>
<rect x="551" y="1936" width="5.5" height="387" fill="#e2e2e2"/>
<rect x="155" y="1927" width="404.5" height="405" fill="none" stroke="#626262" stroke-width="6"/>
<rect x="158" y="2341" width="398.5" height="6" fill="#a2a2a2"/>
<rect x="158" y="2734" width="398.5" height="6" fill="#d2d2d2"/>
<rect x="158" y="2347" width="5.5" height="387" fill="#e2e2e2"/>
<rect x="551" y="2347" width="5.5" height="387" fill="#e2e2e2"/>
<rect x="155" y="2338" width="404.5" height="405" fill="none" stroke="#626262" stroke-width="6"/>
<rect x="568.5" y="1930" width="398.5" height="6" fill="#a2a2a2"/>
<rect x="568.5" y="2323" width="398.5" height="6" fill="#d2d2d2"/>
<rect x="568.5" y="1936" width="5.5" height="387" fill="#e2e2e2"/>
<rect x="961.5" y="1936" width="5.5" height="387" fill="#e2e2e2"/>
<rect x="565.5" y="1927" width="404.5" height="405" fill="none" stroke="#626262" stroke-width="6"/>
<rect x="568.5" y="2341" width="398.5" height="6" fill="#a2a2a2"/>
<rect x="568.5" y="2734" width="398.5" height="6" fill="#d2d2d2"/>
<rect x="568.5" y="2347" width="5.5" height="387" fill="#e2e2e2"/>
<rect x="961.5" y="2347" width="5.5" height="387" fill="#e2e2e2"/>
<rect x="565.5" y="2338" width="404.5" height="405" fill="none" stroke="#626262" stroke-width="6"/>
<rect x="979" y="1930" width="398.5" height="6" fill="#a2a2a2"/>
<rect x="979" y="2323" width="398.5" height="6" fill="#d2d2d2"/>
<rect x="979" y="1936" width="5.5" height="387" fill="#e2e2e2"/>
<rect x="1372" y="1936" width="5.5" height="387" fill="#e2e2e2"/>
<rect x="976" y="1927" width="404.5" height="405" fill="none" stroke="#626262" stroke-width="6"/>
<rect x="979" y="2341" width="398.5" height="6" fill="#a2a2a2"/>
<rect x="979" y="2734" width="398.5" height="6" fill="#d2d2d2"/>
<rect x="979" y="2347" width="5.5" height="387" fill="#e2e2e2"/>
<rect x="1372" y="2347" width="5.5" height="387" fill="#e2e2e2"/>
<rect x="976" y="2338" width="404.5" height="405" fill="none" stroke="#626262" stroke-width="6"/>
<rect x="1389.5" y="1930" width="391.5" height="6" fill="#a2a2a2"/>
<rect x="1389.5" y="2323" width="391.5" height="6" fill="#d2d2d2"/>
<rect x="1389.5" y="1936" width="5.5" height="387" fill="#e2e2e2"/>
<rect x="1775.5" y="1936" width="5.5" height="387" fill="#e2e2e2"/>
<rect x="1386.5" y="1927" width="397.5" height="405" fill="none" stroke="#626262" stroke-width="6"/>
<rect x="1389.5" y="2341" width="391.5" height="6" fill="#a2a2a2"/>
<rect x="1389.5" y="2734" width="391.5" height="6" fill="#d2d2d2"/>
<rect x="1389.5" y="2347" width="5.5" height="387" fill="#e2e2e2"/>
<rect x="1775.5" y="2347" width="5.5" height="387" fill="#e2e2e2"/>
<rect x="1386.5" y="2338" width="397.5" height="405" fill="none" stroke="#626262" stroke-width="6"/>
<rect x="1806" y="1930" width="390" height="6" fill="#a2a2a2"/>
<rect x="1806" y="2323" width="390" height="6" fill="#d2d2d2"/>
<rect x="1806" y="1936" width="5.5" height="387" fill="#e2e2e2"/>
<rect x="2190.5" y="1936" width="5.5" height="387" fill="#e2e2e2"/>
<rect x="1803" y="1927" width="396" height="405" fill="none" stroke="#626262" stroke-width="6"/>
<rect x="1806" y="2341" width="390" height="6" fill="#a2a2a2"/>
<rect x="1806" y="2734" width="390" height="6" fill="#d2d2d2"/>
<rect x="1806" y="2347" width="5.5" height="387" fill="#e2e2e2"/>
<rect x="2190.5" y="2347" width="5.5" height="387" fill="#e2e2e2"/>
<rect x="1803" y="2338" width="396" height="405" fill="none" stroke="#626262" stroke-width="6"/>
<rect x="2208" y="1930" width="398" height="6" fill="#a2a2a2"/>
<rect x="2208" y="2323" width="398" height="6" fill="#d2d2d2"/>
<rect x="2208" y="1936" width="5.5" height="387" fill="#e2e2e2"/>
<rect x="2600.5" y="1936" width="5.5" height="387" fill="#e2e2e2"/>
<rect x="2205" y="1927" width="404" height="405" fill="none" stroke="#626262" stroke-width="6"/>
<rect x="2208" y="2341" width="398" height="6" fill="#a2a2a2"/>
<rect x="2208" y="2734" width="398" height="6" fill="#d2d2d2"/>
<rect x="2208" y="2347" width="5.5" height="387" fill="#e2e2e2"/>
<rect x="2600.5" y="2347" width="5.5" height="387" fill="#e2e2e2"/>
<rect x="2205" y="2338" width="404" height="405" fill="none" stroke="#626262" stroke-width="6"/>
<rect x="2618" y="1930" width="401" height="6" fill="#a2a2a2"/>
<rect x="2618" y="2323" width="401" height="6" fill="#d2d2d2"/>
<rect x="2618" y="1936" width="5.5" height="387" fill="#e2e2e2"/>
<rect x="3013.5" y="1936" width="5.5" height="387" fill="#e2e2e2"/>
<rect x="2615" y="1927" width="407" height="405" fill="none" stroke="#626262" stroke-width="6"/>
<rect x="2618" y="2341" width="401" height="6" fill="#a2a2a2"/>
<rect x="2618" y="2734" width="401" height="6" fill="#d2d2d2"/>
<rect x="2618" y="2347" width="5.5" height="387" fill="#e2e2e2"/>
<rect x="3013.5" y="2347" width="5.5" height="387" fill="#e2e2e2"/>
<rect x="2615" y="2338" width="407" height="405" fill="none" stroke="#626262" stroke-width="6"/>
<rect x="3031" y="1930" width="399" height="6" fill="#a2a2a2"/>
<rect x="3031" y="2323" width="399" height="6" fill="#d2d2d2"/>
<rect x="3031" y="1936" width="5.5" height="387" fill="#e2e2e2"/>
<rect x="3424.5" y="1936" width="5.5" height="387" fill="#e2e2e2"/>
<rect x="3028" y="1927" width="405" height="405" fill="none" stroke="#626262" stroke-width="6"/>
<rect x="3031" y="2341" width="399" height="6" fill="#a2a2a2"/>
<rect x="3031" y="2734" width="399" height="6" fill="#d2d2d2"/>
<rect x="3031" y="2347" width="5.5" height="387" fill="#e2e2e2"/>
<rect x="3424.5" y="2347" width="5.5" height="387" fill="#e2e2e2"/>
<rect x="3028" y="2338" width="405" height="405" fill="none" stroke="#626262" stroke-width="6"/>
<rect x="1787" y="1924" width="13" height="822" fill="#a2a2a2"/>
<rect x="152" y="2746" width="3284" height="6" fill="#a8a8a8"/>
<rect x="3337" y="2288" width="75" height="11" fill="#000"/>
<text x="361" y="1917" font-size="64" text-anchor="start" font-weight="normal" fill="#222" transform="rotate(-32 361 1917)">UT</text>
<text x="775" y="1919" font-size="64" text-anchor="start" font-weight="normal" fill="#222" transform="rotate(-32 775 1919)">iPolyP</text>
<text x="1162" y="1919" font-size="64" text-anchor="start" font-weight="normal" fill="#222" transform="rotate(-32 1162 1919)">TRPM8 inh.</text>
<text x="1572" y="1919" font-size="64" text-anchor="start" font-weight="normal" fill="#222" transform="rotate(-32 1572 1919)">iPolyP + TRPM8 inh.</text>
<text x="2012" y="1925" font-size="64" text-anchor="start" font-weight="normal" fill="#222" transform="rotate(-32 2012 1925)">siCTRL UT</text>
<text x="2383" y="1925" font-size="64" text-anchor="start" font-weight="normal" fill="#222" transform="rotate(-32 2383 1925)">siTRPM8 UT</text>
<text x="2805" y="1925" font-size="64" text-anchor="start" font-weight="normal" fill="#222" transform="rotate(-32 2805 1925)">siCTRL iPolyP</text>
<text x="3202" y="1925" font-size="64" text-anchor="start" font-weight="normal" fill="#222" transform="rotate(-32 3202 1925)">siTRPM8 iPolyP</text>
<text x="133" y="2130" font-size="63" text-anchor="middle" font-weight="normal" fill="#222" transform="rotate(-90 133 2130)">t = 0 h</text>
<text x="133" y="2541" font-size="63" text-anchor="middle" font-weight="normal" fill="#222" transform="rotate(-90 133 2541)">t = 96 h</text>
<rect x="152" y="2781.4" width="1495" height="11.2" fill="#808080"/>
<rect x="1942" y="2781.4" width="1511" height="11.2" fill="#808080"/>
<text x="1791" y="2808" font-size="64" text-anchor="middle" font-weight="normal" fill="#333">Caco-2</text>
<text x="37" y="3174" font-size="85" text-anchor="start" font-weight="bold" fill="#000">C</text>
<line x1="343" y1="3208" x2="343" y2="4160.5" stroke="#000" stroke-width="6" stroke-linecap="butt"/>
<line x1="316" y1="4157.7" x2="2740" y2="4157.7" stroke="#000" stroke-width="6" stroke-linecap="butt"/>
<line x1="316" y1="4157.7" x2="343" y2="4157.7" stroke="#000" stroke-width="5" stroke-linecap="butt"/>
<text x="313" y="4182.7" font-size="64" text-anchor="end" font-weight="normal" fill="#222">0</text>
<line x1="316" y1="3921.1" x2="343" y2="3921.1" stroke="#000" stroke-width="5" stroke-linecap="butt"/>
<text x="313" y="3946.1" font-size="64" text-anchor="end" font-weight="normal" fill="#222">0.5</text>
<line x1="316" y1="3684.5" x2="343" y2="3684.5" stroke="#000" stroke-width="5" stroke-linecap="butt"/>
<text x="313" y="3709.5" font-size="64" text-anchor="end" font-weight="normal" fill="#222">1.0</text>
<line x1="316" y1="3447.9" x2="343" y2="3447.9" stroke="#000" stroke-width="5" stroke-linecap="butt"/>
<text x="313" y="3472.9" font-size="64" text-anchor="end" font-weight="normal" fill="#222">1.5</text>
<line x1="316" y1="3211.3" x2="343" y2="3211.3" stroke="#000" stroke-width="5" stroke-linecap="butt"/>
<text x="313" y="3236.3" font-size="64" text-anchor="end" font-weight="normal" fill="#222">2.0</text>
<rect x="440" y="3684.5" width="100" height="473.2" fill="#000"/>
<rect x="739" y="3291.7" width="100" height="866" fill="#d9d9d9"/>
<rect x="739" y="3291.7" width="5.5" height="866" fill="#1a1a1a"/>
<rect x="833.5" y="3291.7" width="5.5" height="866" fill="#1a1a1a"/>
<rect x="739" y="3291.7" width="100" height="5.5" fill="#2a2a2a"/>
<line x1="789" y1="3265.7" x2="789" y2="3319.2" stroke="#111" stroke-width="5.5" stroke-linecap="butt"/>
<line x1="774" y1="3265.7" x2="804" y2="3265.7" stroke="#222" stroke-width="5.5" stroke-linecap="butt"/>
<line x1="774" y1="3319.2" x2="804" y2="3319.2" stroke="#222" stroke-width="5.5" stroke-linecap="butt"/>
<rect x="1038" y="3715" width="100" height="442.7" fill="#d9d9d9"/>
<rect x="1038" y="3715" width="5.5" height="442.7" fill="#1a1a1a"/>
<rect x="1132.5" y="3715" width="5.5" height="442.7" fill="#1a1a1a"/>
<rect x="1038" y="3715" width="100" height="5.5" fill="#2a2a2a"/>
<line x1="1088" y1="3688.3" x2="1088" y2="3747" stroke="#111" stroke-width="5.5" stroke-linecap="butt"/>
<line x1="1073" y1="3688.3" x2="1103" y2="3688.3" stroke="#222" stroke-width="5.5" stroke-linecap="butt"/>
<line x1="1073" y1="3747" x2="1103" y2="3747" stroke="#222" stroke-width="5.5" stroke-linecap="butt"/>
<rect x="1338" y="3684" width="100" height="473.7" fill="#d9d9d9"/>
<rect x="1338" y="3684" width="5.5" height="473.7" fill="#1a1a1a"/>
<rect x="1432.5" y="3684" width="5.5" height="473.7" fill="#1a1a1a"/>
<rect x="1338" y="3684" width="100" height="5.5" fill="#2a2a2a"/>
<line x1="1388" y1="3640" x2="1388" y2="3733.7" stroke="#111" stroke-width="5.5" stroke-linecap="butt"/>
<line x1="1373" y1="3640" x2="1403" y2="3640" stroke="#222" stroke-width="5.5" stroke-linecap="butt"/>
<line x1="1373" y1="3733.7" x2="1403" y2="3733.7" stroke="#222" stroke-width="5.5" stroke-linecap="butt"/>
<rect x="1638" y="3684" width="100" height="473.7" fill="#000"/>
<rect x="1943" y="3712.4" width="100" height="445.3" fill="#d9d9d9"/>
<rect x="1943" y="3712.4" width="5.5" height="445.3" fill="#777"/>
<rect x="2037.5" y="3712.4" width="5.5" height="445.3" fill="#777"/>
<rect x="1943" y="3712.4" width="100" height="5.5" fill="#2a2a2a"/>
<rect x="2243" y="3348.1" width="100" height="809.6" fill="#000"/>
<line x1="2293" y1="3305.9" x2="2293" y2="3348.1" stroke="#111" stroke-width="5.5" stroke-linecap="butt"/>
<line x1="2278" y1="3305.9" x2="2308" y2="3305.9" stroke="#222" stroke-width="5.5" stroke-linecap="butt"/>
<line x1="2278" y1="3348.1" x2="2308" y2="3348.1" stroke="#222" stroke-width="5.5" stroke-linecap="butt"/>
<rect x="2542" y="3733" width="100" height="424.7" fill="#d9d9d9"/>
<rect x="2542" y="3733" width="5.5" height="424.7" fill="#1a1a1a"/>
<rect x="2636.5" y="3733" width="5.5" height="424.7" fill="#1a1a1a"/>
<rect x="2542" y="3733" width="100" height="5.5" fill="#2a2a2a"/>
<line x1="2592" y1="3687.8" x2="2592" y2="3782" stroke="#111" stroke-width="5.5" stroke-linecap="butt"/>
<line x1="2577" y1="3687.8" x2="2607" y2="3687.8" stroke="#222" stroke-width="5.5" stroke-linecap="butt"/>
<line x1="2577" y1="3782" x2="2607" y2="3782" stroke="#222" stroke-width="5.5" stroke-linecap="butt"/>
<text x="0" y="0" font-size="63" text-anchor="middle" fill="#111" stroke="#111" stroke-width="2.5" transform="translate(794.5 3213) scale(1 0.68)">****</text>
<text x="0" y="0" font-size="63" text-anchor="middle" fill="#111" stroke="#111" stroke-width="2.5" transform="translate(2289 3264) scale(1 0.68)">***</text>
<line x1="1642" y1="3117" x2="1774" y2="3117" stroke="#6a6a6a" stroke-width="7.5" stroke-linecap="butt"/>
<line x1="1646" y1="3113.2" x2="1646" y2="3147" stroke="#6a6a6a" stroke-width="8" stroke-linecap="butt"/>
<line x1="1906" y1="3117" x2="2044" y2="3117" stroke="#6a6a6a" stroke-width="7.5" stroke-linecap="butt"/>
<line x1="2040" y1="3113.2" x2="2040" y2="3147" stroke="#6a6a6a" stroke-width="8" stroke-linecap="butt"/>
<text x="1844" y="3141" font-size="64" text-anchor="middle" font-weight="normal" fill="#444">UT</text>
<line x1="2234" y1="3117" x2="2324" y2="3117" stroke="#6a6a6a" stroke-width="7.5" stroke-linecap="butt"/>
<line x1="2238" y1="3113.2" x2="2238" y2="3147" stroke="#6a6a6a" stroke-width="8" stroke-linecap="butt"/>
<line x1="2534" y1="3117" x2="2637" y2="3117" stroke="#6a6a6a" stroke-width="7.5" stroke-linecap="butt"/>
<line x1="2633" y1="3113.2" x2="2633" y2="3147" stroke="#6a6a6a" stroke-width="8" stroke-linecap="butt"/>
<text x="2429" y="3141" font-size="64" text-anchor="middle" font-weight="normal" fill="#444">iPolyP</text>
<text x="183" y="3677" font-size="63" text-anchor="middle" font-weight="normal" fill="#111" transform="rotate(-90 183 3677)">Caco-2 proliferation (A.U.)</text>
<text x="525" y="4220" font-size="63" text-anchor="end" font-weight="normal" fill="#222" transform="rotate(-33 525 4220)">UT</text>
<text x="824" y="4220" font-size="63" text-anchor="end" font-weight="normal" fill="#222" transform="rotate(-33 824 4220)">iPolyP</text>
<text x="1123" y="4220" font-size="63" text-anchor="end" font-weight="normal" fill="#222" transform="rotate(-33 1123 4220)">TRPM8 inh.</text>
<text x="1423" y="4220" font-size="63" text-anchor="end" font-weight="normal" fill="#222" transform="rotate(-33 1423 4220)">iPolyP + TRPM8 inh.</text>
<text x="1723" y="4220" font-size="63" text-anchor="end" font-weight="normal" fill="#222" transform="rotate(-33 1723 4220)">siCTRL</text>
<text x="2028" y="4220" font-size="63" text-anchor="end" font-weight="normal" fill="#222" transform="rotate(-33 2028 4220)">siTRPM8</text>
<text x="2328" y="4220" font-size="63" text-anchor="end" font-weight="normal" fill="#222" transform="rotate(-33 2328 4220)">siCTRL</text>
<text x="2627" y="4220" font-size="63" text-anchor="end" font-weight="normal" fill="#222" transform="rotate(-33 2627 4220)">siTRPM8</text>
</g>
</svg>
</body></html>
